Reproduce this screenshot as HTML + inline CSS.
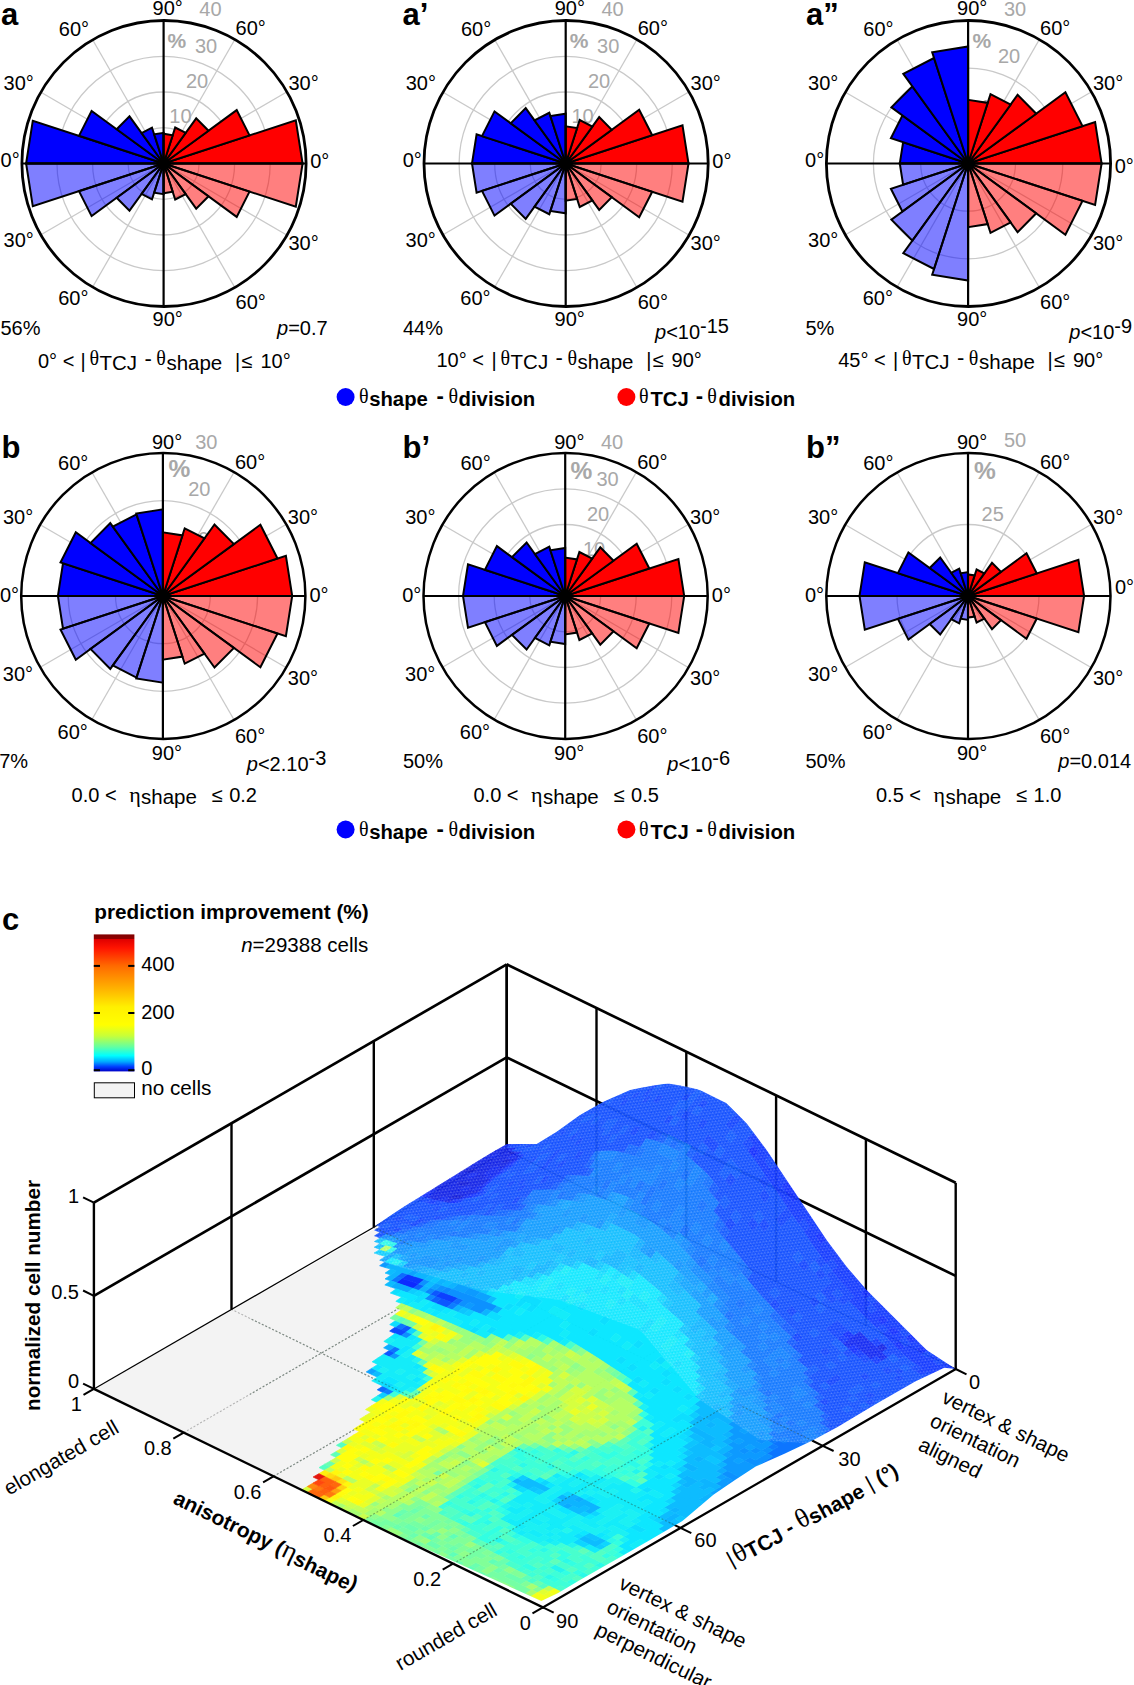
<!DOCTYPE html>
<html><head><meta charset="utf-8"><title>figure</title>
<style>
html,body{margin:0;padding:0;background:#fff;}
svg{display:block;font-family:"Liberation Sans", sans-serif;}
</style></head><body>
<svg width="1134" height="1685" viewBox="0 0 1134 1685">
<rect width="1134" height="1685" fill="#fff"/>
<g transform="translate(163.6 163.5)">
<ellipse rx="35.5" ry="35.8" fill="none" stroke="#c9c9c9" stroke-width="1.3"/>
<ellipse rx="71.0" ry="71.5" fill="none" stroke="#c9c9c9" stroke-width="1.3"/>
<ellipse rx="106.6" ry="107.2" fill="none" stroke="#c9c9c9" stroke-width="1.3"/>
<line x1="0" y1="0" x2="123.1" y2="-71.5" stroke="#c9c9c9" stroke-width="1.3"/>
<line x1="0" y1="0" x2="71.1" y2="-123.8" stroke="#c9c9c9" stroke-width="1.3"/>
<line x1="0" y1="0" x2="-71.0" y2="-123.8" stroke="#c9c9c9" stroke-width="1.3"/>
<line x1="0" y1="0" x2="-123.1" y2="-71.5" stroke="#c9c9c9" stroke-width="1.3"/>
<line x1="0" y1="0" x2="-123.1" y2="71.5" stroke="#c9c9c9" stroke-width="1.3"/>
<line x1="0" y1="0" x2="-71.1" y2="123.8" stroke="#c9c9c9" stroke-width="1.3"/>
<line x1="0" y1="0" x2="71.1" y2="123.8" stroke="#c9c9c9" stroke-width="1.3"/>
<line x1="0" y1="0" x2="123.1" y2="71.5" stroke="#c9c9c9" stroke-width="1.3"/>
<text x="35.7" y="-147.7" font-size="20" fill="#a8a8a8">40</text>
<text x="4.0" y="-116.0" font-size="21" font-weight="bold" fill="#a8a8a8">%</text>
<text x="31.4" y="-110.7" font-size="20" fill="#a8a8a8">30</text>
<text x="22.3" y="-75.4" font-size="20" fill="#a8a8a8">20</text>
<text x="5.7" y="-40.1" font-size="20" fill="#a8a8a8">10</text>
<polygon points="0,0 -137.5,-0.0 -130.8,-42.8" fill="#0000ff" stroke="#000" stroke-width="2" stroke-linejoin="miter"/>
<polygon points="0,0 -84.6,-27.7 -72.0,-52.6" fill="#0000ff" stroke="#000" stroke-width="2" stroke-linejoin="miter"/>
<polygon points="0,0 -46.9,-34.3 -34.1,-47.2" fill="#0000ff" stroke="#000" stroke-width="2" stroke-linejoin="miter"/>
<polygon points="0,0 -22.0,-30.5 -11.6,-35.9" fill="#0000ff" stroke="#000" stroke-width="2" stroke-linejoin="miter"/>
<polygon points="0,0 -9.4,-29.2 -0.0,-30.7" fill="#0000ff" stroke="#000" stroke-width="2" stroke-linejoin="miter"/>
<polygon points="0,0 -137.5,0.0 -130.8,42.8" fill="#0000ff" fill-opacity="0.5" stroke="#000" stroke-width="2" stroke-linejoin="miter"/>
<polygon points="0,0 -84.6,27.7 -72.0,52.6" fill="#0000ff" fill-opacity="0.5" stroke="#000" stroke-width="2" stroke-linejoin="miter"/>
<polygon points="0,0 -46.9,34.3 -34.1,47.2" fill="#0000ff" fill-opacity="0.5" stroke="#000" stroke-width="2" stroke-linejoin="miter"/>
<polygon points="0,0 -22.0,30.5 -11.6,35.9" fill="#0000ff" fill-opacity="0.5" stroke="#000" stroke-width="2" stroke-linejoin="miter"/>
<polygon points="0,0 -9.4,29.2 -0.0,30.7" fill="#0000ff" fill-opacity="0.5" stroke="#000" stroke-width="2" stroke-linejoin="miter"/>
<polygon points="0,0 139.0,-0.0 132.2,-43.2" fill="#ff0000" stroke="#000" stroke-width="2" stroke-linejoin="miter"/>
<polygon points="0,0 85.9,-28.1 73.1,-53.4" fill="#ff0000" stroke="#000" stroke-width="2" stroke-linejoin="miter"/>
<polygon points="0,0 44.9,-32.8 32.6,-45.2" fill="#ff0000" stroke="#000" stroke-width="2" stroke-linejoin="miter"/>
<polygon points="0,0 22.1,-30.6 11.6,-36.0" fill="#ff0000" stroke="#000" stroke-width="2" stroke-linejoin="miter"/>
<polygon points="0,0 9.1,-28.2 0.0,-29.7" fill="#ff0000" stroke="#000" stroke-width="2" stroke-linejoin="miter"/>
<polygon points="0,0 139.0,0.0 132.2,43.2" fill="#ff0000" fill-opacity="0.5" stroke="#000" stroke-width="2" stroke-linejoin="miter"/>
<polygon points="0,0 85.9,28.1 73.1,53.4" fill="#ff0000" fill-opacity="0.5" stroke="#000" stroke-width="2" stroke-linejoin="miter"/>
<polygon points="0,0 44.9,32.8 32.6,45.2" fill="#ff0000" fill-opacity="0.5" stroke="#000" stroke-width="2" stroke-linejoin="miter"/>
<polygon points="0,0 22.1,30.6 11.6,36.0" fill="#ff0000" fill-opacity="0.5" stroke="#000" stroke-width="2" stroke-linejoin="miter"/>
<polygon points="0,0 9.1,28.2 0.0,29.7" fill="#ff0000" fill-opacity="0.5" stroke="#000" stroke-width="2" stroke-linejoin="miter"/>
<line x1="-142.1" y1="0" x2="142.1" y2="0" stroke="#000" stroke-width="2.2"/>
<line x1="0" y1="-143.0" x2="0" y2="143.0" stroke="#000" stroke-width="2.2"/>
<circle r="4.2" fill="#000"/>
<ellipse cx="0.4" rx="142.1" ry="143.0" fill="none" stroke="#000" stroke-width="2.8"/>
<text x="-11.0" y="-148.7" font-size="20">90°</text>
<text x="-104.8" y="-127.6" font-size="20">60°</text>
<text x="-160.0" y="-73.4" font-size="20">30°</text>
<text x="-163.0" y="3.9" font-size="20">0°</text>
<text x="-160.1" y="83.3" font-size="20">30°</text>
<text x="-105.4" y="141.5" font-size="20">60°</text>
<text x="-11.1" y="162.3" font-size="20">90°</text>
<text x="72.0" y="145.0" font-size="20">60°</text>
<text x="124.9" y="86.8" font-size="20">30°</text>
<text x="146.6" y="4.1" font-size="20">0°</text>
<text x="124.9" y="-73.7" font-size="20">30°</text>
<text x="72.0" y="-128.3" font-size="20">60°</text>
</g>
<g transform="translate(565.7 163.5)">
<ellipse rx="35.5" ry="35.8" fill="none" stroke="#c9c9c9" stroke-width="1.3"/>
<ellipse rx="71.0" ry="71.5" fill="none" stroke="#c9c9c9" stroke-width="1.3"/>
<ellipse rx="106.6" ry="107.2" fill="none" stroke="#c9c9c9" stroke-width="1.3"/>
<line x1="0" y1="0" x2="123.1" y2="-71.5" stroke="#c9c9c9" stroke-width="1.3"/>
<line x1="0" y1="0" x2="71.1" y2="-123.8" stroke="#c9c9c9" stroke-width="1.3"/>
<line x1="0" y1="0" x2="-71.0" y2="-123.8" stroke="#c9c9c9" stroke-width="1.3"/>
<line x1="0" y1="0" x2="-123.1" y2="-71.5" stroke="#c9c9c9" stroke-width="1.3"/>
<line x1="0" y1="0" x2="-123.1" y2="71.5" stroke="#c9c9c9" stroke-width="1.3"/>
<line x1="0" y1="0" x2="-71.1" y2="123.8" stroke="#c9c9c9" stroke-width="1.3"/>
<line x1="0" y1="0" x2="71.1" y2="123.8" stroke="#c9c9c9" stroke-width="1.3"/>
<line x1="0" y1="0" x2="123.1" y2="71.5" stroke="#c9c9c9" stroke-width="1.3"/>
<text x="35.7" y="-147.7" font-size="20" fill="#a8a8a8">40</text>
<text x="4.0" y="-116.0" font-size="21" font-weight="bold" fill="#a8a8a8">%</text>
<text x="31.4" y="-110.7" font-size="20" fill="#a8a8a8">30</text>
<text x="22.3" y="-75.4" font-size="20" fill="#a8a8a8">20</text>
<text x="5.7" y="-40.1" font-size="20" fill="#a8a8a8">10</text>
<polygon points="0,0 -93.7,-0.0 -89.1,-29.1" fill="#0000ff" stroke="#000" stroke-width="2" stroke-linejoin="miter"/>
<polygon points="0,0 -83.7,-27.4 -71.2,-52.1" fill="#0000ff" stroke="#000" stroke-width="2" stroke-linejoin="miter"/>
<polygon points="0,0 -55.0,-40.2 -40.0,-55.4" fill="#0000ff" stroke="#000" stroke-width="2" stroke-linejoin="miter"/>
<polygon points="0,0 -31.2,-43.1 -16.4,-50.7" fill="#0000ff" stroke="#000" stroke-width="2" stroke-linejoin="miter"/>
<polygon points="0,0 -15.3,-47.4 -0.0,-49.8" fill="#0000ff" stroke="#000" stroke-width="2" stroke-linejoin="miter"/>
<polygon points="0,0 -93.7,0.0 -89.1,29.1" fill="#0000ff" fill-opacity="0.5" stroke="#000" stroke-width="2" stroke-linejoin="miter"/>
<polygon points="0,0 -83.7,27.4 -71.2,52.1" fill="#0000ff" fill-opacity="0.5" stroke="#000" stroke-width="2" stroke-linejoin="miter"/>
<polygon points="0,0 -55.0,40.2 -40.0,55.4" fill="#0000ff" fill-opacity="0.5" stroke="#000" stroke-width="2" stroke-linejoin="miter"/>
<polygon points="0,0 -31.2,43.1 -16.4,50.7" fill="#0000ff" fill-opacity="0.5" stroke="#000" stroke-width="2" stroke-linejoin="miter"/>
<polygon points="0,0 -15.3,47.4 -0.0,49.8" fill="#0000ff" fill-opacity="0.5" stroke="#000" stroke-width="2" stroke-linejoin="miter"/>
<polygon points="0,0 122.8,-0.0 116.8,-38.2" fill="#ff0000" stroke="#000" stroke-width="2" stroke-linejoin="miter"/>
<polygon points="0,0 86.5,-28.3 73.5,-53.8" fill="#ff0000" stroke="#000" stroke-width="2" stroke-linejoin="miter"/>
<polygon points="0,0 46.1,-33.7 33.5,-46.4" fill="#ff0000" stroke="#000" stroke-width="2" stroke-linejoin="miter"/>
<polygon points="0,0 26.7,-37.0 14.0,-43.5" fill="#ff0000" stroke="#000" stroke-width="2" stroke-linejoin="miter"/>
<polygon points="0,0 11.4,-35.4 0.0,-37.2" fill="#ff0000" stroke="#000" stroke-width="2" stroke-linejoin="miter"/>
<polygon points="0,0 122.8,0.0 116.8,38.2" fill="#ff0000" fill-opacity="0.5" stroke="#000" stroke-width="2" stroke-linejoin="miter"/>
<polygon points="0,0 86.5,28.3 73.5,53.8" fill="#ff0000" fill-opacity="0.5" stroke="#000" stroke-width="2" stroke-linejoin="miter"/>
<polygon points="0,0 46.1,33.7 33.5,46.4" fill="#ff0000" fill-opacity="0.5" stroke="#000" stroke-width="2" stroke-linejoin="miter"/>
<polygon points="0,0 26.7,37.0 14.0,43.5" fill="#ff0000" fill-opacity="0.5" stroke="#000" stroke-width="2" stroke-linejoin="miter"/>
<polygon points="0,0 11.4,35.4 0.0,37.2" fill="#ff0000" fill-opacity="0.5" stroke="#000" stroke-width="2" stroke-linejoin="miter"/>
<line x1="-142.1" y1="0" x2="142.1" y2="0" stroke="#000" stroke-width="2.2"/>
<line x1="0" y1="-143.0" x2="0" y2="143.0" stroke="#000" stroke-width="2.2"/>
<circle r="4.2" fill="#000"/>
<ellipse cx="0.4" rx="142.1" ry="143.0" fill="none" stroke="#000" stroke-width="2.8"/>
<text x="-11.0" y="-148.7" font-size="20">90°</text>
<text x="-104.8" y="-127.6" font-size="20">60°</text>
<text x="-160.0" y="-73.4" font-size="20">30°</text>
<text x="-163.0" y="3.9" font-size="20">0°</text>
<text x="-160.1" y="83.3" font-size="20">30°</text>
<text x="-105.4" y="141.5" font-size="20">60°</text>
<text x="-11.1" y="162.3" font-size="20">90°</text>
<text x="72.0" y="145.0" font-size="20">60°</text>
<text x="124.9" y="86.8" font-size="20">30°</text>
<text x="146.6" y="4.1" font-size="20">0°</text>
<text x="124.9" y="-73.7" font-size="20">30°</text>
<text x="72.0" y="-128.3" font-size="20">60°</text>
</g>
<g transform="translate(968.1 163.5)">
<ellipse rx="47.4" ry="47.7" fill="none" stroke="#c9c9c9" stroke-width="1.3"/>
<ellipse rx="94.7" ry="95.3" fill="none" stroke="#c9c9c9" stroke-width="1.3"/>
<line x1="0" y1="0" x2="123.1" y2="-71.5" stroke="#c9c9c9" stroke-width="1.3"/>
<line x1="0" y1="0" x2="71.1" y2="-123.8" stroke="#c9c9c9" stroke-width="1.3"/>
<line x1="0" y1="0" x2="-71.0" y2="-123.8" stroke="#c9c9c9" stroke-width="1.3"/>
<line x1="0" y1="0" x2="-123.1" y2="-71.5" stroke="#c9c9c9" stroke-width="1.3"/>
<line x1="0" y1="0" x2="-123.1" y2="71.5" stroke="#c9c9c9" stroke-width="1.3"/>
<line x1="0" y1="0" x2="-71.1" y2="123.8" stroke="#c9c9c9" stroke-width="1.3"/>
<line x1="0" y1="0" x2="71.1" y2="123.8" stroke="#c9c9c9" stroke-width="1.3"/>
<line x1="0" y1="0" x2="123.1" y2="71.5" stroke="#c9c9c9" stroke-width="1.3"/>
<text x="35.8" y="-147.8" font-size="20" fill="#a8a8a8">30</text>
<text x="4.5" y="-115.8" font-size="21" font-weight="bold" fill="#a8a8a8">%</text>
<text x="29.9" y="-100.9" font-size="20" fill="#a8a8a8">20</text>
<text x="12.0" y="-50.0" font-size="20" fill="#a8a8a8">10</text>
<polygon points="0,0 -68.3,-0.0 -65.0,-21.2" fill="#0000ff" stroke="#000" stroke-width="2" stroke-linejoin="miter"/>
<polygon points="0,0 -77.2,-25.3 -65.7,-48.0" fill="#0000ff" stroke="#000" stroke-width="2" stroke-linejoin="miter"/>
<polygon points="0,0 -76.7,-56.1 -55.7,-77.2" fill="#0000ff" stroke="#000" stroke-width="2" stroke-linejoin="miter"/>
<polygon points="0,0 -64.8,-89.7 -34.1,-105.5" fill="#0000ff" stroke="#000" stroke-width="2" stroke-linejoin="miter"/>
<polygon points="0,0 -35.9,-111.3 -0.0,-117.0" fill="#0000ff" stroke="#000" stroke-width="2" stroke-linejoin="miter"/>
<polygon points="0,0 -68.3,0.0 -65.0,21.2" fill="#0000ff" fill-opacity="0.5" stroke="#000" stroke-width="2" stroke-linejoin="miter"/>
<polygon points="0,0 -77.2,25.3 -65.7,48.0" fill="#0000ff" fill-opacity="0.5" stroke="#000" stroke-width="2" stroke-linejoin="miter"/>
<polygon points="0,0 -76.7,56.1 -55.7,77.2" fill="#0000ff" fill-opacity="0.5" stroke="#000" stroke-width="2" stroke-linejoin="miter"/>
<polygon points="0,0 -64.8,89.7 -34.1,105.5" fill="#0000ff" fill-opacity="0.5" stroke="#000" stroke-width="2" stroke-linejoin="miter"/>
<polygon points="0,0 -35.9,111.3 -0.0,117.0" fill="#0000ff" fill-opacity="0.5" stroke="#000" stroke-width="2" stroke-linejoin="miter"/>
<polygon points="0,0 133.5,-0.0 127.0,-41.5" fill="#ff0000" stroke="#000" stroke-width="2" stroke-linejoin="miter"/>
<polygon points="0,0 114.4,-37.4 97.3,-71.2" fill="#ff0000" stroke="#000" stroke-width="2" stroke-linejoin="miter"/>
<polygon points="0,0 68.1,-49.8 49.5,-68.6" fill="#ff0000" stroke="#000" stroke-width="2" stroke-linejoin="miter"/>
<polygon points="0,0 42.6,-59.0 22.4,-69.4" fill="#ff0000" stroke="#000" stroke-width="2" stroke-linejoin="miter"/>
<polygon points="0,0 19.6,-60.6 0.0,-63.7" fill="#ff0000" stroke="#000" stroke-width="2" stroke-linejoin="miter"/>
<polygon points="0,0 133.5,0.0 127.0,41.5" fill="#ff0000" fill-opacity="0.5" stroke="#000" stroke-width="2" stroke-linejoin="miter"/>
<polygon points="0,0 114.4,37.4 97.3,71.2" fill="#ff0000" fill-opacity="0.5" stroke="#000" stroke-width="2" stroke-linejoin="miter"/>
<polygon points="0,0 68.1,49.8 49.5,68.6" fill="#ff0000" fill-opacity="0.5" stroke="#000" stroke-width="2" stroke-linejoin="miter"/>
<polygon points="0,0 42.6,59.0 22.4,69.4" fill="#ff0000" fill-opacity="0.5" stroke="#000" stroke-width="2" stroke-linejoin="miter"/>
<polygon points="0,0 19.6,60.6 0.0,63.7" fill="#ff0000" fill-opacity="0.5" stroke="#000" stroke-width="2" stroke-linejoin="miter"/>
<line x1="-142.1" y1="0" x2="142.1" y2="0" stroke="#000" stroke-width="2.2"/>
<line x1="0" y1="-143.0" x2="0" y2="143.0" stroke="#000" stroke-width="2.2"/>
<circle r="4.2" fill="#000"/>
<ellipse cx="0.4" rx="142.1" ry="143.0" fill="none" stroke="#000" stroke-width="2.8"/>
<text x="-11.0" y="-148.7" font-size="20">90°</text>
<text x="-104.8" y="-127.6" font-size="20">60°</text>
<text x="-160.0" y="-73.4" font-size="20">30°</text>
<text x="-163.0" y="3.9" font-size="20">0°</text>
<text x="-160.1" y="83.3" font-size="20">30°</text>
<text x="-105.4" y="141.5" font-size="20">60°</text>
<text x="-11.1" y="162.3" font-size="20">90°</text>
<text x="72.0" y="145.0" font-size="20">60°</text>
<text x="124.9" y="86.8" font-size="20">30°</text>
<text x="146.6" y="9.1" font-size="20">0°</text>
<text x="124.9" y="-73.7" font-size="20">30°</text>
<text x="72.0" y="-128.3" font-size="20">60°</text>
</g>
<g transform="translate(162.9 596.0)">
<ellipse rx="47.4" ry="47.7" fill="none" stroke="#c9c9c9" stroke-width="1.3"/>
<ellipse rx="94.7" ry="95.3" fill="none" stroke="#c9c9c9" stroke-width="1.3"/>
<line x1="0" y1="0" x2="123.1" y2="-71.5" stroke="#c9c9c9" stroke-width="1.3"/>
<line x1="0" y1="0" x2="71.1" y2="-123.8" stroke="#c9c9c9" stroke-width="1.3"/>
<line x1="0" y1="0" x2="-71.0" y2="-123.8" stroke="#c9c9c9" stroke-width="1.3"/>
<line x1="0" y1="0" x2="-123.1" y2="-71.5" stroke="#c9c9c9" stroke-width="1.3"/>
<line x1="0" y1="0" x2="-123.1" y2="71.5" stroke="#c9c9c9" stroke-width="1.3"/>
<line x1="0" y1="0" x2="-71.1" y2="123.8" stroke="#c9c9c9" stroke-width="1.3"/>
<line x1="0" y1="0" x2="71.1" y2="123.8" stroke="#c9c9c9" stroke-width="1.3"/>
<line x1="0" y1="0" x2="123.1" y2="71.5" stroke="#c9c9c9" stroke-width="1.3"/>
<text x="32.3" y="-147.5" font-size="20" fill="#a8a8a8">30</text>
<text x="5.5" y="-119.0" font-size="24.5" font-weight="bold" fill="#a8a8a8">%</text>
<text x="25.3" y="-99.9" font-size="20" fill="#a8a8a8">20</text>
<text x="24.0" y="-50.5" font-size="20" fill="#a8a8a8">10</text>
<polygon points="0,0 -105.0,-0.0 -99.9,-32.7" fill="#0000ff" stroke="#000" stroke-width="2" stroke-linejoin="miter"/>
<polygon points="0,0 -102.4,-33.5 -87.1,-63.7" fill="#0000ff" stroke="#000" stroke-width="2" stroke-linejoin="miter"/>
<polygon points="0,0 -72.4,-52.9 -52.6,-72.9" fill="#0000ff" stroke="#000" stroke-width="2" stroke-linejoin="miter"/>
<polygon points="0,0 -50.1,-69.4 -26.4,-81.6" fill="#0000ff" stroke="#000" stroke-width="2" stroke-linejoin="miter"/>
<polygon points="0,0 -26.6,-82.5 -0.0,-86.7" fill="#0000ff" stroke="#000" stroke-width="2" stroke-linejoin="miter"/>
<polygon points="0,0 -105.0,0.0 -99.9,32.7" fill="#0000ff" fill-opacity="0.5" stroke="#000" stroke-width="2" stroke-linejoin="miter"/>
<polygon points="0,0 -102.4,33.5 -87.1,63.7" fill="#0000ff" fill-opacity="0.5" stroke="#000" stroke-width="2" stroke-linejoin="miter"/>
<polygon points="0,0 -72.4,52.9 -52.6,72.9" fill="#0000ff" fill-opacity="0.5" stroke="#000" stroke-width="2" stroke-linejoin="miter"/>
<polygon points="0,0 -50.1,69.4 -26.4,81.6" fill="#0000ff" fill-opacity="0.5" stroke="#000" stroke-width="2" stroke-linejoin="miter"/>
<polygon points="0,0 -26.6,82.5 -0.0,86.7" fill="#0000ff" fill-opacity="0.5" stroke="#000" stroke-width="2" stroke-linejoin="miter"/>
<polygon points="0,0 129.3,-0.0 123.0,-40.2" fill="#ff0000" stroke="#000" stroke-width="2" stroke-linejoin="miter"/>
<polygon points="0,0 114.6,-37.5 97.5,-71.3" fill="#ff0000" stroke="#000" stroke-width="2" stroke-linejoin="miter"/>
<polygon points="0,0 71.0,-51.9 51.6,-71.5" fill="#ff0000" stroke="#000" stroke-width="2" stroke-linejoin="miter"/>
<polygon points="0,0 41.6,-57.6 21.8,-67.7" fill="#ff0000" stroke="#000" stroke-width="2" stroke-linejoin="miter"/>
<polygon points="0,0 19.6,-60.6 0.0,-63.7" fill="#ff0000" stroke="#000" stroke-width="2" stroke-linejoin="miter"/>
<polygon points="0,0 129.3,0.0 123.0,40.2" fill="#ff0000" fill-opacity="0.5" stroke="#000" stroke-width="2" stroke-linejoin="miter"/>
<polygon points="0,0 114.6,37.5 97.5,71.3" fill="#ff0000" fill-opacity="0.5" stroke="#000" stroke-width="2" stroke-linejoin="miter"/>
<polygon points="0,0 71.0,51.9 51.6,71.5" fill="#ff0000" fill-opacity="0.5" stroke="#000" stroke-width="2" stroke-linejoin="miter"/>
<polygon points="0,0 41.6,57.6 21.8,67.7" fill="#ff0000" fill-opacity="0.5" stroke="#000" stroke-width="2" stroke-linejoin="miter"/>
<polygon points="0,0 19.6,60.6 0.0,63.7" fill="#ff0000" fill-opacity="0.5" stroke="#000" stroke-width="2" stroke-linejoin="miter"/>
<line x1="-142.1" y1="0" x2="142.1" y2="0" stroke="#000" stroke-width="2.2"/>
<line x1="0" y1="-143.0" x2="0" y2="143.0" stroke="#000" stroke-width="2.2"/>
<circle r="4.2" fill="#000"/>
<ellipse cx="0.4" rx="142.1" ry="143.0" fill="none" stroke="#000" stroke-width="2.5"/>
<text x="-11.0" y="-147.0" font-size="20">90°</text>
<text x="-104.8" y="-125.9" font-size="20">60°</text>
<text x="-160.0" y="-71.7" font-size="20">30°</text>
<text x="-163.0" y="5.6" font-size="20">0°</text>
<text x="-160.1" y="85.0" font-size="20">30°</text>
<text x="-105.4" y="143.2" font-size="20">60°</text>
<text x="-11.1" y="164.0" font-size="20">90°</text>
<text x="72.0" y="146.7" font-size="20">60°</text>
<text x="124.9" y="88.5" font-size="20">30°</text>
<text x="146.6" y="5.8" font-size="20">0°</text>
<text x="124.9" y="-72.0" font-size="20">30°</text>
<text x="72.0" y="-126.6" font-size="20">60°</text>
</g>
<g transform="translate(565.2 596.0)">
<ellipse rx="35.5" ry="35.8" fill="none" stroke="#c9c9c9" stroke-width="1.3"/>
<ellipse rx="71.0" ry="71.5" fill="none" stroke="#c9c9c9" stroke-width="1.3"/>
<ellipse rx="106.6" ry="107.2" fill="none" stroke="#c9c9c9" stroke-width="1.3"/>
<line x1="0" y1="0" x2="123.1" y2="-71.5" stroke="#c9c9c9" stroke-width="1.3"/>
<line x1="0" y1="0" x2="71.1" y2="-123.8" stroke="#c9c9c9" stroke-width="1.3"/>
<line x1="0" y1="0" x2="-71.0" y2="-123.8" stroke="#c9c9c9" stroke-width="1.3"/>
<line x1="0" y1="0" x2="-123.1" y2="-71.5" stroke="#c9c9c9" stroke-width="1.3"/>
<line x1="0" y1="0" x2="-123.1" y2="71.5" stroke="#c9c9c9" stroke-width="1.3"/>
<line x1="0" y1="0" x2="-71.1" y2="123.8" stroke="#c9c9c9" stroke-width="1.3"/>
<line x1="0" y1="0" x2="71.1" y2="123.8" stroke="#c9c9c9" stroke-width="1.3"/>
<line x1="0" y1="0" x2="123.1" y2="71.5" stroke="#c9c9c9" stroke-width="1.3"/>
<text x="35.8" y="-146.8" font-size="20" fill="#a8a8a8">40</text>
<text x="5.4" y="-117.0" font-size="24.5" font-weight="bold" fill="#a8a8a8">%</text>
<text x="31.3" y="-110.4" font-size="20" fill="#a8a8a8">30</text>
<text x="21.7" y="-75.2" font-size="20" fill="#a8a8a8">20</text>
<text x="17.8" y="-39.9" font-size="20" fill="#a8a8a8">10</text>
<polygon points="0,0 -102.2,-0.0 -97.2,-31.8" fill="#0000ff" stroke="#000" stroke-width="2" stroke-linejoin="miter"/>
<polygon points="0,0 -80.3,-26.2 -68.3,-49.9" fill="#0000ff" stroke="#000" stroke-width="2" stroke-linejoin="miter"/>
<polygon points="0,0 -53.2,-38.9 -38.6,-53.5" fill="#0000ff" stroke="#000" stroke-width="2" stroke-linejoin="miter"/>
<polygon points="0,0 -30.3,-41.9 -15.9,-49.3" fill="#0000ff" stroke="#000" stroke-width="2" stroke-linejoin="miter"/>
<polygon points="0,0 -14.8,-45.7 -0.0,-48.1" fill="#0000ff" stroke="#000" stroke-width="2" stroke-linejoin="miter"/>
<polygon points="0,0 -102.2,0.0 -97.2,31.8" fill="#0000ff" fill-opacity="0.5" stroke="#000" stroke-width="2" stroke-linejoin="miter"/>
<polygon points="0,0 -80.3,26.2 -68.3,49.9" fill="#0000ff" fill-opacity="0.5" stroke="#000" stroke-width="2" stroke-linejoin="miter"/>
<polygon points="0,0 -53.2,38.9 -38.6,53.5" fill="#0000ff" fill-opacity="0.5" stroke="#000" stroke-width="2" stroke-linejoin="miter"/>
<polygon points="0,0 -30.3,41.9 -15.9,49.3" fill="#0000ff" fill-opacity="0.5" stroke="#000" stroke-width="2" stroke-linejoin="miter"/>
<polygon points="0,0 -14.8,45.7 -0.0,48.1" fill="#0000ff" fill-opacity="0.5" stroke="#000" stroke-width="2" stroke-linejoin="miter"/>
<polygon points="0,0 119.0,-0.0 113.2,-37.0" fill="#ff0000" stroke="#000" stroke-width="2" stroke-linejoin="miter"/>
<polygon points="0,0 84.1,-27.5 71.5,-52.3" fill="#ff0000" stroke="#000" stroke-width="2" stroke-linejoin="miter"/>
<polygon points="0,0 48.3,-35.3 35.1,-48.6" fill="#ff0000" stroke="#000" stroke-width="2" stroke-linejoin="miter"/>
<polygon points="0,0 27.0,-37.5 14.2,-44.0" fill="#ff0000" stroke="#000" stroke-width="2" stroke-linejoin="miter"/>
<polygon points="0,0 11.8,-36.6 0.0,-38.4" fill="#ff0000" stroke="#000" stroke-width="2" stroke-linejoin="miter"/>
<polygon points="0,0 119.0,0.0 113.2,37.0" fill="#ff0000" fill-opacity="0.5" stroke="#000" stroke-width="2" stroke-linejoin="miter"/>
<polygon points="0,0 84.1,27.5 71.5,52.3" fill="#ff0000" fill-opacity="0.5" stroke="#000" stroke-width="2" stroke-linejoin="miter"/>
<polygon points="0,0 48.3,35.3 35.1,48.6" fill="#ff0000" fill-opacity="0.5" stroke="#000" stroke-width="2" stroke-linejoin="miter"/>
<polygon points="0,0 27.0,37.5 14.2,44.0" fill="#ff0000" fill-opacity="0.5" stroke="#000" stroke-width="2" stroke-linejoin="miter"/>
<polygon points="0,0 11.8,36.6 0.0,38.4" fill="#ff0000" fill-opacity="0.5" stroke="#000" stroke-width="2" stroke-linejoin="miter"/>
<line x1="-142.1" y1="0" x2="142.1" y2="0" stroke="#000" stroke-width="2.2"/>
<line x1="0" y1="-143.0" x2="0" y2="143.0" stroke="#000" stroke-width="2.2"/>
<circle r="4.2" fill="#000"/>
<ellipse cx="0.4" rx="142.1" ry="143.0" fill="none" stroke="#000" stroke-width="2.5"/>
<text x="-11.0" y="-147.0" font-size="20">90°</text>
<text x="-104.8" y="-125.9" font-size="20">60°</text>
<text x="-160.0" y="-71.7" font-size="20">30°</text>
<text x="-163.0" y="5.6" font-size="20">0°</text>
<text x="-160.1" y="85.0" font-size="20">30°</text>
<text x="-105.4" y="143.2" font-size="20">60°</text>
<text x="-11.1" y="164.0" font-size="20">90°</text>
<text x="72.0" y="146.7" font-size="20">60°</text>
<text x="124.9" y="88.5" font-size="20">30°</text>
<text x="146.6" y="5.8" font-size="20">0°</text>
<text x="124.9" y="-72.0" font-size="20">30°</text>
<text x="72.0" y="-126.6" font-size="20">60°</text>
</g>
<g transform="translate(968.0 596.0)">
<ellipse rx="71.0" ry="71.5" fill="none" stroke="#c9c9c9" stroke-width="1.3"/>
<line x1="0" y1="0" x2="123.1" y2="-71.5" stroke="#c9c9c9" stroke-width="1.3"/>
<line x1="0" y1="0" x2="71.1" y2="-123.8" stroke="#c9c9c9" stroke-width="1.3"/>
<line x1="0" y1="0" x2="-71.0" y2="-123.8" stroke="#c9c9c9" stroke-width="1.3"/>
<line x1="0" y1="0" x2="-123.1" y2="-71.5" stroke="#c9c9c9" stroke-width="1.3"/>
<line x1="0" y1="0" x2="-123.1" y2="71.5" stroke="#c9c9c9" stroke-width="1.3"/>
<line x1="0" y1="0" x2="-71.1" y2="123.8" stroke="#c9c9c9" stroke-width="1.3"/>
<line x1="0" y1="0" x2="71.1" y2="123.8" stroke="#c9c9c9" stroke-width="1.3"/>
<line x1="0" y1="0" x2="123.1" y2="71.5" stroke="#c9c9c9" stroke-width="1.3"/>
<text x="36.0" y="-148.7" font-size="20" fill="#a8a8a8">50</text>
<text x="6.0" y="-117.5" font-size="24.5" font-weight="bold" fill="#a8a8a8">%</text>
<text x="13.6" y="-75.1" font-size="20" fill="#a8a8a8">25</text>
<polygon points="0,0 -108.5,-0.0 -103.2,-33.7" fill="#0000ff" stroke="#000" stroke-width="2" stroke-linejoin="miter"/>
<polygon points="0,0 -70.1,-22.9 -59.6,-43.6" fill="#0000ff" stroke="#000" stroke-width="2" stroke-linejoin="miter"/>
<polygon points="0,0 -38.3,-28.0 -27.8,-38.5" fill="#0000ff" stroke="#000" stroke-width="2" stroke-linejoin="miter"/>
<polygon points="0,0 -16.8,-23.2 -8.8,-27.3" fill="#0000ff" stroke="#000" stroke-width="2" stroke-linejoin="miter"/>
<polygon points="0,0 -7.3,-22.7 -0.0,-23.9" fill="#0000ff" stroke="#000" stroke-width="2" stroke-linejoin="miter"/>
<polygon points="0,0 -108.5,0.0 -103.2,33.7" fill="#0000ff" fill-opacity="0.5" stroke="#000" stroke-width="2" stroke-linejoin="miter"/>
<polygon points="0,0 -70.1,22.9 -59.6,43.6" fill="#0000ff" fill-opacity="0.5" stroke="#000" stroke-width="2" stroke-linejoin="miter"/>
<polygon points="0,0 -38.3,28.0 -27.8,38.5" fill="#0000ff" fill-opacity="0.5" stroke="#000" stroke-width="2" stroke-linejoin="miter"/>
<polygon points="0,0 -16.8,23.2 -8.8,27.3" fill="#0000ff" fill-opacity="0.5" stroke="#000" stroke-width="2" stroke-linejoin="miter"/>
<polygon points="0,0 -7.3,22.7 -0.0,23.9" fill="#0000ff" fill-opacity="0.5" stroke="#000" stroke-width="2" stroke-linejoin="miter"/>
<polygon points="0,0 116.1,-0.0 110.4,-36.1" fill="#ff0000" stroke="#000" stroke-width="2" stroke-linejoin="miter"/>
<polygon points="0,0 68.8,-22.5 58.5,-42.8" fill="#ff0000" stroke="#000" stroke-width="2" stroke-linejoin="miter"/>
<polygon points="0,0 33.0,-24.1 24.0,-33.2" fill="#ff0000" stroke="#000" stroke-width="2" stroke-linejoin="miter"/>
<polygon points="0,0 16.3,-22.6 8.6,-26.5" fill="#ff0000" stroke="#000" stroke-width="2" stroke-linejoin="miter"/>
<polygon points="0,0 6.6,-20.6 0.0,-21.6" fill="#ff0000" stroke="#000" stroke-width="2" stroke-linejoin="miter"/>
<polygon points="0,0 116.1,0.0 110.4,36.1" fill="#ff0000" fill-opacity="0.5" stroke="#000" stroke-width="2" stroke-linejoin="miter"/>
<polygon points="0,0 68.8,22.5 58.5,42.8" fill="#ff0000" fill-opacity="0.5" stroke="#000" stroke-width="2" stroke-linejoin="miter"/>
<polygon points="0,0 33.0,24.1 24.0,33.2" fill="#ff0000" fill-opacity="0.5" stroke="#000" stroke-width="2" stroke-linejoin="miter"/>
<polygon points="0,0 16.3,22.6 8.6,26.5" fill="#ff0000" fill-opacity="0.5" stroke="#000" stroke-width="2" stroke-linejoin="miter"/>
<polygon points="0,0 6.6,20.6 0.0,21.6" fill="#ff0000" fill-opacity="0.5" stroke="#000" stroke-width="2" stroke-linejoin="miter"/>
<line x1="-142.1" y1="0" x2="142.1" y2="0" stroke="#000" stroke-width="2.2"/>
<line x1="0" y1="-143.0" x2="0" y2="143.0" stroke="#000" stroke-width="2.2"/>
<circle r="4.2" fill="#000"/>
<ellipse cx="0.4" rx="142.1" ry="143.0" fill="none" stroke="#000" stroke-width="2.5"/>
<text x="-11.0" y="-147.0" font-size="20">90°</text>
<text x="-104.8" y="-125.9" font-size="20">60°</text>
<text x="-160.0" y="-71.7" font-size="20">30°</text>
<text x="-163.0" y="5.6" font-size="20">0°</text>
<text x="-160.1" y="85.0" font-size="20">30°</text>
<text x="-105.4" y="143.2" font-size="20">60°</text>
<text x="-11.1" y="164.0" font-size="20">90°</text>
<text x="72.0" y="146.7" font-size="20">60°</text>
<text x="124.9" y="88.5" font-size="20">30°</text>
<text x="147.0" y="-1.9" font-size="20">0°</text>
<text x="124.9" y="-72.0" font-size="20">30°</text>
<text x="72.0" y="-126.6" font-size="20">60°</text>
</g>
<text x="1.0" y="24.8" font-size="31" font-weight="bold">a</text>
<text x="402.5" y="25.0" font-size="31" font-weight="bold">a’</text>
<text x="806.0" y="24.8" font-size="31" font-weight="bold">a”</text>
<text x="1.5" y="458.0" font-size="31" font-weight="bold">b</text>
<text x="402.5" y="458.0" font-size="31" font-weight="bold">b’</text>
<text x="806.0" y="458.0" font-size="31" font-weight="bold">b”</text>
<text x="2.0" y="930.0" font-size="31" font-weight="bold">c</text>
<text x="0.5" y="334.8" font-size="20">56%</text>
<text x="402.9" y="334.8" font-size="20">44%</text>
<text x="805.5" y="334.8" font-size="20">5%</text>
<text x="-0.8" y="767.6" font-size="20">7%</text>
<text x="402.9" y="767.6" font-size="20">50%</text>
<text x="805.5" y="767.6" font-size="20">50%</text>
<text x="277.0" y="334.8" font-size="20"><tspan font-style="italic">p</tspan>=0.7</text>
<text x="655.0" y="339.0" font-size="20"><tspan font-style="italic">p</tspan>&lt;10<tspan dy="-6">-15</tspan></text>
<text x="1069.3" y="339.0" font-size="20"><tspan font-style="italic">p</tspan>&lt;10<tspan dy="-6">-9</tspan></text>
<text x="246.8" y="770.5" font-size="20"><tspan font-style="italic">p</tspan>&lt;2.10<tspan dy="-6">-3</tspan></text>
<text x="667.3" y="770.5" font-size="20"><tspan font-style="italic">p</tspan>&lt;10<tspan dy="-6">-6</tspan></text>
<text x="1058.3" y="767.6" font-size="20"><tspan font-style="italic">p</tspan>=0.014</text>
<text x="38.0" y="367.5" font-size="20">0° &lt;</text>
<text x="80.4" y="367.5" font-size="20">|</text>
<text x="89.4" y="365.2" font-size="20" font-family='"Liberation Serif", serif'>θ</text>
<text x="99.4" y="369.7" font-size="20.5">TCJ</text>
<text x="144.4" y="365.7" font-size="22">-</text>
<text x="156.2" y="365.2" font-size="20" font-family='"Liberation Serif", serif'>θ</text>
<text x="166.4" y="369.7" font-size="20.5">shape</text>
<text x="235.0" y="367.5" font-size="20">|</text>
<text x="241.2" y="367.5" font-size="20">≤</text>
<text x="260.4" y="367.5" font-size="20">10°</text>
<text x="436.4" y="367.0" font-size="20">10° &lt;</text>
<text x="491.6" y="367.0" font-size="20">|</text>
<text x="500.6" y="364.7" font-size="20" font-family='"Liberation Serif", serif'>θ</text>
<text x="510.6" y="369.2" font-size="20.5">TCJ</text>
<text x="555.6" y="365.2" font-size="22">-</text>
<text x="567.4" y="364.7" font-size="20" font-family='"Liberation Serif", serif'>θ</text>
<text x="577.6" y="369.2" font-size="20.5">shape</text>
<text x="646.2" y="367.0" font-size="20">|</text>
<text x="652.4" y="367.0" font-size="20">≤</text>
<text x="671.6" y="367.0" font-size="20">90°</text>
<text x="838.2" y="367.0" font-size="20">45° &lt;</text>
<text x="893.0" y="367.0" font-size="20">|</text>
<text x="902.0" y="364.7" font-size="20" font-family='"Liberation Serif", serif'>θ</text>
<text x="912.0" y="369.2" font-size="20.5">TCJ</text>
<text x="957.0" y="365.2" font-size="22">-</text>
<text x="968.8" y="364.7" font-size="20" font-family='"Liberation Serif", serif'>θ</text>
<text x="979.0" y="369.2" font-size="20.5">shape</text>
<text x="1047.6" y="367.0" font-size="20">|</text>
<text x="1053.8" y="367.0" font-size="20">≤</text>
<text x="1073.0" y="367.0" font-size="20">90°</text>
<text x="71.6" y="802.0" font-size="20">0.0 &lt;</text>
<text x="129.2" y="801.5" font-size="22" font-family='"Liberation Serif", serif'>η</text>
<text x="141.0" y="803.5" font-size="20.5">shape</text>
<text x="211.6" y="802.0" font-size="20">≤</text>
<text x="229.2" y="802.0" font-size="20">0.2</text>
<text x="473.5" y="802.0" font-size="20">0.0 &lt;</text>
<text x="531.1" y="801.5" font-size="22" font-family='"Liberation Serif", serif'>η</text>
<text x="542.9" y="803.5" font-size="20.5">shape</text>
<text x="613.5" y="802.0" font-size="20">≤</text>
<text x="631.1" y="802.0" font-size="20">0.5</text>
<text x="876.0" y="802.0" font-size="20">0.5 &lt;</text>
<text x="933.6" y="801.5" font-size="22" font-family='"Liberation Serif", serif'>η</text>
<text x="945.4" y="803.5" font-size="20.5">shape</text>
<text x="1016.0" y="802.0" font-size="20">≤</text>
<text x="1033.6" y="802.0" font-size="20">1.0</text>
<circle cx="345.6" cy="397.0" r="9" fill="#0000ff"/>
<text x="359.0" y="403.4" font-size="20" font-family='"Liberation Serif", serif'>θ</text>
<text x="369.2" y="406.0" font-size="20.3" font-weight="bold">shape</text>
<text x="436.5" y="403.2" font-size="22" font-weight="bold">-</text>
<text x="448.5" y="403.4" font-size="20" font-family='"Liberation Serif", serif'>θ</text>
<text x="458.6" y="406.0" font-size="20.3" font-weight="bold">division</text>
<circle cx="626.4" cy="397.0" r="9" fill="#ff0000"/>
<text x="639.0" y="403.4" font-size="20" font-family='"Liberation Serif", serif'>θ</text>
<text x="650.4" y="406.0" font-size="20.3" font-weight="bold">TCJ</text>
<text x="695.8" y="403.2" font-size="22" font-weight="bold">-</text>
<text x="707.3" y="403.4" font-size="20" font-family='"Liberation Serif", serif'>θ</text>
<text x="718.6" y="406.0" font-size="20.3" font-weight="bold">division</text>
<circle cx="345.6" cy="829.5" r="9" fill="#0000ff"/>
<text x="359.0" y="835.9" font-size="20" font-family='"Liberation Serif", serif'>θ</text>
<text x="369.2" y="838.5" font-size="20.3" font-weight="bold">shape</text>
<text x="436.5" y="835.7" font-size="22" font-weight="bold">-</text>
<text x="448.5" y="835.9" font-size="20" font-family='"Liberation Serif", serif'>θ</text>
<text x="458.6" y="838.5" font-size="20.3" font-weight="bold">division</text>
<circle cx="626.4" cy="829.5" r="9" fill="#ff0000"/>
<text x="639.0" y="835.9" font-size="20" font-family='"Liberation Serif", serif'>θ</text>
<text x="650.4" y="838.5" font-size="20.3" font-weight="bold">TCJ</text>
<text x="695.8" y="835.7" font-size="22" font-weight="bold">-</text>
<text x="707.3" y="835.9" font-size="20" font-family='"Liberation Serif", serif'>θ</text>
<text x="718.6" y="838.5" font-size="20.3" font-weight="bold">division</text>
<polygon points="93.9,1388.9 325.0,1501.0 323.3,1495.0 321.7,1483.3 331.7,1470.0 343.3,1456.7 353.3,1443.3 366.7,1430.0 371.7,1418.3 383.3,1406.7 388.3,1393.3 386.7,1380.0 378.3,1371.7 386.7,1360.0 396.7,1350.0 400.0,1336.7 403.3,1323.3 406.7,1310.0 406.7,1296.7 400.0,1283.3 396.7,1270.0 391.7,1263.3 388.3,1250.0 390.0,1236.7 385.0,1223.0" fill="#f3f3f3"/>
<line x1="453.1" y1="1563.7" x2="865.9" y2="1325.3" stroke="#b4b4b4" stroke-width="1.1" stroke-dasharray="2 1.8"/>
<line x1="363.3" y1="1520.0" x2="776.1" y2="1281.6" stroke="#b4b4b4" stroke-width="1.1" stroke-dasharray="2 1.8"/>
<line x1="273.5" y1="1476.3" x2="686.3" y2="1237.9" stroke="#b4b4b4" stroke-width="1.1" stroke-dasharray="2 1.8"/>
<line x1="183.7" y1="1432.6" x2="596.5" y2="1194.2" stroke="#b4b4b4" stroke-width="1.1" stroke-dasharray="2 1.8"/>
<line x1="680.5" y1="1527.9" x2="231.5" y2="1309.4" stroke="#b4b4b4" stroke-width="1.1" stroke-dasharray="2 1.8"/>
<line x1="822.8" y1="1445.8" x2="373.8" y2="1227.3" stroke="#b4b4b4" stroke-width="1.1" stroke-dasharray="2 1.8"/>
<line x1="93.9" y1="1388.9" x2="93.9" y2="1202.7" stroke="#000" stroke-width="2.4"/>
<line x1="231.5" y1="1309.4" x2="231.5" y2="1123.2" stroke="#000" stroke-width="2.4"/>
<line x1="373.8" y1="1227.3" x2="373.8" y2="1041.1" stroke="#000" stroke-width="2.4"/>
<line x1="506.7" y1="1150.5" x2="506.7" y2="964.3" stroke="#000" stroke-width="2.4"/>
<line x1="93.9" y1="1295.8" x2="506.7" y2="1057.4" stroke="#000" stroke-width="2.7"/>
<line x1="93.9" y1="1202.7" x2="506.7" y2="964.3" stroke="#000" stroke-width="2.7"/>
<line x1="93.9" y1="1388.9" x2="506.7" y2="1150.5" stroke="#000" stroke-width="1.2"/>
<line x1="955.7" y1="1369.0" x2="955.7" y2="1182.8" stroke="#000" stroke-width="2.4"/>
<line x1="865.9" y1="1325.3" x2="865.9" y2="1139.1" stroke="#000" stroke-width="2.4"/>
<line x1="776.1" y1="1281.6" x2="776.1" y2="1095.4" stroke="#000" stroke-width="2.4"/>
<line x1="686.3" y1="1237.9" x2="686.3" y2="1051.7" stroke="#000" stroke-width="2.4"/>
<line x1="596.5" y1="1194.2" x2="596.5" y2="1008.0" stroke="#000" stroke-width="2.4"/>
<line x1="506.7" y1="1150.5" x2="506.7" y2="964.3" stroke="#000" stroke-width="2.4"/>
<line x1="955.7" y1="1275.9" x2="506.7" y2="1057.4" stroke="#000" stroke-width="2.7"/>
<line x1="955.7" y1="1182.8" x2="506.7" y2="964.3" stroke="#000" stroke-width="2.7"/>
<line x1="955.7" y1="1369.0" x2="506.7" y2="1150.5" stroke="#000" stroke-width="1.2"/>
<line x1="680.5" y1="1527.9" x2="669.7" y2="1522.7" stroke="#000" stroke-width="2.0"/>
<line x1="822.8" y1="1445.8" x2="812.0" y2="1440.5" stroke="#000" stroke-width="2.0"/>
<clipPath id="surfclip"><polygon points="374.5,1226.5 403.3,1206.7 436.7,1181.7 463.3,1166.7 490.0,1153.3 506.7,1144.0 536.7,1144.0 556.7,1131.7 580.0,1115.0 603.3,1101.7 630.0,1090.0 650.0,1085.5 667.7,1083.5 685.0,1085.5 700.0,1090.0 726.7,1103.3 746.7,1123.3 766.7,1150.0 786.7,1180.0 806.7,1210.0 826.7,1240.0 846.7,1266.7 866.7,1290.0 886.7,1310.0 906.7,1330.0 926.7,1350.0 955.7,1369.0 944.3,1367.8 915.2,1381.4 876.4,1403.7 837.6,1427.0 812.4,1440.6 785.0,1453.5 755.7,1466.6 735.0,1480.0 713.4,1494.8 682.4,1521.0 650.0,1540.0 614.7,1560.3 580.0,1580.0 558.2,1593.0 541.3,1601.0 300.0,1492.0 250.0,1470.0 250.0,1290.0 374.5,1226.5"/></clipPath>
<g clip-path="url(#surfclip)" opacity="0.95"><g stroke-width="0.7" stroke-linejoin="round">
<path fill="#000cd8" stroke="#000cd8" d="M511.9 1155.0l-5.6-.2l5.8-3.7l5.6 .1zM466.4 1172.6l-5.6-.7l5.8-3.5l5.6 .5zM506.1 1163.0l-5.6-.3l5.7-3.9l5.6 .3zM472.1 1173.2l-5.7-.6l5.8-3.7l5.6 .5zM460.5 1185.4l-5.6-1.0l5.7-3.7l5.6 .8zM466.1 1186.3l-5.6-.9l5.7-3.9l5.6 .8zM454.5 1199.3l-5.6-1.2l5.7-3.9l5.6 1.1zM460.1 1199.3l-5.6 .0l5.7-4.0l5.6-.2z"/>
<path fill="#0012e5" stroke="#0012e5" d="M500.8 1150.9l-5.6-.1l5.8-3.4l5.6 .0zM506.5 1151.0l-5.7-.1l5.8-3.5l5.6 .1zM495.1 1154.5l-5.6-.2l5.7-3.5l5.6 .1zM500.7 1154.6l-5.6-.1l5.7-3.6l5.7 .1zM489.4 1158.0l-5.6-.2l5.7-3.5l5.6 .2zM506.3 1154.8l-5.6-.2l5.8-3.6l5.6 .1zM483.6 1161.6l-5.6-.3l5.8-3.5l5.6 .2zM500.6 1158.5l-5.6-.2l5.7-3.7l5.6 .2zM489.3 1162.0l-5.7-.4l5.8-3.6l5.6 .3zM477.9 1165.3l-5.6-.5l5.7-3.5l5.6 .3zM506.2 1158.8l-5.6-.3l5.7-3.7l5.6 .2zM494.9 1162.3l-5.6-.3l5.7-3.7l5.6 .2zM483.5 1165.7l-5.6-.4l5.7-3.7l5.7 .4zM472.2 1168.9l-5.6-.5l5.7-3.6l5.6 .5zM500.5 1162.7l-5.6-.4l5.7-3.8l5.6 .3zM489.1 1166.1l-5.6-.4l5.8-3.7l5.6 .3zM477.8 1169.4l-5.6-.5l5.7-3.6l5.6 .4zM517.4 1157.3l-5.6 1.8l5.8-3.9l5.6-2.0zM494.7 1166.6l-5.6-.5l5.8-3.8l5.6 .4zM483.4 1170.0l-5.6-.6l5.7-3.7l5.6 .4zM460.7 1176.2l-5.6-.7l5.7-3.6l5.6 .7zM511.7 1161.4l-5.6 1.6l5.7-3.9l5.6-1.8zM500.4 1167.0l-5.7-.4l5.8-3.9l5.6 .3zM489.0 1170.5l-5.6-.5l5.7-3.9l5.6 .5zM477.7 1173.8l-5.6-.6l5.7-3.8l5.6 .6zM466.3 1176.9l-5.6-.7l5.7-3.6l5.7 .6zM517.3 1158.6l-5.6 2.8l5.7-4.1l5.7-3.0zM506.0 1165.5l-5.6 1.5l5.7-4.0l5.6-1.6zM483.3 1174.4l-5.6-.6l5.7-3.8l5.6 .5zM460.6 1180.7l-5.6-.8l5.7-3.7l5.6 .7zM449.2 1183.5l-5.6-.9l5.8-3.6l5.6 .9zM500.2 1169.7l-5.6 1.3l5.8-4.0l5.6-1.5zM477.5 1178.4l-5.7-.7l5.8-3.9l5.6 .6zM466.2 1181.5l-5.6-.8l5.7-3.8l5.6 .8zM454.9 1184.4l-5.7-.9l5.8-3.6l5.6 .8zM443.5 1187.2l-5.6-1.1l5.7-3.5l5.6 .9zM483.2 1179.1l-5.6-.7l5.7-4.0l5.6 .7zM471.8 1182.3l-5.6-.8l5.7-3.8l5.7 .7zM449.1 1188.2l-5.6-1.0l5.7-3.7l5.7 .9zM437.8 1190.8l-5.6-1.1l5.7-3.6l5.6 1.1zM477.4 1183.2l-5.6-.9l5.8-3.9l5.6 .7zM454.7 1189.2l-5.6-1.0l5.8-3.8l5.6 1.0zM443.4 1191.9l-5.6-1.1l5.7-3.6l5.6 1.0zM483.0 1182.4l-5.6 .8l5.8-4.1l5.6-.9zM471.7 1187.2l-5.6-.9l5.7-4.0l5.6 .9zM460.3 1190.3l-5.7-1.1l5.8-3.8l5.6 .9zM449.0 1193.1l-5.6-1.2l5.7-3.7l5.6 1.0zM437.7 1195.7l-5.7-1.3l5.8-3.6l5.6 1.1zM488.7 1180.8l-5.7 1.6l5.8-4.2l5.6-1.9zM477.3 1186.7l-5.6 .5l5.7-4.0l5.6-.8zM454.6 1194.2l-5.6-1.1l5.7-3.9l5.7 1.1zM443.3 1196.9l-5.6-1.2l5.7-3.8l5.6 1.2zM431.9 1199.4l-5.6-1.3l5.7-3.7l5.7 1.3zM482.9 1185.3l-5.6 1.4l5.7-4.3l5.7-1.6zM471.6 1190.9l-5.6 .4l5.7-4.1l5.6-.5zM460.2 1195.3l-5.6-1.1l5.8-3.9l5.6 1.0zM448.9 1198.1l-5.6-1.2l5.7-3.8l5.6 1.1zM437.5 1200.7l-5.6-1.3l5.8-3.7l5.6 1.2zM465.8 1195.1l-5.6 .2l5.8-4.0l5.6-.4zM471.5 1194.2l-5.7 .9l5.8-4.2l5.6-1.2zM448.8 1203.3l-5.6-1.3l5.7-3.9l5.6 1.2zM477.1 1193.2l-5.6 1.0l5.7-4.5l5.6-1.1zM882.1 1352.2l-5.6-5.3l5.8-3.8l5.6 5.4z"/>
<path fill="#0018f2" stroke="#0018f2" d="M506.6 1147.4l-5.6 .0l5.7-3.4l5.6 .0zM512.1 1151.1l-5.6-.1l5.7-3.5l5.6 .0zM495.0 1158.3l-5.6-.3l5.7-3.5l5.6 .1zM517.6 1155.2l-5.7-.2l5.8-3.8l5.6 .1zM511.8 1159.1l-5.6-.3l5.7-3.8l5.7 .2zM455.0 1179.9l-5.6-.9l5.7-3.5l5.6 .7zM494.6 1171.0l-5.6-.5l5.7-3.9l5.7 .4zM471.9 1177.7l-5.6-.8l5.8-3.7l5.6 .6zM511.6 1163.0l-5.6 2.5l5.7-4.1l5.6-2.8zM488.9 1175.1l-5.6-.7l5.7-3.9l5.6 .5zM517.2 1160.4l-5.6 2.6l5.7-4.4l5.6-2.7zM505.9 1167.4l-5.7 2.3l5.8-4.2l5.6-2.5zM494.5 1173.9l-5.6 1.2l5.7-4.1l5.6-1.3zM500.1 1171.9l-5.6 2.0l5.7-4.2l5.7-2.3zM488.8 1178.2l-5.6 .9l5.7-4.0l5.6-1.2zM432.0 1194.4l-5.6-1.2l5.8-3.5l5.6 1.1zM494.4 1176.3l-5.6 1.9l5.7-4.3l5.6-2.0zM466.0 1191.3l-5.6-1.0l5.7-4.0l5.6 .9zM477.2 1189.7l-5.6 1.2l5.7-4.2l5.6-1.4zM443.1 1202.0l-5.7-1.3l5.8-3.8l5.6 1.2zM482.8 1188.6l-5.6 1.1l5.7-4.4l5.6-1.4zM465.7 1198.6l-5.6 .7l5.7-4.2l5.7-.9zM859.6 1340.4l-5.6-5.2l5.7-4.1l5.6 5.3zM865.2 1345.6l-5.6-5.2l5.7-4.0l5.6 5.2zM853.8 1344.5l-5.6-5.1l5.8-4.2l5.6 5.2zM870.8 1350.8l-5.6-5.2l5.7-4.0l5.6 5.3zM859.4 1349.6l-5.6-5.1l5.8-4.1l5.6 5.2zM848.1 1348.6l-5.6-5.0l5.7-4.2l5.6 5.1zM876.4 1355.9l-5.6-5.1l5.7-3.9l5.6 5.3zM865.1 1354.6l-5.7-5.0l5.8-4.0l5.6 5.2zM882.0 1361.1l-5.6-5.2l5.7-3.7l5.6 5.3zM870.7 1359.7l-5.6-5.1l5.7-3.8l5.6 5.1z"/>
<path fill="#001eff" stroke="#001eff" d="M511.5 1165.1l-5.6 2.3l5.7-4.4l5.6-2.6zM426.3 1198.1l-5.6-1.3l5.7-3.6l5.6 1.2zM500.0 1174.5l-5.6 1.8l5.7-4.4l5.6-2.1zM488.5 1183.9l-5.6 1.4l5.8-4.5l5.6-1.6zM454.4 1203.5l-5.6-.2l5.7-4.0l5.6 .0zM471.3 1197.9l-5.6 .7l5.8-4.4l5.6-1.0zM401.8 1284.6l-5.6-2.0l5.7-4.2l5.6 1.8zM407.4 1286.5l-5.6-1.9l5.7-4.4l5.7 1.9zM753.4 1158.2l-5.6-7.3l5.7-6.0l5.6 7.5zM413.0 1288.4l-5.6-1.9l5.8-4.4l5.6 1.9zM787.2 1193.8l-5.6-8.4l5.7-4.5l5.6 8.4zM792.8 1202.1l-5.6-8.3l5.7-4.5l5.7 8.4zM820.9 1243.9l-5.6-8.4l5.7-4.1l5.6 8.5zM865.8 1298.5l-5.6-5.7l5.7-3.7l5.6 5.7zM882.5 1324.6l-5.6-5.6l5.7-3.8l5.6 5.6zM893.7 1335.6l-5.6-5.5l5.7-3.7l5.7 5.6zM910.7 1343.2l-5.6-5.6l5.7-3.5l5.6 5.6zM848.2 1339.4l-5.6-5.0l5.7-4.3l5.7 5.1zM921.9 1354.0l-5.6-5.2l5.7-3.4l5.6 5.3zM899.2 1350.2l-5.6-5.4l5.7-3.7l5.6 5.6zM853.7 1353.6l-5.6-5.0l5.7-4.1l5.6 5.1z"/>
<path fill="#002aff" stroke="#002aff" d="M523.1 1154.3l-5.7 3.0l5.8-4.1l5.6-3.1zM522.9 1155.9l-5.6 2.7l5.8-4.3l5.6-3.0zM505.7 1169.8l-5.6 2.1l5.8-4.5l5.6-2.3zM511.3 1167.6l-5.6 2.2l5.8-4.7l5.6-2.4zM494.3 1179.2l-5.6 1.6l5.7-4.5l5.6-1.8zM431.8 1204.5l-5.6-1.4l5.7-3.7l5.6 1.3zM482.7 1192.2l-5.6 1.0l5.7-4.6l5.6-1.3zM460.0 1203.0l-5.6 .5l5.7-4.2l5.6-.7zM476.9 1197.1l-5.6 .8l5.8-4.7l5.6-1.0zM407.5 1280.2l-5.6-1.8l5.8-4.3l5.6 1.8zM753.5 1144.9l-5.6-7.4l5.7-4.9l5.7 7.5zM413.2 1282.1l-5.7-1.9l5.8-4.3l5.6 1.7zM759.1 1152.4l-5.6-7.5l5.8-4.8l5.6 7.5zM418.8 1284.0l-5.6-1.9l5.7-4.5l5.6 1.8zM764.8 1160.4l-5.7-8.0l5.8-4.8l5.6 8.1zM759.0 1166.2l-5.6-8.0l5.7-5.8l5.7 8.0zM776.0 1177.1l-5.6-8.4l5.7-4.6l5.6 8.4zM764.6 1174.4l-5.6-8.2l5.8-5.8l5.6 8.3zM781.6 1185.4l-5.6-8.3l5.7-4.6l5.6 8.4zM770.2 1182.6l-5.6-8.2l5.8-5.7l5.6 8.4zM775.9 1190.8l-5.7-8.2l5.8-5.5l5.6 8.3zM781.5 1199.1l-5.6-8.3l5.7-5.4l5.6 8.4zM798.4 1210.5l-5.6-8.4l5.8-4.4l5.6 8.5zM787.1 1207.3l-5.6-8.2l5.7-5.3l5.6 8.3zM804.0 1218.8l-5.6-8.3l5.8-4.3l5.6 8.4zM792.7 1215.6l-5.6-8.3l5.7-5.2l5.6 8.4zM809.7 1227.2l-5.7-8.4l5.8-4.2l5.6 8.4zM798.3 1223.8l-5.6-8.2l5.7-5.1l5.6 8.3zM815.3 1235.5l-5.6-8.3l5.7-4.2l5.6 8.4zM809.5 1240.3l-5.6-8.3l5.8-4.8l5.6 8.3zM826.5 1251.4l-5.6-7.5l5.7-4.0l5.6 7.5zM815.1 1248.5l-5.6-8.2l5.8-4.8l5.6 8.4zM832.1 1258.8l-5.6-7.4l5.7-4.0l5.6 7.5zM820.8 1255.9l-5.7-7.4l5.8-4.6l5.6 7.5zM837.7 1266.3l-5.6-7.5l5.7-3.9l5.6 7.5zM826.4 1263.3l-5.6-7.4l5.7-4.5l5.6 7.4zM843.3 1273.3l-5.6-7.0l5.7-3.9l5.7 7.1zM848.9 1279.8l-5.6-6.5l5.8-3.8l5.6 6.5zM837.6 1277.6l-5.6-7.0l5.7-4.3l5.6 7.0zM854.6 1286.3l-5.7-6.5l5.8-3.8l5.6 6.5zM843.2 1284.0l-5.6-6.4l5.7-4.3l5.6 6.5zM860.2 1292.8l-5.6-6.5l5.7-3.8l5.6 6.6zM848.8 1290.4l-5.6-6.4l5.7-4.2l5.7 6.5zM854.4 1296.8l-5.6-6.4l5.8-4.1l5.6 6.5zM860.0 1302.5l-5.6-5.7l5.8-4.0l5.6 5.7zM877.0 1309.7l-5.6-5.6l5.7-3.7l5.6 5.6zM865.7 1308.0l-5.7-5.5l5.8-4.0l5.6 5.6zM854.3 1306.6l-5.6-5.6l5.7-4.2l5.6 5.7zM882.6 1315.2l-5.6-5.5l5.7-3.7l5.7 5.7zM859.9 1312.1l-5.6-5.5l5.7-4.1l5.7 5.5zM888.2 1320.8l-5.6-5.6l5.8-3.5l5.6 5.6zM876.9 1319.0l-5.6-5.5l5.7-3.8l5.6 5.5zM865.5 1317.5l-5.6-5.4l5.8-4.1l5.6 5.5zM893.8 1326.4l-5.6-5.6l5.8-3.5l5.6 5.6zM871.1 1323.0l-5.6-5.5l5.8-4.0l5.6 5.5zM899.5 1332.0l-5.7-5.6l5.8-3.5l5.6 5.6zM888.1 1330.1l-5.6-5.5l5.7-3.8l5.6 5.6zM876.8 1328.4l-5.7-5.4l5.8-4.0l5.6 5.6zM899.3 1341.1l-5.6-5.5l5.8-3.6l5.6 5.6zM888.0 1339.3l-5.6-5.4l5.7-3.8l5.6 5.5zM916.3 1348.8l-5.6-5.6l5.7-3.5l5.6 5.7zM893.6 1344.8l-5.6-5.5l5.7-3.7l5.6 5.5zM910.6 1352.2l-5.7-5.5l5.8-3.5l5.6 5.6zM876.5 1346.9l-5.6-5.3l5.7-3.9l5.7 5.4zM842.5 1343.6l-5.6-4.9l5.7-4.3l5.6 5.0zM916.2 1357.4l-5.6-5.2l5.7-3.4l5.6 5.2zM904.8 1355.7l-5.6-5.5l5.7-3.5l5.7 5.5zM933.1 1361.3l-5.6-3.6l5.7-3.4l5.7 3.7zM921.8 1361.1l-5.6-3.7l5.7-3.4l5.6 3.7zM910.4 1360.9l-5.6-5.2l5.8-3.5l5.6 5.2zM927.4 1364.7l-5.6-3.6l5.7-3.4l5.6 3.6zM916.0 1364.5l-5.6-3.6l5.8-3.5l5.6 3.7zM859.3 1358.5l-5.6-4.9l5.7-4.0l5.7 5.0zM944.4 1368.7l-5.7-3.7l5.8-3.3l5.6 3.6zM933.0 1368.3l-5.6-3.6l5.7-3.4l5.6 3.7zM921.7 1368.1l-5.7-3.6l5.8-3.4l5.6 3.6zM876.3 1364.8l-5.6-5.1l5.7-3.8l5.6 5.2zM950.0 1372.3l-5.6-3.6l5.7-3.4l5.6 3.7zM938.6 1372.0l-5.6-3.7l5.7-3.3l5.7 3.7zM927.3 1371.7l-5.6-3.6l5.7-3.4l5.6 3.6zM944.2 1375.6l-5.6-3.6l5.8-3.3l5.6 3.6zM932.9 1375.3l-5.6-3.6l5.7-3.4l5.6 3.7zM921.5 1375.1l-5.6-3.6l5.8-3.4l5.6 3.6zM938.5 1378.9l-5.6-3.6l5.7-3.3l5.6 3.6z"/>
<path fill="#0036ff" stroke="#0036ff" d="M512.2 1147.5l-5.6-.1l5.7-3.4l5.6 .0zM517.8 1147.5l-5.6 .0l5.7-3.5l5.6 .0zM529.0 1147.6l-5.6 .0l5.8-3.5l5.6 .0zM540.0 1143.8l-5.6 3.1l5.7-4.2l5.6-3.4zM573.9 1119.4l-5.6 3.9l5.7-4.0l5.7-4.0zM551.2 1136.5l-5.6 3.6l5.8-4.6l5.6-3.8zM522.8 1157.9l-5.6 2.5l5.7-4.5l5.6-2.8zM517.1 1162.7l-5.6 2.4l5.7-4.7l5.6-2.5zM556.7 1134.6l-5.6 3.4l5.7-5.1l5.7-3.7zM420.6 1201.7l-5.6-1.4l5.7-3.5l5.6 1.3zM562.3 1131.8l-5.6 2.8l5.8-5.4l5.6-2.9zM505.6 1172.6l-5.6 1.9l5.7-4.7l5.6-2.2zM426.2 1203.1l-5.6-1.4l5.7-3.6l5.6 1.3zM562.2 1135.1l-5.6 2.5l5.7-5.8l5.7-2.7zM437.4 1205.9l-5.6-1.4l5.7-3.8l5.7 1.3zM601.9 1107.2l-5.6 2.3l5.7-5.3l5.6-2.4zM437.3 1211.3l-5.6-1.5l5.7-3.9l5.6 1.4zM533.7 1161.8l-5.6 1.7l5.7-5.9l5.6-1.9zM397.5 1221.4l-5.6-1.8l5.7-3.5l5.7 1.7zM482.6 1196.1l-5.7 1.0l5.8-4.9l5.6-1.2zM624.3 1099.5l-5.6 .9l5.7-5.8l5.7-.9zM420.1 1223.0l-5.6-1.7l5.7-3.8l5.6 1.6zM573.2 1140.1l-5.6 1.5l5.7-6.8l5.6-1.7zM459.7 1211.4l-5.6 .1l5.8-4.5l5.6-.3zM437.1 1220.2l-5.7-.3l5.8-4.1l5.6 .1zM414.4 1226.8l-5.7-1.8l5.8-3.7l5.6 1.7zM635.5 1097.8l-5.6 .8l5.8-5.8l5.6-1.0zM624.2 1105.2l-5.6 .8l5.7-6.5l5.6-.9zM556.1 1155.6l-5.6 1.2l5.7-6.8l5.7-1.4zM510.7 1186.4l-5.6 .8l5.8-5.9l5.6-1.0zM397.3 1232.5l-5.6-1.9l5.7-3.7l5.6 1.9zM652.5 1089.9l-5.6 1.0l5.7-4.8l5.6-1.0zM550.4 1162.6l-5.6 1.0l5.7-6.8l5.6-1.2zM646.8 1096.0l-5.6 .9l5.7-6.0l5.6-1.0zM578.7 1144.7l-5.6 1.3l5.7-7.3l5.6-1.5zM544.7 1169.6l-5.7 .9l5.8-6.9l5.6-1.0zM522.0 1184.8l-5.6 .8l5.7-6.3l5.6-1.0zM646.6 1102.1l-5.6 .8l5.8-6.9l5.6-.8zM521.8 1190.6l-5.6 .6l5.8-6.4l5.6-.8zM561.5 1167.5l-5.6 .7l5.7-7.4l5.6-.9zM657.9 1103.2l-5.6-1.2l5.7-7.0l5.6 1.1zM578.5 1159.1l-5.7-.1l5.8-7.8l5.6 .0zM544.4 1182.9l-5.6 .3l5.7-7.1l5.7-.5zM516.0 1203.8l-5.6-.1l5.7-6.5l5.6 .0zM686.1 1100.9l-5.7-1.2l5.8-6.3l5.6 1.1zM634.9 1135.7l-5.6-1.4l5.8-8.5l5.6 1.4zM702.9 1108.6l-5.6-2.8l5.7-6.4l5.6 2.8zM668.9 1124.1l-5.7-1.3l5.8-8.2l5.6 1.3zM685.8 1120.8l-5.6-2.8l5.7-7.8l5.7 2.8zM651.8 1140.0l-5.6-1.4l5.7-8.7l5.6 1.4zM736.7 1124.0l-5.6-5.6l5.7-5.0l5.6 5.7zM702.7 1129.2l-5.7-2.8l5.8-7.8l5.6 2.8zM731.0 1130.2l-5.7-5.5l5.8-6.3l5.6 5.6zM708.1 1147.5l-5.6-5.3l5.8-8.1l5.6 5.3zM747.8 1150.9l-5.6-7.3l5.7-6.1l5.6 7.4zM713.8 1152.8l-5.7-5.3l5.8-8.1l5.6 5.4zM770.4 1168.7l-5.6-8.3l5.7-4.7l5.6 8.4zM764.5 1188.8l-5.6-8.1l5.7-6.3l5.6 8.2zM730.5 1187.0l-5.6-6.8l5.7-7.8l5.6 6.9zM441.1 1298.6l-5.6-2.1l5.7-4.7l5.6 1.9zM764.4 1203.2l-5.6-7.9l5.7-6.5l5.6 8.0zM446.7 1300.6l-5.6-2.0l5.7-4.9l5.6 2.0zM452.3 1302.8l-5.6-2.2l5.7-4.9l5.7 2.2zM787.0 1221.1l-5.7-8.1l5.8-5.7l5.6 8.3zM803.9 1232.0l-5.6-8.2l5.7-5.0l5.7 8.4zM781.2 1227.0l-5.6-7.9l5.7-6.1l5.7 8.1zM764.1 1232.0l-5.7-7.6l5.8-6.7l5.6 7.7zM752.8 1231.3l-5.6-7.4l5.7-7.0l5.6 7.5zM730.1 1231.5l-5.6-7.0l5.7-7.6l5.6 7.1zM832.0 1270.6l-5.6-7.3l5.7-4.5l5.6 7.5zM820.6 1268.0l-5.6-7.2l5.8-4.9l5.6 7.4zM803.6 1271.2l-5.7-7.0l5.8-5.4l5.6 7.1zM831.9 1282.1l-5.7-6.9l5.8-4.6l5.6 7.0zM820.5 1280.1l-5.6-7.1l5.7-5.0l5.6 7.2zM837.5 1288.4l-5.6-6.3l5.7-4.5l5.6 6.4zM843.1 1294.7l-5.6-6.3l5.7-4.4l5.6 6.4zM831.7 1293.0l-5.6-6.2l5.8-4.7l5.6 6.3zM871.4 1304.1l-5.6-5.6l5.7-3.7l5.6 5.6zM848.7 1301.0l-5.6-6.3l5.7-4.3l5.6 6.4zM826.0 1297.7l-5.6-6.1l5.7-4.8l5.6 6.2zM843.0 1305.4l-5.6-6.2l5.7-4.5l5.6 6.3zM831.6 1303.8l-5.6-6.1l5.7-4.7l5.7 6.2zM871.3 1313.5l-5.6-5.5l5.7-3.9l5.6 5.6zM814.5 1307.4l-5.6-5.8l5.8-5.0l5.6 5.9zM774.8 1310.3l-5.6-5.9l5.7-5.6l5.6 6.1zM791.7 1316.8l-5.6-5.8l5.7-5.3l5.7 6.0zM905.1 1337.6l-5.6-5.6l5.7-3.5l5.6 5.6zM882.4 1333.9l-5.6-5.5l5.7-3.8l5.6 5.5zM837.0 1329.3l-5.6-5.1l5.7-4.5l5.6 5.2zM842.6 1334.4l-5.6-5.1l5.7-4.4l5.6 5.2zM831.3 1333.7l-5.7-5.0l5.8-4.5l5.6 5.1zM904.9 1346.7l-5.6-5.6l5.8-3.5l5.6 5.6zM836.9 1338.7l-5.6-5.0l5.7-4.4l5.6 5.1zM887.9 1348.5l-5.6-5.4l5.7-3.8l5.6 5.5zM797.1 1342.3l-5.6-5.2l5.7-4.7l5.6 5.2zM927.5 1357.7l-5.6-3.7l5.7-3.3l5.6 3.6zM893.5 1353.8l-5.6-5.3l5.7-3.7l5.6 5.4zM899.1 1359.2l-5.6-5.4l5.7-3.6l5.6 5.5zM887.7 1357.5l-5.6-5.3l5.8-3.7l5.6 5.3zM938.7 1365.0l-5.6-3.7l5.8-3.3l5.6 3.7zM848.0 1357.6l-5.6-4.9l5.7-4.1l5.6 5.0zM825.3 1356.3l-5.6-4.6l5.7-4.4l5.6 4.8zM864.9 1363.5l-5.6-5.0l5.8-3.9l5.6 5.1zM915.9 1371.5l-5.6-3.6l5.7-3.4l5.7 3.6zM898.8 1374.8l-5.6-3.6l5.8-3.4l5.6 3.5zM887.5 1374.7l-5.6-4.8l5.7-3.6l5.6 4.9zM927.2 1378.7l-5.7-3.6l5.8-3.4l5.6 3.6zM932.8 1382.2l-5.6-3.5l5.7-3.4l5.6 3.6zM898.7 1381.7l-5.6-3.5l5.7-3.4l5.7 3.5zM864.7 1380.6l-5.6-4.7l5.7-3.7l5.6 4.9zM836.3 1382.5l-5.6-4.5l5.7-3.9l5.6 4.6zM830.5 1386.2l-5.6-4.3l5.8-3.9l5.6 4.5zM870.1 1398.8l-5.7-3.3l5.8-3.5l5.6 3.4zM869.9 1405.5l-5.6-3.3l5.8-3.4l5.6 3.3zM824.6 1405.6l-5.7-4.1l5.8-3.6l5.6 4.1zM886.9 1408.7l-5.6-3.3l5.7-3.3l5.6 3.3zM841.2 1428.8l-5.7-3.1l5.8-3.4l5.6 3.2z"/>
<path fill="#0042ff" stroke="#0042ff" d="M523.4 1147.6l-5.6-.1l5.7-3.5l5.7 .1zM517.7 1151.2l-5.6-.1l5.7-3.6l5.6 .1zM534.6 1145.5l-5.6 2.1l5.8-3.5l5.6-2.2zM523.3 1151.3l-5.6-.1l5.7-3.6l5.6 .0zM540.3 1142.0l-5.7 3.5l5.8-3.6l5.6-3.5zM545.9 1138.6l-5.6 3.4l5.7-3.6l5.6-3.5zM534.5 1146.0l-5.6 3.3l5.7-3.8l5.7-3.5zM523.2 1153.2l-5.6 2.0l5.7-3.9l5.6-2.0zM551.5 1135.2l-5.6 3.4l5.7-3.7l5.6-3.5zM540.1 1142.7l-5.6 3.3l5.8-4.0l5.6-3.4zM528.8 1150.1l-5.6 3.1l5.7-3.9l5.6-3.3zM557.1 1131.2l-5.6 4.0l5.7-3.8l5.6-4.0zM545.7 1139.3l-5.6 3.4l5.8-4.1l5.6-3.4zM534.4 1146.9l-5.6 3.2l5.7-4.1l5.6-3.3zM562.7 1127.3l-5.6 3.9l5.7-3.8l5.6-4.1zM551.4 1135.5l-5.7 3.8l5.8-4.1l5.6-4.0zM528.7 1151.3l-5.6 3.0l5.7-4.2l5.6-3.2zM568.3 1123.3l-5.6 4.0l5.7-4.0l5.6-4.0zM557.0 1131.7l-5.6 3.8l5.7-4.3l5.6-3.9zM545.6 1140.1l-5.6 3.7l5.7-4.5l5.7-3.8zM539.9 1144.9l-5.6 3.4l5.7-4.5l5.6-3.7zM528.5 1153.1l-5.6 2.8l5.8-4.6l5.6-3.0zM579.5 1116.2l-5.6 3.2l5.8-4.1l5.6-3.3zM568.2 1124.1l-5.6 3.8l5.7-4.6l5.6-3.9zM556.8 1132.9l-5.6 3.6l5.8-4.8l5.6-3.8zM545.5 1141.5l-5.6 3.4l5.7-4.8l5.6-3.6zM534.2 1149.8l-5.7 3.3l5.8-4.8l5.6-3.4zM585.2 1113.0l-5.7 3.2l5.8-4.2l5.6-3.2zM573.8 1121.0l-5.6 3.1l5.7-4.7l5.6-3.2zM562.5 1129.2l-5.7 3.7l5.8-5.0l5.6-3.8zM551.1 1138.0l-5.6 3.5l5.7-5.0l5.6-3.6zM539.8 1146.6l-5.6 3.2l5.7-4.9l5.6-3.4zM528.4 1154.9l-5.6 3.0l5.7-4.8l5.7-3.3zM590.8 1109.9l-5.6 3.1l5.7-4.2l5.6-3.2zM579.4 1118.0l-5.6 3.0l5.7-4.8l5.7-3.2zM568.1 1126.3l-5.6 2.9l5.7-5.1l5.6-3.1zM545.4 1143.4l-5.6 3.2l5.7-5.1l5.6-3.5zM534.0 1151.9l-5.6 3.0l5.8-5.1l5.6-3.2zM522.7 1160.0l-5.6 2.7l5.7-4.8l5.6-3.0zM596.4 1106.7l-5.6 3.2l5.7-4.3l5.6-3.2zM585.0 1115.0l-5.6 3.0l5.8-5.0l5.6-3.1zM573.7 1123.4l-5.6 2.9l5.7-5.3l5.6-3.0zM551.0 1140.2l-5.6 3.2l5.7-5.4l5.6-3.4zM539.6 1148.9l-5.6 3.0l5.8-5.3l5.6-3.2zM528.3 1157.2l-5.6 2.8l5.7-5.1l5.6-3.0zM517.0 1165.1l-5.7 2.5l5.8-4.9l5.6-2.7zM414.8 1205.3l-5.6-1.5l5.8-3.5l5.6 1.4zM602.0 1104.2l-5.6 2.5l5.7-4.3l5.6-2.6zM590.6 1111.9l-5.6 3.1l5.8-5.1l5.6-3.2zM579.3 1120.5l-5.6 2.9l5.7-5.4l5.6-3.0zM568.0 1129.1l-5.7 2.7l5.8-5.5l5.6-2.9zM556.6 1137.6l-5.6 2.6l5.7-5.6l5.6-2.8zM545.3 1145.9l-5.7 3.0l5.8-5.5l5.6-3.2zM533.9 1154.5l-5.6 2.7l5.7-5.3l5.6-3.0zM522.6 1162.6l-5.6 2.5l5.7-5.1l5.6-2.8zM511.2 1170.3l-5.6 2.3l5.7-5.0l5.7-2.5zM499.9 1177.5l-5.6 1.7l5.7-4.7l5.6-1.9zM420.5 1206.8l-5.7-1.5l5.8-3.6l5.6 1.4zM409.1 1208.9l-5.6-1.6l5.7-3.5l5.6 1.5zM607.6 1101.8l-5.6 2.4l5.7-4.4l5.6-2.5zM596.3 1109.5l-5.7 2.4l5.8-5.2l5.6-2.5zM584.9 1117.6l-5.6 2.9l5.7-5.5l5.6-3.1zM573.6 1126.4l-5.6 2.7l5.7-5.7l5.6-2.9zM550.9 1143.5l-5.6 2.4l5.7-5.7l5.6-2.6zM539.5 1151.7l-5.6 2.8l5.7-5.6l5.7-3.0zM528.2 1160.1l-5.6 2.5l5.7-5.4l5.6-2.7zM516.8 1168.0l-5.6 2.3l5.8-5.2l5.6-2.5zM494.1 1182.4l-5.6 1.5l5.8-4.7l5.6-1.7zM426.1 1208.3l-5.6-1.5l5.7-3.7l5.6 1.4zM414.7 1210.5l-5.6-1.6l5.7-3.6l5.7 1.5zM403.4 1212.5l-5.6-1.7l5.7-3.5l5.6 1.6zM613.2 1099.4l-5.6 2.4l5.7-4.5l5.7-2.4zM590.5 1115.3l-5.6 2.3l5.7-5.7l5.7-2.4zM579.2 1123.7l-5.6 2.7l5.7-5.9l5.6-2.9zM567.8 1132.6l-5.6 2.5l5.8-6.0l5.6-2.7zM556.5 1141.2l-5.6 2.3l5.7-5.9l5.6-2.5zM533.8 1157.6l-5.6 2.5l5.7-5.6l5.6-2.8zM522.4 1165.8l-5.6 2.2l5.8-5.4l5.6-2.5zM511.1 1173.5l-5.6 2.0l5.7-5.2l5.6-2.3zM499.8 1180.7l-5.7 1.7l5.8-4.9l5.6-2.0zM488.4 1187.3l-5.6 1.3l5.7-4.7l5.6-1.5zM443.0 1207.3l-5.6-1.4l5.8-3.9l5.6 1.3zM431.7 1209.8l-5.6-1.5l5.7-3.8l5.6 1.4zM420.3 1212.1l-5.6-1.6l5.8-3.7l5.6 1.5zM409.0 1214.1l-5.6-1.6l5.7-3.6l5.6 1.6zM397.6 1216.1l-5.6-1.8l5.8-3.5l5.6 1.7zM618.8 1097.0l-5.6 2.4l5.8-4.5l5.6-2.5zM596.1 1113.2l-5.6 2.1l5.8-5.8l5.6-2.3zM573.4 1130.0l-5.6 2.6l5.8-6.2l5.6-2.7zM562.1 1138.9l-5.6 2.3l5.7-6.1l5.6-2.5zM550.8 1147.5l-5.7 2.1l5.8-6.1l5.6-2.3zM539.4 1155.7l-5.6 1.9l5.7-5.9l5.6-2.1zM528.1 1163.5l-5.7 2.3l5.8-5.7l5.6-2.5zM516.7 1171.5l-5.6 2.0l5.7-5.5l5.6-2.2zM505.4 1178.9l-5.6 1.8l5.7-5.2l5.6-2.0zM494.0 1185.8l-5.6 1.5l5.7-4.9l5.7-1.7zM448.6 1207.6l-5.6-.3l5.8-4.0l5.6 .2zM425.9 1213.6l-5.7-1.5l5.8-3.8l5.6 1.5zM414.6 1215.8l-5.6-1.7l5.7-3.6l5.6 1.6zM403.3 1217.8l-5.7-1.7l5.8-3.6l5.6 1.6zM391.9 1219.6l-5.6-1.8l5.7-3.5l5.6 1.8zM624.4 1094.6l-5.6 2.4l5.8-4.6l5.6-2.4zM613.1 1102.6l-5.6 2.3l5.7-5.5l5.6-2.4zM601.8 1111.0l-5.7 2.2l5.8-6.0l5.6-2.3zM579.1 1128.1l-5.7 1.9l5.8-6.3l5.6-2.1zM567.7 1136.6l-5.6 2.3l5.7-6.3l5.6-2.6zM556.4 1145.3l-5.6 2.2l5.7-6.3l5.6-2.3zM545.0 1153.8l-5.6 1.9l5.7-6.1l5.7-2.1zM522.3 1169.5l-5.6 2.0l5.7-5.7l5.7-2.3zM499.6 1184.3l-5.6 1.5l5.8-5.1l5.6-1.8zM488.3 1191.0l-5.6 1.2l5.7-4.9l5.6-1.5zM465.6 1202.5l-5.6 .5l5.7-4.4l5.6-.7zM454.3 1207.3l-5.7 .3l5.8-4.1l5.6-.5zM431.6 1215.2l-5.6-1.6l5.7-3.8l5.6 1.5zM420.2 1217.5l-5.6-1.7l5.7-3.7l5.7 1.5zM386.2 1223.2l-5.6-1.9l5.7-3.5l5.6 1.8zM630.1 1093.7l-5.7 .9l5.8-4.6l5.6-1.0zM618.7 1100.4l-5.6 2.2l5.7-5.6l5.6-2.4zM607.4 1108.9l-5.6 2.1l5.7-6.1l5.6-2.3zM596.0 1117.5l-5.6 2.0l5.7-6.3l5.7-2.2zM584.7 1126.2l-5.6 1.9l5.7-6.5l5.6-2.1zM562.0 1143.2l-5.6 2.1l5.7-6.4l5.6-2.3zM550.6 1151.9l-5.6 1.9l5.8-6.3l5.6-2.2zM527.9 1168.0l-5.6 1.5l5.8-6.0l5.6-1.7zM516.6 1175.4l-5.6 1.8l5.7-5.7l5.6-2.0zM505.2 1182.8l-5.6 1.5l5.8-5.4l5.6-1.7zM471.2 1201.9l-5.6 .6l5.7-4.6l5.6-.8zM459.9 1207.0l-5.6 .3l5.7-4.3l5.6-.5zM448.5 1211.6l-5.6 .1l5.7-4.1l5.7-.3zM437.2 1215.8l-5.6-.6l5.7-3.9l5.6 .4zM425.8 1219.1l-5.6-1.6l5.8-3.9l5.6 1.6zM403.1 1223.2l-5.6-1.8l5.8-3.6l5.6 1.7zM391.8 1225.0l-5.6-1.8l5.7-3.6l5.6 1.8zM380.4 1226.7l-5.6-1.9l5.8-3.5l5.6 1.9zM635.7 1092.8l-5.6 .9l5.7-4.7l5.6-1.0zM613.0 1106.7l-5.6 2.2l5.7-6.3l5.6-2.2zM601.6 1115.5l-5.6 2.0l5.8-6.5l5.6-2.1zM590.3 1124.4l-5.6 1.8l5.7-6.7l5.6-2.0zM578.9 1133.1l-5.6 1.7l5.8-6.7l5.6-1.9zM567.6 1141.6l-5.6 1.6l5.7-6.6l5.6-1.8zM556.2 1150.0l-5.6 1.9l5.8-6.6l5.6-2.1zM522.2 1174.2l-5.6 1.2l5.7-5.9l5.6-1.5zM510.9 1181.3l-5.7 1.5l5.8-5.6l5.6-1.8zM499.5 1188.5l-5.6 1.2l5.7-5.4l5.6-1.5zM465.5 1206.7l-5.6 .3l5.7-4.5l5.6-.6zM454.1 1211.5l-5.6 .1l5.8-4.3l5.6-.3zM442.8 1215.9l-5.6-.1l5.7-4.1l5.6-.1zM431.4 1219.9l-5.6-.8l5.8-3.9l5.6 .6zM408.7 1225.0l-5.6-1.8l5.8-3.7l5.6 1.8zM397.4 1226.9l-5.6-1.9l5.7-3.6l5.6 1.8zM641.3 1091.8l-5.6 1.0l5.7-4.8l5.6-.9zM629.9 1098.6l-5.6 .9l5.8-5.8l5.6-.9zM618.6 1106.0l-5.6 .7l5.7-6.3l5.6-.9zM607.2 1113.6l-5.6 1.9l5.8-6.6l5.6-2.2zM584.5 1131.4l-5.7 1.7l5.8-6.9l5.6-1.8zM561.9 1148.6l-5.7 1.4l5.8-6.8l5.6-1.6zM550.5 1156.8l-5.6 1.7l5.7-6.6l5.6-1.9zM539.2 1165.1l-5.6 1.4l5.7-6.3l5.6-1.7zM516.5 1180.3l-5.6 1.0l5.7-5.9l5.6-1.2zM505.1 1187.2l-5.6 1.3l5.7-5.7l5.7-1.5zM493.8 1194.0l-5.6 1.0l5.7-5.3l5.6-1.2zM482.4 1200.3l-5.6 .8l5.8-5.0l5.6-1.1zM471.1 1206.1l-5.6 .6l5.7-4.8l5.6-.8zM448.4 1216.0l-5.6-.1l5.7-4.3l5.6-.1zM425.7 1223.9l-5.6-.9l5.7-3.9l5.6 .8zM391.7 1230.6l-5.6-2.0l5.7-3.6l5.6 1.9zM380.3 1232.2l-5.6-2.0l5.7-3.5l5.7 1.9zM646.9 1090.9l-5.6 .9l5.7-4.7l5.6-1.0zM612.9 1112.9l-5.7 .7l5.8-6.9l5.6-.7zM601.5 1120.7l-5.6 1.8l5.7-7.0l5.6-1.9zM590.2 1129.8l-5.6 1.6l5.7-7.0l5.6-1.9zM578.8 1138.7l-5.6 1.4l5.7-7.0l5.7-1.7zM567.5 1147.3l-5.6 1.3l5.7-7.0l5.6-1.5zM544.8 1163.6l-5.6 1.5l5.7-6.6l5.6-1.7zM522.1 1179.3l-5.6 1.0l5.7-6.1l5.6-1.3zM499.4 1193.0l-5.6 1.0l5.7-5.5l5.6-1.3zM488.0 1199.5l-5.6 .8l5.8-5.3l5.6-1.0zM476.7 1205.6l-5.6 .5l5.7-5.0l5.6-.8zM465.4 1211.1l-5.7 .3l5.8-4.7l5.6-.6zM454.0 1216.1l-5.6-.1l5.7-4.5l5.6-.1zM442.7 1220.4l-5.6-.2l5.7-4.3l5.6 .1zM385.9 1234.2l-5.6-2.0l5.8-3.6l5.6 2.0zM641.2 1096.9l-5.7 .9l5.8-6.0l5.6-.9zM629.8 1104.4l-5.6 .8l5.7-6.6l5.6-.8zM618.5 1112.2l-5.6 .7l5.7-6.9l5.6-.8zM607.1 1120.2l-5.6 .5l5.7-7.1l5.7-.7zM595.8 1128.1l-5.6 1.7l5.7-7.3l5.6-1.8zM584.4 1137.2l-5.6 1.5l5.8-7.3l5.6-1.6zM573.1 1146.0l-5.6 1.3l5.7-7.2l5.6-1.4zM561.7 1154.5l-5.6 1.1l5.8-7.0l5.6-1.3zM539.0 1170.5l-5.6 1.2l5.8-6.6l5.6-1.5zM527.7 1178.3l-5.6 1.0l5.7-6.4l5.6-1.2zM516.4 1185.6l-5.7 .8l5.8-6.1l5.6-1.0zM505.0 1192.4l-5.6 .6l5.7-5.8l5.6-.8zM482.3 1205.0l-5.6 .6l5.7-5.3l5.6-.8zM471.0 1210.7l-5.6 .4l5.7-5.0l5.6-.5zM459.6 1215.9l-5.6 .2l5.7-4.7l5.7-.3zM380.2 1237.9l-5.6-2.1l5.7-3.6l5.6 2.0zM635.4 1103.6l-5.6 .8l5.7-6.6l5.7-.9zM624.1 1111.6l-5.6 .6l5.7-7.0l5.6-.8zM612.7 1119.6l-5.6 .6l5.8-7.3l5.6-.7zM601.4 1127.7l-5.6 .4l5.7-7.4l5.6-.5zM590.0 1135.7l-5.6 1.5l5.8-7.4l5.6-1.7zM567.3 1153.4l-5.6 1.1l5.8-7.2l5.6-1.3zM556.0 1161.7l-5.6 .9l5.7-7.0l5.6-1.1zM533.3 1177.3l-5.6 1.0l5.7-6.6l5.6-1.2zM510.6 1191.8l-5.6 .6l5.7-6.0l5.7-.8zM499.3 1198.3l-5.6 .4l5.7-5.7l5.6-.6zM487.9 1204.4l-5.6 .6l5.7-5.5l5.7-.8zM476.6 1210.4l-5.6 .3l5.7-5.1l5.6-.6zM465.2 1215.8l-5.6 .1l5.8-4.8l5.6-.4zM663.7 1088.7l-5.6 .3l5.7-4.9l5.7-.3zM652.4 1095.2l-5.6 .8l5.7-6.1l5.6-.9zM641.0 1102.9l-5.6 .7l5.8-6.7l5.6-.9zM629.7 1110.9l-5.6 .7l5.7-7.2l5.6-.8zM618.3 1119.1l-5.6 .5l5.8-7.4l5.6-.6zM595.7 1135.4l-5.7 .3l5.8-7.6l5.6-.4zM584.3 1143.4l-5.6 1.3l5.7-7.5l5.6-1.5zM573.0 1152.3l-5.7 1.1l5.8-7.4l5.6-1.3zM550.3 1168.9l-5.6 .7l5.7-7.0l5.6-.9zM538.9 1176.6l-5.6 .7l5.7-6.8l5.7-.9zM527.6 1184.0l-5.6 .8l5.7-6.5l5.6-1.0zM516.2 1191.2l-5.6 .6l5.8-6.2l5.6-.8zM504.9 1198.0l-5.6 .3l5.7-5.9l5.6-.6zM493.5 1204.2l-5.6 .2l5.8-5.7l5.6-.4zM482.2 1210.0l-5.6 .4l5.7-5.4l5.6-.6zM470.8 1215.6l-5.6 .2l5.8-5.1l5.6-.3zM669.3 1089.9l-5.6-1.2l5.8-4.9l5.6 1.1zM658.0 1095.0l-5.6 .2l5.7-6.2l5.6-.3zM635.3 1110.2l-5.6 .7l5.7-7.3l5.6-.7zM624.0 1118.5l-5.7 .6l5.8-7.5l5.6-.7zM601.3 1135.2l-5.6 .2l5.7-7.7l5.6-.4zM589.9 1143.3l-5.6 .1l5.7-7.7l5.7-.3zM578.6 1151.2l-5.6 1.1l5.7-7.6l5.6-1.3zM567.2 1159.9l-5.6 .9l5.7-7.4l5.7-1.1zM555.9 1168.2l-5.6 .7l5.7-7.2l5.6-.9zM544.5 1176.1l-5.6 .5l5.8-7.0l5.6-.7zM533.2 1183.6l-5.6 .4l5.7-6.7l5.6-.7zM510.5 1197.6l-5.6 .4l5.7-6.2l5.6-.6zM499.2 1204.0l-5.7 .2l5.8-5.9l5.6-.3zM675.0 1091.0l-5.7-1.1l5.8-5.0l5.6 1.2zM663.6 1096.1l-5.6-1.1l5.7-6.3l5.6 1.2zM652.3 1102.0l-5.7 .1l5.8-6.9l5.6-.2zM640.9 1109.6l-5.6 .6l5.7-7.3l5.6-.8zM629.6 1118.0l-5.6 .5l5.7-7.6l5.6-.7zM618.2 1126.5l-5.6 .4l5.7-7.8l5.7-.6zM595.5 1143.1l-5.6 .2l5.8-7.9l5.6-.2zM584.2 1151.2l-5.6 .0l5.7-7.8l5.6-.1zM572.8 1159.0l-5.6 .9l5.8-7.6l5.6-1.1zM550.1 1175.6l-5.7 .5l5.8-7.2l5.6-.7zM527.5 1190.4l-5.7 .2l5.8-6.6l5.6-.4zM516.1 1197.2l-5.6 .4l5.7-6.4l5.6-.6zM504.8 1203.9l-5.6 .1l5.7-6.0l5.6-.4zM493.4 1210.0l-5.6 .0l5.7-5.8l5.7-.2zM680.6 1092.2l-5.6-1.2l5.7-4.9l5.6 1.1zM669.2 1097.3l-5.6-1.2l5.7-6.2l5.7 1.1zM646.5 1109.5l-5.6 .1l5.7-7.5l5.7-.1zM635.2 1117.5l-5.6 .5l5.7-7.8l5.6-.6zM623.8 1126.0l-5.6 .5l5.8-8.0l5.6-.5zM612.5 1134.6l-5.6 .3l5.7-8.0l5.6-.4zM601.1 1143.0l-5.6 .1l5.8-7.9l5.6-.3zM589.8 1151.2l-5.6 .0l5.7-7.9l5.6-.2zM567.1 1166.8l-5.6 .7l5.7-7.6l5.6-.9zM555.8 1175.1l-5.6 .5l5.7-7.4l5.6-.7zM533.1 1190.2l-5.6 .2l5.7-6.8l5.6-.4zM521.7 1197.2l-5.6 .0l5.7-6.6l5.7-.2zM510.4 1203.7l-5.6 .2l5.7-6.3l5.6-.4zM487.7 1215.9l-5.6-.2l5.7-5.7l5.6 .0zM686.2 1093.4l-5.6-1.2l5.7-5.0l5.6 1.2zM674.8 1098.5l-5.6-1.2l5.8-6.3l5.6 1.2zM663.5 1104.4l-5.6-1.2l5.7-7.1l5.6 1.2zM652.1 1110.8l-5.6-1.3l5.8-7.5l5.6 1.2zM640.8 1117.5l-5.6 .0l5.7-7.9l5.6-.1zM629.4 1125.6l-5.6 .4l5.8-8.0l5.6-.5zM618.1 1134.3l-5.6 .3l5.7-8.1l5.6-.5zM606.8 1142.8l-5.7 .2l5.8-8.1l5.6-.3zM595.4 1151.2l-5.6 .0l5.7-8.1l5.6-.1zM584.1 1159.3l-5.6-.2l5.7-7.9l5.6 .0zM572.7 1167.1l-5.6-.3l5.7-7.8l5.7 .1zM561.4 1174.6l-5.6 .5l5.7-7.6l5.6-.7zM550.0 1182.5l-5.6 .4l5.8-7.3l5.6-.5zM538.7 1190.1l-5.6 .1l5.7-7.0l5.6-.3zM527.3 1197.2l-5.6 .0l5.8-6.8l5.6-.2zM504.6 1210.0l-5.6 .0l5.8-6.1l5.6-.2zM691.8 1094.5l-5.6-1.1l5.7-5.0l5.6 1.1zM680.4 1099.7l-5.6-1.2l5.8-6.3l5.6 1.2zM669.1 1105.7l-5.6-1.3l5.7-7.1l5.6 1.2zM657.8 1112.1l-5.7-1.3l5.8-7.6l5.6 1.2zM646.4 1118.8l-5.6-1.3l5.7-8.0l5.6 1.3zM635.1 1125.8l-5.7-.2l5.8-8.1l5.6 .0zM601.0 1151.2l-5.6 .0l5.7-8.2l5.7-.2zM589.7 1159.4l-5.6-.1l5.7-8.1l5.6 .0zM578.3 1167.3l-5.6-.2l5.8-8.0l5.6 .2zM567.0 1175.0l-5.6-.4l5.7-7.8l5.6 .3zM555.6 1182.2l-5.6 .3l5.8-7.4l5.6-.5zM544.3 1189.9l-5.6 .2l5.7-7.2l5.6-.4zM510.3 1210.3l-5.7-.3l5.8-6.3l5.6 .1zM674.7 1106.9l-5.6-1.2l5.7-7.2l5.6 1.2zM663.4 1113.4l-5.6-1.3l5.7-7.7l5.6 1.3zM652.0 1120.2l-5.6-1.4l5.7-8.0l5.7 1.3zM640.7 1127.2l-5.6-1.4l5.7-8.3l5.6 1.3zM629.3 1134.3l-5.6-.3l5.7-8.4l5.7 .2zM618.0 1142.5l-5.6 .2l5.7-8.4l5.6-.3zM606.6 1151.1l-5.6 .1l5.8-8.4l5.6-.1zM583.9 1167.6l-5.6-.3l5.8-8.0l5.6 .1zM572.6 1175.4l-5.6-.4l5.7-7.9l5.6 .2zM561.3 1182.8l-5.7-.6l5.8-7.6l5.6 .4zM549.9 1189.8l-5.6 .1l5.7-7.4l5.6-.3zM515.9 1210.7l-5.6-.4l5.7-6.5l5.6 .2zM703.0 1099.4l-5.6-2.8l5.7-5.0l5.7 2.8zM669.0 1114.6l-5.6-1.2l5.7-7.7l5.6 1.2zM657.6 1121.5l-5.6-1.3l5.8-8.1l5.6 1.3zM646.3 1128.5l-5.6-1.3l5.7-8.4l5.6 1.4zM623.6 1142.9l-5.6-.4l5.7-8.5l5.6 .3zM612.2 1151.1l-5.6 .0l5.8-8.4l5.6-.2zM578.2 1175.8l-5.6-.4l5.7-8.1l5.6 .3zM708.6 1102.2l-5.6-2.8l5.8-5.0l5.6 2.8zM697.3 1105.8l-5.6-2.8l5.7-6.4l5.6 2.8zM663.2 1122.8l-5.6-1.3l5.8-8.1l5.6 1.2zM651.9 1129.9l-5.6-1.4l5.7-8.3l5.6 1.3zM640.6 1137.1l-5.7-1.4l5.8-8.5l5.6 1.3zM629.2 1144.4l-5.6-1.5l5.7-8.6l5.6 1.4zM617.9 1151.6l-5.7-.5l5.8-8.6l5.6 .4zM583.8 1176.1l-5.6-.3l5.7-8.2l5.7 .3zM714.2 1105.0l-5.6-2.8l5.8-5.0l5.6 2.8zM691.5 1113.0l-5.7-2.8l5.8-7.2l5.6 2.8zM680.2 1118.0l-5.6-2.1l5.7-7.8l5.6 2.1zM657.5 1131.3l-5.6-1.4l5.7-8.4l5.6 1.3zM646.2 1138.6l-5.6-1.5l5.7-8.6l5.6 1.4zM634.8 1145.9l-5.6-1.5l5.7-8.7l5.7 1.4zM623.5 1153.2l-5.6-1.6l5.7-8.7l5.6 1.5zM719.9 1107.8l-5.7-2.8l5.8-5.0l5.6 2.7zM708.5 1111.4l-5.6-2.8l5.7-6.4l5.6 2.8zM663.1 1132.7l-5.6-1.4l5.7-8.5l5.7 1.3zM640.4 1147.4l-5.6-1.5l5.8-8.8l5.6 1.5zM725.5 1112.8l-5.6-5.0l5.7-5.1l5.6 5.1zM714.1 1114.2l-5.6-2.8l5.7-6.4l5.7 2.8zM702.8 1118.6l-5.6-2.8l5.7-7.2l5.6 2.8zM691.4 1123.6l-5.6-2.8l5.8-7.8l5.6 2.8zM680.1 1129.1l-5.6-2.8l5.7-8.3l5.6 2.8zM668.7 1134.9l-5.6-2.2l5.8-8.6l5.6 2.2zM657.4 1141.5l-5.6-1.5l5.7-8.7l5.6 1.4zM731.1 1118.4l-5.6-5.6l5.7-5.0l5.6 5.6zM719.7 1119.2l-5.6-5.0l5.8-6.4l5.6 5.0zM708.4 1121.4l-5.6-2.8l5.7-7.2l5.6 2.8zM697.0 1126.4l-5.6-2.8l5.8-7.8l5.6 2.8zM685.7 1131.9l-5.6-2.8l5.7-8.3l5.6 2.8zM674.3 1137.6l-5.6-2.7l5.8-8.6l5.6 2.8zM725.3 1124.7l-5.6-5.5l5.8-6.4l5.6 5.6zM714.0 1126.3l-5.6-4.9l5.7-7.2l5.6 5.0zM691.3 1134.6l-5.6-2.7l5.7-8.3l5.6 2.8zM680.0 1140.4l-5.7-2.8l5.8-8.5l5.6 2.8zM742.3 1130.1l-5.6-6.1l5.7-4.9l5.6 6.1zM719.6 1131.8l-5.6-5.5l5.7-7.1l5.6 5.5zM708.3 1134.1l-5.6-4.9l5.7-7.8l5.6 4.9zM696.9 1137.4l-5.6-2.8l5.7-8.2l5.7 2.8zM685.6 1143.2l-5.6-2.8l5.7-8.5l5.6 2.7zM747.9 1137.5l-5.6-7.4l5.7-4.9l5.6 7.4zM736.6 1136.2l-5.6-6.0l5.7-6.2l5.6 6.1zM725.2 1137.3l-5.6-5.5l5.7-7.1l5.7 5.5zM713.9 1139.4l-5.6-5.3l5.7-7.8l5.6 5.5zM702.5 1142.2l-5.6-4.8l5.8-8.2l5.6 4.9zM691.2 1146.0l-5.6-2.8l5.7-8.6l5.6 2.8zM742.2 1143.6l-5.6-7.4l5.7-6.1l5.6 7.4zM719.5 1144.8l-5.6-5.4l5.7-7.6l5.6 5.5zM696.8 1150.7l-5.6-4.7l5.7-8.6l5.6 4.8zM736.4 1150.4l-5.6-7.3l5.8-6.9l5.6 7.4zM725.1 1150.6l-5.6-5.8l5.7-7.5l5.6 5.8zM742.1 1157.6l-5.7-7.2l5.8-6.8l5.6 7.3zM730.7 1157.7l-5.6-7.1l5.7-7.5l5.6 7.3zM708.0 1161.1l-5.6-5.2l5.7-8.4l5.7 5.3zM696.7 1164.5l-5.6-5.1l5.7-8.7l5.6 5.2zM747.7 1164.8l-5.6-7.2l5.7-6.7l5.6 7.3zM736.3 1164.8l-5.6-7.1l5.7-7.3l5.7 7.2zM725.0 1165.4l-5.6-6.9l5.7-7.9l5.6 7.1zM713.6 1166.7l-5.6-5.6l5.8-8.3l5.6 5.7zM702.3 1169.6l-5.6-5.1l5.7-8.6l5.6 5.2zM753.3 1172.6l-5.6-7.8l5.7-6.6l5.6 8.0zM741.9 1171.9l-5.6-7.1l5.8-7.2l5.6 7.2zM719.2 1173.4l-5.6-6.7l5.8-8.2l5.6 6.9zM707.9 1175.0l-5.6-5.4l5.7-8.5l5.6 5.6zM758.9 1180.7l-5.6-8.1l5.7-6.4l5.6 8.2zM747.6 1179.5l-5.7-7.6l5.8-7.1l5.6 7.8zM713.5 1181.6l-5.6-6.6l5.7-8.3l5.6 6.7zM753.2 1187.4l-5.6-7.9l5.7-6.9l5.6 8.1zM741.8 1186.8l-5.6-7.5l5.7-7.4l5.7 7.6zM719.1 1188.2l-5.6-6.6l5.7-8.2l5.7 6.8zM770.1 1196.8l-5.6-8.0l5.7-6.2l5.7 8.2zM758.8 1195.3l-5.6-7.9l5.7-6.7l5.6 8.1zM747.4 1194.5l-5.6-7.7l5.8-7.3l5.6 7.9zM736.1 1194.3l-5.6-7.3l5.7-7.7l5.6 7.5zM724.7 1194.8l-5.6-6.6l5.8-8.0l5.6 6.8zM775.7 1204.9l-5.6-8.1l5.8-6.0l5.6 8.3zM753.0 1202.2l-5.6-7.7l5.8-7.1l5.6 7.9zM741.7 1201.8l-5.6-7.5l5.7-7.5l5.6 7.7zM730.4 1201.9l-5.7-7.1l5.8-7.8l5.6 7.3zM719.0 1202.8l-5.6-6.4l5.7-8.2l5.6 6.6zM781.3 1213.0l-5.6-8.1l5.8-5.8l5.6 8.2zM770.0 1211.2l-5.6-8.0l5.7-6.4l5.6 8.1zM758.7 1209.9l-5.7-7.7l5.8-6.9l5.6 7.9zM747.3 1209.3l-5.6-7.5l5.7-7.3l5.6 7.7zM736.0 1209.3l-5.6-7.4l5.7-7.6l5.6 7.5zM775.6 1219.1l-5.6-7.9l5.7-6.3l5.6 8.1zM764.3 1217.7l-5.6-7.8l5.7-6.7l5.6 8.0zM752.9 1216.9l-5.6-7.6l5.7-7.1l5.7 7.7zM741.6 1216.6l-5.6-7.3l5.7-7.5l5.6 7.5zM730.2 1216.9l-5.6-7.2l5.8-7.8l5.6 7.4zM718.9 1217.6l-5.6-6.7l5.7-8.1l5.6 6.9zM792.6 1229.2l-5.6-8.1l5.7-5.5l5.6 8.2zM769.9 1225.4l-5.6-7.7l5.7-6.5l5.6 7.9zM747.2 1223.9l-5.6-7.3l5.7-7.3l5.6 7.6zM724.5 1224.5l-5.6-6.9l5.7-7.9l5.6 7.2zM798.2 1237.3l-5.6-8.1l5.7-5.4l5.6 8.2zM786.8 1235.0l-5.6-8.0l5.8-5.9l5.6 8.1zM775.5 1233.2l-5.6-7.8l5.7-6.3l5.6 7.9zM741.5 1231.1l-5.7-7.1l5.8-7.4l5.6 7.3zM803.8 1245.4l-5.6-8.1l5.7-5.3l5.6 8.3zM792.5 1242.9l-5.7-7.9l5.8-5.8l5.6 8.1zM781.1 1240.9l-5.6-7.7l5.7-6.2l5.6 8.0zM769.8 1239.5l-5.6-7.5l5.7-6.6l5.6 7.8zM758.4 1238.6l-5.6-7.3l5.7-6.9l5.7 7.6zM747.1 1238.3l-5.6-7.2l5.7-7.2l5.6 7.4zM735.7 1238.4l-5.6-6.9l5.7-7.5l5.7 7.1zM809.4 1253.5l-5.6-8.1l5.7-5.1l5.6 8.2zM798.1 1250.8l-5.6-7.9l5.7-5.6l5.6 8.1zM786.7 1248.7l-5.6-7.8l5.7-5.9l5.7 7.9zM775.4 1247.1l-5.6-7.6l5.7-6.3l5.6 7.7zM764.0 1246.0l-5.6-7.4l5.8-6.6l5.6 7.5zM752.7 1245.4l-5.6-7.1l5.7-7.0l5.6 7.3zM741.3 1245.3l-5.6-6.9l5.8-7.3l5.6 7.2zM730.0 1245.6l-5.6-6.7l5.7-7.4l5.6 6.9zM815.0 1260.8l-5.6-7.3l5.7-5.0l5.7 7.4zM803.7 1258.8l-5.6-8.0l5.7-5.4l5.6 8.1zM792.3 1256.4l-5.6-7.7l5.8-5.8l5.6 7.9zM781.0 1254.6l-5.6-7.5l5.7-6.2l5.6 7.8zM769.6 1253.4l-5.6-7.4l5.8-6.5l5.6 7.6zM758.3 1252.6l-5.6-7.2l5.7-6.8l5.6 7.4zM747.0 1252.2l-5.7-6.9l5.8-7.0l5.6 7.1zM735.6 1252.4l-5.6-6.8l5.7-7.2l5.6 6.9zM395.2 1333.5l-5.6-2.4l5.7-4.1l5.7 2.4zM809.3 1265.9l-5.6-7.1l5.7-5.3l5.6 7.3zM786.6 1262.2l-5.6-7.6l5.7-5.9l5.6 7.7zM775.3 1260.7l-5.7-7.3l5.8-6.3l5.6 7.5zM763.9 1259.7l-5.6-7.1l5.7-6.6l5.6 7.4zM752.6 1259.2l-5.6-7.0l5.7-6.8l5.6 7.2zM741.2 1259.1l-5.6-6.7l5.7-7.1l5.7 6.9zM400.8 1335.9l-5.6-2.4l5.8-4.1l5.6 2.4zM826.2 1275.2l-5.6-7.2l5.8-4.7l5.6 7.3zM792.2 1269.8l-5.6-7.6l5.7-5.8l5.6 7.8zM780.9 1268.1l-5.6-7.4l5.7-6.1l5.6 7.6zM769.5 1266.9l-5.6-7.2l5.7-6.3l5.7 7.3zM758.2 1266.1l-5.6-6.9l5.7-6.6l5.6 7.1zM746.8 1265.8l-5.6-6.7l5.8-6.9l5.6 7.0zM809.2 1278.1l-5.6-6.9l5.7-5.3l5.6 7.1zM797.8 1276.6l-5.6-6.8l5.7-5.6l5.7 7.0zM786.5 1275.4l-5.6-7.3l5.7-5.9l5.6 7.6zM775.1 1274.0l-5.6-7.1l5.8-6.2l5.6 7.4zM763.8 1273.1l-5.6-7.0l5.7-6.4l5.6 7.2zM752.4 1272.5l-5.6-6.7l5.8-6.6l5.6 6.9zM826.1 1286.8l-5.6-6.7l5.7-4.9l5.7 6.9zM814.8 1285.0l-5.6-6.9l5.7-5.1l5.6 7.1zM803.4 1283.3l-5.6-6.7l5.8-5.4l5.6 6.9zM792.1 1282.1l-5.6-6.7l5.7-5.6l5.6 6.8zM780.7 1281.2l-5.6-7.2l5.8-5.9l5.6 7.3zM769.4 1280.0l-5.6-6.9l5.7-6.2l5.6 7.1zM758.1 1279.3l-5.7-6.8l5.8-6.4l5.6 7.0zM820.4 1291.6l-5.6-6.6l5.7-4.9l5.6 6.7zM809.0 1290.1l-5.6-6.8l5.8-5.2l5.6 6.9zM797.7 1288.7l-5.6-6.6l5.7-5.5l5.6 6.7zM786.4 1287.6l-5.7-6.4l5.8-5.8l5.6 6.7zM775.0 1286.9l-5.6-6.9l5.7-6.0l5.6 7.2zM763.7 1286.0l-5.6-6.7l5.7-6.2l5.6 6.9zM752.3 1285.5l-5.6-6.6l5.7-6.4l5.7 6.8zM837.4 1299.2l-5.7-6.2l5.8-4.6l5.6 6.3zM814.7 1296.6l-5.7-6.5l5.8-5.1l5.6 6.6zM803.3 1295.3l-5.6-6.6l5.7-5.4l5.6 6.8zM792.0 1294.1l-5.6-6.5l5.7-5.5l5.6 6.6zM780.6 1293.2l-5.6-6.3l5.7-5.7l5.7 6.4zM769.3 1292.7l-5.6-6.7l5.7-6.0l5.6 6.9zM757.9 1292.0l-5.6-6.5l5.8-6.2l5.6 6.7zM808.9 1301.6l-5.6-6.3l5.7-5.2l5.7 6.5zM797.6 1300.5l-5.6-6.4l5.7-5.4l5.6 6.6zM786.2 1299.5l-5.6-6.3l5.8-5.6l5.6 6.5zM763.5 1298.5l-5.6-6.5l5.8-6.0l5.6 6.7zM848.6 1310.9l-5.6-5.5l5.7-4.4l5.6 5.6zM837.2 1309.9l-5.6-6.1l5.8-4.6l5.6 6.2zM825.9 1308.5l-5.6-6.0l5.7-4.8l5.6 6.1zM803.2 1306.6l-5.6-6.1l5.7-5.2l5.6 6.3zM791.8 1305.7l-5.6-6.2l5.8-5.4l5.6 6.4zM780.5 1304.9l-5.6-6.1l5.7-5.6l5.6 6.3zM769.2 1304.4l-5.7-5.9l5.8-5.8l5.6 6.1zM854.2 1316.3l-5.6-5.4l5.7-4.3l5.6 5.5zM842.8 1315.3l-5.6-5.4l5.8-4.5l5.6 5.5zM831.5 1314.4l-5.6-5.9l5.7-4.7l5.6 6.1zM808.8 1312.3l-5.6-5.7l5.7-5.0l5.6 5.8zM797.5 1311.7l-5.7-6.0l5.8-5.2l5.6 6.1zM786.1 1311.0l-5.6-6.1l5.7-5.4l5.6 6.2zM859.8 1321.6l-5.6-5.3l5.7-4.2l5.6 5.4zM848.5 1320.5l-5.7-5.2l5.8-4.4l5.6 5.4zM837.1 1319.7l-5.6-5.3l5.7-4.5l5.6 5.4zM825.8 1319.0l-5.6-5.8l5.7-4.7l5.6 5.9zM814.4 1318.0l-5.6-5.7l5.7-4.9l5.7 5.8zM803.1 1317.2l-5.6-5.5l5.7-5.1l5.6 5.7zM780.4 1316.2l-5.6-5.9l5.7-5.4l5.6 6.1zM865.4 1327.0l-5.6-5.4l5.7-4.1l5.6 5.5zM854.1 1325.8l-5.6-5.3l5.7-4.2l5.6 5.3zM842.7 1324.9l-5.6-5.2l5.7-4.4l5.7 5.2zM831.4 1324.2l-5.6-5.2l5.7-4.6l5.6 5.3zM820.0 1323.6l-5.6-5.6l5.8-4.8l5.6 5.8zM808.7 1322.8l-5.6-5.6l5.7-4.9l5.6 5.7zM786.0 1321.8l-5.6-5.6l5.7-5.2l5.6 5.8zM871.0 1332.4l-5.6-5.4l5.7-4.0l5.7 5.4zM859.7 1331.1l-5.6-5.3l5.7-4.2l5.6 5.4zM848.3 1330.1l-5.6-5.2l5.8-4.4l5.6 5.3zM825.6 1328.7l-5.6-5.1l5.8-4.6l5.6 5.2zM814.3 1328.3l-5.6-5.5l5.7-4.8l5.6 5.6zM803.0 1327.6l-5.7-5.4l5.8-5.0l5.6 5.6zM791.6 1327.1l-5.6-5.3l5.7-5.0l5.6 5.4zM876.6 1337.7l-5.6-5.3l5.8-4.0l5.6 5.5zM865.3 1336.4l-5.6-5.3l5.7-4.1l5.6 5.4zM853.9 1335.2l-5.7-5.1l5.8-4.3l5.6 5.3zM819.9 1333.3l-5.6-5.0l5.7-4.7l5.6 5.1zM808.6 1333.0l-5.6-5.4l5.7-4.8l5.6 5.5zM797.2 1332.4l-5.6-5.3l5.7-4.9l5.7 5.4zM882.3 1343.1l-5.7-5.4l5.8-3.8l5.6 5.4zM870.9 1341.6l-5.6-5.2l5.7-4.0l5.6 5.3zM825.5 1338.1l-5.6-4.8l5.7-4.6l5.7 5.0zM802.8 1337.6l-5.6-5.2l5.8-4.8l5.6 5.4zM831.1 1343.0l-5.6-4.9l5.8-4.4l5.6 5.0zM819.8 1342.6l-5.6-4.8l5.7-4.5l5.6 4.8zM808.4 1342.4l-5.6-4.8l5.8-4.6l5.6 4.8zM825.4 1347.3l-5.6-4.7l5.7-4.5l5.6 4.9zM814.1 1347.0l-5.7-4.6l5.8-4.6l5.6 4.8zM802.7 1346.9l-5.6-4.6l5.7-4.7l5.6 4.8zM831.0 1352.1l-5.6-4.8l5.7-4.3l5.7 4.9zM819.7 1351.7l-5.6-4.7l5.7-4.4l5.6 4.7zM808.3 1351.4l-5.6-4.5l5.7-4.5l5.7 4.6zM797.0 1351.4l-5.6-4.5l5.7-4.6l5.6 4.6zM904.7 1364.3l-5.6-5.1l5.7-3.5l5.6 5.2zM836.6 1356.8l-5.6-4.7l5.8-4.2l5.6 4.8zM813.9 1356.0l-5.6-4.6l5.8-4.4l5.6 4.7zM802.6 1355.8l-5.6-4.4l5.7-4.5l5.6 4.5zM910.3 1367.9l-5.6-3.6l5.7-3.4l5.6 3.6zM899.0 1367.8l-5.6-5.0l5.7-3.6l5.6 5.1zM887.6 1366.3l-5.6-5.2l5.7-3.6l5.7 5.3zM853.6 1362.4l-5.6-4.8l5.7-4.0l5.6 4.9zM830.9 1361.0l-5.6-4.7l5.7-4.2l5.6 4.7zM819.5 1360.5l-5.7-4.5l5.8-4.3l5.6 4.6zM808.2 1360.3l-5.6-4.5l5.7-4.4l5.6 4.6zM893.2 1371.2l-5.6-4.9l5.8-3.5l5.6 5.0zM881.9 1369.9l-5.6-5.1l5.7-3.7l5.6 5.2zM870.5 1368.5l-5.6-5.0l5.8-3.8l5.6 5.1zM859.2 1367.3l-5.6-4.9l5.7-3.9l5.6 5.0zM847.9 1366.3l-5.7-4.7l5.8-4.0l5.6 4.8zM836.5 1365.6l-5.6-4.6l5.7-4.2l5.6 4.8zM825.2 1365.1l-5.6-4.6l5.7-4.2l5.6 4.7zM813.8 1364.7l-5.6-4.4l5.7-4.3l5.7 4.5zM802.5 1364.6l-5.6-4.4l5.7-4.4l5.6 4.5zM910.2 1374.9l-5.6-3.6l5.7-3.4l5.6 3.6zM876.2 1373.5l-5.7-5.0l5.8-3.7l5.6 5.1zM864.8 1372.2l-5.6-4.9l5.7-3.8l5.6 5.0zM853.5 1371.1l-5.6-4.8l5.7-3.9l5.6 4.9zM842.1 1370.2l-5.6-4.6l5.7-4.0l5.7 4.7zM819.4 1369.2l-5.6-4.5l5.8-4.2l5.6 4.6zM808.1 1368.9l-5.6-4.3l5.7-4.3l5.6 4.4zM915.8 1378.4l-5.6-3.5l5.7-3.4l5.6 3.6zM904.5 1378.3l-5.7-3.5l5.8-3.5l5.6 3.6zM893.1 1378.2l-5.6-3.5l5.7-3.5l5.6 3.6zM881.8 1378.2l-5.6-4.7l5.7-3.6l5.6 4.8zM870.4 1377.1l-5.6-4.9l5.7-3.7l5.7 5.0zM859.1 1375.9l-5.6-4.8l5.7-3.8l5.6 4.9zM847.7 1374.9l-5.6-4.7l5.8-3.9l5.6 4.8zM836.4 1374.1l-5.6-4.5l5.7-4.0l5.6 4.6zM825.0 1373.6l-5.6-4.4l5.8-4.1l5.6 4.5zM921.4 1382.0l-5.6-3.6l5.7-3.3l5.7 3.6zM910.1 1381.8l-5.6-3.5l5.7-3.4l5.6 3.5zM887.4 1381.7l-5.6-3.5l5.7-3.5l5.6 3.5zM876.0 1381.7l-5.6-4.6l5.8-3.6l5.6 4.7zM853.3 1379.6l-5.6-4.7l5.8-3.8l5.6 4.8zM842.0 1378.7l-5.6-4.6l5.7-3.9l5.6 4.7zM830.7 1378.0l-5.7-4.4l5.8-4.0l5.6 4.5zM819.3 1377.6l-5.6-4.4l5.7-4.0l5.6 4.4zM927.0 1385.6l-5.6-3.6l5.8-3.3l5.6 3.5zM915.7 1385.3l-5.6-3.5l5.7-3.4l5.6 3.6zM904.3 1385.2l-5.6-3.5l5.8-3.4l5.6 3.5zM893.0 1385.1l-5.6-3.4l5.7-3.5l5.6 3.5zM881.6 1385.1l-5.6-3.4l5.8-3.5l5.6 3.5zM870.3 1385.2l-5.6-4.6l5.7-3.5l5.6 4.6zM859.0 1384.2l-5.7-4.6l5.8-3.7l5.6 4.7zM847.6 1383.2l-5.6-4.5l5.7-3.8l5.6 4.7zM824.9 1381.9l-5.6-4.3l5.7-4.0l5.7 4.4zM813.6 1381.5l-5.6-4.2l5.7-4.1l5.6 4.4zM921.3 1388.9l-5.6-3.6l5.7-3.3l5.6 3.6zM910.0 1388.7l-5.7-3.5l5.8-3.4l5.6 3.5zM898.6 1388.6l-5.6-3.5l5.7-3.4l5.6 3.5zM887.3 1388.5l-5.7-3.4l5.8-3.4l5.6 3.4zM864.6 1388.7l-5.6-4.5l5.7-3.6l5.6 4.6zM853.2 1387.8l-5.6-4.6l5.7-3.6l5.7 4.6zM841.9 1386.9l-5.6-4.4l5.7-3.8l5.6 4.5zM819.2 1385.8l-5.6-4.3l5.7-3.9l5.6 4.3zM915.6 1392.2l-5.6-3.5l5.7-3.4l5.6 3.6zM904.2 1392.0l-5.6-3.4l5.7-3.4l5.7 3.5zM892.9 1392.0l-5.6-3.5l5.7-3.4l5.6 3.5zM881.5 1391.9l-5.6-3.3l5.7-3.5l5.7 3.4zM870.2 1392.0l-5.6-3.3l5.7-3.5l5.6 3.4zM847.5 1391.4l-5.6-4.5l5.7-3.7l5.6 4.6zM836.1 1390.6l-5.6-4.4l5.8-3.7l5.6 4.4zM813.5 1389.6l-5.7-4.1l5.8-4.0l5.6 4.3zM909.8 1395.5l-5.6-3.5l5.8-3.3l5.6 3.5zM898.5 1395.4l-5.6-3.4l5.7-3.4l5.6 3.4zM887.1 1395.3l-5.6-3.4l5.8-3.4l5.6 3.5zM875.8 1395.4l-5.6-3.4l5.7-3.4l5.6 3.3zM864.4 1395.5l-5.6-3.4l5.8-3.4l5.6 3.3zM841.8 1394.9l-5.7-4.3l5.8-3.7l5.6 4.5zM830.4 1394.2l-5.6-4.2l5.7-3.8l5.6 4.4zM819.1 1393.7l-5.6-4.1l5.7-3.8l5.6 4.2zM904.1 1398.8l-5.6-3.4l5.7-3.4l5.6 3.5zM892.8 1398.7l-5.7-3.4l5.8-3.3l5.6 3.4zM881.4 1398.7l-5.6-3.3l5.7-3.5l5.6 3.4zM858.7 1398.9l-5.6-3.3l5.7-3.5l5.6 3.4zM847.4 1399.1l-5.6-4.2l5.7-3.5l5.6 4.2zM836.0 1398.5l-5.6-4.3l5.7-3.6l5.7 4.3zM824.7 1397.9l-5.6-4.2l5.7-3.7l5.6 4.2zM898.4 1402.1l-5.6-3.4l5.7-3.3l5.6 3.4zM887.0 1402.1l-5.6-3.4l5.7-3.4l5.7 3.4zM875.7 1402.1l-5.6-3.3l5.7-3.4l5.6 3.3zM864.3 1402.2l-5.6-3.3l5.7-3.4l5.7 3.3zM841.6 1402.6l-5.6-4.1l5.8-3.6l5.6 4.2zM830.3 1402.0l-5.6-4.1l5.7-3.7l5.6 4.3zM892.6 1405.4l-5.6-3.3l5.8-3.4l5.6 3.4zM858.6 1405.6l-5.6-3.3l5.7-3.4l5.6 3.3zM847.2 1405.8l-5.6-3.2l5.8-3.5l5.6 3.2zM835.9 1406.0l-5.6-4.0l5.7-3.5l5.6 4.1zM875.6 1408.8l-5.7-3.3l5.8-3.4l5.6 3.3zM852.9 1409.0l-5.7-3.2l5.8-3.5l5.6 3.3zM841.5 1409.2l-5.6-3.2l5.7-3.4l5.6 3.2zM830.2 1409.5l-5.6-3.9l5.7-3.6l5.6 4.0zM869.8 1412.1l-5.6-3.3l5.7-3.3l5.7 3.3zM858.5 1412.2l-5.6-3.2l5.7-3.4l5.6 3.2zM835.8 1412.7l-5.6-3.2l5.7-3.5l5.6 3.2zM824.4 1412.9l-5.6-3.8l5.8-3.5l5.6 3.9zM875.4 1415.4l-5.6-3.3l5.8-3.3l5.6 3.2zM864.1 1415.4l-5.6-3.2l5.7-3.4l5.6 3.3zM852.7 1415.6l-5.6-3.2l5.8-3.4l5.6 3.2zM841.4 1415.8l-5.6-3.1l5.7-3.5l5.6 3.2zM830.0 1416.1l-5.6-3.2l5.8-3.4l5.6 3.2zM869.7 1418.7l-5.6-3.3l5.7-3.3l5.6 3.3zM858.4 1418.8l-5.7-3.2l5.8-3.4l5.6 3.2zM847.0 1419.0l-5.6-3.2l5.7-3.4l5.6 3.2zM835.7 1419.2l-5.7-3.1l5.8-3.4l5.6 3.1zM864.0 1422.0l-5.6-3.2l5.7-3.4l5.6 3.3zM852.6 1422.1l-5.6-3.1l5.7-3.4l5.7 3.2zM841.3 1422.3l-5.6-3.1l5.7-3.4l5.6 3.2zM829.9 1422.6l-5.6-3.1l5.7-3.4l5.7 3.1zM858.2 1425.3l-5.6-3.2l5.8-3.3l5.6 3.2zM846.9 1425.5l-5.6-3.2l5.7-3.3l5.6 3.1zM835.5 1425.7l-5.6-3.1l5.8-3.4l5.6 3.1zM852.5 1428.6l-5.6-3.1l5.7-3.4l5.6 3.2zM829.8 1429.1l-5.6-3.1l5.7-3.4l5.6 3.1zM846.8 1431.9l-5.6-3.1l5.7-3.3l5.6 3.1zM835.4 1432.1l-5.6-3.0l5.7-3.4l5.7 3.1zM841.0 1435.2l-5.6-3.1l5.8-3.3l5.6 3.1zM829.7 1435.5l-5.6-3.1l5.7-3.3l5.6 3.0zM835.3 1438.5l-5.6-3.0l5.7-3.4l5.6 3.1zM829.6 1441.8l-5.6-3.0l5.7-3.3l5.6 3.0z"/>
<path fill="#004eff" stroke="#004eff" d="M528.9 1149.3l-5.6 2.0l5.7-3.7l5.6-2.1zM534.3 1148.3l-5.6 3.0l5.7-4.4l5.6-3.1zM562.6 1127.9l-5.6 3.8l5.7-4.4l5.6-4.0zM505.5 1175.5l-5.6 2.0l5.7-4.9l5.6-2.3zM545.1 1149.6l-5.6 2.1l5.8-5.8l5.6-2.4zM607.5 1104.9l-5.6 2.3l5.7-5.4l5.6-2.4zM584.8 1121.6l-5.6 2.1l5.7-6.1l5.6-2.3zM590.4 1119.5l-5.6 2.1l5.7-6.3l5.6-2.1zM511.0 1177.2l-5.6 1.7l5.7-5.4l5.6-2.0zM442.9 1211.7l-5.6-.4l5.7-4.0l5.6 .3zM408.9 1219.5l-5.6-1.7l5.7-3.7l5.6 1.7zM573.3 1134.8l-5.6 1.8l5.7-6.6l5.7-1.9zM539.3 1160.2l-5.6 1.6l5.7-6.1l5.6-1.9zM493.9 1189.7l-5.6 1.3l5.7-5.2l5.6-1.5zM414.5 1221.3l-5.6-1.8l5.7-3.7l5.6 1.7zM544.9 1158.5l-5.6 1.7l5.7-6.4l5.6-1.9zM533.6 1166.5l-5.7 1.5l5.8-6.2l5.6-1.6zM488.2 1195.0l-5.6 1.1l5.7-5.1l5.6-1.3zM476.8 1201.1l-5.6 .8l5.7-4.8l5.7-1.0zM386.1 1228.6l-5.7-1.9l5.8-3.5l5.6 1.8zM595.9 1122.5l-5.6 1.9l5.7-6.9l5.6-2.0zM527.8 1172.9l-5.6 1.3l5.7-6.2l5.7-1.5zM403.0 1228.8l-5.6-1.9l5.7-3.7l5.6 1.8zM533.4 1171.7l-5.6 1.2l5.8-6.4l5.6-1.4zM420.0 1227.9l-5.6-1.1l5.7-3.8l5.6 .9zM408.6 1230.7l-5.6-1.9l5.7-3.8l5.7 1.8zM493.7 1198.7l-5.7 .8l5.8-5.5l5.6-1.0zM448.3 1220.7l-5.6-.3l5.7-4.4l5.6 .1zM391.5 1236.2l-5.6-2.0l5.8-3.6l5.6 1.9zM658.1 1089.0l-5.6 .9l5.7-4.8l5.6-1.0zM607.0 1127.3l-5.6 .4l5.7-7.5l5.6-.6zM561.6 1160.8l-5.6 .9l5.7-7.2l5.6-1.1zM612.6 1126.9l-5.6 .4l5.7-7.7l5.6-.5zM487.8 1210.0l-5.6 .0l5.7-5.6l5.6-.2zM476.5 1215.5l-5.7 .1l5.8-5.2l5.6-.4zM606.9 1134.9l-5.6 .3l5.7-7.9l5.6-.4zM538.8 1183.2l-5.6 .4l5.7-7.0l5.6-.5zM482.1 1215.7l-5.6-.2l5.7-5.5l5.6 .0zM499.0 1210.0l-5.6 .0l5.8-6.0l5.6-.1zM493.3 1216.1l-5.6-.2l5.7-5.9l5.6 .0zM623.7 1134.0l-5.6 .3l5.7-8.3l5.6-.4zM612.4 1142.7l-5.6 .1l5.7-8.2l5.6-.3zM521.6 1204.0l-5.6-.2l5.7-6.6l5.6 .0zM697.4 1096.6l-5.6-2.1l5.7-5.0l5.6 2.1zM691.7 1103.0l-5.6-2.1l5.7-6.4l5.6 2.1zM680.3 1108.1l-5.6-1.2l5.7-7.2l5.7 1.2zM589.6 1167.9l-5.7-.3l5.8-8.2l5.6 .1zM555.5 1190.5l-5.6-.7l5.7-7.6l5.7 .6zM521.5 1211.1l-5.6-.4l5.7-6.7l5.6 .2zM685.9 1110.2l-5.6-2.1l5.8-7.2l5.6 2.1zM674.6 1115.9l-5.6-1.3l5.7-7.7l5.6 1.2zM589.4 1176.5l-5.6-.4l5.8-8.2l5.6 .2zM697.2 1115.8l-5.6-2.8l5.7-7.2l5.6 2.8zM674.5 1126.3l-5.6-2.2l5.7-8.2l5.6 2.1zM663.0 1143.7l-5.6-2.2l5.7-8.8l5.6 2.2zM730.8 1143.1l-5.6-5.8l5.8-7.1l5.6 6.0zM702.4 1155.9l-5.6-5.2l5.7-8.5l5.6 5.3zM691.1 1159.4l-5.6-4.6l5.7-8.8l5.6 4.7zM719.4 1158.5l-5.6-5.7l5.7-8.0l5.6 5.8zM730.6 1172.4l-5.6-7.0l5.7-7.7l5.6 7.1zM736.2 1179.3l-5.6-6.9l5.7-7.6l5.6 7.1zM724.9 1180.2l-5.7-6.8l5.8-8.0l5.6 7.0zM435.5 1296.5l-5.6-2.0l5.7-4.7l5.6 2.0zM713.4 1196.4l-5.6-6.4l5.7-8.4l5.6 6.6zM724.6 1209.7l-5.6-6.9l5.7-8.0l5.7 7.1zM441.0 1305.4l-5.6-2.1l5.7-4.7l5.6 2.0zM446.6 1307.7l-5.6-2.3l5.7-4.8l5.6 2.2zM758.5 1224.4l-5.6-7.5l5.8-7.0l5.6 7.8zM735.8 1224.0l-5.6-7.1l5.8-7.6l5.6 7.3zM724.4 1238.9l-5.6-6.7l5.7-7.7l5.6 7.0zM406.6 1331.8l-5.6-2.4l5.7-4.1l5.6 2.3zM797.9 1264.2l-5.6-7.8l5.8-5.6l5.6 8.0zM814.9 1273.0l-5.6-7.1l5.7-5.1l5.6 7.2zM820.3 1302.5l-5.6-5.9l5.7-5.0l5.6 6.1zM774.9 1298.8l-5.6-6.1l5.7-5.8l5.6 6.3zM389.1 1356.8l-5.6-2.5l5.8-3.9l5.6 2.6zM820.2 1313.2l-5.7-5.8l5.8-4.9l5.6 6.0zM797.3 1322.2l-5.6-5.4l5.8-5.1l5.6 5.5zM785.9 1332.0l-5.6-5.1l5.7-5.1l5.6 5.3zM814.2 1337.8l-5.6-4.8l5.7-4.7l5.6 5.0zM791.5 1337.1l-5.6-5.1l5.7-4.9l5.6 5.3zM836.8 1347.9l-5.7-4.9l5.8-4.3l5.6 4.9zM791.4 1346.9l-5.6-5.0l5.7-4.8l5.6 5.2zM842.4 1352.7l-5.6-4.8l5.7-4.3l5.6 5.0zM893.4 1362.8l-5.7-5.3l5.8-3.7l5.6 5.4zM842.2 1361.6l-5.6-4.8l5.8-4.1l5.6 4.9zM904.6 1371.3l-5.6-3.5l5.7-3.5l5.6 3.6zM830.8 1369.6l-5.6-4.5l5.7-4.1l5.6 4.6zM813.7 1373.2l-5.6-4.3l5.7-4.2l5.6 4.5zM808.0 1377.3l-5.7-4.2l5.8-4.2l5.6 4.3zM875.9 1388.6l-5.6-3.4l5.7-3.5l5.6 3.4zM858.8 1392.1l-5.6-4.3l5.8-3.6l5.6 4.5zM824.8 1390.0l-5.6-4.2l5.7-3.9l5.6 4.3zM853.1 1395.6l-5.6-4.2l5.7-3.6l5.6 4.3zM853.0 1402.3l-5.6-3.2l5.7-3.5l5.6 3.3zM818.9 1401.5l-5.6-4.0l5.8-3.8l5.6 4.2zM881.3 1405.4l-5.6-3.3l5.7-3.4l5.6 3.4zM864.2 1408.8l-5.6-3.2l5.7-3.4l5.6 3.3zM818.8 1409.1l-5.6-3.9l5.7-3.7l5.7 4.1zM881.2 1412.0l-5.6-3.2l5.7-3.4l5.6 3.3zM847.1 1412.4l-5.6-3.2l5.7-3.4l5.7 3.2zM824.3 1419.5l-5.6-3.1l5.7-3.5l5.6 3.2zM824.2 1426.0l-5.6-3.1l5.7-3.4l5.6 3.1z"/>
<path fill="#005aff" stroke="#005aff" d="M431.3 1224.3l-5.6-.4l5.7-4.0l5.7 .3zM402.9 1234.5l-5.6-2.0l5.7-3.7l5.6 1.9zM453.9 1220.7l-5.6 .0l5.7-4.6l5.6-.2zM465.1 1220.9l-5.6-.1l5.7-5.0l5.6-.2zM498.9 1216.3l-5.6-.2l5.7-6.1l5.6 .0zM504.5 1216.7l-5.6-.4l5.7-6.3l5.7 .3zM566.9 1183.3l-5.6-.5l5.7-7.8l5.6 .4zM629.1 1154.7l-5.6-1.5l5.7-8.8l5.6 1.5zM634.7 1156.3l-5.6-1.6l5.7-8.8l5.6 1.5zM674.2 1149.2l-5.6-2.8l5.7-8.8l5.7 2.8zM418.6 1290.4l-5.6-2.0l5.8-4.4l5.6 1.8zM435.4 1303.3l-5.6-2.2l5.7-4.6l5.6 2.1zM718.8 1232.2l-5.6-6.7l5.7-7.9l5.6 6.9zM746.7 1278.9l-5.6-6.5l5.7-6.6l5.6 6.7zM774.6 1321.4l-5.6-5.7l5.8-5.4l5.6 5.9zM780.3 1326.9l-5.7-5.5l5.8-5.2l5.6 5.6zM807.8 1385.5l-5.6-4.2l5.8-4.0l5.6 4.2z"/>
<path fill="#0064ff" stroke="#0064ff" d="M436.9 1224.8l-5.6-.5l5.8-4.1l5.6 .2zM425.6 1228.5l-5.6-.6l5.7-4.0l5.6 .4zM414.2 1231.8l-5.6-1.1l5.8-3.9l5.6 1.1zM431.2 1229.1l-5.6-.6l5.7-4.2l5.6 .5zM459.5 1220.8l-5.6-.1l5.7-4.8l5.6-.1zM476.3 1221.3l-5.6-.4l5.8-5.4l5.6 .2zM453.5 1236.5l-5.6-.6l5.7-4.9l5.7 .4zM595.3 1159.5l-5.6-.1l5.7-8.2l5.6 .0zM527.2 1204.2l-5.6-.2l5.7-6.8l5.7 .0zM510.1 1217.2l-5.6-.5l5.8-6.4l5.6 .4zM572.5 1183.8l-5.6-.5l5.7-7.9l5.6 .4zM561.1 1191.1l-5.6-.6l5.8-7.7l5.6 .5zM561.0 1199.6l-5.6-.7l5.7-7.8l5.6 .7zM515.6 1225.0l-5.6-.6l5.8-6.6l5.6 .5zM640.3 1157.8l-5.6-1.5l5.7-8.9l5.6 1.5zM668.6 1146.4l-5.6-2.7l5.7-8.8l5.6 2.7zM606.2 1189.9l-5.7-1.8l5.8-8.6l5.6 1.7zM401.9 1278.4l-5.6-1.8l5.7-4.2l5.7 1.7zM679.8 1152.0l-5.6-2.8l5.8-8.8l5.6 2.8zM639.9 1191.5l-5.6-2.8l5.8-8.9l5.6 2.7zM685.2 1182.1l-5.6-4.9l5.7-8.9l5.6 4.9zM662.5 1190.8l-5.6-2.7l5.7-9.1l5.7 2.8zM651.2 1197.1l-5.6-2.8l5.7-9.0l5.6 2.8zM645.4 1205.9l-5.6-2.7l5.8-8.9l5.6 2.8zM707.8 1190.0l-5.6-6.4l5.7-8.6l5.6 6.6zM701.9 1212.9l-5.6-6.0l5.7-8.5l5.7 6.3zM457.9 1305.1l-5.6-2.3l5.8-4.9l5.6 2.2zM684.7 1237.5l-5.6-5.5l5.7-8.3l5.7 5.7zM701.4 1268.4l-5.6-5.8l5.8-7.5l5.6 6.1zM741.1 1272.4l-5.6-6.5l5.7-6.8l5.6 6.7zM740.7 1309.7l-5.6-5.9l5.8-6.1l5.6 6.2zM729.3 1321.2l-5.6-5.5l5.7-5.9l5.6 5.7zM382.8 1392.5l-5.6-2.7l5.7-3.7l5.6 2.7zM796.9 1360.2l-5.7-4.3l5.8-4.5l5.6 4.4zM813.3 1397.5l-5.6-4.1l5.8-3.8l5.6 4.1zM767.9 1397.4l-5.6-3.7l5.8-4.1l5.6 3.8zM778.9 1419.5l-5.6-3.6l5.8-3.7l5.6 3.7zM790.2 1426.7l-5.7-3.6l5.8-3.6l5.6 3.7zM824.1 1432.4l-5.6-3.0l5.7-3.4l5.6 3.1zM772.4 1468.8l-5.7-2.9l5.8-3.3l5.6 2.9z"/>
<path fill="#006eff" stroke="#006eff" d="M442.5 1225.2l-5.6-.4l5.8-4.4l5.6 .3zM419.9 1232.6l-5.7-.8l5.8-3.9l5.6 .6zM408.5 1235.8l-5.6-1.3l5.7-3.8l5.6 1.1zM397.2 1238.2l-5.7-2.0l5.8-3.7l5.6 2.0zM448.2 1225.5l-5.7-.3l5.8-4.5l5.6 .0zM436.8 1229.7l-5.6-.6l5.7-4.3l5.6 .4zM425.5 1233.4l-5.6-.8l5.7-4.1l5.6 .6zM414.1 1236.7l-5.6-.9l5.7-4.0l5.7 .8zM442.4 1230.1l-5.6-.4l5.7-4.5l5.7 .3zM431.1 1234.1l-5.6-.7l5.7-4.3l5.6 .6zM408.4 1240.7l-5.6-1.1l5.7-3.8l5.6 .9zM470.7 1220.9l-5.6 .0l5.7-5.3l5.7-.1zM459.4 1226.0l-5.6-.3l5.7-4.9l5.6 .1zM448.0 1230.6l-5.6-.5l5.8-4.6l5.6 .2zM436.7 1234.7l-5.6-.6l5.7-4.4l5.6 .4zM425.3 1238.5l-5.6-.9l5.8-4.2l5.6 .7zM414.0 1241.8l-5.6-1.1l5.7-4.0l5.6 .9zM402.7 1244.7l-5.7-1.2l5.8-3.9l5.6 1.1zM453.6 1231.0l-5.6-.4l5.8-4.9l5.6 .3zM442.3 1235.3l-5.6-.6l5.7-4.6l5.6 .5zM419.6 1242.8l-5.6-1.0l5.7-4.2l5.6 .9zM482.0 1221.6l-5.7-.3l5.8-5.6l5.6 .2zM470.6 1226.7l-5.6-.5l5.7-5.3l5.6 .4zM447.9 1235.9l-5.6-.6l5.7-4.7l5.6 .4zM436.6 1240.0l-5.6-.7l5.7-4.6l5.6 .6zM533.0 1197.2l-5.7 .0l5.8-7.0l5.6-.1zM487.6 1222.0l-5.6-.4l5.7-5.7l5.6 .2zM476.2 1227.3l-5.6-.6l5.7-5.4l5.7 .3zM464.9 1232.1l-5.6-.7l5.7-5.2l5.6 .5zM538.6 1197.2l-5.6 .0l5.7-7.1l5.6-.2zM493.2 1222.4l-5.6-.4l5.7-5.9l5.6 .2zM481.8 1227.8l-5.6-.5l5.8-5.7l5.6 .4zM470.5 1232.8l-5.6-.7l5.7-5.4l5.6 .6zM459.1 1237.4l-5.6-.9l5.8-5.1l5.6 .7zM544.2 1197.3l-5.6-.1l5.7-7.3l5.6-.1zM532.8 1204.4l-5.6-.2l5.8-7.0l5.6 .0zM498.8 1223.0l-5.6-.6l5.7-6.1l5.6 .4zM476.1 1233.5l-5.6-.7l5.7-5.5l5.6 .5zM464.8 1238.2l-5.7-.8l5.8-5.3l5.6 .7zM595.2 1168.1l-5.6-.2l5.7-8.4l5.6 .1zM549.8 1198.1l-5.6-.8l5.7-7.5l5.6 .7zM538.4 1204.6l-5.6-.2l5.8-7.2l5.6 .1zM527.1 1211.4l-5.6-.3l5.7-6.9l5.6 .2zM515.8 1217.8l-5.7-.6l5.8-6.5l5.6 .4zM504.4 1223.7l-5.6-.7l5.7-6.3l5.6 .5zM481.7 1234.2l-5.6-.7l5.7-5.7l5.6 .6zM600.8 1168.4l-5.6-.3l5.7-8.5l5.6 .2zM578.1 1184.4l-5.6-.6l5.7-8.0l5.6 .3zM566.7 1191.8l-5.6-.7l5.8-7.8l5.6 .5zM544.1 1205.5l-5.7-.9l5.8-7.3l5.6 .8zM521.4 1218.3l-5.6-.5l5.7-6.7l5.6 .3zM498.7 1230.0l-5.6-.9l5.7-6.1l5.6 .7zM487.3 1235.1l-5.6-.9l5.7-5.8l5.7 .7zM617.7 1162.0l-5.6-1.6l5.8-8.8l5.6 1.6zM606.4 1169.1l-5.6-.7l5.7-8.6l5.6 .6zM583.7 1184.9l-5.6-.5l5.7-8.3l5.6 .4zM572.4 1192.5l-5.7-.7l5.8-8.0l5.6 .6zM527.0 1218.8l-5.6-.5l5.7-6.9l5.6 .4zM504.3 1230.8l-5.6-.8l5.7-6.3l5.6 .7zM646.0 1148.9l-5.6-1.5l5.8-8.8l5.6 1.4zM623.4 1163.6l-5.7-1.6l5.8-8.8l5.6 1.5zM612.0 1170.8l-5.6-1.7l5.7-8.7l5.6 1.6zM600.7 1177.8l-5.7-.9l5.8-8.5l5.6 .7zM589.3 1185.4l-5.6-.5l5.7-8.4l5.6 .4zM578.0 1193.1l-5.6-.6l5.7-8.1l5.6 .5zM566.6 1200.4l-5.6-.8l5.7-7.8l5.7 .7zM509.9 1231.6l-5.6-.8l5.7-6.4l5.6 .6zM651.7 1150.4l-5.7-1.5l5.8-8.9l5.6 1.5zM629.0 1165.2l-5.6-1.6l5.7-8.9l5.6 1.6zM606.3 1179.5l-5.6-1.7l5.7-8.7l5.6 1.7zM594.9 1186.4l-5.6-1.0l5.7-8.5l5.7 .9zM583.6 1193.8l-5.6-.7l5.7-8.2l5.6 .5zM572.2 1201.2l-5.6-.8l5.8-7.9l5.6 .6zM515.5 1232.4l-5.6-.8l5.7-6.6l5.6 .7zM657.3 1152.6l-5.6-2.2l5.7-8.9l5.6 2.2zM645.9 1159.4l-5.6-1.6l5.7-8.9l5.7 1.5zM634.6 1166.8l-5.6-1.6l5.7-8.9l5.6 1.5zM623.2 1174.1l-5.6-1.7l5.8-8.8l5.6 1.6zM611.9 1181.2l-5.6-1.7l5.7-8.7l5.6 1.6zM600.5 1188.1l-5.6-1.7l5.8-8.6l5.6 1.7zM589.2 1194.8l-5.6-1.0l5.7-8.4l5.6 1.0zM651.5 1161.6l-5.6-2.2l5.8-9.0l5.6 2.2zM640.2 1168.4l-5.6-1.6l5.7-9.0l5.6 1.6zM628.8 1175.8l-5.6-1.7l5.8-8.9l5.6 1.6zM617.5 1183.0l-5.6-1.8l5.7-8.8l5.6 1.7zM657.1 1164.4l-5.6-2.8l5.8-9.0l5.6 2.8zM645.8 1170.7l-5.6-2.3l5.7-9.0l5.6 2.2zM600.4 1198.5l-5.6-1.8l5.7-8.6l5.7 1.8zM396.2 1282.6l-5.6-1.8l5.7-4.2l5.6 1.8zM685.5 1154.8l-5.7-2.8l5.8-8.8l5.6 2.8zM662.8 1167.2l-5.7-2.8l5.8-9.0l5.6 2.8zM651.4 1173.5l-5.6-2.8l5.7-9.1l5.6 2.8zM628.7 1186.4l-5.6-1.7l5.7-8.9l5.7 1.7zM617.4 1193.5l-5.6-1.8l5.7-8.7l5.6 1.7zM679.7 1163.7l-5.6-2.8l5.7-8.9l5.7 2.8zM668.4 1170.0l-5.6-2.8l5.7-9.0l5.6 2.7zM623.0 1195.3l-5.6-1.8l5.7-8.8l5.6 1.7zM685.3 1168.3l-5.6-4.6l5.8-8.9l5.6 4.6zM662.6 1179.0l-5.6-2.7l5.8-9.1l5.6 2.8zM628.6 1197.6l-5.6-2.3l5.7-8.9l5.6 2.3zM690.9 1173.2l-5.6-4.9l5.8-8.9l5.6 5.1zM679.6 1177.2l-5.6-4.5l5.7-9.0l5.6 4.6zM668.3 1181.8l-5.7-2.8l5.8-9.0l5.6 2.7zM656.9 1188.1l-5.6-2.8l5.7-9.0l5.6 2.7zM645.6 1194.3l-5.7-2.8l5.8-9.0l5.6 2.8zM634.2 1200.4l-5.6-2.8l5.7-8.9l5.6 2.8zM673.9 1186.2l-5.6-4.4l5.7-9.1l5.6 4.5zM702.2 1183.6l-5.6-5.4l5.7-8.6l5.6 5.4zM668.1 1195.1l-5.6-4.3l5.8-9.0l5.6 4.4zM656.8 1199.8l-5.6-2.7l5.7-9.0l5.6 2.7zM696.4 1192.2l-5.6-5.2l5.8-8.8l5.6 5.4zM685.1 1195.7l-5.6-4.8l5.7-8.8l5.6 4.9zM673.7 1199.8l-5.6-4.7l5.8-8.9l5.6 4.7zM662.4 1204.0l-5.6-4.2l5.7-9.0l5.6 4.3zM651.1 1208.7l-5.7-2.8l5.8-8.8l5.6 2.7zM702.0 1198.4l-5.6-6.2l5.8-8.6l5.6 6.4zM690.7 1200.8l-5.6-5.1l5.7-8.7l5.6 5.2zM679.4 1204.4l-5.7-4.6l5.8-8.9l5.6 4.8zM668.0 1208.6l-5.6-4.6l5.7-8.9l5.6 4.7zM645.3 1217.5l-5.6-2.8l5.7-8.8l5.7 2.8zM707.7 1204.7l-5.7-6.3l5.8-8.4l5.6 6.4zM696.3 1206.9l-5.6-6.1l5.7-8.6l5.6 6.2zM685.0 1209.4l-5.6-5.0l5.7-8.7l5.6 5.1zM673.6 1213.1l-5.6-4.5l5.7-8.8l5.7 4.6zM662.3 1217.3l-5.6-4.5l5.7-8.8l5.6 4.6zM650.9 1221.5l-5.6-4.0l5.8-8.8l5.6 4.1zM713.3 1210.9l-5.6-6.2l5.7-8.3l5.6 6.4zM690.6 1215.3l-5.6-5.9l5.7-8.6l5.6 6.1zM667.9 1221.7l-5.6-4.4l5.7-8.7l5.6 4.5zM656.5 1225.9l-5.6-4.4l5.8-8.7l5.6 4.5zM707.5 1219.0l-5.6-6.1l5.8-8.2l5.6 6.2zM696.2 1221.2l-5.6-5.9l5.7-8.4l5.6 6.0zM684.8 1223.7l-5.6-5.7l5.8-8.6l5.6 5.9zM713.2 1225.5l-5.7-6.5l5.8-8.1l5.6 6.7zM701.8 1227.1l-5.6-5.9l5.7-8.3l5.6 6.1zM690.5 1229.4l-5.7-5.7l5.8-8.4l5.6 5.9zM667.8 1234.8l-5.6-4.6l5.7-8.5l5.6 4.7zM707.4 1233.4l-5.6-6.3l5.7-8.1l5.7 6.5zM713.0 1239.9l-5.6-6.5l5.8-7.9l5.6 6.7zM701.7 1241.2l-5.6-6.1l5.7-8.0l5.6 6.3zM690.3 1243.1l-5.6-5.6l5.8-8.1l5.6 5.7zM718.6 1246.4l-5.6-6.5l5.8-7.7l5.6 6.7zM696.0 1249.0l-5.7-5.9l5.8-8.0l5.6 6.1zM401.0 1329.4l-5.7-2.4l5.8-4.1l5.6 2.4zM712.9 1253.8l-5.6-6.3l5.7-7.6l5.6 6.5zM701.6 1255.1l-5.6-6.1l5.7-7.8l5.6 6.3zM729.9 1259.4l-5.6-6.5l5.7-7.3l5.6 6.8zM718.5 1260.1l-5.6-6.3l5.7-7.4l5.7 6.5zM707.2 1261.2l-5.6-6.1l5.7-7.6l5.6 6.3zM695.8 1262.6l-5.6-5.9l5.8-7.7l5.6 6.1zM735.5 1265.9l-5.6-6.5l5.7-7.0l5.6 6.7zM724.1 1266.4l-5.6-6.3l5.8-7.2l5.6 6.5zM729.8 1272.7l-5.7-6.3l5.8-7.0l5.6 6.5zM718.4 1273.4l-5.6-6.1l5.7-7.2l5.6 6.3zM707.1 1274.3l-5.7-5.9l5.8-7.2l5.6 6.1zM735.4 1279.0l-5.6-6.3l5.7-6.8l5.6 6.5zM718.3 1286.1l-5.6-5.9l5.7-6.8l5.6 6.0zM735.2 1291.6l-5.6-6.1l5.8-6.5l5.6 6.3zM723.9 1292.0l-5.6-5.9l5.7-6.7l5.6 6.1zM394.9 1353.0l-5.6-2.6l5.7-3.9l5.6 2.5zM752.2 1297.9l-5.6-6.3l5.7-6.1l5.6 6.5zM740.9 1297.7l-5.7-6.1l5.8-6.3l5.6 6.3zM729.5 1297.9l-5.6-5.9l5.7-6.5l5.6 6.1zM757.8 1304.2l-5.6-6.3l5.7-5.9l5.6 6.5zM746.5 1303.9l-5.6-6.2l5.7-6.1l5.6 6.3zM735.1 1303.8l-5.6-5.9l5.7-6.3l5.7 6.1zM763.4 1310.0l-5.6-5.8l5.7-5.7l5.7 5.9zM752.1 1310.0l-5.6-6.1l5.7-6.0l5.6 6.3zM729.4 1309.8l-5.6-5.7l5.7-6.2l5.6 5.9zM769.0 1315.7l-5.6-5.7l5.8-5.6l5.6 5.9zM746.3 1315.6l-5.6-5.9l5.8-5.8l5.6 6.1zM735.0 1315.5l-5.6-5.7l5.7-6.0l5.6 5.9zM763.3 1321.1l-5.6-5.6l5.7-5.5l5.6 5.7zM752.0 1321.0l-5.7-5.4l5.8-5.6l5.6 5.5zM740.6 1321.2l-5.6-5.7l5.7-5.8l5.6 5.9zM768.9 1326.6l-5.6-5.5l5.7-5.4l5.6 5.7zM757.6 1326.4l-5.6-5.4l5.7-5.5l5.6 5.6zM734.9 1326.7l-5.6-5.5l5.7-5.7l5.6 5.7zM774.5 1331.9l-5.6-5.3l5.7-5.2l5.7 5.5zM751.8 1331.7l-5.6-5.3l5.8-5.4l5.6 5.4zM740.5 1331.8l-5.6-5.1l5.7-5.5l5.6 5.2zM780.1 1336.9l-5.6-5.0l5.8-5.0l5.6 5.1zM768.8 1336.9l-5.6-5.1l5.7-5.2l5.6 5.3zM757.5 1336.9l-5.6-5.2l5.8-5.3l5.6 5.4zM746.1 1336.9l-5.6-5.1l5.7-5.4l5.6 5.3zM734.8 1337.1l-5.7-4.9l5.8-5.5l5.6 5.1zM785.8 1341.9l-5.7-5.0l5.8-4.9l5.6 5.1zM751.7 1341.9l-5.6-5.0l5.7-5.2l5.6 5.2zM740.4 1342.0l-5.6-4.9l5.7-5.3l5.6 5.1zM780.0 1346.6l-5.6-4.8l5.7-4.9l5.7 5.0zM768.7 1346.6l-5.6-4.7l5.7-5.0l5.6 4.9zM757.3 1346.8l-5.6-4.9l5.7-5.0l5.7 5.0zM746.0 1346.9l-5.6-4.9l5.7-5.1l5.6 5.0zM785.6 1351.5l-5.6-4.9l5.8-4.7l5.6 5.0zM774.3 1351.3l-5.6-4.7l5.7-4.8l5.6 4.8zM751.6 1351.6l-5.6-4.7l5.7-5.0l5.6 4.9zM791.2 1355.9l-5.6-4.4l5.8-4.6l5.6 4.5zM768.6 1356.0l-5.7-4.6l5.8-4.8l5.6 4.7zM757.2 1356.1l-5.6-4.5l5.7-4.8l5.6 4.6zM745.9 1356.4l-5.7-4.6l5.8-4.9l5.6 4.7zM762.8 1360.6l-5.6-4.5l5.7-4.7l5.7 4.6zM751.5 1360.8l-5.6-4.4l5.7-4.8l5.6 4.5zM791.1 1364.6l-5.6-4.3l5.7-4.4l5.7 4.3zM779.8 1364.8l-5.6-4.2l5.7-4.6l5.6 4.3zM757.1 1365.1l-5.6-4.3l5.7-4.7l5.6 4.5zM796.7 1368.8l-5.6-4.2l5.8-4.4l5.6 4.4zM762.7 1369.5l-5.6-4.4l5.7-4.5l5.6 4.4zM802.3 1373.1l-5.6-4.3l5.8-4.2l5.6 4.3zM791.0 1373.1l-5.6-4.2l5.7-4.3l5.6 4.2zM779.7 1373.2l-5.7-4.1l5.8-4.3l5.6 4.1zM768.3 1373.5l-5.6-4.0l5.7-4.5l5.6 4.1zM757.0 1373.9l-5.6-4.3l5.7-4.5l5.6 4.4zM796.6 1377.2l-5.6-4.1l5.7-4.3l5.6 4.3zM785.3 1377.2l-5.6-4.0l5.7-4.3l5.6 4.2zM762.6 1377.8l-5.6-3.9l5.7-4.4l5.6 4.0zM802.2 1381.3l-5.6-4.1l5.7-4.1l5.7 4.2zM790.9 1381.3l-5.6-4.1l5.7-4.1l5.6 4.1zM779.5 1381.4l-5.6-4.0l5.8-4.2l5.6 4.0zM768.2 1381.7l-5.6-3.9l5.7-4.3l5.6 3.9zM796.5 1385.3l-5.6-4.0l5.7-4.1l5.6 4.1zM785.1 1385.4l-5.7-4.0l5.8-4.2l5.6 4.1zM773.8 1385.5l-5.6-3.8l5.7-4.3l5.6 4.0zM762.5 1385.8l-5.7-3.8l5.8-4.2l5.6 3.9zM802.1 1389.4l-5.6-4.1l5.7-4.0l5.6 4.2zM790.8 1389.3l-5.6-3.9l5.7-4.1l5.6 4.0zM779.4 1389.4l-5.6-3.9l5.7-4.1l5.7 4.0zM768.1 1389.6l-5.6-3.8l5.7-4.1l5.6 3.8zM807.7 1393.4l-5.6-4.0l5.7-3.9l5.7 4.1zM785.0 1393.3l-5.6-3.9l5.8-4.0l5.6 3.9zM773.7 1393.4l-5.6-3.8l5.7-4.1l5.6 3.9zM762.3 1393.7l-5.6-3.7l5.8-4.2l5.6 3.8zM790.6 1397.1l-5.6-3.8l5.8-4.0l5.6 4.0zM779.3 1397.2l-5.6-3.8l5.7-4.0l5.6 3.9zM807.6 1401.2l-5.6-4.0l5.7-3.8l5.6 4.1zM784.9 1401.0l-5.6-3.8l5.7-3.9l5.6 3.8zM813.2 1405.2l-5.6-4.0l5.7-3.7l5.6 4.0zM801.9 1404.9l-5.6-3.9l5.7-3.8l5.6 4.0zM790.5 1404.8l-5.6-3.8l5.7-3.9l5.7 3.9zM779.2 1404.8l-5.6-3.7l5.7-3.9l5.6 3.8zM767.8 1405.0l-5.6-3.7l5.7-3.9l5.7 3.7zM796.1 1408.6l-5.6-3.8l5.8-3.8l5.6 3.9zM784.8 1408.5l-5.6-3.7l5.7-3.8l5.6 3.8zM813.1 1412.7l-5.6-3.9l5.7-3.6l5.6 3.9zM801.7 1412.4l-5.6-3.8l5.8-3.7l5.6 3.9zM790.4 1412.2l-5.6-3.7l5.7-3.7l5.6 3.8zM767.7 1412.4l-5.6-3.6l5.7-3.8l5.6 3.6zM818.7 1416.4l-5.6-3.7l5.7-3.6l5.6 3.8zM807.4 1416.2l-5.7-3.8l5.8-3.6l5.6 3.9zM796.0 1416.0l-5.6-3.8l5.7-3.6l5.6 3.8zM784.7 1415.9l-5.6-3.7l5.7-3.7l5.6 3.7zM813.0 1419.8l-5.6-3.6l5.7-3.5l5.6 3.7zM801.6 1419.7l-5.6-3.7l5.7-3.6l5.7 3.8zM790.3 1419.5l-5.6-3.6l5.7-3.7l5.6 3.8zM818.6 1422.9l-5.6-3.1l5.7-3.4l5.6 3.1zM807.2 1423.3l-5.6-3.6l5.8-3.5l5.6 3.6zM795.9 1423.2l-5.6-3.7l5.7-3.5l5.6 3.7zM773.2 1423.1l-5.6-3.5l5.7-3.7l5.6 3.6zM812.8 1426.3l-5.6-3.0l5.8-3.5l5.6 3.1zM778.8 1426.6l-5.6-3.5l5.7-3.6l5.6 3.6zM818.5 1429.4l-5.7-3.1l5.8-3.4l5.6 3.1zM807.1 1429.7l-5.6-3.0l5.7-3.4l5.6 3.0zM795.8 1430.1l-5.6-3.4l5.7-3.5l5.6 3.5zM801.4 1433.1l-5.6-3.0l5.7-3.4l5.6 3.0zM790.0 1433.6l-5.6-3.5l5.8-3.4l5.6 3.4zM818.3 1435.8l-5.6-3.0l5.8-3.4l5.6 3.0zM795.6 1436.5l-5.6-2.9l5.8-3.5l5.6 3.0zM784.3 1437.0l-5.6-3.4l5.7-3.5l5.6 3.5zM773.0 1437.1l-5.7-3.4l5.8-3.5l5.6 3.4zM824.0 1438.8l-5.7-3.0l5.8-3.4l5.6 3.1zM801.3 1439.5l-5.7-3.0l5.8-3.4l5.6 3.0zM789.9 1439.9l-5.6-2.9l5.7-3.4l5.6 2.9zM778.6 1440.4l-5.6-3.3l5.7-3.5l5.6 3.4zM818.2 1442.2l-5.6-3.1l5.7-3.3l5.7 3.0zM795.5 1442.9l-5.6-3.0l5.7-3.4l5.7 3.0zM823.8 1445.2l-5.6-3.0l5.8-3.4l5.6 3.0zM812.5 1445.5l-5.6-3.0l5.7-3.4l5.6 3.1zM801.1 1445.9l-5.6-3.0l5.8-3.4l5.6 3.0zM789.8 1446.3l-5.6-3.0l5.7-3.4l5.6 3.0zM778.4 1446.7l-5.6-2.9l5.8-3.4l5.6 2.9zM818.1 1448.5l-5.6-3.0l5.7-3.3l5.6 3.0zM806.8 1448.8l-5.7-2.9l5.8-3.4l5.6 3.0zM795.4 1449.2l-5.6-2.9l5.7-3.4l5.6 3.0zM784.1 1449.6l-5.7-2.9l5.8-3.4l5.6 3.0zM812.4 1451.8l-5.6-3.0l5.7-3.3l5.6 3.0zM789.7 1452.5l-5.6-2.9l5.7-3.3l5.6 2.9zM778.3 1453.0l-5.6-2.9l5.7-3.4l5.7 2.9zM806.6 1455.1l-5.6-3.0l5.8-3.3l5.6 3.0zM795.3 1455.5l-5.6-3.0l5.7-3.3l5.6 2.9zM783.9 1455.9l-5.6-2.9l5.8-3.4l5.6 2.9zM772.6 1456.3l-5.6-2.9l5.7-3.3l5.6 2.9zM789.6 1458.8l-5.7-2.9l5.8-3.4l5.6 3.0zM778.2 1459.2l-5.6-2.9l5.7-3.3l5.6 2.9zM795.2 1461.7l-5.6-2.9l5.7-3.3l5.6 2.9zM783.8 1462.1l-5.6-2.9l5.7-3.3l5.7 2.9zM772.5 1462.6l-5.6-2.9l5.7-3.4l5.6 2.9zM789.4 1465.0l-5.6-2.9l5.8-3.3l5.6 2.9zM778.1 1465.5l-5.6-2.9l5.7-3.4l5.6 2.9zM783.7 1468.3l-5.6-2.8l5.7-3.4l5.6 2.9zM778.0 1471.6l-5.6-2.8l5.7-3.3l5.6 2.8zM772.2 1475.0l-5.6-2.9l5.8-3.3l5.6 2.8zM766.5 1478.3l-5.6-2.9l5.7-3.3l5.6 2.9z"/>
<path fill="#0078ff" stroke="#0078ff" d="M402.8 1239.6l-5.6-1.4l5.7-3.7l5.6 1.3zM453.8 1225.7l-5.6-.2l5.7-4.8l5.6 .1zM419.7 1237.6l-5.6-.9l5.8-4.1l5.6 .8zM465.0 1226.2l-5.6-.2l5.7-5.1l5.6 .0zM431.0 1239.3l-5.7-.8l5.8-4.4l5.6 .6zM459.3 1231.4l-5.7-.4l5.8-5.0l5.6 .2zM425.2 1243.7l-5.6-.9l5.7-4.3l5.7 .8zM442.2 1240.8l-5.6-.8l5.7-4.7l5.6 .6zM600.9 1159.6l-5.6-.1l5.7-8.3l5.6-.1zM487.4 1228.4l-5.6-.6l5.8-5.8l5.6 .4zM606.5 1159.8l-5.6-.2l5.7-8.5l5.6 .0zM493.1 1229.1l-5.7-.7l5.8-6.0l5.6 .6zM470.4 1239.1l-5.6-.9l5.7-5.4l5.6 .7zM612.1 1160.4l-5.6-.6l5.7-8.7l5.7 .5zM555.4 1198.9l-5.6-.8l5.7-7.6l5.6 .6zM532.7 1211.8l-5.6-.4l5.7-7.0l5.6 .2zM510.0 1224.4l-5.6-.7l5.7-6.5l5.7 .6zM595.0 1176.9l-5.6-.4l5.8-8.4l5.6 .3zM549.7 1206.4l-5.6-.9l5.7-7.4l5.6 .8zM532.6 1220.0l-5.6-1.2l5.7-7.0l5.6 1.0zM521.2 1225.7l-5.6-.7l5.8-6.7l5.6 .5zM498.5 1237.1l-5.7-1.0l5.8-6.1l5.6 .8zM617.6 1172.4l-5.6-1.6l5.7-8.8l5.7 1.6zM662.9 1155.4l-5.6-2.8l5.7-8.9l5.6 2.7zM594.8 1196.7l-5.6-1.9l5.7-8.4l5.6 1.7zM668.5 1158.2l-5.6-2.8l5.7-9.0l5.6 2.8zM634.5 1177.5l-5.7-1.7l5.8-9.0l5.6 1.6zM623.1 1184.7l-5.6-1.7l5.7-8.9l5.6 1.7zM611.8 1191.7l-5.6-1.8l5.7-8.7l5.6 1.8zM674.1 1160.9l-5.6-2.7l5.7-9.0l5.6 2.8zM640.1 1179.8l-5.6-2.3l5.7-9.1l5.6 2.3zM606.0 1200.4l-5.6-1.9l5.8-8.6l5.6 1.8zM657.0 1176.3l-5.6-2.8l5.7-9.1l5.7 2.8zM645.7 1182.5l-5.6-2.7l5.7-9.1l5.6 2.8zM634.3 1188.7l-5.6-2.3l5.8-8.9l5.6 2.3zM674.0 1172.7l-5.6-2.7l5.7-9.1l5.6 2.8zM651.3 1185.3l-5.6-2.8l5.7-9.0l5.6 2.8zM696.6 1178.2l-5.7-5.0l5.8-8.7l5.6 5.1zM639.8 1203.2l-5.6-2.8l5.7-8.9l5.7 2.8zM690.8 1187.0l-5.6-4.9l5.7-8.9l5.7 5.0zM679.5 1190.9l-5.6-4.7l5.7-9.0l5.6 4.9zM634.1 1212.0l-5.6-2.8l5.7-8.8l5.6 2.8zM639.7 1214.7l-5.6-2.7l5.7-8.8l5.6 2.7zM656.7 1212.8l-5.6-4.1l5.7-8.9l5.6 4.2zM679.2 1218.0l-5.6-4.9l5.8-8.7l5.6 5.0zM673.5 1226.4l-5.6-4.7l5.7-8.6l5.6 4.9zM662.2 1230.2l-5.7-4.3l5.8-8.6l5.6 4.4zM679.1 1232.0l-5.6-5.6l5.7-8.4l5.6 5.7zM452.2 1309.9l-5.6-2.2l5.7-4.9l5.6 2.3zM696.1 1235.1l-5.6-5.7l5.7-8.2l5.6 5.9zM673.4 1240.2l-5.6-5.4l5.7-8.4l5.6 5.6zM707.3 1247.5l-5.6-6.3l5.7-7.8l5.6 6.5zM724.3 1252.9l-5.7-6.5l5.8-7.5l5.6 6.7zM690.2 1256.7l-5.6-5.8l5.7-7.8l5.7 5.9zM712.8 1267.3l-5.6-6.1l5.7-7.4l5.6 6.3zM724.0 1279.4l-5.6-6.0l5.7-7.0l5.7 6.3zM712.7 1280.2l-5.6-5.9l5.7-7.0l5.6 6.1zM741.0 1285.3l-5.6-6.3l5.7-6.6l5.6 6.5zM729.6 1285.5l-5.6-6.1l5.8-6.7l5.6 6.3zM746.6 1291.6l-5.6-6.3l5.7-6.4l5.6 6.6zM712.5 1292.7l-5.7-5.7l5.8-6.8l5.6 5.9zM718.2 1298.4l-5.6-5.7l5.7-6.6l5.6 5.9zM723.8 1304.1l-5.6-5.7l5.7-6.4l5.6 5.9zM757.7 1315.5l-5.6-5.5l5.7-5.8l5.6 5.8zM723.7 1315.7l-5.7-5.5l5.8-6.1l5.6 5.7zM746.2 1326.4l-5.6-5.2l5.7-5.6l5.7 5.4zM763.2 1331.8l-5.6-5.4l5.7-5.3l5.6 5.5zM729.1 1332.2l-5.6-5.4l5.8-5.6l5.6 5.5zM774.4 1341.8l-5.6-4.9l5.7-5.0l5.6 5.0zM763.1 1341.9l-5.7-5.0l5.8-5.1l5.6 5.1zM762.9 1351.4l-5.6-4.6l5.8-4.9l5.6 4.7zM779.9 1356.0l-5.6-4.7l5.7-4.7l5.6 4.9zM785.5 1360.3l-5.6-4.3l5.7-4.5l5.6 4.4zM774.2 1360.6l-5.6-4.6l5.7-4.7l5.6 4.7zM388.4 1395.2l-5.6-2.7l5.7-3.7l5.6 2.7zM768.4 1365.0l-5.6-4.4l5.8-4.6l5.6 4.6zM785.4 1368.9l-5.6-4.1l5.7-4.5l5.6 4.3zM774.0 1369.1l-5.6-4.1l5.8-4.4l5.6 4.2zM751.4 1369.6l-5.7-4.2l5.8-4.6l5.6 4.3zM773.9 1377.4l-5.6-3.9l5.7-4.4l5.7 4.1zM756.8 1382.0l-5.6-3.8l5.8-4.3l5.6 3.9zM796.4 1393.3l-5.6-4.0l5.7-4.0l5.6 4.1zM802.0 1397.2l-5.6-3.9l5.7-3.9l5.6 4.0zM796.3 1401.0l-5.7-3.9l5.8-3.8l5.6 3.9zM773.6 1401.1l-5.7-3.7l5.8-4.0l5.6 3.8zM807.5 1408.8l-5.6-3.9l5.7-3.7l5.6 4.0zM773.4 1408.6l-5.6-3.6l5.8-3.9l5.6 3.7zM779.1 1412.2l-5.7-3.6l5.8-3.8l5.6 3.7zM773.3 1415.9l-5.6-3.5l5.7-3.8l5.7 3.6zM784.5 1423.1l-5.6-3.6l5.8-3.6l5.6 3.6zM801.5 1426.7l-5.6-3.5l5.7-3.5l5.6 3.6zM784.4 1430.1l-5.6-3.5l5.7-3.5l5.7 3.6zM773.1 1430.2l-5.6-3.5l5.7-3.6l5.6 3.5zM812.7 1432.8l-5.6-3.1l5.7-3.4l5.7 3.1zM778.7 1433.6l-5.6-3.4l5.7-3.6l5.6 3.5zM807.0 1436.1l-5.6-3.0l5.7-3.4l5.6 3.1zM812.6 1439.1l-5.6-3.0l5.7-3.3l5.6 3.0zM806.9 1442.5l-5.6-3.0l5.7-3.4l5.6 3.0zM784.2 1443.3l-5.6-2.9l5.7-3.4l5.6 2.9zM772.8 1443.8l-5.6-3.3l5.8-3.4l5.6 3.3zM772.7 1450.1l-5.6-2.9l5.7-3.4l5.6 2.9zM801.0 1452.1l-5.6-2.9l5.7-3.3l5.7 2.9zM800.9 1458.4l-5.6-2.9l5.7-3.4l5.6 3.0zM766.7 1465.9l-5.6-2.9l5.8-3.3l5.6 2.9zM766.6 1472.1l-5.6-2.9l5.7-3.3l5.7 2.9z"/>
<path fill="#0082ff" stroke="#0082ff" d="M385.8 1239.9l-5.6-2.0l5.7-3.7l5.6 2.0zM397.0 1243.5l-5.6-1.5l5.8-3.8l5.6 1.4zM408.3 1245.9l-5.6-1.2l5.7-4.0l5.6 1.1zM396.9 1248.6l-5.6-1.3l5.7-3.8l5.7 1.2zM447.8 1241.6l-5.6-.8l5.7-4.9l5.6 .6zM476.0 1239.9l-5.6-.8l5.7-5.6l5.6 .7zM492.9 1236.1l-5.6-1.0l5.8-6.0l5.6 .9zM555.3 1207.4l-5.6-1.0l5.7-7.5l5.6 .7zM577.8 1202.0l-5.6-.8l5.8-8.1l5.6 .7zM628.5 1209.2l-5.6-2.8l5.7-8.8l5.6 2.8zM429.9 1294.5l-5.6-2.1l5.7-4.6l5.6 2.0zM446.8 1293.7l-5.6-1.9l5.7-4.9l5.7 1.9zM429.8 1301.1l-5.7-2.1l5.8-4.5l5.6 2.0zM684.6 1250.9l-5.6-5.3l5.7-8.1l5.6 5.6zM695.7 1275.6l-5.6-5.7l5.7-7.3l5.6 5.8zM701.3 1281.3l-5.6-5.7l5.7-7.2l5.7 5.9zM706.9 1287.0l-5.6-5.7l5.8-7.0l5.6 5.9zM718.0 1310.2l-5.6-5.5l5.8-6.3l5.6 5.7zM756.7 1390.0l-5.6-3.8l5.7-4.2l5.7 3.8zM762.2 1401.3l-5.6-3.6l5.7-4.0l5.6 3.7zM767.6 1419.6l-5.6-3.5l5.7-3.7l5.6 3.5z"/>
<path fill="#008cff" stroke="#008cff" d="M413.9 1247.1l-5.6-1.2l5.7-4.1l5.6 1.0zM402.5 1249.9l-5.6-1.3l5.8-3.9l5.6 1.2zM430.8 1244.6l-5.6-.9l5.8-4.4l5.6 .7zM419.5 1248.1l-5.6-1.0l5.7-4.3l5.6 .9zM408.1 1251.2l-5.6-1.3l5.8-4.0l5.6 1.2zM396.8 1253.9l-5.6-1.4l5.7-3.9l5.6 1.3zM425.1 1249.2l-5.6-1.1l5.7-4.4l5.6 .9zM402.4 1255.4l-5.6-1.5l5.7-4.0l5.6 1.3zM453.4 1242.5l-5.6-.9l5.7-5.1l5.6 .9zM459.0 1243.5l-5.6-1.0l5.7-5.1l5.7 .8zM413.6 1258.0l-5.6-1.3l5.8-4.3l5.6 1.2zM453.3 1248.7l-5.6-1.1l5.7-5.1l5.6 1.0zM538.3 1212.8l-5.6-1.0l5.7-7.2l5.7 .9zM481.6 1241.0l-5.6-1.1l5.7-5.7l5.6 .9zM458.9 1249.9l-5.6-1.2l5.7-5.2l5.6 1.0zM424.9 1260.7l-5.7-1.3l5.8-4.6l5.6 1.2zM413.5 1263.8l-5.6-1.5l5.7-4.3l5.6 1.4zM487.2 1242.1l-5.6-1.1l5.7-5.9l5.6 1.0zM464.5 1251.0l-5.6-1.1l5.7-5.4l5.6 1.0zM430.5 1262.2l-5.6-1.5l5.7-4.7l5.6 1.4zM419.1 1265.2l-5.6-1.4l5.7-4.4l5.7 1.3zM407.8 1268.1l-5.6-1.5l5.7-4.3l5.6 1.5zM538.2 1221.1l-5.6-1.1l5.7-7.2l5.6 1.1zM504.2 1238.0l-5.6-.9l5.7-6.3l5.6 .8zM447.4 1260.2l-5.6-1.4l5.8-5.0l5.6 1.3zM436.1 1263.6l-5.6-1.4l5.7-4.8l5.6 1.4zM424.7 1266.8l-5.6-1.6l5.8-4.5l5.6 1.5zM521.1 1233.8l-5.6-1.4l5.7-6.7l5.7 1.3zM430.4 1268.4l-5.7-1.6l5.8-4.6l5.6 1.4zM583.5 1203.2l-5.7-1.2l5.8-8.2l5.6 1.0zM504.0 1245.4l-5.6-1.1l5.8-6.3l5.6 1.0zM458.7 1263.1l-5.7-1.6l5.8-5.2l5.6 1.4zM447.3 1266.6l-5.6-1.5l5.7-4.9l5.6 1.3zM566.4 1218.0l-5.6-1.0l5.7-7.8l5.6 .9zM509.7 1246.9l-5.7-1.5l5.8-6.4l5.6 1.5zM498.3 1251.6l-5.6-1.2l5.7-6.1l5.6 1.1zM481.2 1262.1l-5.6-1.5l5.8-5.6l5.6 1.3zM611.6 1202.2l-5.6-1.8l5.8-8.7l5.6 1.8zM554.9 1233.3l-5.6-1.3l5.7-7.4l5.6 1.1zM583.2 1223.4l-5.6-2.0l5.7-8.1l5.7 2.0zM424.4 1285.8l-5.6-1.8l5.7-4.6l5.6 1.8zM622.8 1217.8l-5.7-2.7l5.8-8.7l5.6 2.8zM600.1 1229.4l-5.7-2.0l5.8-8.2l5.6 1.9zM441.2 1291.8l-5.6-2.0l5.7-4.8l5.6 1.9zM452.4 1295.7l-5.6-2.0l5.8-4.9l5.6 1.9zM639.6 1226.1l-5.6-2.8l5.7-8.6l5.6 2.8zM458.1 1297.9l-5.7-2.2l5.8-5.0l5.6 2.2zM645.2 1230.1l-5.6-4.0l5.7-8.6l5.6 4.0zM463.7 1300.1l-5.6-2.2l5.7-5.0l5.6 2.1zM469.3 1302.3l-5.6-2.2l5.7-5.1l5.6 2.1zM474.9 1304.5l-5.6-2.2l5.7-5.2l5.6 2.2zM463.5 1307.3l-5.6-2.2l5.8-5.0l5.6 2.2zM480.5 1306.7l-5.6-2.2l5.7-5.2l5.6 2.1zM679.0 1245.6l-5.6-5.4l5.7-8.2l5.6 5.5zM486.1 1308.9l-5.6-2.2l5.7-5.3l5.6 2.2zM474.8 1311.8l-5.6-2.2l5.7-5.1l5.6 2.2zM650.6 1259.0l-5.6-4.2l5.7-8.1l5.6 4.4zM491.7 1311.2l-5.6-2.3l5.7-5.3l5.7 2.2zM480.4 1314.1l-5.6-2.3l5.7-5.1l5.6 2.2zM690.1 1269.9l-5.6-5.7l5.7-7.5l5.6 5.9zM678.8 1271.6l-5.7-5.3l5.8-7.6l5.6 5.5zM406.5 1338.4l-5.7-2.5l5.8-4.1l5.6 2.5zM706.8 1299.2l-5.6-5.5l5.7-6.7l5.7 5.7zM723.5 1326.8l-5.6-5.3l5.8-5.8l5.6 5.5zM712.2 1327.2l-5.6-5.1l5.7-5.9l5.6 5.3zM717.8 1332.4l-5.6-5.2l5.7-5.7l5.6 5.3zM734.6 1347.1l-5.6-4.8l5.8-5.2l5.6 4.9zM740.2 1351.8l-5.6-4.7l5.8-5.1l5.6 4.9zM728.9 1352.1l-5.6-4.7l5.7-5.1l5.6 4.8zM745.6 1374.1l-5.6-4.2l5.7-4.5l5.7 4.2zM751.0 1394.0l-5.6-3.6l5.7-4.2l5.6 3.8zM739.6 1394.5l-5.6-3.6l5.8-4.2l5.6 3.7zM756.6 1397.7l-5.6-3.7l5.7-4.0l5.6 3.7zM745.3 1398.1l-5.7-3.6l5.8-4.1l5.6 3.6zM756.5 1405.2l-5.6-3.5l5.7-4.0l5.6 3.6zM762.1 1408.8l-5.6-3.6l5.7-3.9l5.6 3.7zM739.4 1409.5l-5.6-3.5l5.7-3.9l5.6 3.5zM739.3 1416.7l-5.6-3.4l5.7-3.8l5.6 3.4zM761.9 1423.3l-5.7-3.5l5.8-3.7l5.6 3.5zM767.5 1426.7l-5.6-3.4l5.7-3.7l5.6 3.5zM761.6 1437.2l-5.6-3.4l5.7-3.5l5.6 3.4zM761.5 1443.9l-5.6-3.2l5.7-3.5l5.6 3.3zM767.0 1453.4l-5.6-2.9l5.7-3.3l5.6 2.9zM755.6 1453.9l-5.6-3.1l5.8-3.4l5.6 3.1zM744.3 1454.2l-5.6-3.1l5.7-3.5l5.6 3.2zM766.9 1459.7l-5.7-2.9l5.8-3.4l5.6 2.9zM761.1 1463.0l-5.6-2.8l5.7-3.4l5.7 2.9zM749.8 1463.5l-5.6-2.8l5.7-3.4l5.6 2.9zM755.4 1466.4l-5.6-2.9l5.7-3.3l5.6 2.8zM760.9 1475.4l-5.6-2.8l5.7-3.4l5.6 2.9zM726.8 1476.9l-5.6-2.8l5.8-3.3l5.6 2.8zM732.5 1479.8l-5.7-2.9l5.8-3.3l5.6 2.8zM749.4 1482.1l-5.6-2.9l5.7-3.3l5.7 2.8zM738.1 1482.6l-5.6-2.8l5.7-3.4l5.6 2.8zM732.3 1485.9l-5.6-2.8l5.8-3.3l5.6 2.8zM732.2 1492.0l-5.6-2.8l5.7-3.3l5.7 2.8zM726.5 1495.3l-5.6-2.8l5.7-3.3l5.6 2.8z"/>
<path fill="#0095ff" stroke="#0095ff" d="M391.4 1242.0l-5.6-2.1l5.7-3.7l5.7 2.0zM436.4 1245.6l-5.6-1.0l5.8-4.6l5.6 .8zM413.8 1252.4l-5.7-1.2l5.8-4.1l5.6 1.0zM442.1 1246.5l-5.7-.9l5.8-4.8l5.6 .8zM430.7 1250.2l-5.6-1.0l5.7-4.6l5.6 1.0zM419.4 1253.6l-5.6-1.2l5.7-4.3l5.6 1.1zM408.0 1256.7l-5.6-1.3l5.7-4.2l5.7 1.2zM447.7 1247.6l-5.6-1.1l5.7-4.9l5.6 .9zM436.3 1251.3l-5.6-1.1l5.7-4.6l5.7 .9zM425.0 1254.8l-5.6-1.2l5.7-4.4l5.6 1.0zM464.6 1244.5l-5.6-1.0l5.8-5.3l5.6 .9zM441.9 1252.6l-5.6-1.3l5.8-4.8l5.6 1.1zM430.6 1256.0l-5.6-1.2l5.7-4.6l5.6 1.1zM419.2 1259.4l-5.6-1.4l5.8-4.4l5.6 1.2zM407.9 1262.3l-5.6-1.4l5.7-4.2l5.6 1.3zM385.2 1267.5l-5.6-1.8l5.7-3.9l5.6 1.7zM470.2 1245.5l-5.6-1.0l5.8-5.4l5.6 .8zM447.6 1253.8l-5.7-1.2l5.8-5.0l5.6 1.1zM436.2 1257.4l-5.6-1.4l5.7-4.7l5.6 1.3zM543.9 1213.9l-5.6-1.1l5.8-7.3l5.6 .9zM475.9 1246.7l-5.7-1.2l5.8-5.6l5.6 1.1zM453.2 1255.1l-5.6-1.3l5.7-5.1l5.6 1.2zM441.8 1258.8l-5.6-1.4l5.7-4.8l5.7 1.2zM560.9 1208.3l-5.6-.9l5.7-7.8l5.6 .8zM549.5 1214.9l-5.6-1.0l5.8-7.5l5.6 1.0zM526.9 1227.0l-5.7-1.3l5.8-6.9l5.6 1.2zM492.8 1243.2l-5.6-1.1l5.7-6.0l5.7 1.0zM481.5 1247.9l-5.6-1.2l5.7-5.7l5.6 1.1zM470.1 1252.3l-5.6-1.3l5.7-5.5l5.7 1.2zM458.8 1256.3l-5.6-1.2l5.7-5.2l5.6 1.1zM413.4 1269.7l-5.6-1.6l5.7-4.3l5.6 1.4zM555.2 1215.9l-5.7-1.0l5.8-7.5l5.6 .9zM543.8 1222.3l-5.6-1.2l5.7-7.2l5.6 1.0zM532.5 1228.2l-5.6-1.2l5.7-7.0l5.6 1.1zM509.8 1239.0l-5.6-1.0l5.7-6.4l5.6 .8zM498.4 1244.3l-5.6-1.1l5.8-6.1l5.6 .9zM487.1 1249.2l-5.6-1.3l5.7-5.8l5.6 1.1zM475.7 1253.6l-5.6-1.3l5.8-5.6l5.6 1.2zM464.4 1257.7l-5.6-1.4l5.7-5.3l5.6 1.3zM453.0 1261.5l-5.6-1.3l5.8-5.1l5.6 1.2zM441.7 1265.1l-5.6-1.5l5.7-4.8l5.6 1.4zM572.1 1210.1l-5.6-.9l5.7-8.0l5.6 .8zM560.8 1217.0l-5.6-1.1l5.7-7.6l5.6 .9zM549.4 1223.4l-5.6-1.1l5.7-7.4l5.7 1.0zM538.1 1229.5l-5.6-1.3l5.7-7.1l5.6 1.2zM526.7 1235.2l-5.6-1.4l5.8-6.8l5.6 1.2zM515.4 1240.5l-5.6-1.5l5.7-6.6l5.6 1.4zM492.7 1250.4l-5.6-1.2l5.7-6.0l5.6 1.1zM481.3 1255.0l-5.7-1.4l5.8-5.7l5.6 1.3zM470.0 1259.2l-5.6-1.5l5.7-5.4l5.6 1.3zM436.0 1270.0l-5.6-1.6l5.7-4.8l5.6 1.5zM589.1 1205.1l-5.6-1.9l5.7-8.4l5.6 1.9zM577.7 1211.3l-5.6-1.2l5.7-8.1l5.7 1.2zM555.0 1224.6l-5.6-1.2l5.8-7.5l5.6 1.1zM543.7 1230.8l-5.6-1.3l5.7-7.2l5.6 1.1zM532.3 1236.5l-5.6-1.3l5.8-7.0l5.6 1.3zM487.0 1256.3l-5.6-1.3l5.7-5.8l5.6 1.2zM475.6 1260.6l-5.6-1.4l5.7-5.6l5.7 1.4zM464.3 1264.6l-5.6-1.5l5.7-5.4l5.6 1.5zM452.9 1268.2l-5.6-1.6l5.7-5.1l5.7 1.6zM441.6 1271.6l-5.6-1.6l5.7-4.9l5.6 1.5zM594.7 1207.0l-5.6-1.9l5.7-8.4l5.6 1.8zM583.3 1213.3l-5.6-2.0l5.8-8.1l5.6 1.9zM572.0 1219.4l-5.6-1.4l5.7-7.9l5.6 1.2zM560.6 1225.7l-5.6-1.1l5.8-7.6l5.6 1.0zM549.3 1232.0l-5.6-1.2l5.7-7.4l5.6 1.2zM538.0 1237.9l-5.7-1.4l5.8-7.0l5.6 1.3zM526.6 1243.4l-5.6-1.5l5.7-6.7l5.6 1.3zM515.3 1248.5l-5.6-1.6l5.7-6.4l5.6 1.4zM503.9 1253.3l-5.6-1.7l5.7-6.2l5.7 1.5zM492.6 1257.7l-5.6-1.4l5.7-5.9l5.6 1.2zM469.9 1266.2l-5.6-1.6l5.7-5.4l5.6 1.4zM600.3 1208.9l-5.6-1.9l5.7-8.5l5.6 1.9zM589.0 1215.3l-5.7-2.0l5.8-8.2l5.6 1.9zM577.6 1221.4l-5.6-2.0l5.7-8.1l5.6 2.0zM566.3 1227.2l-5.7-1.5l5.8-7.7l5.6 1.4zM543.6 1239.3l-5.6-1.4l5.7-7.1l5.6 1.2zM498.2 1259.4l-5.6-1.7l5.7-6.1l5.6 1.7zM486.8 1263.6l-5.6-1.5l5.8-5.8l5.6 1.4zM475.5 1267.7l-5.6-1.5l5.7-5.6l5.6 1.5zM617.3 1204.1l-5.7-1.9l5.8-8.7l5.6 1.8zM605.9 1210.8l-5.6-1.9l5.7-8.5l5.6 1.8zM594.6 1217.2l-5.6-1.9l5.7-8.3l5.6 1.9zM571.9 1229.2l-5.6-2.0l5.7-7.8l5.6 2.0zM560.5 1234.8l-5.6-1.5l5.7-7.6l5.7 1.5zM549.2 1240.6l-5.6-1.3l5.7-7.3l5.6 1.3zM622.9 1206.4l-5.6-2.3l5.7-8.8l5.6 2.3zM611.5 1212.7l-5.6-1.9l5.7-8.6l5.7 1.9zM600.2 1219.2l-5.6-2.0l5.7-8.3l5.6 1.9zM588.8 1225.4l-5.6-2.0l5.8-8.1l5.6 1.9zM617.1 1215.1l-5.6-2.4l5.8-8.6l5.6 2.3zM605.8 1221.1l-5.6-1.9l5.7-8.4l5.6 1.9zM594.4 1227.4l-5.6-2.0l5.8-8.2l5.6 2.0zM628.4 1220.6l-5.6-2.8l5.7-8.6l5.6 2.8zM617.0 1226.3l-5.6-2.8l5.7-8.4l5.7 2.7zM634.0 1223.3l-5.6-2.7l5.7-8.6l5.6 2.7zM622.6 1229.0l-5.6-2.7l5.8-8.5l5.6 2.8zM628.2 1231.8l-5.6-2.8l5.8-8.4l5.6 2.7zM469.4 1295.0l-5.6-2.1l5.7-5.2l5.6 2.0zM633.9 1234.6l-5.7-2.8l5.8-8.5l5.6 2.8zM475.0 1297.1l-5.6-2.1l5.7-5.3l5.6 2.1zM650.8 1234.3l-5.6-4.2l5.7-8.6l5.6 4.4zM639.5 1238.4l-5.6-3.8l5.7-8.5l5.6 4.0zM656.4 1238.6l-5.6-4.3l5.7-8.4l5.7 4.3zM645.1 1242.6l-5.6-4.2l5.7-8.3l5.6 4.2zM662.0 1243.0l-5.6-4.4l5.8-8.4l5.6 4.6zM650.7 1246.7l-5.6-4.1l5.7-8.3l5.6 4.3zM469.2 1309.6l-5.7-2.3l5.8-5.0l5.6 2.2zM667.6 1248.2l-5.6-5.2l5.8-8.2l5.6 5.4zM656.3 1251.1l-5.6-4.4l5.7-8.1l5.6 4.4zM645.0 1254.8l-5.7-4.1l5.8-8.1l5.6 4.1zM673.3 1253.5l-5.7-5.3l5.8-8.0l5.6 5.4zM661.9 1256.2l-5.6-5.1l5.7-8.1l5.6 5.2zM678.9 1258.7l-5.6-5.2l5.7-7.9l5.6 5.3zM667.5 1261.2l-5.6-5.0l5.7-8.0l5.7 5.3zM684.5 1264.2l-5.6-5.5l5.7-7.8l5.6 5.8zM673.1 1266.3l-5.6-5.1l5.8-7.7l5.6 5.2zM684.4 1277.1l-5.6-5.5l5.7-7.4l5.6 5.7zM690.0 1282.6l-5.6-5.5l5.7-7.2l5.6 5.7zM695.6 1288.1l-5.6-5.5l5.7-7.0l5.6 5.7zM695.5 1300.2l-5.6-5.3l5.7-6.8l5.6 5.6zM701.1 1305.5l-5.6-5.3l5.7-6.5l5.6 5.5zM394.7 1359.4l-5.6-2.6l5.8-3.8l5.6 2.5zM706.7 1310.9l-5.6-5.4l5.7-6.3l5.6 5.5zM712.3 1316.2l-5.6-5.3l5.7-6.2l5.6 5.5zM701.0 1316.9l-5.6-5.1l5.7-6.3l5.6 5.4zM717.9 1321.5l-5.6-5.3l5.7-6.0l5.7 5.5zM706.6 1322.1l-5.6-5.2l5.7-6.0l5.6 5.3zM723.4 1337.5l-5.6-5.1l5.7-5.6l5.6 5.4zM729.0 1342.3l-5.6-4.8l5.7-5.3l5.7 4.9zM717.7 1342.8l-5.6-5.0l5.7-5.4l5.6 5.1zM723.3 1347.4l-5.6-4.6l5.7-5.3l5.6 4.8zM734.5 1356.7l-5.6-4.6l5.7-5.0l5.6 4.7zM723.2 1357.0l-5.6-4.5l5.7-5.1l5.6 4.7zM740.1 1361.1l-5.6-4.4l5.7-4.9l5.7 4.6zM728.8 1361.5l-5.6-4.5l5.7-4.9l5.6 4.6zM745.7 1365.4l-5.6-4.3l5.8-4.7l5.6 4.4zM734.4 1365.8l-5.6-4.3l5.7-4.8l5.6 4.4zM740.0 1369.9l-5.6-4.1l5.7-4.7l5.6 4.3zM728.7 1370.4l-5.7-4.2l5.8-4.7l5.6 4.3zM734.3 1374.4l-5.6-4.0l5.7-4.6l5.6 4.1zM751.2 1378.2l-5.6-4.1l5.8-4.5l5.6 4.3zM739.9 1378.4l-5.6-4.0l5.7-4.5l5.6 4.2zM728.5 1378.9l-5.6-4.0l5.8-4.5l5.6 4.0zM745.5 1382.5l-5.6-4.1l5.7-4.3l5.6 4.1zM734.2 1382.8l-5.7-3.9l5.8-4.5l5.6 4.0zM751.1 1386.2l-5.6-3.7l5.7-4.3l5.6 3.8zM739.8 1386.7l-5.6-3.9l5.7-4.4l5.6 4.1zM745.4 1390.4l-5.6-3.7l5.7-4.2l5.6 3.7zM733.9 1398.6l-5.6-3.6l5.7-4.1l5.6 3.6zM750.9 1401.7l-5.6-3.6l5.7-4.1l5.6 3.7zM739.5 1402.1l-5.6-3.5l5.7-4.1l5.7 3.6zM745.1 1405.6l-5.6-3.5l5.8-4.0l5.6 3.6zM733.8 1406.0l-5.6-3.4l5.7-4.0l5.6 3.5zM750.8 1409.1l-5.7-3.5l5.8-3.9l5.6 3.5zM756.4 1412.6l-5.6-3.5l5.7-3.9l5.6 3.6zM745.0 1412.9l-5.6-3.4l5.7-3.9l5.7 3.5zM733.7 1413.3l-5.6-3.3l5.7-4.0l5.6 3.5zM762.0 1416.1l-5.6-3.5l5.7-3.8l5.6 3.6zM750.6 1416.4l-5.6-3.5l5.8-3.8l5.6 3.5zM756.2 1419.8l-5.6-3.4l5.8-3.8l5.6 3.5zM744.9 1420.1l-5.6-3.4l5.7-3.8l5.6 3.5zM733.5 1420.5l-5.7-3.3l5.8-3.9l5.6 3.4zM750.5 1423.5l-5.6-3.4l5.7-3.7l5.6 3.4zM739.2 1423.8l-5.6-3.3l5.7-3.8l5.6 3.4zM756.1 1426.9l-5.6-3.4l5.7-3.7l5.7 3.5zM744.8 1427.2l-5.6-3.4l5.7-3.7l5.6 3.4zM733.4 1427.5l-5.6-3.3l5.8-3.7l5.6 3.3zM761.7 1430.3l-5.6-3.4l5.8-3.6l5.6 3.4zM750.4 1430.5l-5.6-3.3l5.7-3.7l5.6 3.4zM739.0 1430.8l-5.6-3.3l5.8-3.7l5.6 3.4zM767.3 1433.7l-5.6-3.4l5.8-3.6l5.6 3.5zM756.0 1433.8l-5.6-3.3l5.7-3.6l5.6 3.4zM733.3 1434.4l-5.6-3.2l5.7-3.7l5.6 3.3zM750.3 1437.4l-5.6-3.3l5.7-3.6l5.6 3.3zM738.9 1437.7l-5.6-3.3l5.7-3.6l5.7 3.3zM767.2 1440.5l-5.6-3.3l5.7-3.5l5.7 3.4zM755.9 1440.7l-5.6-3.3l5.7-3.6l5.6 3.4zM744.5 1440.9l-5.6-3.2l5.8-3.6l5.6 3.3zM733.2 1441.2l-5.6-3.2l5.7-3.6l5.6 3.3zM750.1 1444.1l-5.6-3.2l5.8-3.5l5.6 3.3zM767.1 1447.2l-5.6-3.3l5.7-3.4l5.6 3.3zM755.8 1447.4l-5.7-3.3l5.8-3.4l5.6 3.2zM744.4 1447.6l-5.6-3.2l5.7-3.5l5.6 3.2zM733.1 1447.9l-5.6-3.2l5.7-3.5l5.6 3.2zM761.4 1450.5l-5.6-3.1l5.7-3.5l5.6 3.3zM738.7 1451.1l-5.6-3.2l5.7-3.5l5.6 3.2zM732.9 1454.5l-5.6-3.1l5.8-3.5l5.6 3.2zM761.2 1456.8l-5.6-2.9l5.8-3.4l5.6 2.9zM749.9 1457.3l-5.6-3.1l5.7-3.4l5.6 3.1zM738.6 1457.6l-5.7-3.1l5.8-3.4l5.6 3.1zM755.5 1460.2l-5.6-2.9l5.7-3.4l5.6 2.9zM744.2 1460.7l-5.6-3.1l5.7-3.4l5.6 3.1zM732.8 1461.0l-5.6-3.1l5.7-3.4l5.7 3.1zM727.1 1464.4l-5.6-3.0l5.7-3.5l5.6 3.1zM744.0 1466.9l-5.6-2.9l5.8-3.3l5.6 2.8zM732.7 1467.4l-5.6-3.0l5.7-3.4l5.6 3.0zM761.0 1469.2l-5.6-2.8l5.7-3.4l5.6 2.9zM749.7 1469.7l-5.7-2.8l5.8-3.4l5.6 2.9zM738.3 1470.2l-5.6-2.8l5.7-3.4l5.6 2.9zM727.0 1470.8l-5.6-3.0l5.7-3.4l5.6 3.0zM755.3 1472.6l-5.6-2.9l5.7-3.3l5.6 2.8zM743.9 1473.1l-5.6-2.9l5.7-3.3l5.7 2.8zM732.6 1473.6l-5.6-2.8l5.7-3.4l5.6 2.8zM749.5 1475.9l-5.6-2.8l5.8-3.4l5.6 2.9zM738.2 1476.4l-5.6-2.8l5.7-3.4l5.6 2.9zM755.2 1478.7l-5.7-2.8l5.8-3.3l5.6 2.8zM743.8 1479.2l-5.6-2.8l5.7-3.3l5.6 2.8zM760.8 1481.6l-5.6-2.9l5.7-3.3l5.6 2.9zM726.7 1483.1l-5.6-2.8l5.7-3.4l5.7 2.9zM755.0 1484.9l-5.6-2.8l5.8-3.4l5.6 2.9zM743.7 1485.4l-5.6-2.8l5.7-3.4l5.6 2.9zM721.0 1486.4l-5.6-2.8l5.7-3.3l5.6 2.8zM749.3 1488.2l-5.6-2.8l5.7-3.3l5.6 2.8zM738.0 1488.7l-5.7-2.8l5.8-3.3l5.6 2.8zM726.6 1489.2l-5.6-2.8l5.7-3.3l5.6 2.8zM743.6 1491.5l-5.6-2.8l5.7-3.3l5.6 2.8zM720.9 1492.5l-5.6-2.7l5.7-3.4l5.6 2.8zM732.1 1498.1l-5.6-2.8l5.7-3.3l5.6 2.8zM720.8 1498.7l-5.7-2.8l5.8-3.4l5.6 2.8zM726.4 1501.4l-5.6-2.7l5.7-3.4l5.6 2.8zM720.6 1504.8l-5.6-2.8l5.8-3.3l5.6 2.7zM709.3 1505.3l-5.6-2.8l5.7-3.3l5.6 2.8zM714.9 1508.1l-5.6-2.8l5.7-3.3l5.6 2.8zM709.2 1511.4l-5.6-2.8l5.7-3.3l5.6 2.8z"/>
<path fill="#009eff" stroke="#009eff" d="M391.1 1257.9l-5.6-1.5l5.7-3.9l5.6 1.4zM385.3 1261.8l-5.6-1.6l5.8-3.8l5.6 1.5zM402.3 1260.9l-5.6-1.4l5.7-4.1l5.6 1.3zM566.5 1209.2l-5.6-.9l5.7-7.9l5.6 .8zM419.0 1271.4l-5.6-1.7l5.7-4.5l5.6 1.6zM413.3 1275.9l-5.6-1.8l5.7-4.4l5.6 1.7zM521.0 1241.9l-5.6-1.4l5.7-6.7l5.6 1.4zM458.5 1269.9l-5.6-1.7l5.8-5.1l5.6 1.5zM532.2 1244.9l-5.6-1.5l5.7-6.9l5.7 1.4zM435.6 1289.8l-5.6-2.0l5.7-4.7l5.6 1.9zM611.4 1223.5l-5.6-2.4l5.7-8.4l5.6 2.4zM458.2 1290.7l-5.6-1.9l5.7-5.1l5.6 1.9zM463.8 1292.9l-5.6-2.2l5.7-5.1l5.6 2.1zM480.6 1299.3l-5.6-2.2l5.7-5.3l5.7 2.1zM486.2 1301.4l-5.6-2.1l5.8-5.4l5.6 2.1zM684.2 1289.6l-5.6-5.4l5.8-7.1l5.6 5.5zM701.2 1293.7l-5.6-5.6l5.7-6.8l5.6 5.7zM689.9 1294.9l-5.7-5.3l5.8-7.0l5.6 5.5zM712.4 1304.7l-5.6-5.5l5.8-6.5l5.6 5.7zM371.8 1374.5l-5.6-2.6l5.7-3.7l5.6 2.6zM723.0 1366.2l-5.6-4.4l5.8-4.8l5.6 4.5zM728.4 1387.1l-5.6-3.9l5.7-4.3l5.7 3.9zM734.0 1390.9l-5.6-3.8l5.8-4.3l5.6 3.9zM744.7 1434.1l-5.7-3.3l5.8-3.6l5.6 3.3zM738.8 1444.4l-5.6-3.2l5.7-3.5l5.6 3.2zM750.0 1450.8l-5.6-3.2l5.7-3.5l5.7 3.3zM727.2 1457.9l-5.6-3.1l5.7-3.4l5.6 3.1zM738.4 1464.0l-5.6-3.0l5.8-3.4l5.6 3.1zM721.1 1480.3l-5.6-2.8l5.7-3.4l5.6 2.8zM737.8 1494.8l-5.6-2.8l5.8-3.3l5.6 2.8zM715.1 1495.9l-5.6-2.8l5.8-3.3l5.6 2.7zM715.0 1502.0l-5.6-2.8l5.7-3.3l5.7 2.8z"/>
<path fill="#00a7ff" stroke="#00a7ff" d="M424.6 1273.1l-5.6-1.7l5.7-4.6l5.7 1.6zM447.2 1273.3l-5.6-1.7l5.7-5.0l5.6 1.6zM464.1 1271.6l-5.7-1.7l5.8-5.3l5.6 1.6zM396.1 1288.8l-5.6-2.0l5.7-4.2l5.6 2.0zM537.8 1246.3l-5.6-1.4l5.8-7.0l5.6 1.4zM492.5 1265.4l-5.7-1.8l5.8-5.9l5.6 1.7zM481.1 1269.3l-5.6-1.6l5.7-5.6l5.6 1.5zM401.7 1290.8l-5.6-2.0l5.7-4.2l5.6 1.9zM577.5 1231.3l-5.6-2.1l5.7-7.8l5.6 2.0zM407.3 1292.8l-5.6-2.0l5.7-4.3l5.6 1.9zM605.7 1231.8l-5.6-2.4l5.7-8.3l5.6 2.4zM639.3 1250.7l-5.6-4.1l5.8-8.2l5.6 4.2zM678.6 1284.2l-5.6-5.3l5.8-7.3l5.6 5.5zM389.3 1350.4l-5.7-2.6l5.8-3.9l5.6 2.6zM717.6 1352.5l-5.7-4.5l5.8-5.2l5.6 4.6zM727.5 1444.7l-5.7-3.1l5.8-3.6l5.6 3.2zM721.2 1474.1l-5.6-2.9l5.8-3.4l5.6 3.0zM579.0 1502.5l-5.6-2.8l5.7-3.4l5.6 2.8zM567.5 1509.2l-5.6-2.8l5.7-3.3l5.7 2.7zM703.6 1508.6l-5.7-2.8l5.8-3.3l5.6 2.8zM703.4 1514.7l-5.6-2.8l5.8-3.3l5.6 2.8z"/>
<path fill="#00b0ff" stroke="#00b0ff" d="M390.8 1269.1l-5.6-1.6l5.7-4.0l5.7 1.5zM396.4 1270.8l-5.6-1.7l5.8-4.1l5.6 1.6zM402.0 1272.4l-5.6-1.6l5.8-4.2l5.6 1.5zM407.7 1274.1l-5.7-1.7l5.8-4.3l5.6 1.6zM396.3 1276.6l-5.6-1.7l5.7-4.1l5.6 1.6zM390.6 1280.8l-5.6-1.9l5.7-4.0l5.6 1.7zM430.2 1274.8l-5.6-1.7l5.8-4.7l5.6 1.6zM418.9 1277.6l-5.6-1.7l5.7-4.5l5.6 1.7zM435.8 1276.5l-5.6-1.7l5.8-4.8l5.6 1.6zM424.5 1279.4l-5.6-1.8l5.7-4.5l5.6 1.7zM520.9 1250.1l-5.6-1.6l5.7-6.6l5.6 1.5zM515.1 1256.6l-5.6-1.7l5.8-6.4l5.6 1.6zM503.8 1261.1l-5.6-1.7l5.7-6.1l5.6 1.6zM554.8 1242.2l-5.6-1.6l5.7-7.3l5.6 1.5zM520.8 1258.2l-5.7-1.6l5.8-6.5l5.6 1.5zM498.1 1267.2l-5.6-1.8l5.7-6.0l5.6 1.7zM464.0 1278.5l-5.6-1.7l5.8-5.2l5.6 1.6zM441.3 1285.0l-5.6-1.9l5.8-4.8l5.6 1.8zM583.1 1233.3l-5.6-2.0l5.7-7.9l5.6 2.0zM481.0 1276.8l-5.6-1.9l5.7-5.6l5.6 1.9zM424.3 1292.4l-5.7-2.0l5.8-4.6l5.6 2.0zM554.7 1251.7l-5.6-2.2l5.7-7.3l5.6 2.2zM452.6 1288.8l-5.7-1.9l5.8-5.0l5.6 1.8zM560.3 1253.9l-5.6-2.2l5.7-7.3l5.6 2.1zM514.9 1272.6l-5.6-1.8l5.7-6.2l5.6 1.7zM469.5 1287.7l-5.6-2.1l5.7-5.3l5.7 2.0zM588.6 1245.3l-5.6-2.1l5.7-7.8l5.6 2.1zM520.5 1274.4l-5.6-1.8l5.7-6.3l5.6 1.8zM571.5 1258.2l-5.6-2.1l5.7-7.4l5.6 2.1zM548.8 1267.9l-5.6-2.3l5.7-6.9l5.7 2.3zM537.5 1272.3l-5.6-2.3l5.7-6.7l5.6 2.3zM514.8 1280.6l-5.6-1.9l5.7-6.1l5.6 1.8zM543.1 1274.6l-5.6-2.3l5.7-6.7l5.6 2.3zM531.7 1278.8l-5.6-2.4l5.8-6.4l5.6 2.3zM588.3 1265.7l-5.6-2.8l5.8-7.4l5.6 2.7zM616.7 1258.8l-5.7-2.7l5.8-7.9l5.6 2.7zM605.3 1263.7l-5.6-2.7l5.7-7.7l5.6 2.8zM594.0 1268.4l-5.7-2.7l5.8-7.5l5.6 2.8zM457.8 1312.2l-5.6-2.3l5.7-4.8l5.6 2.2zM633.6 1258.6l-5.6-3.9l5.7-8.1l5.6 4.1zM622.3 1262.5l-5.6-3.7l5.7-7.9l5.6 3.8zM610.9 1266.5l-5.6-2.8l5.7-7.6l5.7 2.7zM639.2 1262.6l-5.6-4.0l5.7-7.9l5.7 4.1zM616.5 1270.1l-5.6-3.6l5.8-7.7l5.6 3.7zM656.2 1263.9l-5.6-4.9l5.7-7.9l5.6 5.1zM497.3 1313.7l-5.6-2.5l5.8-5.4l5.6 2.5zM486.0 1316.4l-5.6-2.3l5.7-5.2l5.6 2.3zM639.1 1274.3l-5.6-4.1l5.7-7.6l5.6 4.1zM672.9 1291.2l-5.6-5.2l5.7-7.1l5.6 5.3zM678.5 1296.3l-5.6-5.1l5.7-7.0l5.6 5.4zM700.8 1327.9l-5.6-5.0l5.8-6.0l5.6 5.2zM706.5 1332.8l-5.7-4.9l5.8-5.8l5.6 5.1zM695.1 1333.5l-5.6-4.8l5.7-5.8l5.6 5.0zM712.1 1337.8l-5.6-5.0l5.7-5.6l5.6 5.2zM706.3 1343.2l-5.6-4.8l5.8-5.6l5.6 5.0zM711.8 1357.5l-5.6-4.4l5.7-5.1l5.7 4.5zM717.4 1361.8l-5.6-4.3l5.8-5.0l5.6 4.5zM722.9 1374.9l-5.6-4.1l5.7-4.6l5.7 4.2zM717.2 1379.4l-5.6-4.0l5.7-4.6l5.6 4.1zM722.8 1383.2l-5.6-3.8l5.7-4.5l5.6 4.0zM728.3 1395.0l-5.6-3.7l5.7-4.2l5.6 3.8zM722.6 1399.1l-5.6-3.7l5.7-4.1l5.6 3.7zM728.1 1410.0l-5.7-3.4l5.8-4.0l5.6 3.4zM716.7 1410.5l-5.6-3.4l5.7-3.9l5.6 3.4zM716.6 1417.7l-5.6-3.3l5.7-3.9l5.6 3.3zM722.2 1421.0l-5.6-3.3l5.7-3.9l5.6 3.4zM710.9 1421.5l-5.7-3.2l5.8-3.9l5.6 3.3zM699.5 1422.1l-5.6-3.2l5.7-3.9l5.6 3.3zM727.8 1424.2l-5.6-3.2l5.7-3.8l5.7 3.3zM710.7 1428.5l-5.6-3.2l5.8-3.8l5.6 3.2zM693.7 1432.7l-5.7-3.1l5.8-3.7l5.6 3.1zM699.3 1435.8l-5.6-3.1l5.7-3.7l5.6 3.2zM727.6 1438.0l-5.6-3.2l5.7-3.6l5.6 3.2zM704.9 1438.9l-5.6-3.1l5.7-3.6l5.6 3.1zM710.5 1442.0l-5.6-3.1l5.7-3.6l5.6 3.2zM704.8 1445.6l-5.6-3.1l5.7-3.6l5.6 3.1zM710.4 1448.7l-5.6-3.1l5.7-3.6l5.6 3.2zM727.3 1451.4l-5.6-3.1l5.8-3.6l5.6 3.2zM721.6 1454.8l-5.6-3.0l5.7-3.5l5.6 3.1zM698.8 1462.2l-5.6-3.0l5.7-3.5l5.6 3.0zM721.4 1467.8l-5.7-3.0l5.8-3.4l5.6 3.0zM687.3 1469.1l-5.6-3.0l5.7-3.4l5.7 2.9zM692.9 1472.0l-5.6-2.9l5.8-3.5l5.6 3.0zM517.0 1484.2l-5.6-2.8l5.7-3.4l5.6 2.8zM687.1 1481.7l-5.6-2.9l5.7-3.4l5.6 2.9zM704.0 1484.2l-5.6-2.9l5.8-3.4l5.6 2.9zM692.7 1484.6l-5.6-2.9l5.7-3.4l5.6 3.0zM709.6 1487.0l-5.6-2.8l5.8-3.4l5.6 2.8zM687.0 1488.0l-5.7-2.9l5.8-3.4l5.6 2.9zM715.3 1489.8l-5.7-2.8l5.8-3.4l5.6 2.8zM703.9 1490.3l-5.6-2.8l5.7-3.3l5.6 2.8zM573.4 1499.7l-5.6-2.8l5.7-3.4l5.6 2.8zM562.0 1500.3l-5.6-2.8l5.8-3.4l5.6 2.8zM567.6 1503.1l-5.6-2.8l5.8-3.4l5.6 2.8zM709.4 1499.2l-5.6-2.8l5.7-3.3l5.6 2.8zM584.6 1505.3l-5.6-2.8l5.7-3.4l5.6 2.8zM573.3 1505.8l-5.7-2.7l5.8-3.4l5.6 2.8zM561.9 1506.4l-5.6-2.7l5.7-3.4l5.6 2.8zM703.7 1502.5l-5.6-2.8l5.7-3.3l5.6 2.8zM590.2 1508.0l-5.6-2.7l5.7-3.4l5.6 2.8zM578.9 1508.6l-5.6-2.8l5.7-3.3l5.6 2.8zM595.8 1510.8l-5.6-2.8l5.7-3.3l5.7 2.8zM590.1 1514.2l-5.6-2.8l5.7-3.4l5.6 2.8zM675.1 1513.0l-5.6-2.7l5.7-3.4l5.7 2.8zM675.0 1519.1l-5.6-2.7l5.7-3.4l5.6 2.8zM669.3 1522.4l-5.6-2.7l5.7-3.3l5.6 2.7zM680.5 1527.9l-5.6-2.7l5.7-3.3l5.6 2.7zM674.8 1531.2l-5.6-2.7l5.7-3.3l5.6 2.7zM669.0 1534.6l-5.6-2.8l5.8-3.3l5.6 2.7z"/>
<path fill="#00b9ff" stroke="#00b9ff" d="M380.1 1243.6l-5.6-2.1l5.7-3.6l5.6 2.0zM380.0 1249.4l-5.7-2.2l5.8-3.6l5.6 2.1zM396.7 1259.5l-5.6-1.6l5.7-4.0l5.6 1.5zM390.7 1274.9l-5.6-1.8l5.7-4.0l5.6 1.7zM390.5 1286.8l-5.7-1.9l5.8-4.1l5.6 1.8zM509.5 1254.9l-5.6-1.6l5.8-6.4l5.6 1.6zM452.8 1275.1l-5.6-1.8l5.7-5.1l5.6 1.7zM441.5 1278.3l-5.7-1.8l5.8-4.9l5.6 1.7zM430.1 1281.2l-5.6-1.8l5.7-4.6l5.6 1.7zM526.5 1251.6l-5.6-1.5l5.7-6.7l5.6 1.5zM469.8 1273.2l-5.6-1.6l5.7-5.4l5.6 1.5zM458.4 1276.8l-5.6-1.7l5.7-5.2l5.7 1.7zM447.1 1280.1l-5.6-1.8l5.7-5.0l5.6 1.8zM566.1 1236.9l-5.6-2.1l5.8-7.6l5.6 2.0zM543.4 1247.8l-5.6-1.5l5.8-7.0l5.6 1.3zM532.1 1253.2l-5.6-1.6l5.7-6.7l5.6 1.4zM509.4 1262.9l-5.6-1.8l5.7-6.2l5.6 1.7zM486.7 1271.2l-5.6-1.9l5.7-5.7l5.7 1.8zM475.4 1274.9l-5.6-1.7l5.7-5.5l5.6 1.6zM452.7 1281.9l-5.6-1.8l5.7-5.0l5.6 1.7zM430.0 1287.8l-5.6-2.0l5.7-4.6l5.6 1.9zM571.8 1239.0l-5.7-2.1l5.8-7.7l5.6 2.1zM560.4 1244.4l-5.6-2.2l5.7-7.4l5.6 2.1zM549.1 1249.5l-5.7-1.7l5.8-7.2l5.6 1.6zM537.7 1254.7l-5.6-1.5l5.7-6.9l5.6 1.5zM526.4 1259.9l-5.6-1.7l5.7-6.6l5.6 1.6zM515.0 1264.6l-5.6-1.7l5.7-6.3l5.7 1.6zM503.7 1269.0l-5.6-1.8l5.7-6.1l5.6 1.8zM492.3 1273.1l-5.6-1.9l5.8-5.8l5.6 1.8zM469.6 1280.3l-5.6-1.8l5.8-5.3l5.6 1.7zM458.3 1283.7l-5.6-1.8l5.7-5.1l5.6 1.7zM446.9 1286.9l-5.6-1.9l5.8-4.9l5.6 1.8zM588.7 1235.4l-5.6-2.1l5.7-7.9l5.6 2.0zM577.4 1241.1l-5.6-2.1l5.7-7.7l5.6 2.0zM566.0 1246.5l-5.6-2.1l5.7-7.5l5.7 2.1zM543.3 1256.5l-5.6-1.8l5.7-6.9l5.7 1.7zM532.0 1261.5l-5.6-1.6l5.7-6.7l5.6 1.5zM520.6 1266.3l-5.6-1.7l5.8-6.4l5.6 1.7zM509.3 1270.8l-5.6-1.8l5.7-6.1l5.6 1.7zM497.9 1275.0l-5.6-1.9l5.8-5.9l5.6 1.8zM486.6 1278.8l-5.6-2.0l5.7-5.6l5.6 1.9zM475.3 1282.3l-5.7-2.0l5.8-5.4l5.6 1.9zM463.9 1285.6l-5.6-1.9l5.7-5.2l5.6 1.8zM594.3 1237.5l-5.6-2.1l5.7-8.0l5.7 2.0zM583.0 1243.2l-5.6-2.1l5.7-7.8l5.6 2.1zM571.6 1248.7l-5.6-2.2l5.8-7.5l5.6 2.1zM548.9 1258.7l-5.6-2.2l5.8-7.0l5.6 2.2zM537.6 1263.3l-5.6-1.8l5.7-6.8l5.6 1.8zM526.2 1268.1l-5.6-1.8l5.8-6.4l5.6 1.6zM503.6 1276.8l-5.7-1.8l5.8-6.0l5.6 1.8zM492.2 1280.7l-5.6-1.9l5.7-5.7l5.6 1.9zM480.9 1284.3l-5.6-2.0l5.7-5.5l5.6 2.0zM611.3 1234.6l-5.6-2.8l5.7-8.3l5.6 2.8zM599.9 1239.9l-5.6-2.4l5.8-8.1l5.6 2.4zM577.2 1250.8l-5.6-2.1l5.8-7.6l5.6 2.1zM565.9 1256.1l-5.6-2.2l5.7-7.4l5.6 2.2zM554.6 1261.0l-5.7-2.3l5.8-7.0l5.6 2.2zM543.2 1265.6l-5.6-2.3l5.7-6.8l5.6 2.2zM509.2 1278.7l-5.6-1.9l5.7-6.0l5.6 1.8zM497.8 1282.7l-5.6-2.0l5.7-5.7l5.7 1.8zM486.5 1286.4l-5.6-2.1l5.7-5.5l5.6 1.9zM475.1 1289.7l-5.6-2.0l5.8-5.4l5.6 2.0zM616.9 1237.3l-5.6-2.7l5.7-8.3l5.6 2.7zM605.5 1242.7l-5.7-2.8l5.8-8.1l5.6 2.8zM594.2 1247.8l-5.6-2.5l5.7-7.8l5.6 2.4zM582.9 1253.0l-5.7-2.2l5.8-7.6l5.6 2.1zM526.1 1276.4l-5.6-2.0l5.7-6.3l5.7 1.9zM503.4 1284.7l-5.6-2.0l5.8-5.9l5.6 1.9zM492.1 1288.4l-5.6-2.0l5.7-5.7l5.6 2.0zM480.7 1291.8l-5.6-2.1l5.8-5.4l5.6 2.1zM622.5 1240.1l-5.6-2.8l5.7-8.3l5.6 2.8zM611.2 1245.4l-5.6-2.7l5.7-8.1l5.6 2.7zM599.8 1250.5l-5.6-2.7l5.7-7.9l5.7 2.8zM588.5 1255.5l-5.6-2.5l5.7-7.7l5.6 2.5zM577.1 1260.4l-5.6-2.2l5.7-7.4l5.7 2.2zM565.8 1265.4l-5.6-2.2l5.7-7.1l5.6 2.1zM554.4 1270.2l-5.6-2.3l5.8-6.9l5.6 2.2zM520.4 1282.7l-5.6-2.1l5.7-6.2l5.6 2.0zM497.7 1290.4l-5.6-2.0l5.7-5.7l5.6 2.0zM628.1 1242.8l-5.6-2.7l5.7-8.3l5.7 2.8zM616.8 1248.2l-5.6-2.8l5.7-8.1l5.6 2.8zM605.4 1253.3l-5.6-2.8l5.8-7.8l5.6 2.7zM594.1 1258.2l-5.6-2.7l5.7-7.7l5.6 2.7zM582.7 1262.9l-5.6-2.5l5.8-7.4l5.6 2.5zM571.4 1267.7l-5.6-2.3l5.7-7.2l5.6 2.2zM633.7 1246.6l-5.6-3.8l5.8-8.2l5.6 3.8zM622.4 1250.9l-5.6-2.7l5.7-8.1l5.6 2.7zM611.0 1256.1l-5.6-2.8l5.8-7.9l5.6 2.8zM628.0 1254.7l-5.6-3.8l5.7-8.1l5.6 3.8zM491.8 1303.6l-5.6-2.2l5.8-5.4l5.6 2.1zM627.9 1266.3l-5.6-3.8l5.7-7.8l5.6 3.9zM644.8 1266.7l-5.6-4.1l5.8-7.8l5.6 4.2zM633.5 1270.2l-5.6-3.9l5.7-7.7l5.6 4.0zM622.1 1273.9l-5.6-3.8l5.8-7.6l5.6 3.8zM661.8 1268.8l-5.6-4.9l5.7-7.7l5.6 5.0zM650.5 1271.5l-5.6-4.8l5.8-7.7l5.6 4.9zM667.4 1273.7l-5.6-4.9l5.7-7.6l5.6 5.1zM656.1 1276.3l-5.7-4.8l5.8-7.6l5.6 4.9zM644.7 1278.9l-5.6-4.6l5.7-7.6l5.6 4.8zM673.0 1278.9l-5.6-5.2l5.7-7.4l5.7 5.3zM661.7 1281.0l-5.6-4.7l5.7-7.5l5.6 4.9zM650.3 1283.5l-5.6-4.6l5.7-7.4l5.7 4.8zM667.3 1286.0l-5.6-5.0l5.7-7.3l5.6 5.2zM655.9 1288.1l-5.6-4.6l5.8-7.2l5.6 4.7zM661.6 1293.0l-5.7-4.9l5.8-7.1l5.6 5.0zM667.2 1298.0l-5.6-5.0l5.7-7.0l5.6 5.2zM684.1 1301.5l-5.6-5.2l5.7-6.7l5.7 5.3zM672.8 1302.9l-5.6-4.9l5.7-6.8l5.6 5.1zM689.7 1306.6l-5.6-5.1l5.8-6.6l5.6 5.3zM678.4 1307.9l-5.6-5.0l5.7-6.6l5.6 5.2zM695.4 1311.8l-5.7-5.2l5.8-6.4l5.6 5.3zM684.0 1312.9l-5.6-5.0l5.7-6.4l5.6 5.1zM672.7 1314.2l-5.7-4.8l5.8-6.5l5.6 5.0zM689.6 1317.9l-5.6-5.0l5.7-6.3l5.7 5.2zM678.3 1319.1l-5.6-4.9l5.7-6.3l5.6 5.0zM695.2 1322.9l-5.6-5.0l5.8-6.1l5.6 5.1zM683.9 1323.9l-5.6-4.8l5.7-6.2l5.6 5.0zM689.5 1328.7l-5.6-4.8l5.7-6.0l5.6 5.0zM377.4 1377.2l-5.6-2.7l5.7-3.7l5.7 2.6zM700.7 1338.4l-5.6-4.9l5.7-5.6l5.7 4.9zM689.4 1339.1l-5.6-4.7l5.7-5.7l5.6 4.8zM695.0 1343.8l-5.6-4.7l5.7-5.6l5.6 4.9zM711.9 1348.0l-5.6-4.8l5.8-5.4l5.6 5.0zM700.6 1348.4l-5.6-4.6l5.7-5.4l5.6 4.8zM706.2 1353.1l-5.6-4.7l5.7-5.2l5.6 4.8zM694.9 1353.6l-5.6-4.6l5.7-5.2l5.6 4.6zM700.5 1358.1l-5.6-4.5l5.7-5.2l5.6 4.7zM706.1 1362.3l-5.6-4.2l5.7-5.0l5.6 4.4zM711.7 1366.6l-5.6-4.3l5.7-4.8l5.6 4.3zM700.4 1367.1l-5.7-4.1l5.8-4.9l5.6 4.2zM717.3 1370.8l-5.6-4.2l5.7-4.8l5.6 4.4zM706.0 1371.3l-5.6-4.2l5.7-4.8l5.6 4.3zM711.6 1375.4l-5.6-4.1l5.7-4.7l5.6 4.2zM700.2 1375.9l-5.6-4.0l5.8-4.8l5.6 4.2zM705.8 1379.9l-5.6-4.0l5.8-4.6l5.6 4.1zM711.5 1383.8l-5.7-3.9l5.8-4.5l5.6 4.0zM717.1 1387.5l-5.6-3.7l5.7-4.4l5.6 3.8zM705.7 1388.1l-5.6-3.8l5.7-4.4l5.7 3.9zM722.7 1391.3l-5.6-3.8l5.7-4.3l5.6 3.9zM711.3 1391.8l-5.6-3.7l5.8-4.3l5.6 3.7zM717.0 1395.4l-5.7-3.6l5.8-4.3l5.6 3.8zM705.6 1396.0l-5.6-3.6l5.7-4.3l5.6 3.7zM711.2 1399.6l-5.6-3.6l5.7-4.2l5.7 3.6zM728.2 1402.6l-5.6-3.5l5.7-4.1l5.6 3.6zM716.8 1403.2l-5.6-3.6l5.8-4.2l5.6 3.7zM705.5 1403.6l-5.6-3.5l5.7-4.1l5.6 3.6zM722.4 1406.6l-5.6-3.4l5.8-4.1l5.6 3.5zM711.1 1407.1l-5.6-3.5l5.7-4.0l5.6 3.6zM699.8 1407.6l-5.7-3.4l5.8-4.1l5.6 3.5zM705.4 1411.1l-5.6-3.5l5.7-4.0l5.6 3.5zM722.3 1413.8l-5.6-3.3l5.7-3.9l5.7 3.4zM711.0 1414.4l-5.6-3.3l5.7-4.0l5.6 3.4zM699.6 1415.0l-5.6-3.4l5.8-4.0l5.6 3.5zM727.9 1417.2l-5.6-3.4l5.8-3.8l5.6 3.3zM705.2 1418.3l-5.6-3.3l5.8-3.9l5.6 3.3zM716.5 1424.7l-5.6-3.2l5.7-3.8l5.6 3.3zM705.1 1425.3l-5.6-3.2l5.7-3.8l5.7 3.2zM693.8 1425.9l-5.6-3.2l5.7-3.8l5.6 3.2zM722.1 1428.0l-5.6-3.3l5.7-3.7l5.6 3.2zM699.4 1429.0l-5.6-3.1l5.7-3.8l5.6 3.2zM727.7 1431.2l-5.6-3.2l5.7-3.8l5.6 3.3zM716.3 1431.6l-5.6-3.1l5.8-3.8l5.6 3.3zM705.0 1432.2l-5.6-3.2l5.7-3.7l5.6 3.2zM722.0 1434.8l-5.7-3.2l5.8-3.6l5.6 3.2zM710.6 1435.3l-5.6-3.1l5.7-3.7l5.6 3.1zM716.2 1438.5l-5.6-3.2l5.7-3.7l5.7 3.2zM693.5 1439.5l-5.6-3.1l5.8-3.7l5.6 3.1zM721.8 1441.6l-5.6-3.1l5.8-3.7l5.6 3.2zM699.1 1442.5l-5.7-3.0l5.8-3.7l5.6 3.1zM716.1 1445.2l-5.6-3.2l5.7-3.5l5.6 3.1zM721.7 1448.3l-5.6-3.1l5.7-3.6l5.7 3.1zM699.0 1449.2l-5.6-3.1l5.8-3.6l5.6 3.1zM704.6 1452.2l-5.6-3.0l5.8-3.6l5.6 3.1zM693.3 1452.7l-5.6-3.0l5.7-3.6l5.6 3.1zM710.3 1455.3l-5.7-3.1l5.8-3.5l5.6 3.1zM698.9 1455.7l-5.6-3.0l5.7-3.5l5.6 3.0zM715.9 1458.3l-5.6-3.0l5.7-3.5l5.6 3.0zM704.5 1458.7l-5.6-3.0l5.7-3.5l5.7 3.1zM693.2 1459.2l-5.6-3.0l5.7-3.5l5.6 3.0zM721.5 1461.4l-5.6-3.1l5.7-3.5l5.6 3.1zM687.4 1462.7l-5.6-3.0l5.8-3.5l5.6 3.0zM704.4 1465.2l-5.6-3.0l5.7-3.5l5.6 3.1zM693.1 1465.6l-5.7-2.9l5.8-3.5l5.6 3.0zM710.0 1468.2l-5.6-3.0l5.7-3.4l5.6 3.0zM698.7 1468.6l-5.6-3.0l5.7-3.4l5.6 3.0zM715.6 1471.2l-5.6-3.0l5.7-3.4l5.7 3.0zM704.3 1471.6l-5.6-3.0l5.7-3.4l5.6 3.0zM709.9 1474.5l-5.6-2.9l5.7-3.4l5.6 3.0zM698.5 1475.0l-5.6-3.0l5.8-3.4l5.6 3.0zM687.2 1475.4l-5.6-2.9l5.7-3.4l5.6 2.9zM528.4 1483.6l-5.7-2.8l5.8-3.4l5.6 2.8zM715.5 1477.5l-5.6-3.0l5.7-3.3l5.6 2.9zM704.2 1477.9l-5.7-2.9l5.8-3.4l5.6 2.9zM692.8 1478.3l-5.6-2.9l5.7-3.4l5.6 3.0zM681.5 1478.8l-5.6-2.9l5.7-3.4l5.6 2.9zM534.0 1486.4l-5.6-2.8l5.7-3.4l5.6 2.8zM522.6 1487.0l-5.6-2.8l5.7-3.4l5.7 2.8zM709.8 1480.8l-5.6-2.9l5.7-3.4l5.6 3.0zM698.4 1481.3l-5.6-3.0l5.7-3.3l5.7 2.9zM539.6 1489.2l-5.6-2.8l5.7-3.4l5.6 2.8zM528.2 1489.8l-5.6-2.8l5.8-3.4l5.6 2.8zM715.4 1483.6l-5.6-2.8l5.7-3.3l5.6 2.8zM681.3 1485.1l-5.6-2.9l5.8-3.4l5.6 2.9zM545.2 1492.0l-5.6-2.8l5.7-3.4l5.6 2.8zM698.3 1487.5l-5.6-2.9l5.7-3.3l5.6 2.9zM692.6 1490.9l-5.6-2.9l5.7-3.4l5.6 2.9zM681.2 1491.3l-5.6-2.8l5.7-3.4l5.7 2.9zM709.5 1493.1l-5.6-2.8l5.7-3.3l5.7 2.8zM698.2 1493.6l-5.6-2.7l5.7-3.4l5.6 2.8zM686.8 1494.2l-5.6-2.9l5.8-3.3l5.6 2.9zM703.8 1496.4l-5.6-2.8l5.7-3.3l5.6 2.8zM692.4 1497.0l-5.6-2.8l5.8-3.3l5.6 2.7zM681.1 1497.5l-5.6-2.8l5.7-3.4l5.6 2.9zM698.1 1499.7l-5.7-2.7l5.8-3.4l5.6 2.8zM686.7 1500.3l-5.6-2.8l5.7-3.3l5.6 2.8zM675.4 1500.9l-5.6-2.9l5.7-3.3l5.6 2.8zM692.3 1503.1l-5.6-2.8l5.7-3.3l5.7 2.7zM681.0 1503.6l-5.6-2.7l5.7-3.4l5.6 2.8zM697.9 1505.8l-5.6-2.7l5.8-3.4l5.6 2.8zM686.6 1506.4l-5.6-2.8l5.7-3.3l5.6 2.8zM675.2 1506.9l-5.6-2.7l5.8-3.3l5.6 2.7zM584.5 1511.4l-5.6-2.8l5.7-3.3l5.6 2.7zM573.1 1512.0l-5.6-2.8l5.8-3.4l5.6 2.8zM692.2 1509.2l-5.6-2.8l5.7-3.3l5.6 2.7zM680.9 1509.7l-5.7-2.8l5.8-3.3l5.6 2.8zM669.5 1510.3l-5.6-2.8l5.7-3.3l5.6 2.7zM578.8 1514.7l-5.7-2.7l5.8-3.4l5.6 2.8zM697.8 1511.9l-5.6-2.7l5.7-3.4l5.7 2.8zM686.5 1512.5l-5.6-2.8l5.7-3.3l5.6 2.8zM692.1 1515.2l-5.6-2.7l5.7-3.3l5.6 2.7zM680.7 1515.8l-5.6-2.8l5.8-3.3l5.6 2.8zM669.4 1516.4l-5.6-2.8l5.7-3.3l5.6 2.7zM697.7 1518.0l-5.6-2.8l5.7-3.3l5.6 2.8zM686.4 1518.6l-5.7-2.8l5.8-3.3l5.6 2.7zM663.7 1519.7l-5.7-2.8l5.8-3.3l5.6 2.8zM692.0 1521.3l-5.6-2.7l5.7-3.4l5.6 2.8zM686.2 1524.6l-5.6-2.7l5.8-3.3l5.6 2.7zM674.9 1525.2l-5.6-2.8l5.7-3.3l5.6 2.8zM663.5 1525.7l-5.6-2.7l5.8-3.3l5.6 2.7zM669.2 1528.5l-5.7-2.8l5.8-3.3l5.6 2.8zM663.4 1531.8l-5.6-2.7l5.7-3.4l5.7 2.8zM663.3 1537.9l-5.6-2.8l5.7-3.3l5.6 2.8zM583.9 1541.9l-5.6-2.8l5.7-3.3l5.6 2.7zM600.8 1544.0l-5.6-2.7l5.8-3.3l5.6 2.7zM589.5 1544.6l-5.6-2.7l5.7-3.4l5.6 2.8zM595.1 1547.4l-5.6-2.8l5.7-3.3l5.6 2.7z"/>
<path fill="#00c2ff" stroke="#00c2ff" d="M435.7 1283.1l-5.6-1.9l5.7-4.7l5.7 1.8zM531.9 1270.0l-5.7-1.9l5.8-6.6l5.6 1.8zM560.2 1263.2l-5.6-2.2l5.7-7.1l5.6 2.2zM509.0 1286.6l-5.6-1.9l5.8-6.0l5.6 1.9zM486.4 1293.9l-5.7-2.1l5.8-5.4l5.6 2.0zM548.7 1276.9l-5.6-2.3l5.7-6.7l5.6 2.3zM599.7 1261.0l-5.6-2.8l5.7-7.7l5.6 2.8zM599.6 1271.2l-5.6-2.8l5.7-7.4l5.6 2.7zM463.4 1314.5l-5.6-2.3l5.7-4.9l5.7 2.3zM627.8 1277.7l-5.7-3.8l5.8-7.6l5.6 3.9zM667.0 1309.4l-5.6-4.8l5.8-6.6l5.6 4.9zM683.8 1334.4l-5.6-4.7l5.7-5.8l5.6 4.8zM689.3 1349.0l-5.7-4.5l5.8-5.4l5.6 4.7zM700.1 1384.3l-5.6-3.9l5.7-4.5l5.6 4.0zM699.9 1400.1l-5.6-3.5l5.7-4.2l5.6 3.6zM693.4 1446.1l-5.6-3.0l5.7-3.6l5.7 3.0zM687.7 1449.7l-5.6-3.0l5.7-3.6l5.6 3.0zM716.0 1451.8l-5.6-3.1l5.7-3.5l5.6 3.1zM687.6 1456.2l-5.7-3.0l5.8-3.5l5.6 3.0zM710.1 1461.8l-5.6-3.1l5.8-3.4l5.6 3.0zM715.7 1464.8l-5.6-3.0l5.8-3.5l5.6 3.1zM533.9 1492.6l-5.6-2.8l5.8-3.4l5.6 2.8zM675.5 1494.7l-5.6-2.9l5.7-3.3l5.6 2.8zM680.6 1521.9l-5.6-2.8l5.7-3.3l5.7 2.8zM589.6 1538.5l-5.6-2.7l5.7-3.3l5.6 2.7zM595.2 1541.3l-5.6-2.8l5.7-3.3l5.7 2.8z"/>
<path fill="#00cbff" stroke="#00cbff" d="M379.8 1254.8l-5.6-1.8l5.8-3.6l5.6 1.7zM385.5 1256.4l-5.7-1.6l5.8-3.7l5.6 1.4zM402.2 1266.6l-5.6-1.6l5.7-4.1l5.6 1.4zM412.9 1294.8l-5.6-2.0l5.7-4.4l5.6 2.0zM537.4 1281.1l-5.7-2.3l5.8-6.5l5.6 2.3zM577.0 1270.2l-5.6-2.5l5.7-7.3l5.6 2.5zM469.0 1316.8l-5.6-2.3l5.8-4.9l5.6 2.2zM694.7 1363.0l-5.6-4.4l5.8-5.0l5.6 4.5zM382.7 1398.8l-5.6-2.7l5.7-3.6l5.6 2.7zM693.9 1418.9l-5.6-3.4l5.7-3.9l5.6 3.4zM681.6 1472.5l-5.6-2.9l5.7-3.5l5.6 3.0zM522.7 1480.8l-5.6-2.8l5.8-3.5l5.6 2.9zM539.5 1495.3l-5.7-2.7l5.8-3.4l5.6 2.8zM584.4 1517.5l-5.6-2.8l5.7-3.3l5.6 2.8zM600.7 1550.1l-5.6-2.7l5.7-3.4l5.6 2.8z"/>
<path fill="#00d4ff" stroke="#00d4ff" d="M418.5 1296.9l-5.6-2.1l5.7-4.4l5.7 2.0zM560.0 1272.4l-5.6-2.2l5.8-7.0l5.6 2.2zM605.2 1273.9l-5.6-2.7l5.7-7.5l5.6 2.8zM412.2 1334.3l-5.6-2.5l5.7-4.2l5.6 2.5zM633.4 1281.6l-5.6-3.9l5.7-7.5l5.6 4.1zM661.4 1304.6l-5.6-4.8l5.8-6.8l5.6 5.0zM388.5 1388.8l-5.6-2.7l5.7-3.7l5.7 2.7zM700.0 1392.4l-5.6-3.7l5.7-4.4l5.6 3.8zM687.9 1436.4l-5.6-3.1l5.7-3.7l5.7 3.1zM687.8 1443.1l-5.6-3.1l5.7-3.6l5.6 3.1zM545.3 1485.8l-5.6-2.8l5.7-3.5l5.6 2.9zM516.9 1490.4l-5.6-2.8l5.7-3.4l5.6 2.8zM675.6 1488.5l-5.6-2.9l5.7-3.4l5.6 2.9zM567.8 1496.9l-5.6-2.8l5.7-3.3l5.6 2.7zM556.3 1503.7l-5.6-2.8l5.7-3.4l5.6 2.8zM669.6 1504.2l-5.6-2.8l5.8-3.4l5.6 2.9zM595.7 1516.9l-5.6-2.7l5.7-3.4l5.6 2.8zM657.9 1523.0l-5.6-2.8l5.7-3.3l5.7 2.8zM578.1 1545.2l-5.6-2.8l5.8-3.3l5.6 2.8zM606.4 1546.8l-5.6-2.8l5.8-3.3l5.6 2.8zM583.8 1547.9l-5.7-2.7l5.8-3.3l5.6 2.7z"/>
<path fill="#00ddff" stroke="#00ddff" d="M396.0 1295.0l-5.7-2.0l5.8-4.2l5.6 2.0zM424.1 1299.0l-5.6-2.1l5.8-4.5l5.6 2.1zM418.4 1303.5l-5.6-2.1l5.7-4.5l5.6 2.1zM526.0 1285.0l-5.6-2.3l5.7-6.3l5.6 2.4zM492.0 1296.0l-5.6-2.1l5.7-5.5l5.6 2.0zM435.2 1310.0l-5.6-2.1l5.8-4.6l5.6 2.1zM531.6 1287.4l-5.6-2.4l5.7-6.2l5.7 2.3zM508.9 1294.6l-5.6-2.2l5.7-5.8l5.7 2.1zM440.9 1312.3l-5.7-2.3l5.8-4.6l5.6 2.3zM395.3 1327.0l-5.6-2.4l5.8-4.0l5.6 2.3zM559.8 1290.7l-5.6-2.6l5.7-6.6l5.6 2.6zM525.8 1301.9l-5.6-2.5l5.7-5.9l5.6 2.4zM599.5 1281.2l-5.7-2.8l5.8-7.2l5.6 2.7zM531.4 1304.3l-5.6-2.4l5.7-6.0l5.6 2.4zM520.0 1307.6l-5.6-2.4l5.8-5.8l5.6 2.5zM508.7 1310.8l-5.6-2.5l5.7-5.6l5.6 2.5zM616.4 1281.2l-5.6-3.7l5.7-7.4l5.6 3.8zM537.0 1306.7l-5.6-2.4l5.7-6.0l5.6 2.4zM491.6 1318.9l-5.6-2.5l5.7-5.2l5.6 2.5zM588.0 1295.0l-5.6-2.7l5.7-6.8l5.6 2.7zM565.3 1302.6l-5.6-2.8l5.7-6.4l5.6 2.8zM531.3 1312.5l-5.7-2.4l5.8-5.8l5.6 2.4zM497.2 1321.4l-5.6-2.5l5.7-5.2l5.7 2.5zM604.9 1295.2l-5.6-3.6l5.8-6.9l5.6 3.6zM621.9 1295.7l-5.6-3.7l5.7-7.1l5.6 3.9zM474.4 1333.8l-5.6-2.6l5.7-4.8l5.6 2.5zM582.1 1311.3l-5.6-3.2l5.8-6.4l5.6 3.3zM491.4 1334.1l-5.6-2.6l5.7-5.0l5.6 2.6zM633.1 1304.2l-5.6-4.2l5.7-6.9l5.7 4.4zM621.8 1306.6l-5.6-4.1l5.7-6.8l5.6 4.3zM638.7 1308.4l-5.6-4.2l5.8-6.7l5.6 4.4zM644.4 1312.9l-5.7-4.5l5.8-6.5l5.6 4.5zM604.6 1325.4l-5.6-3.8l5.7-6.2l5.6 3.9zM649.8 1327.9l-5.6-4.4l5.8-6.1l5.6 4.5zM593.1 1337.0l-5.6-3.6l5.7-5.8l5.6 3.7zM644.1 1333.8l-5.6-4.3l5.7-6.0l5.6 4.4zM678.0 1340.0l-5.6-4.5l5.8-5.8l5.6 4.7zM638.3 1349.0l-5.7-4.0l5.8-5.5l5.6 4.1zM382.9 1386.1l-5.6-2.6l5.7-3.7l5.6 2.6zM621.1 1364.6l-5.7-3.8l5.8-5.1l5.6 3.8zM660.7 1365.1l-5.6-4.0l5.7-5.1l5.6 4.1zM677.7 1368.4l-5.6-4.1l5.7-5.0l5.6 4.3zM632.3 1372.0l-5.6-3.7l5.7-5.0l5.6 3.9zM694.6 1371.9l-5.6-4.1l5.7-4.8l5.7 4.1zM666.2 1377.8l-5.6-3.9l5.7-4.7l5.6 4.0zM637.8 1384.0l-5.6-3.6l5.7-4.7l5.6 3.8zM666.1 1386.2l-5.6-3.8l5.7-4.6l5.6 4.0zM677.3 1393.5l-5.6-3.6l5.7-4.4l5.6 3.7zM654.6 1395.0l-5.6-3.7l5.7-4.4l5.6 3.7zM688.5 1400.7l-5.6-3.5l5.7-4.3l5.7 3.7zM694.0 1411.6l-5.6-3.4l5.7-4.0l5.7 3.4zM682.6 1419.4l-5.7-3.3l5.8-3.9l5.6 3.3zM688.2 1422.7l-5.6-3.3l5.7-3.9l5.6 3.4zM676.8 1423.2l-5.6-3.2l5.7-3.9l5.7 3.3zM682.2 1440.0l-5.6-3.0l5.7-3.7l5.6 3.1zM681.9 1453.2l-5.6-3.0l5.8-3.5l5.6 3.0zM681.8 1459.7l-5.6-2.9l5.7-3.6l5.7 3.0zM681.7 1466.1l-5.6-2.9l5.7-3.5l5.6 3.0zM676.0 1469.6l-5.6-2.9l5.7-3.5l5.6 2.9zM664.6 1470.1l-5.6-2.9l5.8-3.5l5.6 3.0zM658.8 1479.9l-5.6-2.9l5.7-3.4l5.6 2.8zM522.5 1493.2l-5.6-2.8l5.7-3.4l5.6 2.8zM647.2 1492.9l-5.6-2.9l5.7-3.3l5.6 2.8zM590.3 1501.9l-5.6-2.8l5.8-3.4l5.6 2.8zM663.8 1513.6l-5.6-2.8l5.7-3.3l5.6 2.8zM652.3 1520.2l-5.6-2.7l5.7-3.3l5.6 2.7zM635.1 1530.2l-5.6-2.7l5.7-3.4l5.6 2.8zM640.7 1532.9l-5.6-2.7l5.7-3.3l5.7 2.7zM578.3 1539.1l-5.6-2.8l5.7-3.3l5.6 2.8zM651.8 1544.5l-5.6-2.8l5.8-3.3l5.6 2.8z"/>
<path fill="#00e6ff" stroke="#00e6ff" d="M390.9 1263.5l-5.6-1.7l5.8-3.9l5.6 1.6zM401.6 1297.1l-5.6-2.1l5.7-4.2l5.6 2.0zM407.2 1299.2l-5.6-2.1l5.7-4.3l5.6 2.0zM412.8 1301.4l-5.6-2.2l5.7-4.4l5.6 2.1zM407.1 1305.7l-5.7-2.2l5.8-4.3l5.6 2.2zM429.6 1307.9l-5.6-2.2l5.8-4.6l5.6 2.2zM514.7 1288.7l-5.7-2.1l5.8-6.0l5.6 2.1zM503.3 1292.4l-5.6-2.0l5.7-5.7l5.6 1.9zM423.9 1312.3l-5.6-2.2l5.7-4.4l5.6 2.2zM554.3 1279.2l-5.6-2.3l5.7-6.7l5.6 2.2zM543.0 1283.4l-5.6-2.3l5.7-6.5l5.6 2.3zM520.3 1291.1l-5.6-2.4l5.7-6.0l5.6 2.3zM497.6 1298.1l-5.6-2.1l5.7-5.6l5.6 2.0zM582.6 1272.9l-5.6-2.7l5.7-7.3l5.6 2.8zM571.3 1277.2l-5.6-2.5l5.7-7.0l5.6 2.5zM559.9 1281.5l-5.6-2.3l5.7-6.8l5.7 2.3zM537.2 1289.8l-5.6-2.4l5.8-6.3l5.6 2.3zM525.9 1293.5l-5.6-2.4l5.7-6.1l5.6 2.4zM514.5 1297.0l-5.6-2.4l5.8-5.9l5.6 2.4zM503.2 1300.3l-5.6-2.2l5.7-5.7l5.6 2.2zM446.5 1314.7l-5.6-2.4l5.7-4.6l5.6 2.2zM435.1 1316.9l-5.6-2.3l5.7-4.6l5.7 2.3zM588.2 1275.7l-5.6-2.8l5.7-7.2l5.7 2.7zM576.9 1280.0l-5.6-2.8l5.7-7.0l5.6 2.7zM565.5 1284.1l-5.6-2.6l5.8-6.8l5.6 2.5zM554.2 1288.1l-5.6-2.3l5.7-6.6l5.6 2.3zM531.5 1295.9l-5.6-2.4l5.7-6.1l5.6 2.4zM508.8 1302.7l-5.6-2.4l5.7-5.7l5.6 2.4zM497.5 1305.8l-5.7-2.2l5.8-5.5l5.6 2.2zM593.8 1278.4l-5.6-2.7l5.8-7.3l5.6 2.8zM582.5 1282.7l-5.6-2.7l5.7-7.1l5.6 2.8zM571.1 1286.8l-5.6-2.7l5.8-6.9l5.6 2.8zM548.5 1294.5l-5.7-2.4l5.8-6.3l5.6 2.3zM537.1 1298.3l-5.6-2.4l5.7-6.1l5.6 2.3zM514.4 1305.2l-5.6-2.5l5.7-5.7l5.7 2.4zM503.1 1308.3l-5.6-2.5l5.7-5.5l5.6 2.4zM457.7 1319.3l-5.6-2.3l5.7-4.8l5.6 2.3zM610.8 1277.5l-5.6-3.6l5.7-7.4l5.6 3.6zM588.1 1285.5l-5.6-2.8l5.7-7.0l5.6 2.7zM576.8 1289.6l-5.7-2.8l5.8-6.8l5.6 2.7zM565.4 1293.4l-5.6-2.7l5.7-6.6l5.6 2.7zM554.1 1297.1l-5.6-2.6l5.7-6.4l5.6 2.6zM542.7 1300.7l-5.6-2.4l5.7-6.2l5.7 2.4zM474.6 1319.1l-5.6-2.3l5.8-5.0l5.6 2.3zM463.3 1321.7l-5.6-2.4l5.7-4.8l5.6 2.3zM593.7 1288.2l-5.6-2.7l5.7-7.1l5.7 2.8zM582.4 1292.3l-5.6-2.7l5.7-6.9l5.6 2.8zM559.7 1299.8l-5.6-2.7l5.7-6.4l5.6 2.7zM548.3 1303.3l-5.6-2.6l5.8-6.2l5.6 2.6zM525.6 1310.1l-5.6-2.5l5.8-5.7l5.6 2.4zM514.3 1313.2l-5.6-2.4l5.7-5.6l5.6 2.4zM503.0 1316.2l-5.7-2.5l5.8-5.4l5.6 2.5zM480.3 1321.4l-5.7-2.3l5.8-5.0l5.6 2.3zM468.9 1324.0l-5.6-2.3l5.7-4.9l5.6 2.3zM610.7 1288.3l-5.6-3.6l5.7-7.2l5.6 3.7zM599.3 1291.6l-5.6-3.4l5.8-7.0l5.6 3.5zM576.6 1298.9l-5.6-2.7l5.8-6.6l5.6 2.7zM553.9 1306.0l-5.6-2.7l5.8-6.2l5.6 2.7zM542.6 1309.3l-5.6-2.6l5.7-6.0l5.6 2.6zM508.6 1318.7l-5.6-2.5l5.7-5.4l5.6 2.4zM485.9 1324.0l-5.6-2.6l5.7-5.0l5.6 2.5zM463.2 1328.8l-5.6-2.4l5.7-4.7l5.6 2.3zM395.1 1339.9l-5.6-2.4l5.7-4.0l5.6 2.4zM639.0 1286.1l-5.6-4.5l5.7-7.3l5.6 4.6zM616.3 1292.0l-5.6-3.7l5.7-7.1l5.6 3.7zM593.6 1298.4l-5.6-3.4l5.7-6.8l5.6 3.4zM559.6 1308.8l-5.7-2.8l5.8-6.2l5.6 2.8zM548.2 1312.1l-5.6-2.8l5.7-6.0l5.6 2.7zM536.9 1315.2l-5.6-2.7l5.7-5.8l5.6 2.6zM525.5 1318.2l-5.6-2.5l5.7-5.6l5.7 2.4zM514.2 1321.2l-5.6-2.5l5.7-5.5l5.6 2.5zM502.8 1323.9l-5.6-2.5l5.8-5.2l5.6 2.5zM491.5 1326.5l-5.6-2.5l5.7-5.1l5.6 2.5zM480.1 1328.9l-5.6-2.5l5.8-5.0l5.6 2.6zM468.8 1331.2l-5.6-2.4l5.7-4.8l5.6 2.4zM412.1 1340.9l-5.6-2.5l5.7-4.1l5.6 2.5zM644.6 1290.6l-5.6-4.5l5.7-7.2l5.6 4.6zM633.2 1293.1l-5.6-4.3l5.8-7.2l5.6 4.5zM610.6 1298.8l-5.7-3.6l5.8-6.9l5.6 3.7zM599.2 1301.9l-5.6-3.5l5.7-6.8l5.6 3.6zM587.9 1305.0l-5.6-3.3l5.7-6.7l5.6 3.4zM576.5 1308.1l-5.6-2.8l5.7-6.4l5.7 2.8zM565.2 1311.5l-5.6-2.7l5.7-6.2l5.6 2.7zM542.5 1317.9l-5.6-2.7l5.7-5.9l5.6 2.8zM531.1 1320.8l-5.6-2.6l5.8-5.7l5.6 2.7zM519.8 1323.7l-5.6-2.5l5.7-5.5l5.6 2.5zM508.4 1326.5l-5.6-2.6l5.8-5.2l5.6 2.5zM497.1 1329.1l-5.6-2.6l5.7-5.1l5.6 2.5zM650.2 1295.1l-5.6-4.5l5.7-7.1l5.6 4.6zM638.9 1297.5l-5.7-4.4l5.8-7.0l5.6 4.5zM616.2 1302.5l-5.6-3.7l5.7-6.8l5.6 3.7zM604.8 1305.4l-5.6-3.5l5.7-6.7l5.7 3.6zM593.5 1308.4l-5.6-3.4l5.7-6.6l5.6 3.5zM570.8 1314.3l-5.6-2.8l5.7-6.2l5.6 2.8zM548.1 1320.6l-5.6-2.7l5.7-5.8l5.6 2.7zM536.7 1323.6l-5.6-2.8l5.8-5.6l5.6 2.7zM525.4 1326.3l-5.6-2.6l5.7-5.5l5.6 2.6zM514.1 1329.0l-5.7-2.5l5.8-5.3l5.6 2.5zM502.7 1331.6l-5.6-2.5l5.7-5.2l5.6 2.6zM655.8 1299.8l-5.6-4.7l5.7-7.0l5.7 4.9zM599.1 1311.9l-5.6-3.5l5.7-6.5l5.6 3.5zM587.7 1314.7l-5.6-3.4l5.8-6.3l5.6 3.4zM576.4 1317.5l-5.6-3.2l5.7-6.2l5.6 3.2zM553.7 1323.4l-5.6-2.8l5.7-5.8l5.6 2.8zM542.4 1326.3l-5.7-2.7l5.8-5.7l5.6 2.7zM531.0 1329.0l-5.6-2.7l5.7-5.5l5.6 2.8zM519.7 1331.6l-5.6-2.6l5.7-5.3l5.6 2.6zM508.3 1334.2l-5.6-2.6l5.7-5.1l5.7 2.5zM497.0 1336.6l-5.6-2.5l5.7-5.0l5.6 2.5zM406.2 1351.6l-5.6-2.6l5.7-4.0l5.6 2.5zM650.1 1306.4l-5.6-4.5l5.7-6.8l5.6 4.7zM627.4 1310.7l-5.6-4.1l5.7-6.6l5.6 4.2zM616.0 1313.1l-5.6-4.0l5.8-6.6l5.6 4.1zM604.7 1315.4l-5.6-3.5l5.7-6.5l5.6 3.7zM593.4 1318.1l-5.7-3.4l5.8-6.3l5.6 3.5zM582.0 1320.8l-5.6-3.3l5.7-6.2l5.6 3.4zM570.7 1323.5l-5.6-3.2l5.7-6.0l5.6 3.2zM559.3 1326.1l-5.6-2.7l5.7-5.8l5.7 2.7zM548.0 1329.0l-5.6-2.7l5.7-5.7l5.6 2.8zM536.6 1331.8l-5.6-2.8l5.7-5.4l5.7 2.7zM525.3 1334.4l-5.6-2.8l5.7-5.3l5.6 2.7zM513.9 1336.8l-5.6-2.6l5.8-5.2l5.6 2.6zM502.6 1339.2l-5.6-2.6l5.7-5.0l5.6 2.6zM400.5 1355.5l-5.6-2.5l5.7-4.0l5.6 2.6zM655.7 1311.1l-5.6-4.7l5.7-6.6l5.6 4.8zM633.0 1314.9l-5.6-4.2l5.7-6.5l5.6 4.2zM621.7 1317.1l-5.7-4.0l5.8-6.5l5.6 4.1zM610.3 1319.3l-5.6-3.9l5.7-6.3l5.6 4.0zM599.0 1321.6l-5.6-3.5l5.7-6.2l5.6 3.5zM587.6 1324.2l-5.6-3.4l5.7-6.1l5.7 3.4zM576.3 1326.8l-5.6-3.3l5.7-6.0l5.6 3.3zM553.6 1331.8l-5.6-2.8l5.7-5.6l5.6 2.7zM542.2 1334.5l-5.6-2.7l5.8-5.5l5.6 2.7zM530.9 1337.1l-5.6-2.7l5.7-5.4l5.6 2.8zM661.3 1315.7l-5.6-4.6l5.7-6.5l5.6 4.8zM650.0 1317.4l-5.6-4.5l5.7-6.5l5.6 4.7zM638.6 1319.1l-5.6-4.2l5.7-6.5l5.7 4.5zM627.3 1321.1l-5.6-4.0l5.7-6.4l5.6 4.2zM615.9 1323.2l-5.6-3.9l5.7-6.2l5.7 4.0zM593.2 1327.6l-5.6-3.4l5.8-6.1l5.6 3.5zM581.9 1330.0l-5.6-3.2l5.7-6.0l5.6 3.4zM570.5 1332.5l-5.6-3.2l5.8-5.8l5.6 3.3zM559.2 1334.9l-5.6-3.1l5.7-5.7l5.6 3.2zM547.9 1337.3l-5.7-2.8l5.8-5.5l5.6 2.8zM666.9 1320.4l-5.6-4.7l5.7-6.3l5.7 4.8zM655.6 1321.9l-5.6-4.5l5.7-6.3l5.6 4.6zM644.2 1323.5l-5.6-4.4l5.8-6.2l5.6 4.5zM632.9 1325.3l-5.6-4.2l5.7-6.2l5.6 4.2zM621.5 1327.1l-5.6-3.9l5.8-6.1l5.6 4.0zM610.2 1329.2l-5.6-3.8l5.7-6.1l5.6 3.9zM598.8 1331.3l-5.6-3.7l5.8-6.0l5.6 3.8zM587.5 1333.4l-5.6-3.4l5.7-5.8l5.6 3.4zM576.2 1335.7l-5.7-3.2l5.8-5.7l5.6 3.2zM553.5 1340.3l-5.6-3.0l5.7-5.5l5.6 3.1zM672.5 1325.1l-5.6-4.7l5.8-6.2l5.6 4.9zM638.5 1329.5l-5.6-4.2l5.7-6.2l5.6 4.4zM627.2 1331.2l-5.7-4.1l5.8-6.0l5.6 4.2zM615.8 1333.0l-5.6-3.8l5.7-6.0l5.6 3.9zM604.5 1335.0l-5.7-3.7l5.8-5.9l5.6 3.8zM581.8 1339.1l-5.6-3.4l5.7-5.7l5.6 3.4zM570.4 1341.3l-5.6-3.2l5.7-5.6l5.7 3.2zM559.1 1343.5l-5.6-3.2l5.7-5.4l5.6 3.2zM377.5 1370.8l-5.6-2.6l5.8-3.8l5.6 2.7zM678.1 1329.7l-5.7-4.6l5.8-6.0l5.6 4.8zM666.8 1330.9l-5.6-4.5l5.7-6.0l5.6 4.7zM632.8 1335.3l-5.6-4.1l5.7-5.9l5.6 4.2zM621.4 1337.0l-5.6-4.0l5.7-5.9l5.7 4.1zM610.1 1338.8l-5.6-3.8l5.7-5.8l5.6 3.8zM598.7 1340.7l-5.6-3.7l5.7-5.7l5.7 3.7zM587.4 1342.6l-5.6-3.5l5.7-5.7l5.6 3.6zM576.0 1344.5l-5.6-3.2l5.8-5.6l5.6 3.4zM417.2 1369.8l-5.6-2.6l5.7-4.0l5.6 2.6zM672.4 1335.5l-5.6-4.6l5.7-5.8l5.7 4.6zM661.1 1336.7l-5.6-4.4l5.7-5.9l5.6 4.5zM649.7 1338.0l-5.6-4.2l5.7-5.9l5.7 4.4zM638.4 1339.5l-5.6-4.2l5.7-5.8l5.6 4.3zM627.0 1341.0l-5.6-4.0l5.8-5.8l5.6 4.1zM604.3 1344.3l-5.6-3.6l5.8-5.7l5.6 3.8zM593.0 1346.2l-5.6-3.6l5.7-5.6l5.6 3.7zM581.6 1348.0l-5.6-3.5l5.8-5.4l5.6 3.5zM666.7 1341.1l-5.6-4.4l5.7-5.8l5.6 4.6zM655.3 1342.3l-5.6-4.3l5.8-5.7l5.6 4.4zM644.0 1343.6l-5.6-4.1l5.7-5.7l5.6 4.2zM632.6 1345.0l-5.6-4.0l5.8-5.7l5.6 4.2zM621.3 1346.5l-5.6-3.9l5.7-5.6l5.6 4.0zM610.0 1348.1l-5.7-3.8l5.8-5.5l5.6 3.8zM598.6 1349.7l-5.6-3.5l5.7-5.5l5.6 3.6zM587.3 1351.5l-5.7-3.5l5.8-5.4l5.6 3.6zM683.6 1344.5l-5.6-4.5l5.8-5.6l5.6 4.7zM661.0 1346.5l-5.7-4.2l5.8-5.6l5.6 4.4zM649.6 1347.7l-5.6-4.1l5.7-5.6l5.6 4.3zM615.6 1351.9l-5.6-3.8l5.7-5.5l5.6 3.9zM604.2 1353.4l-5.6-3.7l5.7-5.4l5.7 3.8zM592.9 1355.0l-5.6-3.5l5.7-5.3l5.6 3.5zM388.6 1382.4l-5.6-2.6l5.8-3.7l5.6 2.6zM677.9 1349.8l-5.6-4.3l5.7-5.5l5.6 4.5zM655.2 1351.9l-5.6-4.2l5.7-5.4l5.7 4.2zM643.9 1353.1l-5.6-4.1l5.7-5.4l5.6 4.1zM632.5 1354.3l-5.6-3.9l5.7-5.4l5.7 4.0zM621.2 1355.7l-5.6-3.8l5.7-5.4l5.6 3.9zM609.8 1357.1l-5.6-3.7l5.8-5.3l5.6 3.8zM598.5 1358.6l-5.6-3.6l5.7-5.3l5.6 3.7zM417.0 1382.9l-5.7-2.7l5.8-3.8l5.6 2.7zM394.3 1385.1l-5.7-2.7l5.8-3.7l5.6 2.7zM683.5 1354.2l-5.6-4.4l5.7-5.3l5.7 4.5zM672.2 1355.1l-5.6-4.3l5.7-5.3l5.6 4.3zM660.8 1356.0l-5.6-4.1l5.8-5.4l5.6 4.3zM649.5 1357.1l-5.6-4.0l5.7-5.4l5.6 4.2zM638.1 1358.3l-5.6-4.0l5.8-5.3l5.6 4.1zM626.8 1359.5l-5.6-3.8l5.7-5.3l5.6 3.9zM615.4 1360.8l-5.6-3.7l5.8-5.2l5.6 3.8zM604.1 1362.2l-5.6-3.6l5.7-5.2l5.6 3.7zM677.8 1359.3l-5.6-4.2l5.7-5.3l5.6 4.4zM666.4 1360.1l-5.6-4.1l5.8-5.2l5.6 4.3zM655.1 1361.1l-5.6-4.0l5.7-5.2l5.6 4.1zM643.8 1362.2l-5.7-3.9l5.8-5.2l5.6 4.0zM632.4 1363.3l-5.6-3.8l5.7-5.2l5.6 4.0zM609.7 1365.9l-5.6-3.7l5.7-5.1l5.6 3.7zM394.1 1391.5l-5.6-2.7l5.8-3.7l5.6 2.7zM683.4 1363.6l-5.6-4.3l5.7-5.1l5.6 4.4zM672.1 1364.3l-5.7-4.2l5.8-5.0l5.6 4.2zM649.4 1366.1l-5.6-3.9l5.7-5.1l5.6 4.0zM638.0 1367.2l-5.6-3.9l5.7-5.0l5.7 3.9zM626.7 1368.3l-5.6-3.7l5.7-5.1l5.6 3.8zM615.3 1369.5l-5.6-3.6l5.7-5.1l5.7 3.8zM689.0 1367.8l-5.6-4.2l5.7-5.0l5.6 4.4zM643.6 1371.0l-5.6-3.8l5.8-5.0l5.6 3.9zM620.9 1373.1l-5.6-3.6l5.8-4.9l5.6 3.7zM683.3 1372.6l-5.6-4.2l5.7-4.8l5.6 4.2zM671.9 1373.2l-5.6-4.0l5.8-4.9l5.6 4.1zM660.6 1373.9l-5.6-3.9l5.7-4.9l5.6 4.1zM649.2 1374.8l-5.6-3.8l5.8-4.9l5.6 3.9zM637.9 1375.7l-5.6-3.7l5.7-4.8l5.6 3.8zM626.5 1376.8l-5.7-3.7l5.8-4.8l5.6 3.7zM688.9 1376.5l-5.6-3.9l5.7-4.8l5.6 4.1zM677.5 1377.2l-5.6-4.0l5.8-4.8l5.6 4.2zM654.9 1378.6l-5.7-3.8l5.8-4.8l5.6 3.9zM643.5 1379.5l-5.6-3.8l5.7-4.7l5.6 3.8zM632.2 1380.4l-5.6-3.6l5.7-4.8l5.6 3.7zM694.5 1380.4l-5.6-3.9l5.7-4.6l5.6 4.0zM683.2 1381.0l-5.7-3.8l5.8-4.6l5.6 3.9zM671.8 1381.8l-5.6-4.0l5.7-4.6l5.6 4.0zM660.5 1382.4l-5.6-3.8l5.7-4.7l5.6 3.9zM649.1 1383.2l-5.6-3.7l5.7-4.7l5.7 3.8zM688.8 1384.8l-5.6-3.8l5.7-4.5l5.6 3.9zM677.4 1385.5l-5.6-3.7l5.7-4.6l5.7 3.8zM654.7 1386.9l-5.6-3.7l5.8-4.6l5.6 3.8zM632.0 1388.5l-5.6-3.5l5.8-4.6l5.6 3.6zM694.4 1388.7l-5.6-3.9l5.7-4.4l5.6 3.9zM683.0 1389.2l-5.6-3.7l5.8-4.5l5.6 3.8zM671.7 1389.9l-5.6-3.7l5.7-4.4l5.6 3.7zM660.3 1390.6l-5.6-3.7l5.8-4.5l5.6 3.8zM649.0 1391.3l-5.6-3.6l5.7-4.5l5.6 3.7zM637.7 1392.1l-5.7-3.6l5.8-4.5l5.6 3.7zM688.6 1392.9l-5.6-3.7l5.8-4.4l5.6 3.9zM666.0 1394.2l-5.7-3.6l5.8-4.4l5.6 3.7zM643.3 1395.6l-5.6-3.5l5.7-4.4l5.6 3.6zM694.3 1396.6l-5.7-3.7l5.8-4.2l5.6 3.7zM682.9 1397.2l-5.6-3.7l5.7-4.3l5.6 3.7zM671.6 1397.8l-5.6-3.6l5.7-4.3l5.6 3.6zM660.2 1398.4l-5.6-3.4l5.7-4.4l5.7 3.6zM677.2 1401.3l-5.6-3.5l5.7-4.3l5.6 3.7zM665.8 1401.9l-5.6-3.5l5.8-4.2l5.6 3.6zM654.5 1402.6l-5.6-3.4l5.7-4.2l5.6 3.4zM643.1 1403.4l-5.6-3.5l5.8-4.3l5.6 3.6zM694.1 1404.2l-5.6-3.5l5.8-4.1l5.6 3.5zM682.8 1404.8l-5.6-3.5l5.7-4.1l5.6 3.5zM671.4 1405.4l-5.6-3.5l5.8-4.1l5.6 3.5zM660.1 1406.0l-5.6-3.4l5.7-4.2l5.6 3.5zM648.8 1406.7l-5.7-3.3l5.8-4.2l5.6 3.4zM688.4 1408.2l-5.6-3.4l5.7-4.1l5.6 3.5zM677.1 1408.9l-5.7-3.5l5.8-4.1l5.6 3.5zM665.7 1409.5l-5.6-3.5l5.7-4.1l5.6 3.5zM654.4 1410.1l-5.6-3.4l5.7-4.1l5.6 3.4zM671.3 1412.8l-5.6-3.3l5.7-4.1l5.7 3.5zM660.0 1413.5l-5.6-3.4l5.7-4.1l5.6 3.5zM648.6 1414.1l-5.6-3.3l5.8-4.1l5.6 3.4zM688.3 1415.5l-5.6-3.3l5.7-4.0l5.6 3.4zM676.9 1416.1l-5.6-3.3l5.8-3.9l5.6 3.3zM665.6 1416.8l-5.6-3.3l5.7-4.0l5.6 3.3zM654.2 1417.4l-5.6-3.3l5.8-4.0l5.6 3.4zM671.2 1420.0l-5.6-3.2l5.7-4.0l5.6 3.3zM659.9 1420.7l-5.7-3.3l5.8-3.9l5.6 3.3zM665.5 1423.8l-5.6-3.1l5.7-3.9l5.6 3.2zM654.1 1424.5l-5.6-3.2l5.7-3.9l5.7 3.3zM682.4 1426.5l-5.6-3.3l5.8-3.8l5.6 3.3zM671.1 1427.0l-5.6-3.2l5.7-3.8l5.6 3.2zM688.0 1429.6l-5.6-3.1l5.8-3.8l5.6 3.2zM676.7 1430.2l-5.6-3.2l5.7-3.8l5.6 3.3zM665.4 1430.8l-5.7-3.2l5.8-3.8l5.6 3.2zM682.3 1433.3l-5.6-3.1l5.7-3.7l5.6 3.1zM659.6 1434.5l-5.6-3.1l5.7-3.8l5.7 3.2zM676.6 1437.0l-5.6-3.1l5.7-3.7l5.6 3.1zM653.9 1438.2l-5.6-3.1l5.7-3.7l5.6 3.1zM670.8 1440.6l-5.6-3.0l5.8-3.7l5.6 3.1zM659.5 1441.3l-5.6-3.1l5.7-3.7l5.6 3.1zM676.5 1443.7l-5.7-3.1l5.8-3.6l5.6 3.0zM665.1 1444.3l-5.6-3.0l5.7-3.7l5.6 3.0zM653.8 1444.9l-5.6-3.1l5.7-3.6l5.6 3.1zM682.1 1446.7l-5.6-3.0l5.7-3.7l5.6 3.1zM670.7 1447.3l-5.6-3.0l5.7-3.7l5.7 3.1zM659.4 1447.9l-5.6-3.0l5.7-3.6l5.6 3.0zM676.3 1450.2l-5.6-2.9l5.8-3.6l5.6 3.0zM665.0 1450.8l-5.6-2.9l5.7-3.6l5.6 3.0zM653.6 1451.4l-5.6-2.9l5.8-3.6l5.6 3.0zM670.6 1453.8l-5.6-3.0l5.7-3.5l5.6 2.9zM659.3 1454.4l-5.7-3.0l5.8-3.5l5.6 2.9zM676.2 1456.8l-5.6-3.0l5.7-3.6l5.6 3.0zM664.9 1457.3l-5.6-2.9l5.7-3.6l5.6 3.0zM653.5 1457.9l-5.6-2.9l5.7-3.6l5.7 3.0zM670.5 1460.3l-5.6-3.0l5.7-3.5l5.6 3.0zM659.1 1460.8l-5.6-2.9l5.8-3.5l5.6 2.9zM676.1 1463.2l-5.6-2.9l5.7-3.5l5.6 2.9zM664.8 1463.7l-5.7-2.9l5.8-3.5l5.6 3.0zM653.4 1464.3l-5.6-2.9l5.7-3.5l5.6 2.9zM653.3 1470.7l-5.6-2.9l5.7-3.5l5.6 2.9zM670.2 1473.0l-5.6-2.9l5.8-3.4l5.6 2.9zM658.9 1473.6l-5.6-2.9l5.7-3.5l5.6 2.9zM579.5 1477.7l-5.6-2.8l5.7-3.5l5.6 2.9zM675.9 1475.9l-5.7-2.9l5.8-3.4l5.6 2.9zM664.5 1476.4l-5.6-2.8l5.7-3.5l5.6 2.9zM539.7 1483.0l-5.6-2.8l5.7-3.5l5.6 2.8zM675.7 1482.2l-5.6-2.9l5.8-3.4l5.6 2.9zM664.4 1482.7l-5.6-2.8l5.7-3.5l5.6 2.9zM653.0 1483.3l-5.6-2.9l5.8-3.4l5.6 2.9zM550.9 1488.6l-5.6-2.8l5.7-3.4l5.7 2.8zM670.0 1485.6l-5.6-2.9l5.7-3.4l5.6 2.9zM658.7 1486.1l-5.7-2.8l5.8-3.4l5.6 2.8zM647.3 1486.7l-5.6-2.9l5.7-3.4l5.6 2.9zM664.3 1489.0l-5.6-2.9l5.7-3.4l5.6 2.9zM652.9 1489.5l-5.6-2.8l5.7-3.4l5.7 2.8zM641.6 1490.0l-5.6-2.8l5.7-3.4l5.6 2.9zM669.9 1491.8l-5.6-2.8l5.7-3.4l5.6 2.9zM658.5 1492.3l-5.6-2.8l5.8-3.4l5.6 2.9zM664.1 1495.2l-5.6-2.9l5.8-3.3l5.6 2.8zM584.7 1499.1l-5.6-2.8l5.7-3.4l5.7 2.8zM669.8 1498.0l-5.7-2.8l5.8-3.4l5.6 2.9zM647.1 1499.1l-5.6-2.9l5.7-3.3l5.6 2.8zM664.0 1501.4l-5.6-2.9l5.7-3.3l5.7 2.8zM652.7 1501.9l-5.6-2.8l5.7-3.4l5.6 2.8zM641.3 1502.4l-5.6-2.8l5.8-3.4l5.6 2.9zM595.9 1504.7l-5.6-2.8l5.8-3.4l5.6 2.8zM658.3 1504.7l-5.6-2.8l5.7-3.4l5.6 2.9zM663.9 1507.5l-5.6-2.8l5.7-3.3l5.6 2.8zM652.6 1508.0l-5.7-2.8l5.8-3.3l5.6 2.8zM561.8 1512.6l-5.6-2.8l5.7-3.4l5.6 2.8zM658.2 1510.8l-5.6-2.8l5.7-3.3l5.6 2.8zM646.8 1511.4l-5.6-2.8l5.7-3.4l5.7 2.8zM567.4 1515.3l-5.6-2.7l5.7-3.4l5.6 2.8zM652.4 1514.2l-5.6-2.8l5.8-3.4l5.6 2.8zM658.0 1516.9l-5.6-2.7l5.8-3.4l5.6 2.8zM646.7 1517.5l-5.6-2.8l5.7-3.3l5.6 2.8zM590.0 1520.3l-5.6-2.8l5.7-3.3l5.6 2.7zM641.0 1520.8l-5.6-2.8l5.7-3.3l5.6 2.8zM646.6 1523.6l-5.6-2.8l5.7-3.3l5.6 2.7zM652.2 1526.3l-5.6-2.7l5.7-3.4l5.6 2.8zM640.8 1526.9l-5.6-2.8l5.8-3.3l5.6 2.8zM657.8 1529.1l-5.6-2.8l5.7-3.3l5.6 2.7zM646.5 1529.6l-5.7-2.7l5.8-3.3l5.6 2.7zM652.1 1532.4l-5.6-2.8l5.7-3.3l5.6 2.8zM629.4 1533.5l-5.6-2.7l5.7-3.3l5.6 2.7zM584.0 1535.8l-5.6-2.8l5.7-3.3l5.6 2.8zM657.7 1535.1l-5.6-2.7l5.7-3.3l5.6 2.7zM646.3 1535.7l-5.6-2.8l5.8-3.3l5.6 2.8zM635.0 1536.3l-5.6-2.8l5.7-3.3l5.6 2.7zM601.0 1538.0l-5.7-2.8l5.8-3.3l5.6 2.7zM652.0 1538.4l-5.7-2.7l5.8-3.3l5.6 2.7zM640.6 1539.0l-5.6-2.7l5.7-3.4l5.6 2.8zM629.3 1539.6l-5.7-2.8l5.8-3.3l5.6 2.8zM657.6 1541.2l-5.6-2.8l5.7-3.3l5.6 2.8zM646.2 1541.7l-5.6-2.7l5.7-3.3l5.7 2.7zM634.9 1542.3l-5.6-2.7l5.7-3.3l5.6 2.7zM629.1 1545.6l-5.6-2.7l5.8-3.3l5.6 2.7zM646.1 1547.8l-5.6-2.7l5.7-3.4l5.6 2.8zM623.4 1548.9l-5.6-2.7l5.7-3.3l5.6 2.7zM640.4 1551.1l-5.6-2.7l5.7-3.3l5.6 2.7zM629.0 1551.7l-5.6-2.8l5.7-3.3l5.7 2.8zM634.6 1554.4l-5.6-2.7l5.8-3.3l5.6 2.7zM628.9 1557.7l-5.6-2.7l5.7-3.3l5.6 2.7z"/>
<path fill="#08ebf9" stroke="#08ebf9" d="M401.4 1303.5l-5.6-2.2l5.8-4.2l5.6 2.1zM424.0 1305.7l-5.6-2.2l5.7-4.5l5.7 2.1zM412.7 1307.9l-5.6-2.2l5.7-4.3l5.6 2.1zM418.3 1310.1l-5.6-2.2l5.7-4.4l5.6 2.2zM565.7 1274.7l-5.7-2.3l5.8-7.0l5.6 2.3zM429.5 1314.6l-5.6-2.3l5.7-4.4l5.6 2.1zM548.6 1285.8l-5.6-2.4l5.7-6.5l5.6 2.3zM542.8 1292.1l-5.6-2.3l5.8-6.4l5.6 2.4zM520.2 1299.4l-5.7-2.4l5.8-5.9l5.6 2.4zM452.1 1317.0l-5.6-2.3l5.7-4.8l5.6 2.3zM440.7 1319.3l-5.6-2.4l5.8-4.6l5.6 2.4zM446.3 1321.7l-5.6-2.4l5.8-4.6l5.6 2.3zM452.0 1324.0l-5.7-2.3l5.8-4.7l5.6 2.3zM605.1 1284.7l-5.6-3.5l5.7-7.3l5.6 3.6zM571.0 1296.2l-5.6-2.8l5.7-6.6l5.7 2.8zM457.6 1326.4l-5.6-2.4l5.7-4.7l5.6 2.4zM622.0 1284.9l-5.6-3.7l5.7-7.3l5.7 3.8zM519.9 1315.7l-5.6-2.5l5.7-5.6l5.6 2.5zM474.5 1326.4l-5.6-2.4l5.7-4.9l5.7 2.3zM627.6 1288.8l-5.6-3.9l5.8-7.2l5.6 3.9zM582.3 1301.7l-5.7-2.8l5.8-6.6l5.6 2.7zM570.9 1305.3l-5.6-2.7l5.7-6.4l5.6 2.7zM400.7 1342.5l-5.6-2.6l5.7-4.0l5.7 2.5zM553.8 1314.8l-5.6-2.7l5.7-6.1l5.7 2.8zM485.8 1331.5l-5.7-2.6l5.8-4.9l5.6 2.5zM417.7 1343.4l-5.6-2.5l5.7-4.1l5.6 2.5zM406.3 1345.0l-5.6-2.5l5.8-4.1l5.6 2.5zM395.0 1346.5l-5.6-2.6l5.7-4.0l5.6 2.6zM627.5 1300.0l-5.6-4.3l5.7-6.9l5.6 4.3zM559.4 1317.6l-5.6-2.8l5.8-6.0l5.6 2.7zM480.0 1336.3l-5.6-2.5l5.7-4.9l5.7 2.6zM411.9 1347.5l-5.6-2.5l5.8-4.1l5.6 2.5zM400.6 1349.0l-5.6-2.5l5.7-4.0l5.6 2.5zM644.5 1301.9l-5.6-4.4l5.7-6.9l5.6 4.5zM610.4 1309.1l-5.6-3.7l5.8-6.6l5.6 3.7zM565.1 1320.3l-5.7-2.7l5.8-6.1l5.6 2.8zM485.6 1338.9l-5.6-2.6l5.8-4.8l5.6 2.6zM564.9 1329.3l-5.6-3.2l5.8-5.8l5.6 3.2zM383.4 1360.7l-5.6-2.6l5.7-3.8l5.6 2.5zM536.5 1339.8l-5.6-2.7l5.7-5.3l5.6 2.7zM411.7 1360.7l-5.6-2.6l5.7-4.0l5.6 2.6zM400.4 1362.0l-5.7-2.6l5.8-3.9l5.6 2.6zM389.0 1363.3l-5.6-2.6l5.7-3.9l5.6 2.6zM377.7 1364.4l-5.6-2.6l5.7-3.7l5.6 2.6zM564.8 1338.1l-5.6-3.2l5.7-5.6l5.6 3.2zM406.0 1364.6l-5.6-2.6l5.7-3.9l5.6 2.6zM394.6 1365.9l-5.6-2.6l5.7-3.9l5.7 2.6zM383.3 1367.1l-5.6-2.7l5.7-3.7l5.6 2.6zM661.2 1326.4l-5.6-4.5l5.7-6.2l5.6 4.7zM411.6 1367.2l-5.6-2.6l5.7-3.9l5.6 2.5zM400.2 1368.5l-5.6-2.6l5.8-3.9l5.6 2.6zM388.9 1369.7l-5.6-2.6l5.7-3.8l5.6 2.6zM655.5 1332.3l-5.7-4.4l5.8-6.0l5.6 4.5zM564.7 1346.6l-5.6-3.1l5.7-5.4l5.6 3.2zM405.8 1371.1l-5.6-2.6l5.8-3.9l5.6 2.6zM394.5 1372.3l-5.6-2.6l5.7-3.8l5.6 2.6zM615.7 1342.6l-5.6-3.8l5.7-5.8l5.6 4.0zM411.5 1373.7l-5.7-2.6l5.8-3.9l5.6 2.6zM388.8 1376.1l-5.6-2.7l5.7-3.7l5.6 2.6zM417.1 1376.4l-5.6-2.7l5.7-3.9l5.6 2.7zM405.7 1377.6l-5.6-2.7l5.7-3.8l5.7 2.6zM394.4 1378.7l-5.6-2.6l5.7-3.8l5.6 2.6zM383.0 1379.8l-5.6-2.6l5.8-3.8l5.6 2.7zM672.3 1345.5l-5.6-4.4l5.7-5.6l5.6 4.5zM626.9 1350.4l-5.6-3.9l5.7-5.5l5.6 4.0zM400.0 1381.4l-5.6-2.7l5.7-3.8l5.6 2.7zM377.3 1383.5l-5.6-2.7l5.7-3.6l5.6 2.6zM666.6 1350.8l-5.6-4.3l5.7-5.4l5.6 4.4zM405.6 1384.0l-5.6-2.6l5.7-3.8l5.6 2.6zM411.2 1386.7l-5.6-2.7l5.7-3.8l5.7 2.7zM689.1 1358.6l-5.6-4.4l5.8-5.2l5.6 4.6zM416.8 1389.4l-5.6-2.7l5.8-3.8l5.6 2.7zM405.5 1390.5l-5.6-2.7l5.7-3.8l5.6 2.7zM399.8 1394.2l-5.7-2.7l5.8-3.7l5.6 2.7zM666.3 1369.2l-5.6-4.1l5.7-5.0l5.7 4.2zM655.0 1370.0l-5.6-3.9l5.7-5.0l5.6 4.0zM643.4 1387.7l-5.6-3.7l5.7-4.5l5.6 3.7zM648.9 1399.2l-5.6-3.6l5.7-4.3l5.6 3.7zM637.5 1399.9l-5.6-3.5l5.8-4.3l5.6 3.5zM682.7 1412.2l-5.6-3.3l5.7-4.1l5.6 3.4zM648.5 1421.3l-5.6-3.3l5.7-3.9l5.6 3.3zM659.7 1427.6l-5.6-3.1l5.8-3.8l5.6 3.1zM654.0 1431.4l-5.6-3.1l5.7-3.8l5.6 3.1zM671.0 1433.9l-5.6-3.1l5.7-3.8l5.6 3.2zM665.2 1437.6l-5.6-3.1l5.8-3.7l5.6 3.1zM670.4 1466.7l-5.6-3.0l5.7-3.4l5.6 2.9zM659.0 1467.2l-5.6-2.9l5.7-3.5l5.7 2.9zM647.5 1474.1l-5.7-2.8l5.8-3.5l5.6 2.9zM556.8 1478.9l-5.6-2.8l5.7-3.4l5.6 2.8zM653.2 1477.0l-5.6-2.9l5.7-3.4l5.6 2.9zM585.1 1480.5l-5.6-2.8l5.7-3.4l5.6 2.8zM573.7 1481.1l-5.6-2.8l5.8-3.4l5.6 2.8zM670.1 1479.3l-5.6-2.9l5.7-3.4l5.7 2.9zM647.4 1480.4l-5.6-2.8l5.8-3.5l5.6 2.9zM602.0 1482.7l-5.6-2.8l5.8-3.4l5.6 2.8zM568.0 1484.6l-5.6-2.9l5.7-3.4l5.6 2.8zM596.3 1486.2l-5.6-2.8l5.7-3.5l5.6 2.8zM585.0 1486.8l-5.6-2.9l5.7-3.4l5.6 2.9zM562.3 1488.0l-5.6-2.8l5.7-3.5l5.6 2.9zM624.6 1487.8l-5.6-2.8l5.7-3.4l5.6 2.8zM613.3 1488.4l-5.6-2.8l5.7-3.5l5.6 2.9zM579.2 1490.2l-5.6-2.8l5.8-3.5l5.6 2.9zM567.9 1490.8l-5.6-2.8l5.7-3.4l5.6 2.8zM630.2 1490.6l-5.6-2.8l5.7-3.4l5.7 2.8zM618.9 1491.2l-5.6-2.8l5.7-3.4l5.6 2.8zM607.5 1491.8l-5.6-2.8l5.8-3.4l5.6 2.8zM596.2 1492.4l-5.6-2.8l5.7-3.4l5.6 2.8zM584.8 1492.9l-5.6-2.7l5.8-3.4l5.6 2.8zM573.5 1493.5l-5.6-2.7l5.7-3.4l5.6 2.8zM562.2 1494.1l-5.7-2.7l5.8-3.4l5.6 2.8zM528.1 1495.9l-5.6-2.7l5.7-3.4l5.6 2.8zM624.5 1494.0l-5.6-2.8l5.7-3.4l5.6 2.8zM556.4 1497.5l-5.6-2.8l5.7-3.3l5.7 2.7zM533.7 1498.7l-5.6-2.8l5.7-3.3l5.7 2.7zM522.4 1499.3l-5.6-2.8l5.7-3.3l5.6 2.7zM652.8 1495.7l-5.6-2.8l5.7-3.4l5.6 2.8zM641.5 1496.2l-5.7-2.8l5.8-3.4l5.6 2.9zM630.1 1496.8l-5.6-2.8l5.7-3.4l5.6 2.8zM618.8 1497.4l-5.6-2.8l5.7-3.4l5.6 2.8zM596.1 1498.5l-5.6-2.8l5.7-3.3l5.6 2.7zM550.7 1500.9l-5.6-2.8l5.7-3.4l5.6 2.8zM528.0 1502.1l-5.6-2.8l5.7-3.4l5.6 2.8zM516.6 1502.7l-5.6-2.8l5.8-3.4l5.6 2.8zM658.4 1498.5l-5.6-2.8l5.7-3.4l5.6 2.9zM635.7 1499.6l-5.6-2.8l5.7-3.4l5.7 2.8zM624.4 1500.2l-5.6-2.8l5.7-3.4l5.6 2.8zM613.0 1500.7l-5.6-2.8l5.8-3.3l5.6 2.8zM601.7 1501.3l-5.6-2.8l5.7-3.4l5.6 2.8zM533.6 1504.9l-5.6-2.8l5.7-3.4l5.6 2.8zM522.3 1505.5l-5.7-2.8l5.8-3.4l5.6 2.8zM630.0 1503.0l-5.6-2.8l5.7-3.4l5.6 2.8zM618.6 1503.5l-5.6-2.8l5.8-3.3l5.6 2.8zM607.3 1504.1l-5.6-2.8l5.7-3.4l5.6 2.8zM550.6 1507.0l-5.6-2.7l5.7-3.4l5.6 2.8zM539.2 1507.6l-5.6-2.7l5.7-3.4l5.7 2.8zM646.9 1505.2l-5.6-2.8l5.8-3.3l5.6 2.8zM635.6 1505.8l-5.6-2.8l5.7-3.4l5.6 2.8zM624.3 1506.3l-5.7-2.8l5.8-3.3l5.6 2.8zM612.9 1506.9l-5.6-2.8l5.7-3.4l5.6 2.8zM601.6 1507.5l-5.7-2.8l5.8-3.4l5.6 2.8zM556.2 1509.8l-5.6-2.8l5.7-3.3l5.6 2.7zM544.8 1510.4l-5.6-2.8l5.8-3.3l5.6 2.7zM533.5 1511.0l-5.6-2.8l5.7-3.3l5.6 2.7zM522.1 1511.6l-5.6-2.8l5.8-3.3l5.6 2.7zM510.8 1512.2l-5.6-2.8l5.7-3.4l5.6 2.8zM641.2 1508.6l-5.6-2.8l5.7-3.4l5.6 2.8zM629.9 1509.1l-5.6-2.8l5.7-3.3l5.6 2.8zM607.2 1510.2l-5.6-2.7l5.7-3.4l5.6 2.8zM539.1 1513.7l-5.6-2.7l5.7-3.4l5.6 2.8zM516.4 1514.9l-5.6-2.7l5.7-3.4l5.6 2.8zM635.5 1511.9l-5.6-2.8l5.7-3.3l5.6 2.8zM624.1 1512.5l-5.6-2.8l5.8-3.4l5.6 2.8zM601.4 1513.6l-5.6-2.8l5.8-3.3l5.6 2.7zM544.7 1516.5l-5.6-2.8l5.7-3.3l5.6 2.7zM533.4 1517.1l-5.6-2.8l5.7-3.3l5.6 2.7zM641.1 1514.7l-5.6-2.8l5.7-3.3l5.6 2.8zM573.0 1518.1l-5.6-2.8l5.7-3.3l5.7 2.7zM550.3 1519.2l-5.6-2.7l5.7-3.4l5.7 2.8zM527.6 1520.4l-5.6-2.7l5.8-3.4l5.6 2.8zM624.0 1518.6l-5.6-2.8l5.7-3.3l5.6 2.7zM601.3 1519.7l-5.6-2.8l5.7-3.3l5.7 2.8zM567.3 1521.4l-5.6-2.7l5.7-3.4l5.6 2.8zM555.9 1522.0l-5.6-2.8l5.8-3.3l5.6 2.8zM533.2 1523.2l-5.6-2.8l5.8-3.3l5.6 2.7zM521.9 1523.8l-5.6-2.8l5.7-3.3l5.6 2.7zM510.6 1524.4l-5.7-2.8l5.8-3.3l5.6 2.7zM618.3 1521.9l-5.6-2.8l5.7-3.3l5.6 2.8zM595.6 1523.0l-5.6-2.7l5.7-3.4l5.6 2.8zM584.2 1523.6l-5.6-2.8l5.8-3.3l5.6 2.8zM561.5 1524.8l-5.7-2.8l5.8-3.3l5.6 2.7zM550.2 1525.3l-5.6-2.7l5.7-3.4l5.6 2.8zM538.9 1525.9l-5.7-2.7l5.8-3.4l5.6 2.8zM516.2 1527.1l-5.6-2.7l5.7-3.4l5.6 2.8zM635.2 1524.1l-5.6-2.7l5.8-3.4l5.6 2.8zM612.5 1525.2l-5.6-2.7l5.8-3.4l5.6 2.8zM589.9 1526.4l-5.7-2.8l5.8-3.3l5.6 2.7zM555.8 1528.1l-5.6-2.8l5.7-3.3l5.7 2.8zM521.8 1529.8l-5.6-2.7l5.7-3.3l5.6 2.7zM618.2 1528.0l-5.7-2.8l5.8-3.3l5.6 2.8zM606.8 1528.6l-5.6-2.8l5.7-3.3l5.6 2.7zM595.5 1529.1l-5.6-2.7l5.7-3.4l5.6 2.8zM572.8 1530.3l-5.6-2.8l5.7-3.3l5.6 2.7zM561.4 1530.8l-5.6-2.7l5.8-3.3l5.6 2.7zM550.1 1531.4l-5.6-2.7l5.7-3.4l5.6 2.8zM623.8 1530.8l-5.6-2.8l5.7-3.3l5.6 2.8zM578.4 1533.0l-5.6-2.7l5.7-3.4l5.6 2.8zM533.0 1535.3l-5.6-2.7l5.7-3.3l5.6 2.7zM521.7 1535.9l-5.7-2.7l5.8-3.4l5.6 2.8zM606.7 1534.6l-5.6-2.7l5.7-3.3l5.6 2.7zM572.7 1536.3l-5.7-2.7l5.8-3.3l5.6 2.7zM561.3 1536.9l-5.6-2.7l5.7-3.4l5.6 2.8zM550.0 1537.5l-5.7-2.7l5.8-3.4l5.6 2.8zM538.6 1538.1l-5.6-2.8l5.7-3.3l5.6 2.8zM566.9 1539.7l-5.6-2.8l5.7-3.3l5.7 2.7zM606.6 1540.7l-5.6-2.7l5.7-3.4l5.6 2.8zM572.5 1542.4l-5.6-2.7l5.8-3.4l5.6 2.8zM561.2 1543.0l-5.6-2.8l5.7-3.3l5.6 2.8zM549.8 1543.6l-5.6-2.8l5.8-3.3l5.6 2.7zM566.8 1545.7l-5.6-2.7l5.7-3.3l5.6 2.7zM640.5 1545.1l-5.6-2.8l5.7-3.3l5.6 2.7zM634.8 1548.4l-5.7-2.8l5.8-3.3l5.6 2.8zM589.4 1550.7l-5.6-2.8l5.7-3.3l5.6 2.8zM595.0 1553.4l-5.6-2.7l5.7-3.3l5.6 2.7zM623.3 1555.0l-5.6-2.7l5.7-3.4l5.6 2.8zM623.2 1561.0l-5.6-2.7l5.7-3.3l5.6 2.7z"/>
<path fill="#10f0f3" stroke="#10f0f3" d="M396.6 1265.0l-5.7-1.5l5.8-4.0l5.6 1.4zM389.4 1343.9l-5.6-2.5l5.7-3.9l5.6 2.4zM411.8 1354.1l-5.6-2.5l5.7-4.1l5.7 2.6zM519.5 1339.5l-5.7-2.7l5.8-5.2l5.6 2.8zM406.1 1358.1l-5.6-2.6l5.7-3.9l5.6 2.5zM383.2 1373.4l-5.7-2.6l5.8-3.7l5.6 2.6zM422.8 1372.5l-5.6-2.7l5.7-4.0l5.6 2.7zM400.1 1374.9l-5.6-2.6l5.7-3.8l5.6 2.6zM422.7 1379.1l-5.6-2.7l5.7-3.9l5.6 2.7zM411.3 1380.2l-5.6-2.6l5.8-3.9l5.6 2.7zM422.6 1385.6l-5.6-2.7l5.7-3.8l5.6 2.6zM399.9 1387.8l-5.6-2.7l5.7-3.7l5.6 2.6zM411.1 1393.2l-5.6-2.7l5.7-3.8l5.6 2.7zM643.0 1410.8l-5.6-3.3l5.7-4.1l5.7 3.3zM511.4 1481.4l-5.6-2.8l5.7-3.4l5.6 2.8zM596.4 1479.9l-5.6-2.8l5.8-3.4l5.6 2.8zM562.4 1481.7l-5.6-2.8l5.7-3.4l5.6 2.8zM613.4 1482.1l-5.6-2.8l5.7-3.4l5.6 2.8zM590.7 1483.4l-5.6-2.9l5.7-3.4l5.6 2.8zM579.4 1483.9l-5.7-2.8l5.8-3.4l5.6 2.8zM556.7 1485.2l-5.7-2.8l5.8-3.5l5.6 2.8zM511.3 1487.6l-5.6-2.8l5.7-3.4l5.6 2.8zM619.0 1485.0l-5.6-2.9l5.7-3.4l5.6 2.9zM607.7 1485.6l-5.7-2.9l5.8-3.4l5.6 2.8zM573.6 1487.4l-5.6-2.8l5.7-3.5l5.7 2.8zM601.9 1489.0l-5.6-2.8l5.7-3.5l5.7 2.9zM590.6 1489.6l-5.6-2.8l5.7-3.4l5.6 2.8zM556.5 1491.4l-5.6-2.8l5.8-3.4l5.6 2.8zM550.8 1494.7l-5.6-2.7l5.7-3.4l5.6 2.8zM613.1 1494.6l-5.7-2.8l5.8-3.4l5.6 2.8zM601.8 1495.1l-5.6-2.7l5.7-3.4l5.6 2.8zM590.5 1495.7l-5.7-2.8l5.8-3.3l5.6 2.8zM579.1 1496.3l-5.6-2.8l5.7-3.3l5.6 2.7zM545.1 1498.1l-5.6-2.8l5.7-3.3l5.6 2.7zM607.4 1497.9l-5.6-2.8l5.7-3.3l5.7 2.8zM539.3 1501.5l-5.6-2.8l5.8-3.4l5.6 2.8zM545.0 1504.3l-5.7-2.8l5.8-3.4l5.6 2.8zM510.9 1506.0l-5.6-2.7l5.7-3.4l5.6 2.8zM527.9 1508.2l-5.6-2.7l5.7-3.4l5.6 2.8zM516.5 1508.8l-5.6-2.8l5.7-3.3l5.7 2.8zM618.5 1509.7l-5.6-2.8l5.7-3.4l5.7 2.8zM550.4 1513.1l-5.6-2.7l5.8-3.4l5.6 2.8zM527.8 1514.3l-5.7-2.7l5.8-3.4l5.6 2.8zM612.8 1513.0l-5.6-2.8l5.7-3.3l5.6 2.8zM556.1 1515.9l-5.7-2.8l5.8-3.3l5.6 2.8zM522.0 1517.7l-5.6-2.8l5.7-3.3l5.7 2.7zM510.7 1518.3l-5.6-2.8l5.7-3.3l5.6 2.7zM629.7 1515.2l-5.6-2.7l5.8-3.4l5.6 2.8zM618.4 1515.8l-5.6-2.8l5.7-3.3l5.6 2.8zM607.1 1516.4l-5.7-2.8l5.8-3.4l5.6 2.8zM561.7 1518.7l-5.6-2.8l5.7-3.3l5.6 2.7zM539.0 1519.8l-5.6-2.7l5.7-3.4l5.6 2.8zM516.3 1521.0l-5.6-2.7l5.7-3.4l5.6 2.8zM504.9 1521.6l-5.6-2.7l5.8-3.4l5.6 2.8zM635.4 1518.0l-5.7-2.8l5.8-3.3l5.6 2.8zM612.7 1519.1l-5.6-2.7l5.7-3.4l5.6 2.8zM578.6 1520.8l-5.6-2.7l5.8-3.4l5.6 2.8zM544.6 1522.6l-5.6-2.8l5.7-3.3l5.6 2.7zM629.6 1521.4l-5.6-2.8l5.7-3.4l5.7 2.8zM606.9 1522.5l-5.6-2.8l5.8-3.3l5.6 2.7zM572.9 1524.2l-5.6-2.8l5.7-3.3l5.6 2.7zM527.5 1526.5l-5.6-2.7l5.7-3.4l5.6 2.8zM623.9 1524.7l-5.6-2.8l5.7-3.3l5.6 2.8zM601.2 1525.8l-5.6-2.8l5.7-3.3l5.6 2.8zM578.5 1526.9l-5.6-2.7l5.7-3.4l5.6 2.8zM567.2 1527.5l-5.6-2.7l5.7-3.4l5.6 2.8zM544.5 1528.7l-5.6-2.8l5.7-3.3l5.6 2.7zM533.1 1529.3l-5.6-2.8l5.7-3.3l5.7 2.7zM629.5 1527.5l-5.6-2.8l5.7-3.3l5.6 2.7zM584.1 1529.7l-5.6-2.8l5.7-3.3l5.7 2.8zM538.7 1532.0l-5.6-2.7l5.8-3.4l5.6 2.8zM527.4 1532.6l-5.6-2.8l5.7-3.3l5.6 2.8zM516.0 1533.2l-5.6-2.8l5.8-3.3l5.6 2.7zM612.4 1531.3l-5.6-2.7l5.7-3.4l5.7 2.8zM601.1 1531.9l-5.6-2.8l5.7-3.3l5.6 2.8zM589.7 1532.5l-5.6-2.8l5.8-3.3l5.6 2.7zM555.7 1534.2l-5.6-2.8l5.7-3.3l5.6 2.7zM544.3 1534.8l-5.6-2.8l5.8-3.3l5.6 2.7zM618.0 1534.1l-5.6-2.8l5.8-3.3l5.6 2.8zM595.3 1535.2l-5.6-2.7l5.8-3.4l5.6 2.8zM527.3 1538.7l-5.6-2.8l5.7-3.3l5.6 2.7zM623.6 1536.8l-5.6-2.7l5.8-3.3l5.6 2.7zM612.3 1537.4l-5.6-2.8l5.7-3.3l5.6 2.8zM555.6 1540.2l-5.6-2.7l5.7-3.3l5.6 2.7zM544.2 1540.8l-5.6-2.7l5.7-3.3l5.7 2.7zM532.9 1541.4l-5.6-2.7l5.7-3.4l5.6 2.8zM538.5 1544.2l-5.6-2.8l5.7-3.3l5.6 2.7zM623.5 1542.9l-5.6-2.8l5.7-3.3l5.7 2.8zM555.5 1546.3l-5.7-2.7l5.8-3.4l5.6 2.8z"/>
<path fill="#18f5ed" stroke="#18f5ed" d="M391.3 1247.3l-5.6-1.6l5.7-3.7l5.6 1.5zM417.3 1363.2l-5.6-2.5l5.7-4.0l5.6 2.5zM376.9 1402.4l-5.6-2.7l5.8-3.6l5.6 2.7zM642.7 1432.0l-5.7-3.1l5.8-3.8l5.6 3.2zM636.2 1474.7l-5.6-2.9l5.7-3.4l5.6 2.9zM551.0 1482.4l-5.6-2.9l5.8-3.4l5.6 2.8zM635.8 1493.4l-5.6-2.8l5.8-3.4l5.6 2.8zM494.0 1503.9l-5.7-2.8l5.8-3.3l5.6 2.7zM505.2 1509.4l-5.6-2.8l5.7-3.3l5.6 2.7zM567.0 1533.6l-5.6-2.8l5.8-3.3l5.6 2.8zM498.8 1543.2l-5.6-2.8l5.8-3.3l5.6 2.7zM544.1 1546.9l-5.6-2.7l5.7-3.4l5.6 2.8zM572.4 1548.5l-5.6-2.8l5.7-3.3l5.6 2.8zM555.0 1570.6l-5.6-2.8l5.7-3.3l5.6 2.7zM560.6 1573.3l-5.6-2.7l5.7-3.4l5.6 2.8z"/>
<path fill="#20fae7" stroke="#20fae7" d="M385.7 1245.7l-5.6-2.1l5.7-3.7l5.6 2.1zM391.2 1252.5l-5.6-1.4l5.7-3.8l5.6 1.3zM542.1 1342.6l-5.6-2.8l5.7-5.3l5.7 2.8zM517.6 1452.7l-5.6-2.8l5.7-3.6l5.7 2.9zM648.0 1448.5l-5.6-3.0l5.8-3.7l5.6 3.1zM574.2 1455.8l-5.6-2.9l5.7-3.6l5.7 2.9zM523.0 1468.3l-5.6-2.9l5.7-3.5l5.6 2.9zM630.7 1465.5l-5.6-2.9l5.7-3.5l5.6 2.9zM551.3 1469.8l-5.6-2.8l5.7-3.5l5.6 2.9zM494.6 1473.0l-5.6-2.8l5.7-3.5l5.6 2.9zM647.7 1467.8l-5.6-2.9l5.7-3.5l5.6 2.9zM636.3 1468.4l-5.6-2.9l5.7-3.5l5.7 2.9zM585.2 1474.3l-5.6-2.9l5.7-3.4l5.6 2.8zM517.1 1478.0l-5.6-2.8l5.8-3.5l5.6 2.8zM590.8 1477.1l-5.6-2.8l5.7-3.5l5.7 2.9zM568.1 1478.3l-5.6-2.8l5.7-3.5l5.7 2.9zM607.8 1479.3l-5.6-2.8l5.7-3.4l5.6 2.8zM477.2 1489.4l-5.6-2.7l5.8-3.4l5.6 2.7zM505.4 1497.1l-5.6-2.7l5.7-3.4l5.7 2.8zM482.7 1498.4l-5.6-2.8l5.8-3.4l5.6 2.8zM471.3 1505.1l-5.6-2.8l5.7-3.3l5.6 2.7zM505.1 1515.5l-5.7-2.7l5.8-3.4l5.6 2.8zM471.0 1517.3l-5.6-2.8l5.7-3.3l5.7 2.7zM487.9 1525.5l-5.7-2.7l5.8-3.4l5.6 2.8zM515.9 1539.2l-5.6-2.7l5.7-3.3l5.7 2.7zM612.2 1543.5l-5.6-2.8l5.7-3.3l5.6 2.7zM544.0 1553.0l-5.6-2.8l5.7-3.3l5.6 2.7zM566.4 1563.9l-5.6-2.7l5.8-3.3l5.6 2.7zM600.4 1568.2l-5.7-2.7l5.8-3.3l5.6 2.7zM583.2 1578.2l-5.7-2.8l5.8-3.3l5.6 2.8zM549.1 1579.9l-5.6-2.7l5.7-3.3l5.6 2.7z"/>
<path fill="#28ffe1" stroke="#28ffe1" d="M642.9 1418.0l-5.6-3.2l5.7-4.0l5.6 3.3zM557.3 1453.6l-5.6-2.9l5.7-3.6l5.6 2.9zM534.6 1454.9l-5.6-2.9l5.7-3.6l5.6 2.9zM523.2 1455.6l-5.6-2.9l5.8-3.5l5.6 2.8zM517.5 1459.1l-5.6-2.8l5.7-3.6l5.6 2.9zM647.9 1455.0l-5.6-2.9l5.7-3.6l5.6 2.9zM636.6 1455.6l-5.6-3.0l5.7-3.5l5.6 3.0zM613.9 1456.8l-5.6-2.9l5.7-3.6l5.6 3.0zM602.5 1457.4l-5.6-2.9l5.7-3.5l5.7 2.9zM568.5 1459.3l-5.6-2.8l5.7-3.6l5.6 2.9zM534.5 1461.3l-5.7-2.9l5.8-3.5l5.6 2.9zM523.1 1461.9l-5.6-2.8l5.7-3.5l5.6 2.8zM642.2 1458.5l-5.6-2.9l5.7-3.5l5.6 2.9zM608.1 1460.3l-5.6-2.9l5.8-3.5l5.6 2.9zM585.5 1461.6l-5.6-2.9l5.8-3.5l5.6 2.9zM636.4 1462.0l-5.6-2.9l5.8-3.5l5.6 2.9zM625.0 1469.0l-5.6-2.9l5.7-3.5l5.6 2.9zM602.3 1470.2l-5.6-2.9l5.7-3.5l5.6 2.9zM511.5 1475.2l-5.6-2.8l5.7-3.5l5.7 2.8zM596.6 1473.7l-5.7-2.9l5.8-3.5l5.6 2.9zM573.9 1474.9l-5.7-2.9l5.8-3.4l5.6 2.8zM562.5 1475.5l-5.6-2.8l5.7-3.5l5.6 2.8zM528.5 1477.4l-5.6-2.9l5.7-3.4l5.6 2.8zM624.9 1475.3l-5.7-2.9l5.8-3.4l5.6 2.8zM613.5 1475.9l-5.6-2.8l5.7-3.5l5.6 2.8zM602.2 1476.5l-5.6-2.8l5.7-3.5l5.6 2.9zM477.4 1483.3l-5.6-2.8l5.7-3.4l5.6 2.8zM494.3 1485.4l-5.6-2.8l5.7-3.4l5.7 2.8zM483.0 1486.0l-5.6-2.7l5.7-3.4l5.6 2.7zM630.3 1484.4l-5.6-2.8l5.8-3.5l5.6 2.9zM505.5 1491.0l-5.6-2.8l5.8-3.4l5.6 2.8zM636.0 1487.2l-5.7-2.8l5.8-3.4l5.6 2.8zM516.8 1496.5l-5.6-2.7l5.7-3.4l5.6 2.8zM460.0 1499.6l-5.6-2.8l5.8-3.4l5.6 2.8zM499.7 1500.5l-5.6-2.7l5.7-3.4l5.6 2.7zM488.3 1501.1l-5.6-2.7l5.8-3.4l5.6 2.8zM477.0 1501.7l-5.6-2.7l5.7-3.4l5.6 2.8zM448.6 1506.3l-5.6-2.8l5.7-3.3l5.6 2.7zM499.6 1506.6l-5.6-2.7l5.7-3.4l5.6 2.8zM499.4 1512.8l-5.6-2.8l5.8-3.4l5.6 2.8zM488.1 1513.3l-5.6-2.7l5.7-3.4l5.6 2.8zM476.8 1513.9l-5.7-2.7l5.8-3.4l5.6 2.8zM465.4 1514.5l-5.6-2.7l5.7-3.4l5.6 2.8zM488.0 1519.4l-5.6-2.7l5.7-3.4l5.6 2.8zM482.2 1522.8l-5.6-2.8l5.8-3.3l5.6 2.7zM476.5 1526.1l-5.6-2.7l5.7-3.4l5.6 2.8zM465.2 1526.7l-5.6-2.7l5.7-3.4l5.6 2.8zM510.4 1530.4l-5.6-2.7l5.8-3.3l5.6 2.7zM499.1 1531.0l-5.6-2.7l5.7-3.4l5.6 2.8zM493.4 1534.3l-5.7-2.7l5.8-3.3l5.6 2.7zM487.6 1537.7l-5.6-2.8l5.7-3.3l5.7 2.7zM481.9 1541.0l-5.6-2.7l5.7-3.4l5.6 2.8zM521.5 1542.0l-5.6-2.8l5.8-3.3l5.6 2.8zM487.5 1543.7l-5.6-2.7l5.7-3.3l5.6 2.7zM527.1 1544.7l-5.7-2.7l5.8-3.3l5.6 2.7zM504.5 1545.9l-5.7-2.7l5.8-3.4l5.6 2.8zM617.8 1546.2l-5.6-2.7l5.7-3.4l5.6 2.8zM532.6 1553.5l-5.6-2.7l5.8-3.3l5.6 2.7zM509.9 1554.7l-5.6-2.7l5.8-3.4l5.6 2.8zM498.6 1555.3l-5.6-2.8l5.7-3.3l5.6 2.8zM617.7 1552.3l-5.6-2.8l5.7-3.3l5.6 2.7zM560.9 1555.1l-5.6-2.7l5.8-3.3l5.6 2.7zM566.6 1557.9l-5.7-2.8l5.8-3.3l5.6 2.8zM521.2 1560.2l-5.6-2.8l5.7-3.3l5.6 2.8zM617.6 1558.3l-5.7-2.7l5.8-3.3l5.6 2.7zM606.2 1558.9l-5.6-2.8l5.7-3.3l5.6 2.8zM560.8 1561.2l-5.6-2.8l5.7-3.3l5.7 2.8zM617.4 1564.4l-5.6-2.8l5.8-3.3l5.6 2.7zM572.0 1566.7l-5.6-2.8l5.8-3.3l5.6 2.7zM526.7 1569.0l-5.6-2.8l5.7-3.3l5.6 2.8zM532.3 1571.7l-5.6-2.7l5.7-3.3l5.6 2.7zM577.5 1575.4l-5.6-2.7l5.8-3.3l5.6 2.7zM566.2 1576.0l-5.6-2.7l5.7-3.3l5.6 2.7zM554.7 1582.6l-5.6-2.7l5.7-3.3l5.7 2.7zM571.7 1584.8l-5.6-2.7l5.7-3.3l5.6 2.7zM577.3 1587.5l-5.6-2.7l5.7-3.3l5.6 2.7zM565.8 1594.2l-5.6-2.8l5.8-3.3l5.6 2.7z"/>
<path fill="#34ffd6" stroke="#34ffd6" d="M417.6 1350.1l-5.7-2.6l5.8-4.1l5.6 2.6zM428.3 1381.7l-5.6-2.6l5.7-3.9l5.6 2.6zM394.0 1397.9l-5.6-2.7l5.7-3.7l5.7 2.7zM626.4 1385.0l-5.6-3.6l5.8-4.6l5.6 3.6zM642.8 1425.1l-5.6-3.2l5.7-3.9l5.6 3.3zM648.4 1428.3l-5.6-3.2l5.7-3.8l5.6 3.2zM637.0 1428.9l-5.6-3.1l5.8-3.9l5.6 3.2zM642.5 1438.8l-5.6-3.0l5.8-3.8l5.6 3.1zM636.8 1442.5l-5.6-3.0l5.7-3.7l5.6 3.0zM631.1 1446.1l-5.6-3.0l5.7-3.6l5.6 3.0zM636.7 1449.1l-5.6-3.0l5.7-3.6l5.6 3.0zM614.0 1450.3l-5.6-2.9l5.7-3.7l5.6 3.0zM642.3 1452.1l-5.6-3.0l5.7-3.6l5.6 3.0zM619.6 1453.3l-5.6-3.0l5.7-3.6l5.6 3.0zM596.9 1454.5l-5.6-2.9l5.7-3.6l5.6 3.0zM562.9 1456.5l-5.6-2.9l5.7-3.6l5.6 2.9zM540.2 1457.8l-5.6-2.9l5.7-3.6l5.6 2.9zM528.8 1458.4l-5.6-2.8l5.8-3.6l5.6 2.9zM557.1 1460.0l-5.6-2.9l5.8-3.5l5.6 2.9zM630.8 1459.1l-5.6-2.9l5.8-3.6l5.6 3.0zM619.5 1459.7l-5.6-2.9l5.7-3.5l5.6 2.9zM551.4 1463.5l-5.6-2.9l5.7-3.5l5.6 2.9zM528.7 1464.8l-5.6-2.9l5.7-3.5l5.7 2.9zM517.4 1465.4l-5.6-2.8l5.7-3.5l5.6 2.8zM647.8 1461.4l-5.6-2.9l5.7-3.5l5.6 2.9zM625.1 1462.6l-5.6-2.9l5.7-3.5l5.6 2.9zM602.4 1463.8l-5.6-2.8l5.7-3.6l5.6 2.9zM579.7 1465.1l-5.6-2.9l5.7-3.5l5.6 2.9zM568.4 1465.7l-5.6-2.8l5.7-3.6l5.6 2.9zM545.7 1467.0l-5.6-2.9l5.7-3.5l5.6 2.9zM534.3 1467.6l-5.6-2.8l5.8-3.5l5.6 2.8zM500.3 1469.6l-5.6-2.9l5.7-3.4l5.6 2.8zM574.0 1468.6l-5.6-2.9l5.7-3.5l5.6 2.9zM539.9 1470.5l-5.6-2.9l5.8-3.5l5.6 2.9zM528.6 1471.1l-5.6-2.8l5.7-3.5l5.6 2.8zM505.9 1472.4l-5.6-2.8l5.7-3.5l5.6 2.8zM613.6 1469.6l-5.6-2.9l5.8-3.5l5.6 2.9zM545.6 1473.3l-5.7-2.8l5.8-3.5l5.6 2.8zM522.9 1474.5l-5.6-2.8l5.7-3.4l5.6 2.8zM500.2 1475.8l-5.6-2.8l5.7-3.4l5.6 2.8zM488.8 1476.4l-5.6-2.8l5.8-3.4l5.6 2.8zM641.9 1471.3l-5.6-2.9l5.8-3.5l5.6 2.9zM630.6 1471.8l-5.6-2.8l5.7-3.5l5.6 2.9zM619.2 1472.4l-5.6-2.8l5.8-3.5l5.6 2.9zM607.9 1473.1l-5.6-2.9l5.7-3.5l5.6 2.9zM494.4 1479.2l-5.6-2.8l5.8-3.4l5.6 2.8zM534.1 1480.2l-5.6-2.8l5.7-3.5l5.6 2.8zM500.1 1482.0l-5.7-2.8l5.8-3.4l5.6 2.8zM488.7 1482.6l-5.6-2.7l5.7-3.5l5.6 2.8zM630.5 1478.1l-5.6-2.8l5.7-3.5l5.6 2.9zM619.1 1478.7l-5.6-2.8l5.7-3.5l5.7 2.9zM471.6 1486.7l-5.6-2.8l5.8-3.4l5.6 2.8zM494.2 1491.6l-5.6-2.8l5.7-3.4l5.6 2.8zM471.5 1492.8l-5.6-2.7l5.7-3.4l5.6 2.7zM499.8 1494.4l-5.6-2.8l5.7-3.4l5.6 2.8zM488.5 1495.0l-5.6-2.8l5.7-3.4l5.6 2.8zM465.8 1496.2l-5.6-2.8l5.7-3.3l5.6 2.7zM471.4 1499.0l-5.6-2.8l5.7-3.4l5.6 2.8zM482.6 1504.5l-5.6-2.8l5.7-3.3l5.6 2.7zM476.9 1507.8l-5.6-2.7l5.7-3.4l5.6 2.8zM454.2 1509.0l-5.6-2.7l5.7-3.4l5.6 2.8zM442.8 1509.6l-5.6-2.7l5.8-3.4l5.6 2.8zM459.8 1511.8l-5.6-2.8l5.7-3.3l5.6 2.7zM482.4 1516.7l-5.6-2.8l5.7-3.3l5.6 2.7zM459.6 1524.0l-5.7-2.8l5.8-3.3l5.6 2.7zM482.1 1528.9l-5.6-2.8l5.7-3.3l5.7 2.7zM470.8 1529.4l-5.6-2.7l5.7-3.3l5.6 2.7zM476.4 1532.2l-5.6-2.8l5.7-3.3l5.6 2.8zM482.0 1534.9l-5.6-2.7l5.7-3.3l5.6 2.7zM510.3 1536.5l-5.6-2.7l5.7-3.4l5.6 2.8zM499.0 1537.1l-5.6-2.8l5.7-3.3l5.6 2.8zM493.2 1540.4l-5.6-2.7l5.8-3.4l5.6 2.8zM617.9 1540.1l-5.6-2.7l5.7-3.3l5.6 2.7zM521.4 1548.1l-5.6-2.8l5.7-3.3l5.7 2.7zM510.1 1548.6l-5.6-2.7l5.7-3.3l5.6 2.7zM561.1 1549.1l-5.6-2.8l5.7-3.3l5.6 2.7zM549.7 1549.6l-5.6-2.7l5.7-3.3l5.7 2.7zM538.4 1550.2l-5.6-2.7l5.7-3.3l5.6 2.7zM515.7 1551.4l-5.6-2.8l5.7-3.3l5.6 2.8zM504.3 1552.0l-5.6-2.8l5.8-3.3l5.6 2.7zM578.0 1551.2l-5.6-2.7l5.7-3.3l5.7 2.7zM549.6 1555.7l-5.6-2.7l5.7-3.4l5.6 2.8zM538.3 1556.3l-5.7-2.8l5.8-3.3l5.6 2.8zM515.6 1557.4l-5.7-2.7l5.8-3.3l5.6 2.7zM611.9 1555.6l-5.6-2.8l5.8-3.3l5.6 2.8zM543.9 1559.0l-5.6-2.7l5.7-3.3l5.6 2.7zM532.5 1559.6l-5.6-2.7l5.7-3.4l5.7 2.8zM509.8 1560.8l-5.6-2.8l5.7-3.3l5.7 2.7zM583.5 1560.0l-5.6-2.7l5.7-3.3l5.6 2.7zM549.5 1561.8l-5.6-2.8l5.7-3.3l5.6 2.7zM526.8 1562.9l-5.6-2.7l5.7-3.3l5.6 2.7zM515.4 1563.5l-5.6-2.7l5.8-3.4l5.6 2.8zM589.1 1562.8l-5.6-2.8l5.7-3.3l5.7 2.8zM543.7 1565.1l-5.6-2.8l5.8-3.3l5.6 2.8zM521.1 1566.2l-5.7-2.7l5.8-3.3l5.6 2.7zM594.7 1565.5l-5.6-2.7l5.8-3.3l5.6 2.7zM583.4 1566.1l-5.6-2.8l5.7-3.3l5.6 2.8zM611.7 1567.7l-5.6-2.8l5.7-3.3l5.6 2.8zM577.7 1569.4l-5.7-2.7l5.8-3.4l5.6 2.8zM543.6 1571.1l-5.6-2.7l5.7-3.3l5.7 2.7zM520.9 1572.3l-5.6-2.8l5.8-3.3l5.6 2.8zM594.6 1571.6l-5.6-2.8l5.7-3.3l5.7 2.7zM583.3 1572.1l-5.6-2.7l5.7-3.3l5.6 2.7zM554.8 1576.6l-5.6-2.7l5.8-3.3l5.6 2.7zM543.5 1577.2l-5.6-2.8l5.7-3.3l5.6 2.8zM532.2 1577.8l-5.7-2.8l5.8-3.3l5.6 2.7zM560.5 1579.3l-5.7-2.7l5.8-3.3l5.6 2.7zM588.8 1580.9l-5.6-2.7l5.7-3.3l5.6 2.7zM543.4 1583.2l-5.6-2.7l5.7-3.3l5.6 2.7zM560.3 1585.4l-5.6-2.8l5.8-3.3l5.6 2.8zM549.0 1586.0l-5.6-2.8l5.7-3.3l5.6 2.7zM566.0 1588.1l-5.7-2.7l5.8-3.3l5.6 2.7zM554.6 1588.7l-5.6-2.7l5.7-3.4l5.6 2.8zM571.6 1590.8l-5.6-2.7l5.7-3.3l5.6 2.7z"/>
<path fill="#3fffcb" stroke="#3fffcb" d="M570.3 1349.9l-5.6-3.3l5.7-5.3l5.6 3.2zM405.4 1396.9l-5.6-2.7l5.7-3.7l5.6 2.7zM636.9 1435.8l-5.6-3.1l5.7-3.8l5.7 3.1zM631.2 1439.5l-5.6-3.1l5.7-3.7l5.6 3.1zM648.2 1441.8l-5.7-3.0l5.8-3.7l5.6 3.1zM540.3 1451.3l-5.6-2.9l5.7-3.6l5.6 2.9zM529.0 1452.0l-5.6-2.8l5.7-3.6l5.6 2.8zM602.6 1451.0l-5.6-3.0l5.8-3.6l5.6 3.0zM591.3 1451.6l-5.6-2.9l5.7-3.7l5.6 3.0zM545.9 1454.2l-5.6-2.9l5.7-3.6l5.7 3.0zM511.9 1456.3l-5.6-2.9l5.7-3.5l5.6 2.8zM631.0 1452.6l-5.7-2.9l5.8-3.6l5.6 3.0zM608.3 1453.9l-5.7-2.9l5.8-3.6l5.6 2.9zM551.5 1457.1l-5.6-2.9l5.8-3.5l5.6 2.9zM625.2 1456.2l-5.6-2.9l5.7-3.6l5.7 2.9zM591.2 1458.1l-5.6-2.9l5.7-3.6l5.6 2.9zM545.8 1460.6l-5.6-2.8l5.7-3.6l5.6 2.9zM511.8 1462.6l-5.6-2.8l5.7-3.5l5.6 2.8zM500.4 1463.3l-5.6-2.8l5.7-3.6l5.7 2.9zM596.8 1461.0l-5.6-2.9l5.7-3.6l5.6 2.9zM562.8 1462.9l-5.7-2.9l5.8-3.5l5.6 2.8zM540.1 1464.1l-5.6-2.8l5.7-3.5l5.6 2.8zM506.0 1466.1l-5.6-2.8l5.8-3.5l5.6 2.8zM494.7 1466.7l-5.6-2.8l5.7-3.4l5.6 2.8zM613.8 1463.2l-5.7-2.9l5.8-3.5l5.6 2.9zM591.1 1464.5l-5.7-2.9l5.8-3.5l5.6 2.9zM511.6 1468.9l-5.6-2.8l5.8-3.5l5.6 2.8zM642.1 1464.9l-5.7-2.9l5.8-3.5l5.6 2.9zM619.4 1466.1l-5.6-2.9l5.7-3.5l5.6 2.9zM608.0 1466.7l-5.6-2.9l5.7-3.5l5.7 2.9zM585.3 1468.0l-5.6-2.9l5.7-3.5l5.7 2.9zM562.6 1469.2l-5.6-2.8l5.8-3.5l5.6 2.8zM590.9 1470.8l-5.6-2.8l5.8-3.5l5.6 2.8zM579.6 1471.4l-5.6-2.8l5.7-3.5l5.6 2.9zM568.2 1472.0l-5.6-2.8l5.8-3.5l5.6 2.9zM556.9 1472.7l-5.6-2.9l5.7-3.4l5.6 2.8zM534.2 1473.9l-5.6-2.8l5.7-3.5l5.6 2.9zM539.8 1476.7l-5.6-2.8l5.7-3.4l5.7 2.8zM483.1 1479.9l-5.6-2.8l5.7-3.5l5.6 2.8zM505.7 1484.8l-5.6-2.8l5.7-3.4l5.6 2.8zM636.1 1481.0l-5.6-2.9l5.7-3.4l5.6 2.9zM499.9 1488.2l-5.6-2.8l5.8-3.4l5.6 2.8zM511.2 1493.8l-5.7-2.8l5.8-3.4l5.6 2.8zM477.1 1495.6l-5.6-2.8l5.7-3.4l5.7 2.8zM494.1 1497.8l-5.6-2.8l5.7-3.4l5.6 2.8zM511.0 1499.9l-5.6-2.8l5.8-3.3l5.6 2.7zM465.7 1502.3l-5.7-2.7l5.8-3.4l5.6 2.8zM454.3 1502.9l-5.6-2.7l5.7-3.4l5.6 2.8zM459.9 1505.7l-5.6-2.8l5.7-3.3l5.7 2.7zM465.5 1508.4l-5.6-2.7l5.8-3.4l5.6 2.8zM493.8 1510.0l-5.6-2.8l5.8-3.3l5.6 2.7zM471.1 1511.2l-5.6-2.8l5.8-3.3l5.6 2.7zM442.7 1515.7l-5.6-2.7l5.7-3.4l5.7 2.8zM459.7 1517.9l-5.6-2.8l5.7-3.3l5.6 2.7zM499.3 1518.9l-5.6-2.8l5.7-3.3l5.7 2.7zM453.9 1521.2l-5.6-2.7l5.8-3.4l5.6 2.8zM499.2 1524.9l-5.6-2.7l5.7-3.3l5.6 2.7zM504.8 1527.7l-5.6-2.8l5.7-3.3l5.7 2.8zM493.5 1528.3l-5.6-2.8l5.7-3.3l5.6 2.7zM487.7 1531.6l-5.6-2.7l5.8-3.4l5.6 2.8zM470.7 1535.5l-5.7-2.7l5.8-3.4l5.6 2.8zM476.3 1538.3l-5.6-2.8l5.7-3.3l5.6 2.7zM515.8 1545.3l-5.6-2.7l5.7-3.4l5.6 2.8zM493.1 1546.5l-5.6-2.8l5.7-3.3l5.6 2.8zM532.8 1547.5l-5.6-2.8l5.7-3.3l5.6 2.8zM527.0 1550.8l-5.6-2.7l5.8-3.4l5.6 2.8zM612.1 1549.5l-5.7-2.7l5.8-3.3l5.6 2.7zM566.7 1551.8l-5.6-2.7l5.7-3.4l5.6 2.8zM555.3 1552.4l-5.6-2.8l5.8-3.3l5.6 2.8zM521.3 1554.1l-5.6-2.7l5.7-3.3l5.6 2.7zM606.3 1552.8l-5.6-2.7l5.7-3.3l5.7 2.7zM572.3 1554.6l-5.6-2.8l5.7-3.3l5.6 2.7zM526.9 1556.9l-5.6-2.8l5.7-3.3l5.6 2.7zM504.2 1558.0l-5.6-2.7l5.7-3.3l5.6 2.7zM589.2 1556.7l-5.6-2.7l5.8-3.3l5.6 2.7zM577.9 1557.3l-5.6-2.7l5.7-3.4l5.6 2.8zM572.2 1560.6l-5.6-2.7l5.7-3.3l5.6 2.7zM538.1 1562.3l-5.6-2.7l5.8-3.3l5.6 2.7zM611.8 1561.6l-5.6-2.7l5.7-3.3l5.7 2.7zM577.8 1563.3l-5.6-2.7l5.7-3.3l5.6 2.7zM532.4 1565.7l-5.6-2.8l5.7-3.3l5.6 2.7zM509.7 1566.8l-5.6-2.7l5.7-3.3l5.6 2.7zM606.1 1564.9l-5.6-2.7l5.7-3.3l5.6 2.7zM560.7 1567.2l-5.6-2.7l5.7-3.3l5.6 2.7zM549.4 1567.8l-5.7-2.7l5.8-3.3l5.6 2.7zM515.3 1569.5l-5.6-2.7l5.7-3.3l5.7 2.7zM566.3 1570.0l-5.6-2.8l5.7-3.3l5.6 2.8zM606.0 1571.0l-5.6-2.8l5.7-3.3l5.6 2.8zM549.2 1573.9l-5.6-2.8l5.8-3.3l5.6 2.8zM537.9 1574.4l-5.6-2.7l5.7-3.3l5.6 2.7zM526.5 1575.0l-5.6-2.7l5.8-3.3l5.6 2.7zM600.2 1574.3l-5.6-2.7l5.8-3.4l5.6 2.8zM588.9 1574.9l-5.6-2.8l5.7-3.3l5.6 2.8zM594.5 1577.6l-5.6-2.7l5.7-3.3l5.6 2.7zM571.8 1578.8l-5.6-2.8l5.7-3.3l5.6 2.7zM566.1 1582.1l-5.6-2.8l5.7-3.3l5.6 2.8zM532.0 1583.8l-5.6-2.7l5.8-3.3l5.6 2.7zM583.0 1584.2l-5.6-2.7l5.8-3.3l5.6 2.7zM560.2 1591.4l-5.6-2.7l5.7-3.3l5.7 2.7z"/>
<path fill="#4bffc0" stroke="#4bffc0" d="M401.1 1322.9l-5.6-2.3l5.7-4.2l5.6 2.3zM417.8 1336.8l-5.6-2.5l5.7-4.2l5.6 2.4zM508.2 1341.8l-5.6-2.6l5.7-5.0l5.6 2.6zM525.2 1342.3l-5.6-2.8l5.7-5.1l5.6 2.7zM547.7 1345.6l-5.6-3.0l5.8-5.3l5.6 3.0zM342.1 1448.0l-5.7-2.7l5.8-3.4l5.6 2.7zM648.3 1435.1l-5.6-3.1l5.7-3.7l5.6 3.1zM642.4 1445.5l-5.6-3.0l5.7-3.7l5.7 3.0zM608.4 1447.4l-5.6-3.0l5.7-3.7l5.6 3.0zM625.3 1449.7l-5.6-3.0l5.8-3.6l5.6 3.0zM585.6 1455.2l-5.6-3.0l5.7-3.5l5.6 2.9zM506.1 1459.8l-5.7-2.9l5.8-3.5l5.6 2.9zM324.6 1470.3l-5.6-2.7l5.7-3.4l5.6 2.8zM574.1 1462.2l-5.6-2.9l5.7-3.5l5.6 2.9zM557.0 1466.4l-5.6-2.9l5.7-3.5l5.7 2.9zM596.7 1467.3l-5.6-2.8l5.7-3.5l5.6 2.8zM517.3 1471.7l-5.7-2.8l5.8-3.5l5.6 2.9zM551.2 1476.1l-5.6-2.8l5.7-3.5l5.6 2.9zM505.8 1478.6l-5.6-2.8l5.7-3.4l5.6 2.8zM641.8 1477.6l-5.6-2.9l5.7-3.4l5.7 2.8zM624.7 1481.6l-5.6-2.9l5.8-3.4l5.6 2.8zM465.9 1490.1l-5.6-2.8l5.7-3.4l5.6 2.8zM505.3 1503.3l-5.6-2.8l5.7-3.4l5.6 2.8zM488.2 1507.2l-5.6-2.7l5.7-3.4l5.7 2.8zM482.5 1510.6l-5.6-2.8l5.7-3.3l5.6 2.7zM448.5 1512.4l-5.7-2.8l5.8-3.3l5.6 2.7zM454.1 1515.1l-5.6-2.7l5.7-3.4l5.6 2.8zM493.7 1516.1l-5.6-2.8l5.7-3.3l5.6 2.8zM448.3 1518.5l-5.6-2.8l5.8-3.3l5.6 2.7zM476.6 1520.0l-5.6-2.7l5.8-3.4l5.6 2.8zM493.6 1522.2l-5.6-2.8l5.7-3.3l5.6 2.8zM504.7 1533.8l-5.6-2.8l5.7-3.3l5.6 2.7zM504.6 1539.8l-5.6-2.7l5.7-3.3l5.6 2.7zM510.2 1542.6l-5.6-2.8l5.7-3.3l5.6 2.7zM476.2 1544.3l-5.7-2.7l5.8-3.3l5.6 2.7zM493.0 1552.5l-5.6-2.7l5.7-3.3l5.6 2.7zM600.6 1556.1l-5.6-2.7l5.7-3.3l5.6 2.7zM555.2 1558.4l-5.6-2.7l5.7-3.3l5.6 2.7zM594.9 1559.5l-5.7-2.8l5.8-3.3l5.6 2.7zM600.5 1562.2l-5.6-2.7l5.7-3.4l5.6 2.8zM538.0 1568.4l-5.6-2.7l5.7-3.4l5.6 2.8zM589.0 1568.8l-5.6-2.7l5.7-3.3l5.6 2.7zM571.9 1572.7l-5.6-2.7l5.7-3.3l5.7 2.7zM537.8 1580.5l-5.6-2.7l5.7-3.4l5.6 2.8zM577.4 1581.5l-5.6-2.7l5.7-3.4l5.7 2.8zM543.3 1589.3l-5.7-2.8l5.8-3.3l5.6 2.8z"/>
<path fill="#57ffb6" stroke="#57ffb6" d="M422.9 1365.8l-5.6-2.6l5.7-4.0l5.7 2.6zM416.7 1395.9l-5.6-2.7l5.7-3.8l5.6 2.7zM620.8 1381.4l-5.6-3.5l5.7-4.8l5.7 3.7zM631.9 1396.4l-5.6-3.5l5.7-4.4l5.7 3.6zM637.4 1407.5l-5.6-3.4l5.7-4.2l5.6 3.5zM336.2 1457.5l-5.6-2.7l5.7-3.4l5.6 2.7zM625.5 1443.1l-5.7-3.0l5.8-3.7l5.6 3.1zM619.7 1446.7l-5.6-3.0l5.7-3.6l5.7 3.0zM568.6 1452.9l-5.6-2.9l5.7-3.6l5.6 2.9zM579.8 1458.7l-5.6-2.9l5.8-3.6l5.6 3.0zM488.9 1470.2l-5.7-2.8l5.8-3.5l5.6 2.8zM545.4 1479.5l-5.6-2.8l5.8-3.4l5.6 2.8zM488.6 1488.8l-5.6-2.8l5.7-3.4l5.6 2.8zM641.7 1483.8l-5.6-2.8l5.7-3.4l5.6 2.8zM482.9 1492.2l-5.7-2.8l5.8-3.4l5.6 2.8zM460.2 1493.4l-5.6-2.7l5.7-3.4l5.6 2.8zM454.4 1496.8l-5.6-2.8l5.8-3.3l5.6 2.7zM397.3 1518.1l-5.6-2.7l5.8-3.4l5.6 2.8zM465.3 1520.6l-5.6-2.7l5.7-3.4l5.6 2.8zM470.9 1523.4l-5.6-2.8l5.7-3.3l5.6 2.7zM465.0 1532.8l-5.6-2.8l5.8-3.3l5.6 2.7zM453.6 1539.4l-5.6-2.7l5.7-3.3l5.6 2.7zM430.9 1540.6l-5.6-2.7l5.7-3.4l5.6 2.8zM481.8 1547.1l-5.6-2.8l5.7-3.3l5.6 2.7zM498.7 1549.2l-5.6-2.7l5.7-3.3l5.7 2.7zM487.4 1549.8l-5.6-2.7l5.7-3.4l5.6 2.8zM453.2 1557.6l-5.6-2.7l5.7-3.3l5.7 2.7zM583.6 1554.0l-5.6-2.8l5.8-3.3l5.6 2.8zM492.7 1564.7l-5.6-2.8l5.8-3.3l5.6 2.7zM555.1 1564.5l-5.6-2.7l5.7-3.4l5.6 2.8zM469.9 1571.9l-5.6-2.8l5.8-3.3l5.6 2.7zM526.4 1581.1l-5.6-2.8l5.7-3.3l5.7 2.8zM560.1 1597.5l-5.6-2.8l5.7-3.3l5.6 2.8z"/>
<path fill="#62ffab" stroke="#62ffab" d="M406.7 1325.3l-5.6-2.4l5.7-4.2l5.6 2.3zM523.4 1449.2l-5.7-2.9l5.8-3.6l5.6 2.9zM551.7 1450.7l-5.7-3.0l5.8-3.6l5.6 3.0zM580.0 1452.2l-5.7-2.9l5.8-3.6l5.6 3.0zM330.3 1467.0l-5.6-2.8l5.8-3.3l5.6 2.7zM448.7 1500.2l-5.6-2.8l5.7-3.4l5.6 2.8zM414.4 1514.2l-5.6-2.8l5.7-3.3l5.7 2.7zM403.1 1514.8l-5.6-2.8l5.7-3.3l5.6 2.7zM425.6 1519.7l-5.6-2.8l5.8-3.3l5.6 2.7zM408.4 1529.6l-5.6-2.7l5.8-3.3l5.6 2.7zM397.1 1530.2l-5.6-2.7l5.7-3.3l5.6 2.7zM425.4 1531.8l-5.6-2.7l5.7-3.4l5.6 2.8zM414.1 1532.4l-5.7-2.8l5.8-3.3l5.6 2.8zM436.6 1537.3l-5.6-2.8l5.7-3.3l5.7 2.8zM425.3 1537.9l-5.6-2.8l5.7-3.3l5.6 2.7zM413.9 1538.4l-5.6-2.7l5.8-3.3l5.6 2.7zM430.8 1546.7l-5.6-2.8l5.7-3.3l5.6 2.7zM436.4 1549.4l-5.6-2.7l5.7-3.4l5.6 2.8zM453.3 1551.6l-5.6-2.8l5.8-3.3l5.6 2.7zM504.1 1564.1l-5.6-2.8l5.7-3.3l5.6 2.8zM458.7 1566.4l-5.6-2.7l5.7-3.4l5.6 2.8zM498.4 1567.4l-5.7-2.7l5.8-3.4l5.6 2.8zM475.7 1568.5l-5.6-2.7l5.7-3.3l5.6 2.7zM498.2 1573.4l-5.6-2.7l5.8-3.3l5.6 2.7zM481.2 1577.3l-5.6-2.7l5.7-3.3l5.6 2.7zM509.5 1578.9l-5.6-2.7l5.7-3.3l5.6 2.7zM515.1 1581.6l-5.6-2.7l5.7-3.3l5.6 2.7zM520.7 1584.4l-5.6-2.8l5.7-3.3l5.6 2.8zM537.6 1586.5l-5.6-2.7l5.8-3.3l5.6 2.7zM520.4 1596.5l-5.6-2.8l5.8-3.3l5.6 2.8z"/>
<path fill="#6effa0" stroke="#6effa0" d="M395.5 1320.6l-5.6-2.4l5.7-4.1l5.6 2.3zM412.3 1327.6l-5.6-2.3l5.7-4.3l5.6 2.4zM423.3 1346.0l-5.6-2.6l5.7-4.1l5.6 2.5zM575.9 1353.3l-5.6-3.4l5.7-5.4l5.6 3.5zM615.2 1377.9l-5.6-3.6l5.7-4.8l5.6 3.6zM411.0 1399.6l-5.6-2.7l5.7-3.7l5.6 2.7zM534.7 1448.4l-5.6-2.8l5.7-3.7l5.6 2.9zM437.8 1476.2l-5.6-2.8l5.8-3.4l5.6 2.8zM420.1 1510.8l-5.7-2.7l5.8-3.4l5.6 2.8zM408.7 1517.5l-5.6-2.7l5.7-3.4l5.6 2.8zM402.9 1520.8l-5.7-2.7l5.8-3.3l5.6 2.7zM385.9 1524.8l-5.6-2.8l5.7-3.3l5.6 2.7zM374.5 1525.3l-5.6-2.7l5.7-3.3l5.7 2.7zM448.2 1524.5l-5.6-2.7l5.7-3.3l5.6 2.7zM436.9 1525.1l-5.6-2.7l5.7-3.3l5.6 2.7zM414.2 1526.3l-5.6-2.7l5.7-3.4l5.6 2.8zM402.8 1526.9l-5.6-2.7l5.8-3.4l5.6 2.8zM391.5 1527.5l-5.6-2.7l5.7-3.4l5.6 2.8zM380.1 1528.1l-5.6-2.8l5.8-3.3l5.6 2.8zM431.1 1528.5l-5.6-2.8l5.8-3.3l5.6 2.7zM419.8 1529.1l-5.6-2.8l5.7-3.3l5.6 2.7zM459.4 1530.0l-5.6-2.7l5.8-3.3l5.6 2.7zM448.1 1530.6l-5.6-2.7l5.7-3.4l5.6 2.8zM402.7 1533.0l-5.6-2.8l5.7-3.3l5.6 2.7zM408.3 1535.7l-5.6-2.7l5.7-3.4l5.7 2.8zM464.9 1538.8l-5.6-2.7l5.7-3.3l5.7 2.7zM408.2 1541.8l-5.6-2.8l5.7-3.3l5.6 2.7zM447.8 1542.8l-5.6-2.8l5.8-3.3l5.6 2.7zM436.5 1543.3l-5.6-2.7l5.7-3.3l5.6 2.7zM419.4 1547.2l-5.6-2.7l5.7-3.3l5.7 2.7zM459.1 1548.2l-5.6-2.7l5.7-3.3l5.6 2.7zM447.7 1548.8l-5.6-2.7l5.7-3.3l5.7 2.7zM481.6 1553.1l-5.6-2.7l5.8-3.3l5.6 2.7zM470.3 1553.7l-5.6-2.7l5.7-3.4l5.6 2.8zM447.6 1554.9l-5.6-2.8l5.7-3.3l5.6 2.8zM436.3 1555.5l-5.7-2.8l5.8-3.3l5.6 2.7zM475.9 1556.4l-5.6-2.7l5.7-3.3l5.6 2.7zM492.9 1558.6l-5.6-2.7l5.7-3.4l5.6 2.8zM481.5 1559.2l-5.6-2.8l5.7-3.3l5.7 2.8zM470.2 1559.8l-5.6-2.8l5.7-3.3l5.6 2.7zM447.5 1560.9l-5.6-2.7l5.7-3.3l5.6 2.7zM453.1 1563.7l-5.6-2.8l5.7-3.3l5.6 2.7zM504.0 1570.1l-5.6-2.7l5.7-3.3l5.6 2.7zM481.3 1571.3l-5.6-2.8l5.7-3.3l5.6 2.8zM475.5 1574.6l-5.7-2.7l5.8-3.4l5.6 2.8zM503.9 1576.2l-5.7-2.8l5.8-3.3l5.6 2.8zM492.5 1576.8l-5.6-2.8l5.7-3.3l5.6 2.7zM498.1 1579.5l-5.6-2.7l5.7-3.4l5.7 2.8zM486.8 1580.1l-5.6-2.8l5.7-3.3l5.6 2.8zM503.7 1582.2l-5.6-2.7l5.8-3.3l5.6 2.7zM509.3 1585.0l-5.6-2.8l5.8-3.3l5.6 2.7zM515.0 1587.7l-5.7-2.7l5.8-3.4l5.6 2.8zM520.6 1590.4l-5.6-2.7l5.7-3.3l5.6 2.7zM526.2 1593.2l-5.6-2.8l5.7-3.3l5.6 2.7zM514.8 1593.7l-5.6-2.7l5.8-3.3l5.6 2.7z"/>
<path fill="#7bff93" stroke="#7bff93" d="M609.6 1374.3l-5.6-3.6l5.7-4.8l5.6 3.6zM597.0 1448.0l-5.6-3.0l5.8-3.6l5.6 3.0zM563.0 1450.0l-5.6-2.9l5.7-3.7l5.6 3.0zM483.2 1473.6l-5.6-2.7l5.7-3.5l5.7 2.8zM477.5 1477.1l-5.6-2.8l5.7-3.4l5.6 2.7zM420.3 1504.7l-5.6-2.7l5.7-3.4l5.6 2.8zM425.9 1507.5l-5.6-2.8l5.7-3.3l5.6 2.7zM414.5 1508.1l-5.6-2.8l5.8-3.3l5.6 2.7zM403.2 1508.7l-5.6-2.8l5.7-3.3l5.6 2.7zM408.8 1511.4l-5.6-2.7l5.7-3.4l5.6 2.8zM425.8 1513.6l-5.6-2.8l5.7-3.3l5.6 2.7zM431.4 1516.3l-5.6-2.7l5.7-3.4l5.6 2.8zM420.0 1516.9l-5.6-2.7l5.8-3.4l5.6 2.8zM437.0 1519.1l-5.6-2.8l5.7-3.3l5.6 2.7zM414.3 1520.2l-5.6-2.7l5.7-3.3l5.6 2.7zM380.3 1522.0l-5.7-2.7l5.8-3.4l5.6 2.8zM368.9 1522.6l-5.6-2.7l5.7-3.4l5.6 2.8zM442.6 1521.8l-5.6-2.7l5.7-3.4l5.6 2.8zM431.3 1522.4l-5.7-2.7l5.8-3.4l5.6 2.8zM408.6 1523.6l-5.6-2.8l5.7-3.3l5.6 2.7zM397.2 1524.2l-5.6-2.8l5.7-3.3l5.7 2.7zM425.5 1525.7l-5.6-2.7l5.7-3.3l5.7 2.7zM453.8 1527.3l-5.6-2.8l5.7-3.3l5.7 2.8zM442.5 1527.9l-5.6-2.8l5.7-3.3l5.6 2.7zM385.8 1530.8l-5.7-2.7l5.8-3.3l5.6 2.7zM436.7 1531.2l-5.6-2.7l5.8-3.4l5.6 2.8zM419.7 1535.1l-5.6-2.7l5.7-3.3l5.6 2.7zM459.3 1536.1l-5.6-2.7l5.7-3.4l5.6 2.8zM448.0 1536.7l-5.6-2.7l5.7-3.4l5.6 2.8zM402.6 1539.0l-5.6-2.7l5.7-3.3l5.6 2.7zM470.5 1541.6l-5.6-2.8l5.8-3.3l5.6 2.8zM459.2 1542.2l-5.6-2.8l5.7-3.3l5.6 2.7zM413.8 1544.5l-5.6-2.7l5.7-3.4l5.6 2.8zM464.8 1544.9l-5.6-2.7l5.7-3.4l5.6 2.8zM453.5 1545.5l-5.7-2.7l5.8-3.4l5.6 2.8zM442.1 1546.1l-5.6-2.8l5.7-3.3l5.6 2.8zM425.0 1550.0l-5.6-2.8l5.8-3.3l5.6 2.8zM476.0 1550.4l-5.6-2.8l5.8-3.3l5.6 2.8zM464.7 1551.0l-5.6-2.8l5.7-3.3l5.6 2.7zM442.0 1552.1l-5.6-2.7l5.7-3.3l5.6 2.7zM430.6 1552.7l-5.6-2.7l5.8-3.3l5.6 2.7zM459.0 1554.3l-5.7-2.7l5.8-3.4l5.6 2.8zM487.3 1555.9l-5.7-2.8l5.8-3.3l5.6 2.7zM458.8 1560.3l-5.6-2.7l5.8-3.3l5.6 2.7zM498.5 1561.3l-5.6-2.7l5.7-3.3l5.6 2.7zM487.1 1561.9l-5.6-2.7l5.8-3.3l5.6 2.7zM475.8 1562.5l-5.6-2.7l5.7-3.4l5.6 2.8zM464.4 1563.1l-5.6-2.8l5.8-3.3l5.6 2.8zM481.4 1565.2l-5.6-2.7l5.7-3.3l5.6 2.7zM470.1 1565.8l-5.7-2.7l5.8-3.3l5.6 2.7zM487.0 1568.0l-5.6-2.8l5.7-3.3l5.6 2.8zM464.3 1569.1l-5.6-2.7l5.7-3.3l5.7 2.7zM515.2 1575.6l-5.6-2.7l5.7-3.4l5.6 2.8zM520.8 1578.3l-5.6-2.7l5.7-3.3l5.6 2.7zM492.4 1582.8l-5.6-2.7l5.7-3.3l5.6 2.7zM498.0 1585.5l-5.6-2.7l5.7-3.3l5.6 2.7zM526.3 1587.1l-5.6-2.7l5.7-3.3l5.6 2.7zM537.5 1592.6l-5.6-2.8l5.7-3.3l5.7 2.8zM526.1 1599.2l-5.7-2.7l5.8-3.3l5.6 2.7z"/>
<path fill="#89ff85" stroke="#89ff85" d="M412.5 1314.5l-5.7-2.3l5.8-4.3l5.6 2.2zM457.4 1333.4l-5.6-2.4l5.8-4.6l5.6 2.4zM474.3 1341.0l-5.6-2.5l5.7-4.7l5.6 2.5zM491.2 1341.5l-5.6-2.6l5.8-4.8l5.6 2.5zM485.5 1346.2l-5.6-2.6l5.7-4.7l5.6 2.6zM513.8 1344.6l-5.6-2.8l5.7-5.0l5.7 2.7zM530.5 1360.6l-5.6-2.9l5.8-4.9l5.6 3.0zM581.5 1356.7l-5.6-3.4l5.7-5.3l5.7 3.5zM575.7 1370.0l-5.6-3.3l5.7-4.9l5.6 3.3zM637.2 1421.9l-5.6-3.2l5.7-3.9l5.6 3.2zM614.4 1430.2l-5.7-3.0l5.8-3.9l5.6 3.2zM631.3 1432.7l-5.6-3.1l5.7-3.8l5.6 3.1zM551.9 1437.5l-5.6-2.9l5.7-3.7l5.6 2.9zM546.2 1441.2l-5.6-2.9l5.7-3.7l5.6 2.9zM489.4 1444.9l-5.6-2.8l5.8-3.6l5.6 2.8zM551.8 1444.1l-5.6-2.9l5.7-3.7l5.6 3.0zM461.0 1449.9l-5.6-2.8l5.7-3.5l5.6 2.8zM614.1 1443.7l-5.6-3.0l5.7-3.7l5.6 3.1zM591.4 1445.0l-5.6-2.9l5.7-3.7l5.7 3.0zM460.9 1456.2l-5.6-2.8l5.7-3.5l5.6 2.8zM466.5 1459.0l-5.6-2.8l5.7-3.5l5.6 2.8zM443.8 1460.4l-5.6-2.8l5.7-3.5l5.6 2.8zM466.4 1465.3l-5.6-2.8l5.7-3.5l5.6 2.8zM471.8 1480.5l-5.7-2.8l5.8-3.4l5.6 2.8zM466.0 1483.9l-5.6-2.8l5.7-3.4l5.7 2.8zM409.2 1493.1l-5.6-2.7l5.7-3.4l5.6 2.8zM426.1 1495.3l-5.6-2.8l5.7-3.4l5.7 2.8zM414.7 1502.0l-5.7-2.8l5.8-3.3l5.6 2.7zM431.5 1510.2l-5.6-2.7l5.7-3.4l5.6 2.8zM397.5 1512.0l-5.7-2.7l5.8-3.4l5.6 2.8zM386.1 1512.6l-5.6-2.7l5.7-3.4l5.6 2.8zM437.1 1513.0l-5.6-2.8l5.7-3.3l5.6 2.7zM391.7 1515.4l-5.6-2.8l5.7-3.3l5.7 2.7zM386.0 1518.7l-5.6-2.8l5.7-3.3l5.6 2.8zM374.6 1519.3l-5.6-2.8l5.8-3.3l5.6 2.7zM391.6 1521.4l-5.6-2.7l5.7-3.3l5.6 2.7zM419.9 1523.0l-5.6-2.8l5.7-3.3l5.6 2.8zM453.7 1533.4l-5.6-2.8l5.7-3.3l5.6 2.7zM431.0 1534.5l-5.6-2.7l5.7-3.3l5.6 2.7zM442.2 1540.0l-5.6-2.7l5.8-3.3l5.6 2.7zM419.5 1541.2l-5.6-2.8l5.8-3.3l5.6 2.8zM464.6 1557.0l-5.6-2.7l5.7-3.3l5.6 2.7zM441.9 1558.2l-5.6-2.7l5.7-3.4l5.6 2.8zM492.6 1570.7l-5.6-2.7l5.7-3.3l5.7 2.7zM509.6 1572.9l-5.6-2.8l5.7-3.3l5.6 2.7zM486.9 1574.0l-5.6-2.7l5.7-3.3l5.6 2.7zM503.6 1588.3l-5.6-2.8l5.7-3.3l5.6 2.8zM509.2 1591.0l-5.6-2.7l5.7-3.3l5.7 2.7z"/>
<path fill="#96ff78" stroke="#96ff78" d="M451.8 1331.0l-5.6-2.4l5.8-4.6l5.6 2.4zM463.1 1335.9l-5.7-2.5l5.8-4.6l5.6 2.4zM468.7 1338.5l-5.6-2.6l5.7-4.7l5.6 2.6zM462.9 1343.0l-5.6-2.6l5.8-4.5l5.6 2.6zM451.6 1344.9l-5.6-2.5l5.7-4.5l5.6 2.5zM479.9 1343.6l-5.6-2.6l5.7-4.7l5.6 2.6zM468.6 1345.6l-5.7-2.6l5.8-4.5l5.6 2.5zM440.1 1353.5l-5.6-2.5l5.7-4.3l5.7 2.6zM491.1 1348.8l-5.6-2.6l5.7-4.7l5.7 2.6zM508.1 1349.5l-5.6-2.8l5.7-4.9l5.6 2.8zM542.0 1350.8l-5.6-3.0l5.7-5.2l5.6 3.0zM559.0 1351.9l-5.7-3.2l5.8-5.2l5.6 3.1zM536.3 1355.8l-5.6-3.0l5.7-5.0l5.6 3.0zM541.9 1358.8l-5.6-3.0l5.7-5.0l5.6 3.0zM553.0 1372.9l-5.6-3.2l5.7-4.7l5.6 3.2zM581.3 1373.3l-5.6-3.3l5.7-4.9l5.6 3.5zM569.9 1374.7l-5.6-3.2l5.8-4.8l5.6 3.3zM598.2 1375.5l-5.6-3.5l5.8-4.8l5.6 3.5zM388.3 1401.5l-5.6-2.7l5.7-3.6l5.6 2.7zM581.0 1389.2l-5.6-3.3l5.8-4.5l5.6 3.3zM569.7 1390.3l-5.6-3.2l5.7-4.5l5.6 3.3zM615.0 1393.8l-5.6-3.4l5.7-4.4l5.6 3.4zM603.6 1394.8l-5.6-3.4l5.7-4.4l5.7 3.4zM597.9 1399.1l-5.6-3.3l5.7-4.4l5.6 3.4zM603.5 1402.3l-5.6-3.2l5.7-4.3l5.6 3.3zM541.0 1411.1l-5.6-3.0l5.8-4.1l5.6 3.1zM512.6 1416.9l-5.6-2.9l5.7-3.9l5.6 2.9zM546.5 1421.1l-5.6-3.0l5.7-4.0l5.7 3.1zM535.2 1421.9l-5.6-2.9l5.7-3.9l5.6 3.0zM501.1 1424.5l-5.6-2.9l5.8-3.8l5.6 2.9zM489.8 1425.4l-5.6-2.9l5.7-3.7l5.6 2.8zM563.4 1430.1l-5.6-3.0l5.7-3.9l5.6 3.1zM552.0 1430.9l-5.6-3.0l5.7-3.8l5.7 3.0zM569.0 1433.1l-5.6-3.0l5.7-3.8l5.6 3.0zM563.2 1436.8l-5.6-3.0l5.8-3.7l5.6 3.0zM517.9 1439.8l-5.7-2.9l5.8-3.7l5.6 2.9zM495.2 1441.3l-5.6-2.8l5.7-3.7l5.6 2.9zM472.5 1442.8l-5.6-2.8l5.7-3.6l5.6 2.8zM625.6 1436.4l-5.6-3.1l5.7-3.7l5.6 3.1zM602.9 1437.7l-5.6-3.0l5.7-3.7l5.6 3.0zM580.2 1439.1l-5.6-3.0l5.7-3.8l5.6 3.1zM495.0 1447.7l-5.6-2.8l5.8-3.6l5.6 2.9zM483.7 1448.5l-5.6-2.9l5.7-3.5l5.6 2.8zM546.0 1447.7l-5.6-2.9l5.8-3.6l5.6 2.9zM500.7 1450.6l-5.7-2.9l5.8-3.5l5.6 2.8zM478.0 1452.0l-5.6-2.8l5.7-3.6l5.6 2.9zM574.3 1449.3l-5.6-2.9l5.8-3.7l5.6 3.0zM483.6 1454.8l-5.6-2.8l5.7-3.5l5.6 2.8zM449.5 1456.9l-5.6-2.8l5.8-3.5l5.6 2.8zM438.1 1463.8l-5.6-2.7l5.7-3.5l5.6 2.8zM472.0 1468.1l-5.6-2.8l5.7-3.5l5.6 2.8zM460.6 1468.7l-5.6-2.8l5.8-3.4l5.6 2.8zM443.6 1472.8l-5.6-2.8l5.7-3.4l5.6 2.8zM471.9 1474.3l-5.6-2.8l5.7-3.4l5.6 2.8zM449.2 1475.6l-5.6-2.8l5.7-3.4l5.6 2.8zM454.8 1478.3l-5.6-2.7l5.7-3.4l5.6 2.7zM460.3 1487.3l-5.6-2.8l5.7-3.4l5.6 2.8zM437.6 1488.5l-5.6-2.7l5.7-3.4l5.6 2.7zM414.9 1489.8l-5.6-2.8l5.7-3.4l5.6 2.8zM443.2 1491.3l-5.6-2.8l5.7-3.4l5.6 2.8zM431.9 1491.9l-5.7-2.8l5.8-3.3l5.6 2.7zM443.1 1497.4l-5.6-2.7l5.7-3.4l5.6 2.7zM374.9 1507.1l-5.6-2.7l5.7-3.4l5.6 2.8zM391.4 1533.6l-5.6-2.8l5.7-3.3l5.6 2.7zM442.4 1534.0l-5.7-2.8l5.8-3.3l5.6 2.7zM397.0 1536.3l-5.6-2.7l5.7-3.4l5.6 2.8zM425.2 1543.9l-5.7-2.7l5.8-3.3l5.6 2.7zM470.4 1547.6l-5.6-2.7l5.7-3.3l5.7 2.7z"/>
<path fill="#a3ff6b" stroke="#a3ff6b" d="M418.2 1316.7l-5.6-2.2l5.7-4.4l5.6 2.2zM423.8 1319.0l-5.6-2.3l5.7-4.4l5.6 2.3zM435.0 1323.8l-5.6-2.4l5.7-4.5l5.6 2.4zM446.2 1328.6l-5.6-2.4l5.7-4.5l5.7 2.3zM457.2 1347.5l-5.6-2.6l5.7-4.5l5.6 2.6zM434.5 1351.0l-5.6-2.5l5.7-4.3l5.6 2.5zM423.2 1352.6l-5.6-2.5l5.7-4.1l5.6 2.5zM496.9 1344.1l-5.7-2.6l5.8-4.9l5.6 2.6zM462.8 1350.1l-5.6-2.6l5.7-4.5l5.7 2.6zM428.8 1355.1l-5.6-2.5l5.7-4.1l5.6 2.5zM457.1 1354.5l-5.6-2.6l5.7-4.4l5.6 2.6zM445.7 1356.2l-5.6-2.7l5.8-4.2l5.6 2.6zM485.4 1353.4l-5.6-2.6l5.7-4.6l5.6 2.6zM474.0 1355.4l-5.6-2.7l5.8-4.5l5.6 2.6zM468.3 1359.8l-5.6-2.7l5.7-4.4l5.6 2.7zM445.6 1363.0l-5.6-2.6l5.7-4.2l5.7 2.6zM553.3 1348.7l-5.6-3.1l5.8-5.3l5.6 3.2zM530.7 1352.8l-5.7-2.8l5.8-5.0l5.6 2.8zM519.3 1354.9l-5.6-2.7l5.7-4.9l5.6 2.7zM524.9 1357.7l-5.6-2.8l5.7-4.9l5.7 2.8zM564.6 1355.0l-5.6-3.1l5.7-5.3l5.6 3.3zM553.2 1356.9l-5.6-3.1l5.7-5.1l5.7 3.2zM536.1 1363.7l-5.6-3.1l5.8-4.8l5.6 3.0zM564.4 1363.4l-5.6-3.3l5.8-5.1l5.6 3.4zM553.1 1365.0l-5.6-3.1l5.7-5.0l5.6 3.2zM541.8 1366.7l-5.7-3.0l5.8-4.9l5.6 3.1zM592.8 1363.6l-5.7-3.5l5.8-5.1l5.6 3.6zM570.1 1366.7l-5.7-3.3l5.8-5.0l5.6 3.4zM547.4 1369.7l-5.6-3.0l5.7-4.8l5.6 3.1zM604.0 1370.7l-5.6-3.5l5.7-5.0l5.6 3.7zM575.6 1378.0l-5.7-3.3l5.8-4.7l5.6 3.3zM603.9 1379.0l-5.7-3.5l5.8-4.8l5.6 3.6zM609.5 1382.5l-5.6-3.5l5.7-4.7l5.6 3.6zM552.7 1388.3l-5.6-3.1l5.8-4.5l5.6 3.2zM564.0 1394.6l-5.6-3.2l5.7-4.3l5.6 3.2zM558.2 1398.9l-5.6-3.2l5.8-4.3l5.6 3.2zM546.9 1399.9l-5.6-3.1l5.7-4.2l5.6 3.1zM620.6 1397.2l-5.6-3.4l5.7-4.4l5.6 3.5zM541.2 1404.0l-5.7-3.0l5.8-4.2l5.6 3.1zM626.2 1400.7l-5.6-3.5l5.7-4.3l5.6 3.5zM614.8 1401.5l-5.6-3.4l5.8-4.3l5.6 3.4zM558.1 1406.1l-5.6-3.1l5.7-4.1l5.6 3.1zM524.1 1409.1l-5.6-3.0l5.7-4.0l5.6 3.0zM631.8 1404.1l-5.6-3.4l5.7-4.3l5.6 3.5zM609.1 1405.6l-5.6-3.3l5.7-4.2l5.6 3.4zM552.4 1410.2l-5.6-3.1l5.7-4.1l5.6 3.1zM558.0 1413.2l-5.6-3.0l5.7-4.1l5.6 3.1zM546.6 1414.1l-5.6-3.0l5.8-4.0l5.6 3.1zM540.9 1418.1l-5.6-3.0l5.7-4.0l5.6 3.0zM518.2 1419.8l-5.6-2.9l5.7-3.9l5.7 3.0zM637.3 1414.8l-5.6-3.3l5.7-4.0l5.6 3.3zM614.6 1416.2l-5.6-3.2l5.7-4.1l5.6 3.3zM512.5 1423.7l-5.6-3.0l5.7-3.8l5.6 2.9zM631.6 1418.7l-5.7-3.2l5.8-4.0l5.6 3.3zM552.1 1424.1l-5.6-3.0l5.8-3.9l5.6 3.0zM518.1 1426.6l-5.6-2.9l5.7-3.9l5.6 3.0zM506.8 1427.4l-5.7-2.9l5.8-3.8l5.6 3.0zM569.1 1426.3l-5.6-3.1l5.7-3.8l5.6 3.0zM535.1 1428.7l-5.7-3.0l5.8-3.8l5.6 3.0zM444.3 1435.2l-5.6-2.8l5.7-3.6l5.6 2.8zM620.1 1426.5l-5.6-3.2l5.7-3.8l5.6 3.1zM608.7 1427.2l-5.6-3.2l5.8-3.9l5.6 3.2zM529.3 1432.4l-5.6-2.9l5.7-3.8l5.7 3.0zM625.7 1429.6l-5.6-3.1l5.7-3.9l5.6 3.2zM534.9 1435.4l-5.6-3.0l5.8-3.7l5.6 2.9zM523.6 1436.1l-5.6-2.9l5.7-3.7l5.6 2.9zM512.2 1436.9l-5.6-2.9l5.8-3.7l5.6 2.9zM478.2 1439.2l-5.6-2.8l5.7-3.6l5.6 2.8zM597.3 1434.7l-5.6-3.1l5.7-3.7l5.6 3.1zM585.9 1435.4l-5.6-3.1l5.8-3.7l5.6 3.0zM614.2 1437.0l-5.6-3.0l5.8-3.8l5.6 3.1zM591.5 1438.4l-5.6-3.0l5.8-3.8l5.6 3.1zM523.5 1442.7l-5.6-2.9l5.7-3.7l5.6 2.9zM500.8 1444.2l-5.6-2.9l5.7-3.6l5.6 2.8zM478.1 1445.6l-5.6-2.8l5.7-3.6l5.6 2.9zM574.5 1442.7l-5.6-2.9l5.7-3.7l5.6 3.0zM563.1 1443.4l-5.6-2.9l5.7-3.7l5.7 3.0zM540.4 1444.8l-5.6-2.9l5.8-3.6l5.6 2.9zM529.1 1445.6l-5.6-2.9l5.7-3.7l5.6 2.9zM455.3 1453.4l-5.6-2.8l5.7-3.5l5.6 2.8zM455.2 1459.7l-5.7-2.8l5.8-3.5l5.6 2.8zM494.8 1460.5l-5.6-2.9l5.7-3.5l5.6 2.8zM489.1 1463.9l-5.6-2.8l5.7-3.5l5.6 2.9zM432.3 1467.3l-5.6-2.8l5.8-3.4l5.6 2.7zM438.0 1470.0l-5.7-2.7l5.8-3.5l5.6 2.8zM426.6 1470.7l-5.6-2.8l5.7-3.4l5.6 2.8zM477.6 1470.9l-5.6-2.8l5.7-3.5l5.6 2.8zM454.9 1472.2l-5.6-2.8l5.7-3.5l5.6 2.8zM460.5 1474.9l-5.6-2.7l5.7-3.5l5.7 2.8zM466.1 1477.7l-5.6-2.8l5.8-3.4l5.6 2.8zM437.7 1482.4l-5.6-2.8l5.7-3.4l5.6 2.8zM426.4 1483.0l-5.6-2.8l5.7-3.3l5.6 2.7zM415.0 1483.6l-5.6-2.7l5.7-3.4l5.7 2.7zM409.3 1487.0l-5.6-2.7l5.7-3.4l5.6 2.7zM454.6 1490.7l-5.7-2.8l5.8-3.4l5.6 2.8zM448.8 1494.0l-5.6-2.7l5.7-3.4l5.7 2.8zM437.5 1494.7l-5.6-2.8l5.7-3.4l5.6 2.8zM420.4 1498.6l-5.6-2.7l5.7-3.4l5.6 2.8zM386.4 1500.4l-5.7-2.7l5.8-3.3l5.6 2.7zM437.4 1500.8l-5.7-2.8l5.8-3.3l5.6 2.7zM443.0 1503.5l-5.6-2.7l5.7-3.4l5.6 2.8zM431.6 1504.1l-5.6-2.7l5.7-3.4l5.7 2.8zM397.6 1505.9l-5.6-2.7l5.7-3.4l5.6 2.8zM340.8 1508.9l-5.6-2.7l5.8-3.3l5.6 2.7zM391.8 1509.3l-5.6-2.8l5.8-3.3l5.6 2.7zM374.8 1513.2l-5.6-2.7l5.7-3.4l5.6 2.8zM352.1 1514.4l-5.6-2.7l5.7-3.4l5.6 2.8zM369.0 1516.5l-5.6-2.7l5.8-3.3l5.6 2.7zM357.7 1517.1l-5.6-2.7l5.7-3.3l5.6 2.7zM531.9 1589.8l-5.6-2.7l5.7-3.3l5.6 2.7zM531.8 1595.9l-5.6-2.7l5.7-3.4l5.6 2.8z"/>
<path fill="#b1ff5d" stroke="#b1ff5d" d="M385.6 1251.1l-5.6-1.7l5.7-3.7l5.6 1.6zM401.3 1309.9l-5.6-2.2l5.7-4.2l5.7 2.2zM429.4 1321.4l-5.6-2.4l5.7-4.4l5.6 2.3zM440.2 1346.7l-5.6-2.5l5.8-4.3l5.6 2.5zM445.9 1349.3l-5.7-2.6l5.8-4.3l5.6 2.5zM474.2 1348.2l-5.6-2.6l5.7-4.6l5.6 2.6zM451.5 1351.9l-5.6-2.6l5.7-4.4l5.6 2.6zM479.8 1350.8l-5.6-2.6l5.7-4.6l5.6 2.6zM434.4 1357.7l-5.6-2.6l5.7-4.1l5.6 2.5zM530.8 1345.0l-5.6-2.7l5.7-5.2l5.6 2.7zM451.4 1358.8l-5.7-2.6l5.8-4.3l5.6 2.6zM428.7 1361.8l-5.7-2.6l5.8-4.1l5.6 2.6zM536.4 1347.8l-5.6-2.8l5.7-5.2l5.6 2.8zM525.0 1350.0l-5.6-2.7l5.8-5.0l5.6 2.7zM513.7 1352.2l-5.6-2.7l5.7-4.9l5.6 2.7zM457.0 1361.4l-5.6-2.6l5.7-4.3l5.6 2.6zM547.6 1353.8l-5.6-3.0l5.7-5.2l5.6 3.1zM558.8 1360.1l-5.6-3.2l5.8-5.0l5.6 3.1zM587.1 1360.1l-5.6-3.4l5.8-5.2l5.6 3.5zM581.4 1365.1l-5.6-3.3l5.7-5.1l5.6 3.4zM558.7 1368.2l-5.6-3.2l5.7-4.9l5.6 3.3zM598.4 1367.2l-5.6-3.6l5.7-5.0l5.6 3.6zM587.0 1368.6l-5.6-3.5l5.7-5.0l5.7 3.5zM592.6 1372.0l-5.6-3.4l5.8-5.0l5.6 3.6zM558.6 1376.1l-5.6-3.2l5.7-4.7l5.6 3.3zM586.9 1376.8l-5.6-3.5l5.7-4.7l5.6 3.4zM552.9 1380.7l-5.7-3.2l5.8-4.6l5.6 3.2zM592.5 1380.2l-5.6-3.4l5.7-4.8l5.6 3.5zM581.2 1381.4l-5.6-3.4l5.7-4.7l5.6 3.5zM569.8 1382.6l-5.6-3.3l5.7-4.6l5.7 3.3zM598.1 1383.6l-5.6-3.4l5.7-4.7l5.7 3.5zM586.8 1384.7l-5.6-3.3l5.7-4.6l5.6 3.4zM603.7 1387.0l-5.6-3.4l5.8-4.6l5.6 3.5zM592.4 1388.1l-5.6-3.4l5.7-4.5l5.6 3.4zM609.4 1390.4l-5.7-3.4l5.8-4.5l5.6 3.5zM598.0 1391.4l-5.6-3.3l5.7-4.5l5.6 3.4zM592.3 1395.8l-5.6-3.3l5.7-4.4l5.6 3.3zM609.2 1398.1l-5.6-3.3l5.8-4.4l5.6 3.4zM586.5 1400.0l-5.6-3.2l5.8-4.3l5.6 3.3zM552.5 1403.0l-5.6-3.1l5.7-4.2l5.6 3.2zM546.8 1407.1l-5.6-3.1l5.7-4.1l5.6 3.1zM535.4 1408.1l-5.6-3.0l5.7-4.1l5.7 3.0zM620.5 1404.8l-5.7-3.3l5.8-4.3l5.6 3.5zM529.7 1412.1l-5.6-3.0l5.7-4.0l5.6 3.0zM518.3 1413.0l-5.6-2.9l5.8-4.0l5.6 3.0zM507.0 1414.0l-5.6-2.9l5.7-3.9l5.6 2.9zM626.1 1408.2l-5.6-3.4l5.7-4.1l5.6 3.4zM614.7 1408.9l-5.6-3.3l5.7-4.1l5.7 3.3zM524.0 1416.0l-5.7-3.0l5.8-3.9l5.6 3.0zM501.3 1417.8l-5.7-2.8l5.8-3.9l5.6 2.9zM631.7 1411.5l-5.6-3.3l5.7-4.1l5.6 3.4zM620.3 1412.2l-5.6-3.3l5.8-4.1l5.6 3.4zM552.3 1417.2l-5.7-3.1l5.8-3.9l5.6 3.0zM495.5 1421.6l-5.6-2.8l5.7-3.8l5.7 2.8zM625.9 1415.5l-5.6-3.3l5.8-4.0l5.6 3.3zM569.2 1419.4l-5.6-3.1l5.7-4.0l5.7 3.1zM620.2 1419.5l-5.6-3.3l5.7-4.0l5.6 3.3zM608.9 1420.1l-5.6-3.1l5.7-4.0l5.6 3.2zM563.5 1423.2l-5.6-3.0l5.7-3.9l5.6 3.1zM529.4 1425.7l-5.6-2.9l5.8-3.8l5.6 2.9zM438.7 1432.4l-5.6-2.8l5.7-3.6l5.6 2.8zM625.8 1422.6l-5.6-3.1l5.7-4.0l5.7 3.2zM614.5 1423.3l-5.6-3.2l5.7-3.9l5.6 3.3zM546.4 1427.9l-5.6-3.0l5.7-3.8l5.6 3.0zM523.7 1429.5l-5.6-2.9l5.7-3.8l5.6 2.9zM512.4 1430.3l-5.6-2.9l5.7-3.7l5.6 2.9zM489.7 1432.0l-5.6-2.9l5.7-3.7l5.6 2.9zM586.1 1428.6l-5.7-3.1l5.8-3.9l5.6 3.1zM574.7 1429.3l-5.6-3.0l5.7-3.9l5.6 3.1zM540.7 1431.6l-5.6-2.9l5.7-3.8l5.6 3.0zM518.0 1433.2l-5.6-2.9l5.7-3.7l5.6 2.9zM506.6 1434.0l-5.6-2.9l5.8-3.7l5.6 2.9zM495.3 1434.8l-5.6-2.8l5.7-3.7l5.6 2.8zM483.9 1435.6l-5.6-2.8l5.8-3.7l5.6 2.9zM603.0 1431.0l-5.6-3.1l5.7-3.9l5.6 3.2zM591.7 1431.6l-5.6-3.0l5.7-3.9l5.6 3.2zM580.3 1432.3l-5.6-3.0l5.7-3.8l5.7 3.1zM500.9 1437.7l-5.6-2.9l5.7-3.7l5.6 2.9zM489.6 1438.5l-5.7-2.9l5.8-3.6l5.6 2.8zM620.0 1433.3l-5.6-3.1l5.7-3.7l5.6 3.1zM608.6 1434.0l-5.6-3.0l5.7-3.8l5.7 3.0zM574.6 1436.1l-5.6-3.0l5.7-3.8l5.6 3.0zM540.5 1438.3l-5.7-2.9l5.8-3.8l5.6 3.0zM529.2 1439.0l-5.6-2.9l5.7-3.7l5.6 3.0zM483.8 1442.1l-5.6-2.9l5.7-3.6l5.7 2.9zM568.9 1439.8l-5.7-3.0l5.8-3.7l5.6 3.0zM557.5 1440.5l-5.6-3.0l5.7-3.7l5.6 3.0zM534.8 1441.9l-5.6-2.9l5.7-3.6l5.7 2.9zM466.7 1446.4l-5.6-2.8l5.8-3.6l5.6 2.8zM608.5 1440.7l-5.6-3.0l5.7-3.7l5.6 3.0zM597.2 1441.4l-5.7-3.0l5.8-3.7l5.6 3.0zM585.8 1442.1l-5.6-3.0l5.7-3.7l5.6 3.0zM517.7 1446.3l-5.6-2.9l5.8-3.6l5.6 2.9zM472.4 1449.2l-5.7-2.8l5.8-3.6l5.6 2.8zM602.8 1444.4l-5.6-3.0l5.7-3.7l5.6 3.0zM512.0 1449.9l-5.6-2.9l5.7-3.6l5.6 2.9zM466.6 1452.7l-5.6-2.8l5.7-3.5l5.7 2.8zM585.7 1448.7l-5.6-3.0l5.7-3.6l5.6 2.9zM506.3 1453.4l-5.6-2.8l5.7-3.6l5.6 2.9zM494.9 1454.1l-5.6-2.8l5.7-3.6l5.7 2.9zM472.2 1455.5l-5.6-2.8l5.8-3.5l5.6 2.8zM500.5 1456.9l-5.6-2.8l5.8-3.5l5.6 2.8zM489.2 1457.6l-5.6-2.8l5.7-3.5l5.6 2.8zM477.8 1458.3l-5.6-2.8l5.8-3.5l5.6 2.8zM364.4 1465.0l-5.6-2.7l5.7-3.4l5.6 2.8zM483.5 1461.1l-5.7-2.8l5.8-3.5l5.6 2.8zM472.1 1461.8l-5.6-2.8l5.7-3.5l5.6 2.8zM460.8 1462.5l-5.6-2.8l5.7-3.5l5.6 2.8zM449.4 1463.2l-5.6-2.8l5.7-3.5l5.7 2.8zM387.0 1469.9l-5.7-2.8l5.8-3.4l5.6 2.8zM466.3 1471.5l-5.7-2.8l5.8-3.4l5.6 2.8zM432.2 1473.4l-5.6-2.7l5.7-3.4l5.7 2.7zM420.9 1474.1l-5.6-2.8l5.7-3.4l5.6 2.8zM426.5 1476.9l-5.6-2.8l5.7-3.4l5.6 2.7zM347.1 1481.3l-5.6-2.8l5.7-3.3l5.6 2.7zM432.1 1479.6l-5.6-2.7l5.7-3.5l5.6 2.8zM352.7 1484.0l-5.6-2.7l5.7-3.4l5.6 2.7zM460.4 1481.1l-5.6-2.8l5.7-3.4l5.6 2.8zM449.1 1481.7l-5.7-2.7l5.8-3.4l5.6 2.7zM443.3 1485.1l-5.6-2.7l5.7-3.4l5.7 2.7zM426.2 1489.1l-5.6-2.7l5.8-3.4l5.6 2.8zM403.6 1490.4l-5.7-2.8l5.8-3.3l5.6 2.7zM414.8 1495.9l-5.6-2.8l5.7-3.3l5.6 2.7zM403.4 1496.5l-5.6-2.8l5.8-3.3l5.6 2.7zM397.7 1499.8l-5.6-2.7l5.7-3.4l5.6 2.8zM392.0 1503.2l-5.6-2.8l5.7-3.3l5.6 2.7zM408.9 1505.3l-5.6-2.7l5.7-3.4l5.7 2.8zM386.2 1506.5l-5.6-2.7l5.8-3.4l5.6 2.8zM437.2 1506.9l-5.6-2.8l5.8-3.3l5.6 2.7zM380.5 1509.9l-5.6-2.8l5.7-3.3l5.6 2.7zM369.2 1510.5l-5.7-2.8l5.8-3.3l5.6 2.7zM380.4 1515.9l-5.6-2.7l5.7-3.3l5.6 2.7z"/>
<path fill="#beff50" stroke="#beff50" d="M406.9 1312.2l-5.6-2.3l5.8-4.2l5.6 2.2zM440.6 1326.2l-5.6-2.4l5.7-4.5l5.6 2.4zM428.9 1348.5l-5.6-2.5l5.7-4.2l5.6 2.4zM502.5 1346.7l-5.6-2.6l5.7-4.9l5.6 2.6zM468.4 1352.7l-5.6-2.6l5.8-4.5l5.6 2.6zM519.4 1347.3l-5.6-2.7l5.8-5.1l5.6 2.8zM462.7 1357.1l-5.6-2.6l5.7-4.4l5.6 2.6zM440.0 1360.4l-5.6-2.7l5.7-4.2l5.6 2.7zM502.3 1354.2l-5.6-2.7l5.8-4.8l5.6 2.8zM428.4 1375.2l-5.6-2.7l5.7-4.0l5.7 2.7zM547.5 1361.9l-5.6-3.1l5.7-5.0l5.6 3.1zM575.8 1361.8l-5.6-3.4l5.7-5.1l5.6 3.4zM564.3 1371.5l-5.6-3.3l5.7-4.8l5.7 3.3zM558.5 1383.9l-5.6-3.2l5.7-4.6l5.6 3.2zM575.4 1385.9l-5.6-3.3l5.8-4.6l5.6 3.4zM564.1 1387.1l-5.6-3.2l5.7-4.6l5.6 3.3zM615.1 1386.0l-5.6-3.5l5.7-4.6l5.6 3.5zM558.4 1391.4l-5.7-3.1l5.8-4.4l5.6 3.2zM552.6 1395.7l-5.6-3.1l5.7-4.3l5.7 3.1zM626.3 1392.9l-5.6-3.5l5.7-4.4l5.6 3.5zM529.8 1405.1l-5.6-3.0l5.7-4.1l5.6 3.0zM586.4 1407.4l-5.6-3.2l5.7-4.2l5.7 3.3zM563.7 1409.2l-5.6-3.1l5.7-4.1l5.7 3.1zM609.0 1413.0l-5.6-3.3l5.7-4.1l5.6 3.3zM597.6 1413.8l-5.6-3.2l5.8-4.1l5.6 3.2zM563.6 1416.3l-5.6-3.1l5.7-4.0l5.6 3.1zM529.6 1419.0l-5.6-3.0l5.7-3.9l5.6 3.0zM557.9 1420.2l-5.6-3.0l5.7-4.0l5.6 3.1zM523.8 1422.8l-5.6-3.0l5.8-3.8l5.6 3.0zM597.5 1420.9l-5.6-3.2l5.7-3.9l5.7 3.2zM540.8 1424.9l-5.6-3.0l5.7-3.8l5.6 3.0zM495.4 1428.3l-5.6-2.9l5.7-3.8l5.6 2.9zM484.1 1429.1l-5.7-2.8l5.8-3.8l5.6 2.9zM557.8 1427.1l-5.7-3.0l5.8-3.9l5.6 3.0zM501.0 1431.1l-5.6-2.8l5.7-3.8l5.7 2.9zM478.3 1432.8l-5.6-2.9l5.7-3.6l5.7 2.8zM631.4 1425.8l-5.6-3.2l5.8-3.9l5.6 3.2zM557.6 1433.8l-5.6-2.9l5.8-3.8l5.6 3.0zM546.3 1434.6l-5.6-3.0l5.7-3.7l5.6 3.0zM421.5 1443.0l-5.6-2.7l5.7-3.5l5.6 2.7zM506.5 1440.5l-5.6-2.8l5.7-3.7l5.6 2.9zM381.7 1448.7l-5.6-2.8l5.7-3.4l5.6 2.7zM512.1 1443.4l-5.6-2.9l5.7-3.6l5.7 2.9zM619.8 1440.1l-5.6-3.1l5.8-3.7l5.6 3.1zM506.4 1447.0l-5.6-2.8l5.7-3.7l5.6 2.9zM580.1 1445.7l-5.6-3.0l5.7-3.6l5.6 3.0zM568.7 1446.4l-5.6-3.0l5.8-3.6l5.6 2.9zM557.4 1447.1l-5.6-3.0l5.7-3.6l5.6 2.9zM489.3 1451.3l-5.6-2.8l5.7-3.6l5.6 2.8zM432.5 1461.1l-5.7-2.8l5.8-3.5l5.6 2.8zM443.7 1466.6l-5.6-2.8l5.7-3.4l5.6 2.8zM330.2 1473.1l-5.6-2.8l5.7-3.3l5.7 2.7zM449.3 1469.4l-5.6-2.8l5.7-3.4l5.6 2.7zM392.6 1472.6l-5.6-2.7l5.7-3.4l5.6 2.7zM420.8 1480.2l-5.7-2.7l5.8-3.4l5.6 2.8zM454.7 1484.5l-5.6-2.8l5.7-3.4l5.6 2.8zM420.6 1486.4l-5.6-2.8l5.8-3.4l5.6 2.8zM375.2 1488.9l-5.6-2.8l5.8-3.3l5.6 2.7zM448.9 1487.9l-5.6-2.8l5.8-3.4l5.6 2.8zM420.5 1492.5l-5.6-2.7l5.7-3.4l5.6 2.7zM380.7 1497.7l-5.6-2.7l5.8-3.4l5.6 2.8zM431.7 1498.0l-5.6-2.7l5.8-3.4l5.6 2.8zM409.0 1499.2l-5.6-2.7l5.8-3.4l5.6 2.8zM426.0 1501.4l-5.6-2.8l5.7-3.3l5.6 2.7zM403.3 1502.6l-5.6-2.8l5.7-3.3l5.6 2.7zM380.6 1503.8l-5.6-2.8l5.7-3.3l5.7 2.7zM335.2 1506.2l-5.6-2.7l5.8-3.4l5.6 2.8zM357.8 1511.1l-5.6-2.8l5.7-3.3l5.6 2.7zM346.5 1511.7l-5.7-2.8l5.8-3.3l5.6 2.7zM363.4 1513.8l-5.6-2.7l5.7-3.4l5.7 2.8zM548.9 1592.0l-5.6-2.7l5.7-3.3l5.6 2.7z"/>
<path fill="#c9ff43" stroke="#c9ff43" d="M457.3 1340.4l-5.6-2.5l5.7-4.5l5.7 2.5zM423.0 1359.2l-5.6-2.5l5.8-4.1l5.6 2.5zM496.7 1351.5l-5.6-2.7l5.8-4.7l5.6 2.6zM491.0 1356.1l-5.6-2.7l5.7-4.6l5.6 2.7zM508.0 1357.0l-5.7-2.8l5.8-4.7l5.6 2.7zM451.2 1365.7l-5.6-2.7l5.8-4.2l5.6 2.6zM570.2 1358.4l-5.6-3.4l5.7-5.1l5.6 3.4zM422.4 1392.1l-5.6-2.7l5.8-3.8l5.6 2.7zM620.7 1389.4l-5.6-3.4l5.7-4.6l5.6 3.6zM586.7 1392.5l-5.7-3.3l5.8-4.5l5.6 3.4zM569.6 1397.8l-5.6-3.2l5.7-4.3l5.6 3.2zM563.8 1402.0l-5.6-3.1l5.8-4.3l5.6 3.2zM597.8 1406.5l-5.6-3.2l5.7-4.2l5.6 3.2zM603.4 1409.7l-5.6-3.2l5.7-4.2l5.6 3.3zM580.7 1411.4l-5.6-3.1l5.7-4.1l5.6 3.2zM535.3 1415.1l-5.6-3.0l5.7-4.0l5.6 3.0zM489.9 1418.8l-5.6-2.9l5.7-3.8l5.6 2.9zM591.9 1417.7l-5.6-3.1l5.7-4.0l5.6 3.2zM580.6 1418.5l-5.6-3.1l5.7-4.0l5.6 3.2zM586.2 1421.6l-5.6-3.1l5.7-3.9l5.6 3.1zM580.4 1425.5l-5.6-3.1l5.8-3.9l5.6 3.1zM597.4 1427.9l-5.6-3.2l5.7-3.8l5.6 3.1zM415.9 1440.3l-5.6-2.8l5.7-3.5l5.6 2.8zM347.8 1444.6l-5.6-2.7l5.7-3.4l5.6 2.7zM376.1 1445.9l-5.6-2.7l5.7-3.4l5.6 2.7zM443.9 1454.1l-5.6-2.8l5.7-3.5l5.7 2.8zM358.8 1462.3l-5.6-2.7l5.7-3.4l5.6 2.7zM336.1 1463.6l-5.6-2.7l5.7-3.4l5.6 2.7zM426.7 1464.5l-5.6-2.8l5.7-3.4l5.7 2.8zM477.7 1464.6l-5.6-2.8l5.7-3.5l5.7 2.8zM455.0 1465.9l-5.6-2.7l5.8-3.5l5.6 2.8zM415.1 1477.5l-5.6-2.8l5.8-3.4l5.6 2.8zM443.4 1479.0l-5.6-2.8l5.8-3.4l5.6 2.8zM432.0 1485.8l-5.6-2.8l5.7-3.4l5.6 2.8zM369.5 1492.2l-5.6-2.7l5.7-3.4l5.6 2.8zM397.8 1493.7l-5.6-2.7l5.7-3.4l5.7 2.8zM352.2 1508.3l-5.6-2.7l5.7-3.3l5.6 2.7zM363.3 1519.9l-5.6-2.8l5.7-3.3l5.6 2.7zM554.4 1600.8l-5.6-2.8l5.7-3.3l5.6 2.8z"/>
<path fill="#d4ff35" stroke="#d4ff35" d="M417.9 1330.1l-5.6-2.5l5.7-4.2l5.7 2.4zM434.6 1344.2l-5.6-2.4l5.8-4.3l5.6 2.4zM479.7 1358.0l-5.7-2.6l5.8-4.6l5.6 2.6zM434.3 1364.5l-5.6-2.7l5.7-4.1l5.6 2.7zM439.9 1367.1l-5.6-2.6l5.7-4.1l5.6 2.6zM564.2 1379.3l-5.6-3.2l5.7-4.6l5.6 3.2zM399.6 1400.6l-5.6-2.7l5.8-3.7l5.6 2.7zM575.3 1393.5l-5.6-3.2l5.7-4.4l5.6 3.3zM541.3 1396.8l-5.6-3.0l5.7-4.3l5.6 3.1zM580.9 1396.8l-5.6-3.3l5.7-4.3l5.7 3.3zM535.5 1401.0l-5.6-3.0l5.8-4.2l5.6 3.0zM575.2 1401.0l-5.6-3.2l5.7-4.3l5.6 3.3zM569.5 1405.1l-5.7-3.1l5.8-4.2l5.6 3.2zM512.7 1410.1l-5.6-2.9l5.7-4.0l5.7 2.9zM575.1 1408.3l-5.6-3.2l5.7-4.1l5.6 3.2zM569.3 1412.3l-5.6-3.1l5.8-4.1l5.6 3.2zM586.3 1414.6l-5.6-3.2l5.7-4.0l5.6 3.2zM506.9 1420.7l-5.6-2.9l5.7-3.8l5.6 2.9zM603.3 1417.0l-5.7-3.2l5.8-4.1l5.6 3.3zM574.8 1422.4l-5.6-3.0l5.8-4.0l5.6 3.1zM603.1 1424.0l-5.6-3.1l5.8-3.9l5.6 3.1zM591.8 1424.7l-5.6-3.1l5.7-3.9l5.6 3.2zM376.0 1452.1l-5.6-2.7l5.7-3.5l5.6 2.8zM341.9 1454.1l-5.6-2.7l5.8-3.4l5.6 2.7zM449.7 1450.6l-5.7-2.8l5.8-3.5l5.6 2.8zM409.9 1456.2l-5.6-2.7l5.7-3.5l5.6 2.8zM404.2 1459.6l-5.7-2.7l5.8-3.4l5.6 2.7zM370.0 1467.8l-5.6-2.8l5.7-3.3l5.6 2.7zM307.2 1492.5l-5.6-2.7l5.7-3.3l5.6 2.7zM392.2 1491.0l-5.6-2.8l5.7-3.3l5.6 2.7zM386.5 1494.4l-5.6-2.8l5.7-3.4l5.6 2.8zM375.1 1495.0l-5.6-2.8l5.7-3.3l5.7 2.7zM392.1 1497.1l-5.6-2.7l5.7-3.4l5.6 2.7zM346.6 1505.6l-5.6-2.7l5.7-3.4l5.6 2.8zM531.7 1601.9l-5.6-2.7l5.7-3.3l5.6 2.7zM548.6 1604.1l-5.6-2.7l5.8-3.4l5.6 2.8z"/>
<path fill="#dfff28" stroke="#dfff28" d="M406.8 1318.7l-5.6-2.3l5.7-4.2l5.7 2.3zM446.1 1335.5l-5.6-2.4l5.7-4.5l5.6 2.4zM423.4 1339.3l-5.6-2.5l5.7-4.3l5.6 2.5zM417.4 1356.7l-5.6-2.6l5.8-4.0l5.6 2.5zM462.6 1364.1l-5.6-2.7l5.7-4.3l5.6 2.7zM513.6 1359.7l-5.6-2.7l5.7-4.8l5.6 2.7zM434.0 1377.8l-5.6-2.6l5.8-4.0l5.6 2.6zM541.4 1389.5l-5.6-3.1l5.7-4.4l5.6 3.2zM518.6 1399.1l-5.6-3.0l5.7-4.2l5.6 3.1zM439.2 1406.7l-5.6-2.7l5.7-3.8l5.6 2.8zM416.5 1408.7l-5.6-2.7l5.7-3.7l5.6 2.7zM592.1 1403.3l-5.7-3.3l5.8-4.2l5.6 3.3zM580.8 1404.2l-5.6-3.2l5.7-4.2l5.6 3.2zM495.6 1415.0l-5.6-2.9l5.8-3.9l5.6 2.9zM427.6 1420.5l-5.6-2.7l5.7-3.7l5.6 2.8zM433.1 1429.6l-5.6-2.7l5.7-3.6l5.6 2.7zM432.9 1436.0l-5.6-2.8l5.8-3.6l5.6 2.8zM364.9 1440.5l-5.6-2.8l5.7-3.4l5.6 2.7zM449.9 1438.0l-5.6-2.8l5.7-3.6l5.6 2.8zM438.6 1438.7l-5.7-2.7l5.8-3.6l5.6 2.8zM432.8 1442.3l-5.6-2.8l5.7-3.5l5.7 2.7zM364.7 1446.6l-5.6-2.7l5.8-3.4l5.6 2.7zM370.4 1449.4l-5.7-2.8l5.8-3.4l5.6 2.7zM381.6 1454.8l-5.6-2.7l5.7-3.4l5.6 2.7zM398.5 1456.9l-5.6-2.8l5.8-3.4l5.6 2.8zM438.2 1457.6l-5.6-2.8l5.7-3.5l5.6 2.8zM409.8 1462.4l-5.6-2.8l5.7-3.4l5.6 2.8zM358.7 1468.4l-5.7-2.7l5.8-3.4l5.6 2.7zM483.3 1467.4l-5.6-2.8l5.8-3.5l5.6 2.8zM386.8 1476.0l-5.6-2.7l5.8-3.4l5.6 2.7zM375.0 1501.0l-5.6-2.7l5.7-3.3l5.6 2.7zM341.0 1502.9l-5.6-2.8l5.7-3.3l5.6 2.7zM369.3 1504.4l-5.6-2.7l5.7-3.4l5.6 2.7zM543.1 1595.3l-5.6-2.7l5.8-3.3l5.6 2.7zM542.9 1607.4l-5.6-2.7l5.7-3.3l5.6 2.7z"/>
<path fill="#e9ff1b" stroke="#e9ff1b" d="M434.8 1337.5l-5.7-2.5l5.8-4.3l5.6 2.4zM428.5 1368.5l-5.6-2.7l5.8-4.0l5.6 2.7zM502.2 1361.6l-5.6-2.7l5.7-4.7l5.7 2.8zM445.5 1369.8l-5.6-2.7l5.7-4.1l5.6 2.7zM519.2 1362.4l-5.6-2.7l5.7-4.8l5.6 2.8zM451.1 1372.4l-5.6-2.6l5.7-4.1l5.6 2.6zM479.4 1372.1l-5.6-2.7l5.7-4.3l5.6 2.7zM468.1 1373.6l-5.6-2.7l5.7-4.2l5.6 2.7zM462.3 1377.8l-5.6-2.7l5.8-4.2l5.6 2.7zM490.6 1377.6l-5.6-2.7l5.8-4.4l5.6 2.8zM541.6 1374.4l-5.6-3.0l5.8-4.7l5.6 3.0zM535.9 1378.9l-5.6-3.0l5.7-4.5l5.6 3.0zM524.6 1380.4l-5.7-3.0l5.8-4.4l5.6 2.9zM439.4 1393.7l-5.6-2.7l5.7-3.9l5.6 2.7zM473.3 1396.8l-5.6-2.7l5.7-4.0l5.7 2.7zM467.6 1400.7l-5.6-2.7l5.7-3.9l5.6 2.7zM422.2 1405.0l-5.6-2.7l5.7-3.7l5.6 2.7zM410.9 1406.0l-5.7-2.7l5.8-3.7l5.6 2.7zM495.9 1401.3l-5.6-2.8l5.7-4.1l5.6 2.9zM405.1 1409.6l-5.6-2.7l5.7-3.6l5.7 2.7zM371.1 1412.2l-5.6-2.7l5.7-3.5l5.6 2.7zM444.8 1409.5l-5.6-2.8l5.7-3.7l5.6 2.7zM433.4 1410.5l-5.6-2.8l5.8-3.7l5.6 2.7zM518.5 1406.1l-5.7-2.9l5.8-4.1l5.6 3.0zM427.7 1414.1l-5.6-2.7l5.7-3.7l5.6 2.8zM371.0 1418.4l-5.6-2.7l5.7-3.5l5.6 2.7zM490.0 1412.1l-5.6-2.9l5.8-3.9l5.6 2.9zM433.3 1416.9l-5.6-2.8l5.7-3.6l5.6 2.7zM365.2 1421.9l-5.6-2.7l5.8-3.5l5.6 2.7zM393.5 1423.1l-5.6-2.8l5.8-3.5l5.6 2.7zM592.0 1410.6l-5.6-3.2l5.8-4.1l5.6 3.2zM575.0 1415.4l-5.7-3.1l5.8-4.0l5.6 3.1zM461.5 1424.3l-5.6-2.8l5.7-3.7l5.6 2.8zM404.8 1428.5l-5.7-2.7l5.8-3.6l5.6 2.8zM467.1 1427.1l-5.6-2.8l5.7-3.7l5.6 2.8zM444.4 1428.8l-5.6-2.8l5.7-3.6l5.6 2.8zM461.4 1430.8l-5.6-2.8l5.7-3.7l5.6 2.8zM404.6 1434.8l-5.6-2.7l5.8-3.6l5.6 2.8zM376.2 1439.8l-5.6-2.8l5.7-3.4l5.6 2.7zM472.6 1436.4l-5.6-2.8l5.7-3.7l5.6 2.9zM404.5 1441.0l-5.6-2.7l5.7-3.5l5.7 2.7zM466.9 1440.0l-5.7-2.8l5.8-3.6l5.6 2.8zM455.5 1440.8l-5.6-2.8l5.7-3.6l5.6 2.8zM444.2 1441.5l-5.6-2.8l5.7-3.5l5.6 2.8zM353.4 1447.3l-5.6-2.7l5.7-3.4l5.6 2.7zM427.1 1445.8l-5.6-2.8l5.7-3.5l5.6 2.8zM404.4 1447.2l-5.6-2.7l5.7-3.5l5.6 2.8zM455.4 1447.1l-5.6-2.8l5.7-3.5l5.6 2.8zM432.7 1448.6l-5.6-2.8l5.7-3.5l5.6 2.8zM421.4 1449.3l-5.7-2.8l5.8-3.5l5.6 2.8zM410.0 1450.0l-5.6-2.8l5.7-3.4l5.6 2.7zM398.7 1450.7l-5.6-2.7l5.7-3.5l5.6 2.7zM387.3 1451.4l-5.6-2.7l5.7-3.5l5.7 2.8zM415.6 1452.8l-5.6-2.8l5.7-3.5l5.7 2.8zM404.3 1453.5l-5.6-2.8l5.7-3.5l5.6 2.8zM392.9 1454.1l-5.6-2.7l5.8-3.4l5.6 2.7zM364.5 1458.9l-5.6-2.7l5.7-3.4l5.6 2.7zM392.7 1466.5l-5.6-2.8l5.7-3.4l5.6 2.8zM381.3 1467.1l-5.6-2.7l5.8-3.4l5.6 2.7zM398.3 1469.2l-5.6-2.7l5.7-3.4l5.6 2.7zM352.9 1471.8l-5.6-2.7l5.7-3.4l5.7 2.7zM341.6 1472.4l-5.6-2.7l5.7-3.4l5.6 2.8zM415.3 1471.3l-5.7-2.7l5.8-3.4l5.6 2.7zM341.5 1478.5l-5.7-2.7l5.8-3.4l5.6 2.8zM392.4 1478.8l-5.6-2.8l5.8-3.4l5.6 2.8zM409.4 1480.9l-5.6-2.8l5.7-3.4l5.6 2.8zM364.0 1483.4l-5.6-2.8l5.7-3.3l5.7 2.7zM381.0 1485.5l-5.6-2.7l5.7-3.4l5.6 2.7zM369.6 1486.1l-5.6-2.7l5.8-3.4l5.6 2.8zM358.3 1486.7l-5.6-2.7l5.7-3.4l5.6 2.8zM397.9 1487.6l-5.6-2.7l5.8-3.4l5.6 2.8zM363.9 1489.5l-5.6-2.8l5.7-3.3l5.6 2.7zM352.6 1490.1l-5.7-2.7l5.8-3.4l5.6 2.7zM363.8 1495.6l-5.6-2.8l5.7-3.3l5.6 2.7zM352.4 1496.2l-5.6-2.8l5.8-3.3l5.6 2.7zM363.5 1507.7l-5.6-2.7l5.8-3.3l5.6 2.7zM548.8 1598.0l-5.7-2.7l5.8-3.3l5.6 2.7zM537.3 1604.7l-5.6-2.8l5.7-3.3l5.6 2.8z"/>
<path fill="#f4ff0d" stroke="#f4ff0d" d="M401.2 1316.4l-5.6-2.3l5.7-4.2l5.6 2.3zM412.4 1321.0l-5.6-2.3l5.8-4.2l5.6 2.2zM429.3 1328.2l-5.6-2.4l5.7-4.4l5.6 2.4zM423.5 1332.5l-5.6-2.4l5.8-4.3l5.6 2.4zM429.1 1335.0l-5.6-2.5l5.8-4.3l5.6 2.5zM451.7 1337.9l-5.6-2.4l5.7-4.5l5.6 2.4zM429.0 1341.8l-5.6-2.5l5.7-4.3l5.7 2.5zM446.0 1342.4l-5.6-2.5l5.7-4.4l5.6 2.4zM473.9 1362.4l-5.6-2.6l5.7-4.4l5.7 2.6zM456.8 1368.3l-5.6-2.6l5.8-4.3l5.6 2.7zM507.8 1364.3l-5.6-2.7l5.8-4.6l5.6 2.7zM473.8 1369.4l-5.6-2.7l5.7-4.3l5.6 2.7zM524.8 1365.4l-5.6-3.0l5.7-4.7l5.6 2.9zM502.1 1368.9l-5.6-2.8l5.7-4.5l5.6 2.7zM490.8 1370.5l-5.7-2.7l5.8-4.4l5.6 2.7zM445.4 1376.5l-5.6-2.7l5.7-4.0l5.6 2.6zM507.7 1371.6l-5.6-2.7l5.7-4.6l5.7 2.8zM451.0 1379.2l-5.6-2.7l5.7-4.1l5.6 2.7zM439.6 1380.5l-5.6-2.7l5.8-4.0l5.6 2.7zM524.7 1373.0l-5.6-3.0l5.7-4.6l5.6 3.0zM502.0 1376.0l-5.6-2.7l5.7-4.4l5.6 2.7zM433.9 1384.4l-5.6-2.7l5.7-3.9l5.6 2.7zM507.6 1378.9l-5.6-2.9l5.7-4.4l5.6 2.9zM484.9 1381.8l-5.6-2.7l5.7-4.2l5.6 2.7zM462.2 1384.6l-5.6-2.7l5.7-4.1l5.6 2.7zM450.9 1385.9l-5.6-2.7l5.7-4.0l5.6 2.7zM439.5 1387.1l-5.6-2.7l5.7-3.9l5.7 2.7zM428.2 1388.3l-5.6-2.7l5.7-3.9l5.6 2.7zM547.2 1377.5l-5.6-3.1l5.8-4.7l5.6 3.2zM490.5 1384.6l-5.6-2.8l5.7-4.2l5.7 2.7zM445.1 1389.8l-5.6-2.7l5.8-3.9l5.6 2.7zM541.5 1382.0l-5.6-3.1l5.7-4.5l5.6 3.1zM496.1 1387.4l-5.6-2.8l5.8-4.3l5.6 2.9zM473.4 1390.1l-5.6-2.8l5.8-4.0l5.6 2.7zM450.7 1392.5l-5.6-2.7l5.8-3.9l5.6 2.7zM428.1 1394.8l-5.7-2.7l5.8-3.8l5.6 2.7zM547.1 1385.2l-5.6-3.2l5.7-4.5l5.7 3.2zM535.8 1386.4l-5.6-3.0l5.7-4.5l5.6 3.1zM490.4 1391.6l-5.6-2.9l5.7-4.1l5.6 2.8zM456.4 1395.3l-5.7-2.8l5.8-3.9l5.6 2.7zM422.3 1398.6l-5.6-2.7l5.7-3.8l5.7 2.7zM496.0 1394.4l-5.6-2.8l5.7-4.2l5.6 2.9zM416.6 1402.3l-5.6-2.7l5.7-3.7l5.6 2.7zM393.9 1404.2l-5.6-2.7l5.7-3.6l5.6 2.7zM382.6 1405.1l-5.7-2.7l5.8-3.6l5.6 2.7zM547.0 1392.6l-5.6-3.1l5.7-4.3l5.6 3.1zM501.6 1397.3l-5.6-2.9l5.7-4.1l5.7 2.9zM399.5 1406.9l-5.6-2.7l5.7-3.6l5.6 2.7zM529.9 1398.0l-5.6-3.0l5.7-4.3l5.7 3.1zM484.5 1402.5l-5.6-2.9l5.8-4.0l5.6 2.9zM450.5 1405.7l-5.6-2.7l5.7-3.9l5.6 2.8zM512.8 1403.2l-5.6-3.0l5.8-4.1l5.6 3.0zM490.2 1405.3l-5.7-2.8l5.8-4.0l5.6 2.8zM376.7 1414.9l-5.6-2.7l5.7-3.5l5.6 2.7zM484.4 1409.2l-5.6-2.8l5.7-3.9l5.7 2.8zM473.1 1410.2l-5.6-2.8l5.7-3.8l5.6 2.8zM439.0 1413.2l-5.6-2.7l5.8-3.8l5.6 2.8zM416.3 1415.1l-5.6-2.8l5.8-3.6l5.6 2.7zM393.7 1416.8l-5.7-2.7l5.8-3.6l5.6 2.7zM382.3 1417.6l-5.6-2.7l5.7-3.5l5.6 2.7zM467.3 1414.0l-5.6-2.8l5.8-3.8l5.6 2.8zM456.0 1415.0l-5.6-2.8l5.7-3.8l5.6 2.8zM422.0 1417.8l-5.7-2.7l5.8-3.7l5.6 2.7zM410.6 1418.7l-5.6-2.8l5.7-3.6l5.6 2.8zM484.3 1415.9l-5.6-2.8l5.7-3.9l5.6 2.9zM461.6 1417.8l-5.6-2.8l5.7-3.8l5.6 2.8zM450.3 1418.7l-5.6-2.8l5.7-3.7l5.6 2.8zM438.9 1419.6l-5.6-2.7l5.7-3.7l5.7 2.7zM467.2 1420.6l-5.6-2.8l5.7-3.8l5.7 2.9zM444.5 1422.4l-5.6-2.8l5.8-3.7l5.6 2.8zM433.2 1423.3l-5.6-2.8l5.7-3.6l5.6 2.7zM387.8 1426.6l-5.6-2.7l5.7-3.6l5.6 2.8zM376.5 1427.4l-5.7-2.8l5.8-3.5l5.6 2.8zM484.2 1422.5l-5.6-2.8l5.7-3.8l5.6 2.9zM450.1 1425.2l-5.6-2.8l5.8-3.7l5.6 2.8zM438.8 1426.0l-5.6-2.7l5.7-3.7l5.6 2.8zM427.5 1426.9l-5.7-2.8l5.8-3.6l5.6 2.8zM478.4 1426.3l-5.6-2.9l5.8-3.7l5.6 2.8zM455.8 1428.0l-5.7-2.8l5.8-3.7l5.6 2.8zM387.7 1432.8l-5.6-2.7l5.7-3.5l5.6 2.7zM365.0 1434.3l-5.6-2.7l5.7-3.5l5.6 2.7zM472.7 1429.9l-5.6-2.8l5.7-3.7l5.6 2.9zM427.3 1433.2l-5.6-2.8l5.8-3.5l5.6 2.7zM393.3 1435.6l-5.6-2.8l5.7-3.5l5.6 2.8zM370.6 1437.0l-5.6-2.7l5.7-3.5l5.6 2.8zM467.0 1433.6l-5.6-2.8l5.7-3.7l5.6 2.8zM421.6 1436.8l-5.6-2.8l5.7-3.6l5.6 2.8zM387.6 1439.0l-5.7-2.7l5.8-3.5l5.6 2.8zM353.5 1441.2l-5.6-2.7l5.7-3.5l5.7 2.7zM393.2 1441.8l-5.6-2.8l5.7-3.4l5.6 2.7zM359.1 1443.9l-5.6-2.7l5.8-3.5l5.6 2.8zM410.1 1443.8l-5.6-2.8l5.8-3.5l5.6 2.8zM398.8 1444.5l-5.6-2.7l5.7-3.5l5.6 2.7zM387.4 1445.2l-5.6-2.7l5.8-3.5l5.6 2.8zM461.1 1443.6l-5.6-2.8l5.7-3.6l5.7 2.8zM449.8 1444.3l-5.6-2.8l5.7-3.5l5.6 2.8zM438.4 1445.1l-5.6-2.8l5.8-3.6l5.6 2.8zM415.7 1446.5l-5.6-2.7l5.8-3.5l5.6 2.7zM359.0 1450.1l-5.6-2.8l5.7-3.4l5.6 2.7zM444.0 1447.8l-5.6-2.7l5.8-3.6l5.6 2.8zM438.3 1451.3l-5.6-2.7l5.7-3.5l5.6 2.7zM370.2 1455.5l-5.6-2.7l5.8-3.4l5.6 2.7zM358.9 1456.2l-5.6-2.7l5.7-3.4l5.6 2.7zM432.6 1454.8l-5.6-2.8l5.7-3.4l5.6 2.7zM387.2 1457.6l-5.6-2.8l5.7-3.4l5.6 2.7zM375.9 1458.2l-5.7-2.7l5.8-3.4l5.6 2.7zM415.5 1459.0l-5.6-2.8l5.7-3.4l5.6 2.7zM392.8 1460.3l-5.6-2.7l5.7-3.5l5.6 2.8zM381.5 1461.0l-5.6-2.8l5.7-3.4l5.6 2.8zM370.1 1461.7l-5.6-2.8l5.7-3.4l5.7 2.7zM398.4 1463.1l-5.6-2.8l5.7-3.4l5.7 2.7zM353.0 1465.7l-5.6-2.7l5.8-3.4l5.6 2.7zM341.7 1466.3l-5.6-2.7l5.7-3.4l5.6 2.8zM404.0 1465.8l-5.6-2.7l5.8-3.5l5.6 2.8zM336.0 1469.7l-5.7-2.7l5.8-3.4l5.6 2.7zM421.0 1467.9l-5.6-2.7l5.7-3.5l5.6 2.8zM375.6 1470.5l-5.6-2.7l5.7-3.4l5.6 2.7zM403.9 1472.0l-5.6-2.8l5.7-3.4l5.6 2.8zM381.2 1473.3l-5.6-2.8l5.7-3.4l5.7 2.8zM369.9 1473.9l-5.6-2.7l5.7-3.4l5.6 2.7zM358.5 1474.5l-5.6-2.7l5.8-3.4l5.6 2.8zM409.5 1474.7l-5.6-2.7l5.7-3.4l5.7 2.7zM375.5 1476.6l-5.6-2.7l5.7-3.4l5.6 2.8zM352.8 1477.9l-5.6-2.7l5.7-3.4l5.6 2.7zM358.4 1480.6l-5.6-2.7l5.7-3.4l5.6 2.8zM398.1 1481.5l-5.7-2.7l5.8-3.4l5.6 2.7zM403.7 1484.3l-5.6-2.8l5.7-3.4l5.6 2.8zM380.9 1491.6l-5.7-2.7l5.8-3.4l5.6 2.7zM358.2 1492.8l-5.6-2.7l5.7-3.4l5.6 2.8zM369.4 1498.3l-5.6-2.7l5.7-3.4l5.6 2.8zM358.0 1498.9l-5.6-2.7l5.8-3.4l5.6 2.8zM346.7 1499.5l-5.6-2.7l5.7-3.4l5.6 2.8zM363.7 1501.7l-5.7-2.8l5.8-3.3l5.6 2.7zM329.6 1503.5l-5.6-2.8l5.7-3.3l5.7 2.7zM554.5 1594.7l-5.6-2.7l5.7-3.3l5.6 2.7zM537.4 1598.6l-5.6-2.7l5.7-3.3l5.6 2.7zM543.0 1601.4l-5.6-2.8l5.7-3.3l5.7 2.7z"/>
<path fill="#ffff00" stroke="#ffff00" d="M418.0 1323.4l-5.6-2.4l5.8-4.3l5.6 2.3zM423.7 1325.8l-5.7-2.4l5.8-4.4l5.6 2.4zM496.6 1358.9l-5.6-2.8l5.7-4.6l5.6 2.7zM485.3 1360.7l-5.6-2.7l5.7-4.6l5.6 2.7zM490.9 1363.4l-5.6-2.7l5.7-4.6l5.6 2.8zM479.5 1365.1l-5.6-2.7l5.8-4.4l5.6 2.7zM468.2 1366.7l-5.6-2.6l5.7-4.3l5.6 2.6zM496.5 1366.1l-5.6-2.7l5.7-4.5l5.6 2.7zM485.1 1367.8l-5.6-2.7l5.8-4.4l5.6 2.7zM462.5 1370.9l-5.7-2.6l5.8-4.2l5.6 2.6zM439.8 1373.8l-5.6-2.6l5.7-4.1l5.6 2.7zM456.7 1375.1l-5.6-2.7l5.7-4.1l5.7 2.6zM530.4 1368.4l-5.6-3.0l5.7-4.8l5.6 3.1zM485.0 1374.9l-5.6-2.8l5.7-4.3l5.7 2.7zM513.3 1374.5l-5.6-2.9l5.8-4.5l5.6 2.9zM467.9 1380.5l-5.6-2.7l5.8-4.2l5.6 2.8zM456.6 1381.9l-5.6-2.7l5.7-4.1l5.6 2.7zM518.9 1377.4l-5.6-2.9l5.8-4.5l5.6 3.0zM473.6 1383.3l-5.7-2.8l5.8-4.1l5.6 2.7zM513.2 1381.8l-5.6-2.9l5.7-4.4l5.6 2.9zM479.2 1386.0l-5.6-2.7l5.7-4.2l5.6 2.7zM433.8 1391.0l-5.6-2.7l5.7-3.9l5.6 2.7zM518.8 1384.7l-5.6-2.9l5.7-4.4l5.7 3.0zM507.5 1386.1l-5.6-2.9l5.7-4.3l5.6 2.9zM484.8 1388.7l-5.6-2.7l5.7-4.2l5.6 2.8zM462.1 1391.3l-5.6-2.7l5.7-4.0l5.6 2.7zM501.7 1390.3l-5.6-2.9l5.8-4.2l5.6 2.9zM445.0 1396.4l-5.6-2.7l5.7-3.9l5.6 2.7zM433.7 1397.5l-5.6-2.7l5.7-3.8l5.6 2.7zM530.0 1390.7l-5.6-3.0l5.8-4.3l5.6 3.0zM518.7 1391.9l-5.6-2.9l5.7-4.3l5.6 3.0zM507.4 1393.2l-5.7-2.9l5.8-4.2l5.6 2.9zM462.0 1398.0l-5.6-2.7l5.7-4.0l5.6 2.8zM450.6 1399.1l-5.6-2.7l5.7-3.9l5.7 2.8zM405.2 1403.3l-5.6-2.7l5.8-3.7l5.6 2.7zM524.3 1395.0l-5.6-3.1l5.7-4.2l5.6 3.0zM490.3 1398.5l-5.6-2.9l5.7-4.0l5.6 2.8zM478.9 1399.6l-5.6-2.8l5.8-4.0l5.6 2.8zM444.9 1403.0l-5.6-2.8l5.7-3.8l5.6 2.7zM433.5 1404.0l-5.7-2.7l5.8-3.8l5.6 2.7zM388.2 1407.8l-5.6-2.7l5.7-3.6l5.6 2.7zM507.2 1400.2l-5.6-2.9l5.8-4.1l5.6 2.9zM427.8 1407.7l-5.6-2.7l5.7-3.7l5.7 2.7zM393.8 1410.5l-5.6-2.7l5.7-3.6l5.6 2.7zM382.4 1411.4l-5.6-2.7l5.8-3.6l5.6 2.7zM501.5 1404.2l-5.6-2.9l5.7-4.0l5.6 2.9zM478.8 1406.4l-5.6-2.8l5.7-4.0l5.6 2.9zM467.5 1407.4l-5.6-2.8l5.7-3.9l5.6 2.9zM456.1 1408.4l-5.6-2.7l5.7-3.8l5.7 2.7zM410.7 1412.3l-5.6-2.7l5.8-3.6l5.6 2.7zM399.4 1413.2l-5.6-2.7l5.7-3.6l5.6 2.7zM388.0 1414.1l-5.6-2.7l5.8-3.6l5.6 2.7zM507.1 1407.2l-5.6-3.0l5.7-4.0l5.6 3.0zM450.4 1412.2l-5.6-2.7l5.7-3.8l5.6 2.7zM376.6 1421.1l-5.6-2.7l5.7-3.5l5.6 2.7zM473.0 1416.9l-5.7-2.9l5.8-3.8l5.6 2.9zM416.2 1421.4l-5.6-2.7l5.7-3.6l5.7 2.7zM404.9 1422.2l-5.6-2.7l5.7-3.6l5.6 2.8zM382.2 1423.9l-5.6-2.8l5.7-3.5l5.6 2.7zM455.9 1421.5l-5.6-2.8l5.7-3.7l5.6 2.8zM421.8 1424.1l-5.6-2.7l5.8-3.6l5.6 2.7zM365.1 1428.1l-5.6-2.7l5.7-3.5l5.6 2.7zM359.4 1431.6l-5.6-2.7l5.7-3.5l5.6 2.7zM421.7 1430.4l-5.6-2.7l5.7-3.6l5.7 2.8zM376.3 1433.6l-5.6-2.8l5.8-3.4l5.6 2.7zM450.0 1431.6l-5.6-2.8l5.7-3.6l5.7 2.8zM416.0 1434.0l-5.6-2.7l5.7-3.6l5.6 2.7zM381.9 1436.3l-5.6-2.7l5.8-3.5l5.6 2.7zM455.6 1434.4l-5.6-2.8l5.8-3.6l5.6 2.8zM410.3 1437.5l-5.7-2.7l5.8-3.5l5.6 2.7zM398.9 1438.3l-5.6-2.7l5.7-3.5l5.6 2.7zM427.2 1439.5l-5.6-2.7l5.7-3.6l5.6 2.8zM381.8 1442.5l-5.6-2.7l5.7-3.5l5.7 2.7zM364.6 1452.8l-5.6-2.7l5.7-3.5l5.7 2.8zM353.3 1453.5l-5.6-2.8l5.7-3.4l5.6 2.8zM427.0 1452.0l-5.6-2.7l5.7-3.5l5.6 2.8zM347.5 1456.8l-5.6-2.7l5.8-3.4l5.6 2.8zM421.2 1455.5l-5.6-2.7l5.8-3.5l5.6 2.7zM353.2 1459.6l-5.7-2.8l5.8-3.3l5.6 2.7zM341.8 1460.2l-5.6-2.7l5.7-3.4l5.6 2.7zM426.8 1458.3l-5.6-2.8l5.8-3.5l5.6 2.8zM347.4 1463.0l-5.6-2.8l5.7-3.4l5.7 2.8zM421.1 1461.7l-5.6-2.7l5.7-3.5l5.6 2.8zM387.1 1463.7l-5.6-2.7l5.7-3.4l5.6 2.7zM375.7 1464.4l-5.6-2.7l5.8-3.5l5.6 2.8zM415.4 1465.2l-5.6-2.8l5.7-3.4l5.6 2.7zM347.3 1469.1l-5.6-2.8l5.7-3.3l5.6 2.7zM409.6 1468.6l-5.6-2.8l5.8-3.4l5.6 2.8zM347.2 1475.2l-5.6-2.8l5.7-3.3l5.6 2.7zM398.2 1475.4l-5.6-2.8l5.7-3.4l5.6 2.8zM364.1 1477.3l-5.6-2.8l5.8-3.3l5.6 2.7zM403.8 1478.1l-5.6-2.7l5.7-3.4l5.6 2.7zM381.1 1479.4l-5.6-2.8l5.7-3.3l5.6 2.7zM375.4 1482.8l-5.6-2.8l5.7-3.4l5.6 2.8zM392.3 1484.9l-5.6-2.8l5.7-3.3l5.7 2.7zM386.6 1488.2l-5.6-2.7l5.7-3.4l5.6 2.8zM346.8 1493.4l-5.6-2.7l5.7-3.3l5.7 2.7zM352.3 1502.3l-5.6-2.8l5.7-3.3l5.6 2.7z"/>
<path fill="#fffc00" stroke="#fffc00" d="M440.5 1333.1l-5.6-2.4l5.7-4.5l5.6 2.4zM440.4 1339.9l-5.6-2.4l5.7-4.4l5.6 2.4zM434.2 1371.2l-5.7-2.7l5.8-4.0l5.6 2.6zM513.5 1367.1l-5.7-2.8l5.8-4.6l5.6 2.7zM519.1 1370.0l-5.6-2.9l5.7-4.7l5.6 3.0zM473.7 1376.4l-5.6-2.8l5.7-4.2l5.6 2.7zM536.0 1371.4l-5.6-3.0l5.7-4.7l5.7 3.0zM479.3 1379.1l-5.6-2.7l5.7-4.3l5.6 2.8zM445.3 1383.2l-5.7-2.7l5.8-4.0l5.6 2.7zM530.3 1375.9l-5.6-2.9l5.7-4.6l5.6 3.0zM496.3 1380.3l-5.7-2.7l5.8-4.3l5.6 2.7zM501.9 1383.2l-5.6-2.9l5.7-4.3l5.6 2.9zM467.8 1387.3l-5.6-2.7l5.7-4.1l5.7 2.8zM456.5 1388.6l-5.6-2.7l5.7-4.0l5.6 2.7zM513.1 1389.0l-5.6-2.9l5.7-4.3l5.6 2.9zM479.1 1392.8l-5.7-2.7l5.8-4.1l5.6 2.7zM467.7 1394.1l-5.6-2.8l5.7-4.0l5.6 2.8zM439.3 1400.2l-5.6-2.7l5.7-3.8l5.6 2.7zM427.9 1401.3l-5.6-2.7l5.8-3.8l5.6 2.7zM535.7 1393.8l-5.7-3.1l5.8-4.3l5.6 3.1zM513.0 1396.1l-5.6-2.9l5.7-4.2l5.6 2.9zM456.2 1401.9l-5.6-2.8l5.8-3.8l5.6 2.7zM376.8 1408.7l-5.6-2.7l5.7-3.6l5.7 2.7zM461.9 1404.6l-5.7-2.7l5.8-3.9l5.6 2.7zM422.1 1411.4l-5.6-2.7l5.7-3.7l5.6 2.7zM495.8 1408.2l-5.6-2.9l5.7-4.0l5.6 2.9zM461.7 1411.2l-5.6-2.8l5.8-3.8l5.6 2.8zM405.0 1415.9l-5.6-2.7l5.7-3.6l5.6 2.7zM501.4 1411.1l-5.6-2.9l5.7-4.0l5.6 3.0zM478.7 1413.1l-5.6-2.9l5.7-3.8l5.6 2.8zM444.7 1415.9l-5.7-2.7l5.8-3.7l5.6 2.7zM399.3 1419.5l-5.6-2.7l5.7-3.6l5.6 2.7zM387.9 1420.3l-5.6-2.7l5.7-3.5l5.7 2.7zM370.8 1424.6l-5.6-2.7l5.8-3.5l5.6 2.7zM410.5 1425.0l-5.6-2.8l5.7-3.5l5.6 2.7zM399.1 1425.8l-5.6-2.7l5.8-3.6l5.6 2.7zM472.8 1423.4l-5.6-2.8l5.8-3.7l5.6 2.8zM382.1 1430.1l-5.6-2.7l5.7-3.5l5.6 2.7zM370.7 1430.8l-5.6-2.7l5.7-3.5l5.7 2.8zM410.4 1431.3l-5.6-2.8l5.7-3.5l5.6 2.7zM399.0 1432.1l-5.6-2.8l5.7-3.5l5.7 2.7zM359.3 1437.7l-5.7-2.7l5.8-3.4l5.6 2.7zM461.2 1437.2l-5.6-2.8l5.8-3.6l5.6 2.8zM370.5 1443.2l-5.6-2.7l5.7-3.5l5.6 2.8zM393.1 1448.0l-5.7-2.8l5.8-3.4l5.6 2.7zM364.3 1471.2l-5.6-2.8l5.7-3.4l5.6 2.8zM369.8 1480.0l-5.7-2.7l5.8-3.4l5.6 2.7zM386.7 1482.1l-5.6-2.7l5.7-3.4l5.6 2.8zM341.1 1496.8l-5.6-2.8l5.7-3.3l5.6 2.7zM357.9 1505.0l-5.6-2.7l5.7-3.4l5.7 2.8z"/>
<path fill="#fffa00" stroke="#fffa00" d="M496.4 1373.3l-5.6-2.8l5.7-4.4l5.6 2.8zM530.2 1383.4l-5.6-3.0l5.7-4.5l5.6 3.0zM524.4 1387.7l-5.6-3.0l5.8-4.3l5.6 3.0zM484.7 1395.6l-5.6-2.8l5.7-4.1l5.6 2.9zM473.2 1403.6l-5.6-2.9l5.7-3.9l5.6 2.8zM478.6 1419.7l-5.6-2.8l5.7-3.8l5.6 2.8zM416.1 1427.7l-5.6-2.7l5.7-3.6l5.6 2.7zM393.4 1429.3l-5.6-2.7l5.7-3.5l5.6 2.7zM347.7 1450.7l-5.6-2.7l5.7-3.4l5.6 2.7z"/>
<path fill="#fff800" stroke="#fff800" d="M524.2 1402.1l-5.6-3.0l5.7-4.1l5.6 3.0zM335.8 1475.8l-5.6-2.7l5.8-3.4l5.6 2.7zM346.9 1487.4l-5.6-2.8l5.8-3.3l5.6 2.7z"/>
<path fill="#fff500" stroke="#fff500" d="M434.9 1330.7l-5.6-2.5l5.7-4.4l5.6 2.4zM335.4 1500.1l-5.7-2.7l5.8-3.4l5.6 2.8z"/>
<path fill="#fff000" stroke="#fff000" d="M324.5 1476.4l-5.6-2.7l5.7-3.4l5.6 2.8z"/>
<path fill="#ffe100" stroke="#ffe100" d="M341.3 1484.6l-5.6-2.7l5.8-3.4l5.6 2.8z"/>
<path fill="#ffdb00" stroke="#ffdb00" d="M330.1 1479.2l-5.6-2.8l5.7-3.3l5.6 2.7z"/>
<path fill="#ffce00" stroke="#ffce00" d="M341.2 1490.7l-5.6-2.7l5.7-3.4l5.6 2.8z"/>
<path fill="#ffc800" stroke="#ffc800" d="M335.7 1481.9l-5.6-2.7l5.7-3.4l5.7 2.7zM324.0 1500.7l-5.6-2.7l5.7-3.4l5.6 2.8z"/>
<path fill="#ff9b00" stroke="#ff9b00" d="M335.5 1494.0l-5.6-2.7l5.7-3.3l5.6 2.7z"/>
<path fill="#ff8200" stroke="#ff8200" d="M312.9 1489.2l-5.6-2.7l5.7-3.4l5.6 2.7z"/>
<path fill="#ff7100" stroke="#ff7100" d="M318.5 1491.9l-5.6-2.7l5.7-3.4l5.7 2.8zM329.7 1497.4l-5.6-2.8l5.8-3.3l5.6 2.7z"/>
<path fill="#ff6000" stroke="#ff6000" d="M335.6 1488.0l-5.6-2.8l5.7-3.3l5.6 2.7zM312.8 1495.3l-5.6-2.8l5.7-3.3l5.6 2.7zM318.4 1498.0l-5.6-2.7l5.7-3.4l5.6 2.7z"/>
<path fill="#ff5800" stroke="#ff5800" d="M324.4 1482.5l-5.6-2.7l5.7-3.4l5.6 2.8zM330.0 1485.2l-5.6-2.7l5.7-3.3l5.6 2.7zM324.3 1488.6l-5.7-2.8l5.8-3.3l5.6 2.7zM324.1 1494.6l-5.6-2.7l5.8-3.3l5.6 2.7z"/>
<path fill="#ff4f00" stroke="#ff4f00" d="M329.9 1491.3l-5.6-2.7l5.7-3.4l5.6 2.8z"/>
<path fill="#ff3e00" stroke="#ff3e00" d="M318.6 1485.8l-5.6-2.7l5.8-3.3l5.6 2.7z"/>
<path fill="#e30a00" stroke="#e30a00" d="M318.8 1479.8l-5.7-2.8l5.8-3.3l5.6 2.7z"/>
</g>
<pattern id="mesh" width="6.4" height="5.6" patternUnits="userSpaceOnUse" patternTransform="rotate(-8)"><path d="M0 0.3H6.4M0 3.1H6.4M-1 5.6L2.2 0M2.2 5.6L5.4 0M5.4 5.6L8.6 0M-1 0L2.2 5.6M2.2 0L5.4 5.6M5.4 0L8.6 5.6" stroke="#fff" stroke-opacity="0.22" stroke-width="0.6" fill="none"/></pattern>
<polygon points="374.5,1226.5 403.3,1206.7 436.7,1181.7 463.3,1166.7 490.0,1153.3 506.7,1144.0 536.7,1144.0 556.7,1131.7 580.0,1115.0 603.3,1101.7 630.0,1090.0 650.0,1085.5 667.7,1083.5 685.0,1085.5 700.0,1090.0 726.7,1103.3 746.7,1123.3 766.7,1150.0 786.7,1180.0 806.7,1210.0 826.7,1240.0 846.7,1266.7 866.7,1290.0 886.7,1310.0 906.7,1330.0 926.7,1350.0 955.7,1369.0 830.0,1445.0 760.0,1440.0 700.0,1400.0 640.0,1330.0 560.0,1300.0 480.0,1290.0 375.0,1260.0" fill="url(#mesh)"/>
</g>
<g clip-path="url(#surfclip)" stroke="#2a4a3a" stroke-opacity="0.42" stroke-width="1.1" stroke-dasharray="2 1.8" fill="none">
<polyline points="453.1,1563.7 455.2,1562.5 457.2,1561.3 459.3,1560.1 461.4,1558.9 463.4,1557.7 465.5,1556.5 467.5,1555.4 469.6,1554.2 471.7,1553.0 473.7,1551.8 475.8,1550.6 477.9,1549.4 479.9,1548.2 482.0,1547.0 484.1,1545.8 486.1,1544.6 488.2,1543.4 490.3,1542.2 492.3,1541.1 494.4,1539.9 496.4,1538.7 498.5,1537.5 500.6,1536.3 502.6,1535.1 504.7,1533.9 506.8,1532.7 508.8,1531.5 510.9,1530.3 513.0,1529.1 515.0,1527.9 517.1,1526.7 519.1,1525.6 521.2,1524.4 523.3,1523.2 525.3,1522.0 527.4,1520.8 529.5,1519.6 531.5,1518.4 533.6,1517.2 535.7,1516.0 537.7,1514.8 539.8,1513.6 541.9,1512.4 543.9,1511.3 546.0,1510.1 548.0,1508.9 550.1,1507.7 552.2,1506.5 554.2,1505.3 556.3,1504.1 558.4,1502.9 560.4,1501.7 562.5,1500.5 564.6,1499.3 566.6,1498.1 568.7,1496.9 570.7,1495.8 572.8,1494.6 574.9,1493.4 576.9,1492.2 579.0,1491.0 581.1,1489.8 583.1,1488.6 585.2,1487.4 587.3,1486.2 589.3,1485.0 591.4,1483.8 593.5,1482.6 595.5,1481.5 597.6,1480.3 599.6,1479.1 601.7,1477.9 603.8,1476.7 605.8,1475.5 607.9,1474.3 610.0,1473.1 612.0,1471.9 614.1,1470.7 616.2,1469.5 618.2,1468.3 620.3,1467.1 622.3,1466.0 624.4,1464.8 626.5,1463.6 628.5,1462.4 630.6,1461.2 632.7,1460.0 634.7,1458.8 636.8,1457.6 638.9,1456.4 640.9,1455.2 643.0,1454.0 645.1,1452.8 647.1,1451.7 649.2,1450.5 651.2,1449.3 653.3,1448.1 655.4,1446.9 657.4,1445.7 659.5,1444.5 661.6,1443.3 663.6,1442.1 665.7,1440.9 667.8,1439.7 669.8,1438.5 671.9,1437.3 673.9,1436.2 676.0,1435.0 678.1,1433.8 680.1,1432.6 682.2,1431.4 684.3,1430.2 686.3,1429.0 688.4,1427.8 690.5,1426.6 692.5,1425.4 694.6,1424.2 696.7,1423.0 698.7,1421.9 700.8,1420.7 702.8,1419.5 704.9,1418.3 707.0,1417.1 709.0,1415.9 711.1,1414.7 713.2,1413.5 715.2,1412.3 717.3,1411.1 719.4,1409.9 721.4,1408.7 723.5,1407.5"/>
<polyline points="363.3,1520.0 365.4,1518.8 367.4,1517.6 369.5,1516.4 371.6,1515.2 373.6,1514.0 375.7,1512.8 377.7,1511.7 379.8,1510.5 381.9,1509.3 383.9,1508.1 386.0,1506.9 388.1,1505.7 390.1,1504.5 392.2,1503.3 394.3,1502.1 396.3,1500.9 398.4,1499.7 400.5,1498.5 402.5,1497.4 404.6,1496.2 406.6,1495.0 408.7,1493.8 410.8,1492.6 412.8,1491.4 414.9,1490.2 417.0,1489.0 419.0,1487.8 421.1,1486.6 423.2,1485.4 425.2,1484.2 427.3,1483.0 429.3,1481.9 431.4,1480.7 433.5,1479.5 435.5,1478.3 437.6,1477.1 439.7,1475.9 441.7,1474.7 443.8,1473.5 445.9,1472.3 447.9,1471.1 450.0,1469.9 452.1,1468.7 454.1,1467.6 456.2,1466.4 458.2,1465.2 460.3,1464.0 462.4,1462.8 464.4,1461.6 466.5,1460.4 468.6,1459.2 470.6,1458.0 472.7,1456.8 474.8,1455.6 476.8,1454.4 478.9,1453.2 480.9,1452.1 483.0,1450.9 485.1,1449.7 487.1,1448.5 489.2,1447.3 491.3,1446.1 493.3,1444.9 495.4,1443.7 497.5,1442.5 499.5,1441.3 501.6,1440.1 503.7,1438.9 505.7,1437.8 507.8,1436.6 509.8,1435.4 511.9,1434.2 514.0,1433.0 516.0,1431.8 518.1,1430.6 520.2,1429.4 522.2,1428.2 524.3,1427.0 526.4,1425.8 528.4,1424.6 530.5,1423.4 532.5,1422.3 534.6,1421.1 536.7,1419.9 538.7,1418.7 540.8,1417.5 542.9,1416.3 544.9,1415.1 547.0,1413.9 549.1,1412.7 551.1,1411.5 553.2,1410.3 555.3,1409.1 557.3,1408.0 559.4,1406.8 561.4,1405.6"/>
<polyline points="273.5,1476.3 275.6,1475.1 277.6,1473.9 279.7,1472.7 281.8,1471.5 283.8,1470.3 285.9,1469.1 287.9,1468.0 290.0,1466.8 292.1,1465.6 294.1,1464.4 296.2,1463.2 298.3,1462.0 300.3,1460.8 302.4,1459.6 304.5,1458.4 306.5,1457.2 308.6,1456.0 310.7,1454.8 312.7,1453.7 314.8,1452.5 316.8,1451.3 318.9,1450.1 321.0,1448.9 323.0,1447.7 325.1,1446.5 327.2,1445.3 329.2,1444.1 331.3,1442.9 333.4,1441.7 335.4,1440.5 337.5,1439.3 339.5,1438.2 341.6,1437.0 343.7,1435.8 345.7,1434.6 347.8,1433.4 349.9,1432.2 351.9,1431.0 354.0,1429.8 356.1,1428.6 358.1,1427.4 360.2,1426.2 362.3,1425.0 364.3,1423.9 366.4,1422.7 368.4,1421.5 370.5,1420.3 372.6,1419.1 374.6,1417.9 376.7,1416.7 378.8,1415.5 380.8,1414.3 382.9,1413.1 385.0,1411.9 387.0,1410.7 389.1,1409.5 391.1,1408.4 393.2,1407.2 395.3,1406.0 397.3,1404.8 399.4,1403.6 401.5,1402.4 403.5,1401.2 405.6,1400.0 407.7,1398.8 409.7,1397.6 411.8,1396.4 413.9,1395.2 415.9,1394.1 418.0,1392.9 420.0,1391.7 422.1,1390.5 424.2,1389.3 426.2,1388.1 428.3,1386.9 430.4,1385.7 432.4,1384.5 434.5,1383.3 436.6,1382.1 438.6,1380.9 440.7,1379.7 442.7,1378.6 444.8,1377.4 446.9,1376.2 448.9,1375.0 451.0,1373.8 453.1,1372.6 455.1,1371.4 457.2,1370.2 459.3,1369.0"/>
<polyline points="183.7,1432.6 185.8,1431.4 187.8,1430.2 189.9,1429.0 192.0,1427.8 194.0,1426.6 196.1,1425.4 198.1,1424.3 200.2,1423.1 202.3,1421.9 204.3,1420.7 206.4,1419.5 208.5,1418.3 210.5,1417.1 212.6,1415.9 214.7,1414.7 216.7,1413.5 218.8,1412.3 220.9,1411.1 222.9,1410.0 225.0,1408.8 227.0,1407.6 229.1,1406.4 231.2,1405.2 233.2,1404.0 235.3,1402.8 237.4,1401.6 239.4,1400.4 241.5,1399.2 243.6,1398.0 245.6,1396.8 247.7,1395.6 249.7,1394.5 251.8,1393.3 253.9,1392.1 255.9,1390.9 258.0,1389.7 260.1,1388.5 262.1,1387.3 264.2,1386.1 266.3,1384.9 268.3,1383.7 270.4,1382.5 272.5,1381.3 274.5,1380.2 276.6,1379.0 278.6,1377.8 280.7,1376.6 282.8,1375.4 284.8,1374.2 286.9,1373.0 289.0,1371.8 291.0,1370.6 293.1,1369.4 295.2,1368.2 297.2,1367.0 299.3,1365.8 301.3,1364.7 303.4,1363.5 305.5,1362.3 307.5,1361.1 309.6,1359.9 311.7,1358.7 313.7,1357.5 315.8,1356.3 317.9,1355.1 319.9,1353.9 322.0,1352.7 324.1,1351.5 326.1,1350.4 328.2,1349.2 330.2,1348.0 332.3,1346.8 334.4,1345.6 336.4,1344.4 338.5,1343.2 340.6,1342.0 342.6,1340.8 344.7,1339.6 346.8,1338.4 348.8,1337.2 350.9,1336.0 352.9,1334.9 355.0,1333.7 357.1,1332.5 359.1,1331.3 361.2,1330.1 363.3,1328.9 365.3,1327.7 367.4,1326.5 369.5,1325.3 371.5,1324.1 373.6,1322.9 375.7,1321.7 377.7,1320.6 379.8,1319.4 381.8,1318.2 383.9,1317.0 386.0,1315.8 388.0,1314.6 390.1,1313.4 392.2,1312.2 394.2,1311.0 396.3,1309.8 398.4,1308.6"/>
<polyline points="680.5,1527.9 678.3,1526.8 676.0,1525.7 673.8,1524.7 671.5,1523.6 669.3,1522.5 667.0,1521.4 664.8,1520.3 662.5,1519.2 660.3,1518.1 658.0,1517.0 655.8,1515.9 653.6,1514.8 651.3,1513.7 649.1,1512.6 646.8,1511.5 644.6,1510.5 642.3,1509.4 640.1,1508.3 637.8,1507.2 635.6,1506.1 633.4,1505.0 631.1,1503.9 628.9,1502.8 626.6,1501.7 624.4,1500.6 622.1,1499.5 619.9,1498.4 617.6,1497.3 615.4,1496.3 613.1,1495.2 610.9,1494.1 608.7,1493.0 606.4,1491.9 604.2,1490.8 601.9,1489.7 599.7,1488.6 597.4,1487.5 595.2,1486.4 592.9,1485.3 590.7,1484.2 588.5,1483.1 586.2,1482.0 584.0,1481.0 581.7,1479.9 579.5,1478.8 577.2,1477.7 575.0,1476.6 572.7,1475.5 570.5,1474.4 568.2,1473.3 566.0,1472.2 563.8,1471.1 561.5,1470.0 559.3,1468.9 557.0,1467.8 554.8,1466.8 552.5,1465.7 550.3,1464.6 548.0,1463.5 545.8,1462.4 543.6,1461.3 541.3,1460.2 539.1,1459.1 536.8,1458.0 534.6,1456.9 532.3,1455.8 530.1,1454.7 527.8,1453.6 525.6,1452.6 523.4,1451.5 521.1,1450.4 518.9,1449.3 516.6,1448.2 514.4,1447.1 512.1,1446.0 509.9,1444.9 507.6,1443.8 505.4,1442.7 503.1,1441.6 500.9,1440.5 498.7,1439.4 496.4,1438.3 494.2,1437.3 491.9,1436.2 489.7,1435.1 487.4,1434.0 485.2,1432.9 482.9,1431.8 480.7,1430.7 478.4,1429.6 476.2,1428.5 474.0,1427.4 471.7,1426.3 469.5,1425.2 467.2,1424.1 465.0,1423.1 462.7,1422.0 460.5,1420.9 458.2,1419.8 456.0,1418.7 453.8,1417.6 451.5,1416.5 449.3,1415.4 447.0,1414.3 444.8,1413.2 442.5,1412.1 440.3,1411.0 438.0,1409.9 435.8,1408.9 433.5,1407.8 431.3,1406.7 429.1,1405.6 426.8,1404.5 424.6,1403.4 422.3,1402.3 420.1,1401.2 417.8,1400.1 415.6,1399.0 413.3,1397.9 411.1,1396.8 408.9,1395.7 406.6,1394.6 404.4,1393.6 402.1,1392.5 399.9,1391.4 397.6,1390.3 395.4,1389.2 393.1,1388.1 390.9,1387.0 388.6,1385.9 386.4,1384.8 384.2,1383.7 381.9,1382.6 379.7,1381.5 377.4,1380.4 375.2,1379.4 372.9,1378.3 370.7,1377.2 368.4,1376.1 366.2,1375.0 364.0,1373.9 361.7,1372.8 359.5,1371.7 357.2,1370.6 355.0,1369.5 352.7,1368.4 350.5,1367.3 348.2,1366.2 346.0,1365.2 343.8,1364.1 341.5,1363.0 339.3,1361.9 337.0,1360.8 334.8,1359.7 332.5,1358.6 330.3,1357.5 328.0,1356.4 325.8,1355.3 323.5,1354.2 321.3,1353.1 319.1,1352.0 316.8,1350.9 314.6,1349.9 312.3,1348.8 310.1,1347.7 307.8,1346.6 305.6,1345.5 303.3,1344.4 301.1,1343.3 298.9,1342.2 296.6,1341.1 294.4,1340.0 292.1,1338.9 289.9,1337.8 287.6,1336.7 285.4,1335.7 283.1,1334.6 280.9,1333.5 278.6,1332.4 276.4,1331.3 274.2,1330.2 271.9,1329.1 269.7,1328.0 267.4,1326.9 265.2,1325.8 262.9,1324.7 260.7,1323.6 258.4,1322.5 256.2,1321.5 253.9,1320.4 251.7,1319.3 249.5,1318.2 247.2,1317.1 245.0,1316.0 242.7,1314.9 240.5,1313.8 238.2,1312.7 236.0,1311.6 233.7,1310.5 231.5,1309.4"/>
<polyline points="822.8,1445.8 820.5,1444.7 818.3,1443.6 816.0,1442.5 813.8,1441.4 811.6,1440.3 809.3,1439.2 807.1,1438.1 804.8,1437.0 802.6,1435.9 800.3,1434.8 798.1,1433.7 795.8,1432.7 793.6,1431.6 791.3,1430.5 789.1,1429.4 786.9,1428.3 784.6,1427.2 782.4,1426.1 780.1,1425.0 777.9,1423.9 775.6,1422.8 773.4,1421.7 771.1,1420.6 768.9,1419.5 766.7,1418.5 764.4,1417.4 762.2,1416.3 759.9,1415.2 757.7,1414.1 755.4,1413.0 753.2,1411.9 750.9,1410.8 748.7,1409.7 746.4,1408.6 744.2,1407.5 742.0,1406.4"/>
<polyline points="411.9,1245.8 409.7,1244.7 407.5,1243.7 405.2,1242.6 403.0,1241.5 400.7,1240.4 398.5,1239.3 396.2,1238.2 394.0,1237.1 391.7,1236.0 389.5,1234.9 387.2,1233.8 385.0,1232.7 382.8,1231.6 380.5,1230.5 378.3,1229.4 376.0,1228.4 373.8,1227.3"/>
</g>
<line x1="93.9" y1="1388.9" x2="542.9" y2="1607.4" stroke="#000" stroke-width="2.3" stroke-linecap="square"/>
<line x1="542.9" y1="1607.4" x2="955.7" y2="1369.0" stroke="#000" stroke-width="2.3" stroke-linecap="square"/>
<line x1="93.9" y1="1388.9" x2="83.5" y2="1394.9" stroke="#000" stroke-width="2.0"/>
<text x="81.9" y="1411.1" font-size="20" text-anchor="end">1</text>
<line x1="183.7" y1="1432.6" x2="173.3" y2="1438.6" stroke="#000" stroke-width="2.0"/>
<text x="171.7" y="1454.8" font-size="20" text-anchor="end">0.8</text>
<line x1="273.5" y1="1476.3" x2="263.1" y2="1482.3" stroke="#000" stroke-width="2.0"/>
<text x="261.5" y="1498.5" font-size="20" text-anchor="end">0.6</text>
<line x1="363.3" y1="1520.0" x2="352.9" y2="1526.0" stroke="#000" stroke-width="2.0"/>
<text x="351.3" y="1542.2" font-size="20" text-anchor="end">0.4</text>
<line x1="453.1" y1="1563.7" x2="442.7" y2="1569.7" stroke="#000" stroke-width="2.0"/>
<text x="441.1" y="1585.9" font-size="20" text-anchor="end">0.2</text>
<line x1="542.9" y1="1607.4" x2="532.5" y2="1613.4" stroke="#000" stroke-width="2.0"/>
<text x="530.9" y="1629.6" font-size="20" text-anchor="end">0</text>
<line x1="542.9" y1="1607.4" x2="553.7" y2="1612.7" stroke="#000" stroke-width="2.0"/>
<text x="556.1" y="1627.8" font-size="20">90</text>
<line x1="680.5" y1="1527.9" x2="691.3" y2="1533.2" stroke="#000" stroke-width="2.0"/>
<text x="694.3" y="1547.3" font-size="20">60</text>
<line x1="822.8" y1="1445.8" x2="833.6" y2="1451.0" stroke="#000" stroke-width="2.0"/>
<text x="838.3" y="1465.8" font-size="20">30</text>
<line x1="955.7" y1="1369.0" x2="966.5" y2="1374.3" stroke="#000" stroke-width="2.0"/>
<text x="968.9" y="1389.4" font-size="20">0</text>
<line x1="93.9" y1="1388.9" x2="83.1" y2="1383.6" stroke="#000" stroke-width="2.0"/>
<text x="79.0" y="1387.6" font-size="20" text-anchor="end">0</text>
<line x1="93.9" y1="1295.8" x2="83.1" y2="1290.5" stroke="#000" stroke-width="2.0"/>
<text x="79.0" y="1299.2" font-size="20" text-anchor="end">0.5</text>
<line x1="93.9" y1="1202.7" x2="83.1" y2="1197.4" stroke="#000" stroke-width="2.0"/>
<text x="79.0" y="1202.6" font-size="20" text-anchor="end">1</text>
<text transform="translate(39.5 1411.0) rotate(-90.00)" font-size="20.7" font-weight="bold">normalized cell number</text>
<text transform="translate(9.0 1495.8) rotate(-30.01)" font-size="20.8">elongated cell</text>
<text transform="translate(400.5 1671.0) rotate(-30.01)" font-size="20.8">rounded cell</text>
<text transform="translate(172.0 1503.0) rotate(25.95)" font-size="21" font-weight="bold">anisotropy (<tspan font-family='"Liberation Serif", serif' font-weight='normal' font-size='27'>η</tspan><tspan dy="2">shape</tspan><tspan dy="-2">)</tspan></text>
<text transform="translate(731.5 1566.8) rotate(-28.60)" font-size="21" font-weight="bold"><tspan font-weight="normal">|</tspan><tspan dx="2"><tspan font-family='"Liberation Serif", serif' font-weight='normal' font-size='27'>θ</tspan></tspan><tspan dy="2">TCJ</tspan><tspan dy="-2"> - </tspan><tspan font-family='"Liberation Serif", serif' font-weight='normal' font-size='27'>θ</tspan><tspan dy="2">shape</tspan><tspan dy="-2" font-weight="normal"> | </tspan>(°)</text>
<text transform="translate(617.5 1588.0) rotate(25.95)" font-size="20.8">vertex &amp; shape</text>
<text transform="translate(605.3 1611.5) rotate(25.95)" font-size="20.8">orientation</text>
<text transform="translate(594.0 1634.5) rotate(25.95)" font-size="20.8">perpendicular</text>
<text transform="translate(940.5 1402.0) rotate(25.95)" font-size="20.8">vertex &amp; shape</text>
<text transform="translate(928.5 1425.5) rotate(25.95)" font-size="20.8">orientation</text>
<text transform="translate(917.0 1449.5) rotate(25.95)" font-size="20.8">aligned</text>
<defs><linearGradient id="cb" x1="0" y1="0" x2="0" y2="1"><stop offset="0.0" stop-color="#800000"/><stop offset="0.03" stop-color="#900000"/><stop offset="0.035" stop-color="#e00000"/><stop offset="0.1" stop-color="#ff1400"/><stop offset="0.23" stop-color="#ff6a00"/><stop offset="0.4" stop-color="#ffb400"/><stop offset="0.53" stop-color="#fff000"/><stop offset="0.66" stop-color="#ffff00"/><stop offset="0.74" stop-color="#c8ff38"/><stop offset="0.82" stop-color="#64ffa0"/><stop offset="0.885" stop-color="#00ffff"/><stop offset="0.93" stop-color="#00a8ff"/><stop offset="0.965" stop-color="#0040ff"/><stop offset="1.0" stop-color="#0000c8"/></linearGradient></defs>
<rect x="93.8" y="934.4" width="40.6" height="137" fill="url(#cb)"/>
<line x1="93.8" y1="965.9" x2="100" y2="965.9" stroke="#000" stroke-width="2"/>
<line x1="128.2" y1="965.9" x2="134.4" y2="965.9" stroke="#000" stroke-width="2"/>
<line x1="93.8" y1="1013.0" x2="100" y2="1013.0" stroke="#000" stroke-width="2"/>
<line x1="128.2" y1="1013.0" x2="134.4" y2="1013.0" stroke="#000" stroke-width="2"/>
<line x1="93.8" y1="1070.2" x2="100" y2="1070.2" stroke="#000" stroke-width="2"/>
<line x1="128.2" y1="1070.2" x2="134.4" y2="1070.2" stroke="#000" stroke-width="2"/>
<text x="141.2" y="971.0" font-size="20">400</text>
<text x="141.2" y="1018.5" font-size="20">200</text>
<text x="141.2" y="1075.0" font-size="20">0</text>
<rect x="94.3" y="1082.8" width="40.2" height="15" fill="#f3f3f3" stroke="#000" stroke-width="1"/>
<text x="141.2" y="1095.2" font-size="20.7">no cells</text>
<text x="94.3" y="919.3" font-size="20.75" font-weight="bold">prediction improvement (%)</text>
<text x="241.2" y="951.5" font-size="20.5"><tspan font-style="italic">n</tspan>=29388 cells</text>
</svg>
</body></html>
